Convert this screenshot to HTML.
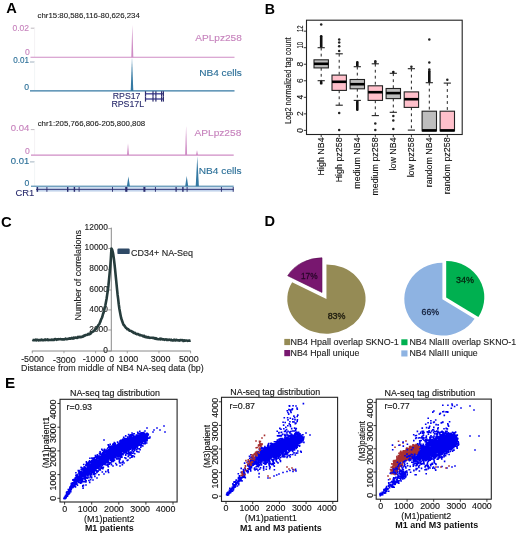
<!DOCTYPE html>
<html><head><meta charset="utf-8"><style>
html,body{margin:0;padding:0;background:#fff;overflow:hidden;}
svg{display:block;font-family:"Liberation Sans",sans-serif;filter:blur(0.35px);}
</style></head><body>
<svg width="520" height="535" viewBox="0 0 520 535">
<rect width="520" height="535" fill="#fff"/>
<text x="6.30" y="12.50" font-size="14.6" fill="#000" font-weight="bold">A</text>
<text x="37.60" y="18.30" font-size="7.9" fill="#222" stroke="#222" stroke-width="0.12" textLength="102.2" lengthAdjust="spacingAndGlyphs">chr15:80,586,116-80,626,234</text>
<text x="29.00" y="31.10" font-size="8.6" fill="#c783bd" stroke="#c783bd" stroke-width="0.12" text-anchor="end" textLength="16.6" lengthAdjust="spacingAndGlyphs">0.02</text>
<line x1="30.80" y1="28.20" x2="34.60" y2="28.20" stroke="#b0a8b0" stroke-width="0.8"/>
<line x1="34.60" y1="27.50" x2="34.60" y2="57.00" stroke="#f0eef0" stroke-width="0.8"/>
<text x="29.80" y="54.80" font-size="8.6" fill="#c783bd" stroke="#c783bd" stroke-width="0.12" text-anchor="end">0</text>
<line x1="30.50" y1="57.30" x2="234.50" y2="57.30" stroke="#cf8cc5" stroke-width="1.1"/>
<text x="29.00" y="63.10" font-size="8.6" fill="#2b6f98" stroke="#2b6f98" stroke-width="0.12" text-anchor="end" textLength="15.8" lengthAdjust="spacingAndGlyphs">0.01</text>
<line x1="30.00" y1="62.00" x2="34.60" y2="62.00" stroke="#8aa0b0" stroke-width="0.8"/>
<line x1="34.60" y1="62.00" x2="34.60" y2="90.00" stroke="#eef2f4" stroke-width="0.8"/>
<text x="29.00" y="89.80" font-size="8.6" fill="#2b6f98" stroke="#2b6f98" stroke-width="0.12" text-anchor="end">0</text>
<line x1="30.00" y1="90.90" x2="234.50" y2="90.90" stroke="#3479a3" stroke-width="1.2"/>
<path d="M131.30 57.30 L132.30 24.40 L133.30 57.30Z" fill="#cf8cc5"/>
<path d="M130.70 90.90 L132.00 57.60 L133.30 90.90Z" fill="#3479a3"/>
<text x="195.30" y="40.60" font-size="9.6" fill="#c783bd" stroke="#c783bd" stroke-width="0.12" textLength="46.5" lengthAdjust="spacingAndGlyphs">APLpz258</text>
<text x="199.20" y="76.20" font-size="9.6" fill="#2b6f98" stroke="#2b6f98" stroke-width="0.12" textLength="42.6" lengthAdjust="spacingAndGlyphs">NB4 cells</text>
<text x="112.80" y="99.10" font-size="8.7" fill="#2b2d6e" stroke="#2b2d6e" stroke-width="0.12" textLength="27.6" lengthAdjust="spacingAndGlyphs">RPS17</text>
<text x="111.40" y="106.60" font-size="8.7" fill="#2b2d6e" stroke="#2b2d6e" stroke-width="0.12" textLength="32.7" lengthAdjust="spacingAndGlyphs">RPS17L</text>
<line x1="145.20" y1="93.80" x2="163.70" y2="93.80" stroke="#4a4a9a" stroke-width="1.4"/>
<rect x="144.90" y="91.20" width="1.20" height="5.20" fill="#2e2e70"/>
<rect x="152.40" y="91.20" width="1.20" height="5.20" fill="#2e2e70"/>
<rect x="155.30" y="91.20" width="1.20" height="5.20" fill="#2e2e70"/>
<rect x="161.00" y="91.20" width="1.20" height="5.20" fill="#2e2e70"/>
<rect x="162.80" y="91.20" width="1.20" height="5.20" fill="#2e2e70"/>
<line x1="145.20" y1="99.00" x2="163.70" y2="99.00" stroke="#4a4a9a" stroke-width="1.4"/>
<rect x="144.90" y="96.40" width="1.20" height="5.20" fill="#2e2e70"/>
<rect x="152.40" y="96.40" width="1.20" height="5.20" fill="#2e2e70"/>
<rect x="155.30" y="96.40" width="1.20" height="5.20" fill="#2e2e70"/>
<rect x="161.00" y="96.40" width="1.20" height="5.20" fill="#2e2e70"/>
<rect x="162.80" y="96.40" width="1.20" height="5.20" fill="#2e2e70"/>
<text x="37.70" y="125.80" font-size="7.9" fill="#222" stroke="#222" stroke-width="0.12" textLength="107.5" lengthAdjust="spacingAndGlyphs">chr1:205,766,806-205,800,808</text>
<text x="29.30" y="130.60" font-size="8.6" fill="#c783bd" stroke="#c783bd" stroke-width="0.12" text-anchor="end" textLength="18.6" lengthAdjust="spacingAndGlyphs">0.04</text>
<line x1="30.80" y1="129.60" x2="34.60" y2="129.60" stroke="#b0a8b0" stroke-width="0.8"/>
<line x1="34.60" y1="129.60" x2="34.60" y2="155.00" stroke="#f0eef0" stroke-width="0.8"/>
<text x="29.90" y="154.20" font-size="8.6" fill="#c783bd" stroke="#c783bd" stroke-width="0.12" text-anchor="end">0</text>
<line x1="31.00" y1="155.10" x2="233.70" y2="155.10" stroke="#cf8cc5" stroke-width="1.1"/>
<text x="29.30" y="163.90" font-size="8.6" fill="#2b6f98" stroke="#2b6f98" stroke-width="0.12" text-anchor="end" textLength="18.5" lengthAdjust="spacingAndGlyphs">0.01</text>
<line x1="30.00" y1="161.90" x2="34.60" y2="161.90" stroke="#8aa0b0" stroke-width="0.8"/>
<line x1="34.60" y1="161.90" x2="34.60" y2="186.00" stroke="#eef2f4" stroke-width="0.8"/>
<text x="29.30" y="185.70" font-size="8.6" fill="#2b6f98" stroke="#2b6f98" stroke-width="0.12" text-anchor="end">0</text>
<line x1="31.00" y1="186.20" x2="233.70" y2="186.20" stroke="#3479a3" stroke-width="1.0"/>
<path d="M127.00 155.10 L128.00 143.20 L129.00 155.10Z" fill="#cf8cc5"/>
<path d="M185.10 155.10 L186.10 125.90 L187.10 155.10Z" fill="#cf8cc5"/>
<path d="M196.00 155.10 L197.00 150.20 L198.00 155.10Z" fill="#cf8cc5"/>
<path d="M126.90 186.20 L128.40 176.40 L129.90 186.20Z" fill="#3479a3"/>
<path d="M185.20 186.20 L186.70 176.00 L188.20 186.20Z" fill="#3479a3"/>
<path d="M195.70 186.20 L197.30 156.50 L198.90 186.20Z" fill="#3479a3"/>
<text x="194.50" y="135.50" font-size="9.6" fill="#c783bd" stroke="#c783bd" stroke-width="0.12" textLength="46.8" lengthAdjust="spacingAndGlyphs">APLpz258</text>
<text x="198.80" y="173.60" font-size="9.6" fill="#2b6f98" stroke="#2b6f98" stroke-width="0.12" textLength="42.8" lengthAdjust="spacingAndGlyphs">NB4 cells</text>
<rect x="36.00" y="187.20" width="197.70" height="4.40" fill="#c3d4ec"/>
<line x1="36.00" y1="189.40" x2="233.70" y2="189.40" stroke="#2b2d6e" stroke-width="0.9"/>
<rect x="36.70" y="187.00" width="1.40" height="4.80" fill="#2b2d6e"/>
<rect x="46.45" y="187.00" width="0.90" height="4.80" fill="#2b2d6e"/>
<rect x="67.00" y="187.00" width="1.40" height="4.80" fill="#2b2d6e"/>
<rect x="73.70" y="187.00" width="1.40" height="4.80" fill="#2b2d6e"/>
<rect x="78.65" y="187.00" width="0.90" height="4.80" fill="#2b2d6e"/>
<rect x="112.05" y="187.00" width="0.90" height="4.80" fill="#2b2d6e"/>
<rect x="125.20" y="187.00" width="2.20" height="4.80" fill="#2b2d6e"/>
<rect x="143.40" y="187.00" width="2.00" height="4.80" fill="#2b2d6e"/>
<rect x="154.95" y="187.00" width="0.90" height="4.80" fill="#2b2d6e"/>
<rect x="175.50" y="187.00" width="1.20" height="4.80" fill="#2b2d6e"/>
<rect x="182.20" y="187.00" width="1.40" height="4.80" fill="#2b2d6e"/>
<rect x="186.65" y="187.00" width="0.90" height="4.80" fill="#2b2d6e"/>
<rect x="220.95" y="187.00" width="0.90" height="4.80" fill="#2b2d6e"/>
<rect x="232.75" y="187.00" width="0.90" height="4.80" fill="#2b2d6e"/>
<text x="15.50" y="195.80" font-size="9.2" fill="#2b2d6e" stroke="#2b2d6e" stroke-width="0.12" textLength="18.8" lengthAdjust="spacingAndGlyphs">CR1</text>
<text x="264.70" y="13.90" font-size="14.2" fill="#000" font-weight="bold">B</text>
<rect x="306.5" y="20.2" width="155.7" height="114.3" fill="none" stroke="#222" stroke-width="1.1"/>
<line x1="321.20" y1="47.70" x2="321.20" y2="59.80" stroke="#222" stroke-width="1.0" stroke-dasharray="2.8,3.2"/>
<line x1="317.60" y1="47.70" x2="324.80" y2="47.70" stroke="#222" stroke-width="1.1"/>
<line x1="321.20" y1="67.90" x2="321.20" y2="80.70" stroke="#222" stroke-width="1.0" stroke-dasharray="2.8,3.2"/>
<line x1="317.60" y1="80.70" x2="324.80" y2="80.70" stroke="#222" stroke-width="1.1"/>
<rect x="314.00" y="59.80" width="14.40" height="8.10" fill="#bebebe" stroke="#222" stroke-width="1.1"/>
<line x1="314.00" y1="63.80" x2="328.40" y2="63.80" stroke="#000" stroke-width="2.6"/>
<rect x="319.90" y="35.00" width="2.6" height="12.50" rx="1.2" fill="#111"/>
<circle cx="321.20" cy="24.60" r="1.25" fill="#222"/>
<rect x="319.90" y="80.70" width="2.6" height="3.90" rx="1.2" fill="#111"/>
<line x1="339.20" y1="53.80" x2="339.20" y2="75.10" stroke="#222" stroke-width="1.0" stroke-dasharray="2.8,3.2"/>
<line x1="335.60" y1="53.80" x2="342.80" y2="53.80" stroke="#222" stroke-width="1.1"/>
<line x1="339.20" y1="90.40" x2="339.20" y2="105.20" stroke="#222" stroke-width="1.0" stroke-dasharray="2.8,3.2"/>
<line x1="335.60" y1="105.20" x2="342.80" y2="105.20" stroke="#222" stroke-width="1.1"/>
<rect x="332.00" y="75.10" width="14.40" height="15.30" fill="#ffc0cb" stroke="#222" stroke-width="1.1"/>
<line x1="332.00" y1="81.80" x2="346.40" y2="81.80" stroke="#000" stroke-width="2.6"/>
<circle cx="339.20" cy="50.90" r="1.25" fill="#222"/>
<circle cx="339.20" cy="46.30" r="1.25" fill="#222"/>
<circle cx="339.20" cy="42.50" r="1.25" fill="#222"/>
<circle cx="339.20" cy="39.40" r="1.25" fill="#222"/>
<circle cx="339.20" cy="113.10" r="1.25" fill="#222"/>
<circle cx="339.20" cy="130.10" r="1.25" fill="#222"/>
<line x1="357.30" y1="66.70" x2="357.30" y2="79.50" stroke="#222" stroke-width="1.0" stroke-dasharray="2.8,3.2"/>
<line x1="353.70" y1="66.70" x2="360.90" y2="66.70" stroke="#222" stroke-width="1.1"/>
<line x1="357.30" y1="88.80" x2="357.30" y2="100.40" stroke="#222" stroke-width="1.0" stroke-dasharray="2.8,3.2"/>
<line x1="353.70" y1="100.40" x2="360.90" y2="100.40" stroke="#222" stroke-width="1.1"/>
<rect x="350.10" y="79.50" width="14.40" height="9.30" fill="#bebebe" stroke="#222" stroke-width="1.1"/>
<line x1="350.10" y1="84.20" x2="364.50" y2="84.20" stroke="#000" stroke-width="2.6"/>
<rect x="356.00" y="61.00" width="2.6" height="5.50" rx="1.2" fill="#111"/>
<rect x="356.00" y="100.40" width="2.6" height="10.60" rx="1.2" fill="#111"/>
<line x1="375.30" y1="63.80" x2="375.30" y2="85.80" stroke="#222" stroke-width="1.0" stroke-dasharray="2.8,3.2"/>
<line x1="371.70" y1="63.80" x2="378.90" y2="63.80" stroke="#222" stroke-width="1.1"/>
<line x1="375.30" y1="100.40" x2="375.30" y2="115.60" stroke="#222" stroke-width="1.0" stroke-dasharray="2.8,3.2"/>
<line x1="371.70" y1="115.60" x2="378.90" y2="115.60" stroke="#222" stroke-width="1.1"/>
<rect x="368.10" y="85.80" width="14.40" height="14.60" fill="#ffc0cb" stroke="#222" stroke-width="1.1"/>
<line x1="368.10" y1="92.20" x2="382.50" y2="92.20" stroke="#000" stroke-width="2.6"/>
<circle cx="375.30" cy="61.30" r="1.25" fill="#222"/>
<circle cx="375.30" cy="62.80" r="1.25" fill="#222"/>
<circle cx="375.30" cy="123.50" r="1.25" fill="#222"/>
<circle cx="375.30" cy="130.10" r="1.25" fill="#222"/>
<line x1="393.30" y1="73.30" x2="393.30" y2="88.50" stroke="#222" stroke-width="1.0" stroke-dasharray="2.8,3.2"/>
<line x1="389.70" y1="73.30" x2="396.90" y2="73.30" stroke="#222" stroke-width="1.1"/>
<line x1="393.30" y1="98.60" x2="393.30" y2="112.30" stroke="#222" stroke-width="1.0" stroke-dasharray="2.8,3.2"/>
<line x1="389.70" y1="112.30" x2="396.90" y2="112.30" stroke="#222" stroke-width="1.1"/>
<rect x="386.10" y="88.50" width="14.40" height="10.10" fill="#bebebe" stroke="#222" stroke-width="1.1"/>
<line x1="386.10" y1="93.10" x2="400.50" y2="93.10" stroke="#000" stroke-width="2.6"/>
<rect x="392.00" y="70.80" width="2.6" height="2.40" rx="1.2" fill="#111"/>
<circle cx="393.30" cy="115.90" r="1.25" fill="#222"/>
<circle cx="393.30" cy="120.40" r="1.25" fill="#222"/>
<circle cx="393.30" cy="128.90" r="1.25" fill="#222"/>
<line x1="411.40" y1="68.70" x2="411.40" y2="91.90" stroke="#222" stroke-width="1.0" stroke-dasharray="2.8,3.2"/>
<line x1="407.80" y1="68.70" x2="415.00" y2="68.70" stroke="#222" stroke-width="1.1"/>
<line x1="411.40" y1="107.40" x2="411.40" y2="130.10" stroke="#222" stroke-width="1.0" stroke-dasharray="2.8,3.2"/>
<line x1="407.80" y1="130.10" x2="415.00" y2="130.10" stroke="#222" stroke-width="1.1"/>
<rect x="404.20" y="91.90" width="14.40" height="15.50" fill="#ffc0cb" stroke="#222" stroke-width="1.1"/>
<line x1="404.20" y1="99.20" x2="418.60" y2="99.20" stroke="#000" stroke-width="2.6"/>
<circle cx="411.40" cy="66.70" r="1.25" fill="#222"/>
<line x1="429.30" y1="82.70" x2="429.30" y2="111.20" stroke="#222" stroke-width="1.0" stroke-dasharray="2.8,3.2"/>
<line x1="425.70" y1="82.70" x2="432.90" y2="82.70" stroke="#222" stroke-width="1.1"/>
<rect x="422.10" y="111.20" width="14.40" height="19.70" fill="#bebebe" stroke="#222" stroke-width="1.1"/>
<line x1="422.10" y1="130.40" x2="436.50" y2="130.40" stroke="#000" stroke-width="2.6"/>
<rect x="428.00" y="70.00" width="2.6" height="12.60" rx="1.2" fill="#111"/>
<circle cx="429.30" cy="69.40" r="1.25" fill="#222"/>
<circle cx="429.30" cy="62.50" r="1.25" fill="#222"/>
<circle cx="429.30" cy="39.40" r="1.25" fill="#222"/>
<line x1="447.30" y1="83.10" x2="447.30" y2="111.20" stroke="#222" stroke-width="1.0" stroke-dasharray="2.8,3.2"/>
<line x1="443.70" y1="83.10" x2="450.90" y2="83.10" stroke="#222" stroke-width="1.1"/>
<rect x="440.10" y="111.20" width="14.40" height="19.70" fill="#ffc0cb" stroke="#222" stroke-width="1.1"/>
<line x1="440.10" y1="130.40" x2="454.50" y2="130.40" stroke="#000" stroke-width="2.6"/>
<circle cx="447.30" cy="79.80" r="1.25" fill="#222"/>
<line x1="303.80" y1="130.40" x2="306.50" y2="130.40" stroke="#222" stroke-width="0.9"/>
<text transform="translate(302.60,130.30) rotate(-90)" x="0" y="0" font-size="8.4" fill="#111" stroke="#111" stroke-width="0.12" text-anchor="middle">0</text>
<line x1="303.80" y1="113.86" x2="306.50" y2="113.86" stroke="#222" stroke-width="0.9"/>
<text transform="translate(302.60,113.76) rotate(-90)" x="0" y="0" font-size="8.4" fill="#111" stroke="#111" stroke-width="0.12" text-anchor="middle">2</text>
<line x1="303.80" y1="97.32" x2="306.50" y2="97.32" stroke="#222" stroke-width="0.9"/>
<text transform="translate(302.60,97.22) rotate(-90)" x="0" y="0" font-size="8.4" fill="#111" stroke="#111" stroke-width="0.12" text-anchor="middle">4</text>
<line x1="303.80" y1="80.78" x2="306.50" y2="80.78" stroke="#222" stroke-width="0.9"/>
<text transform="translate(302.60,80.68) rotate(-90)" x="0" y="0" font-size="8.4" fill="#111" stroke="#111" stroke-width="0.12" text-anchor="middle">6</text>
<line x1="303.80" y1="64.24" x2="306.50" y2="64.24" stroke="#222" stroke-width="0.9"/>
<text transform="translate(302.60,64.14) rotate(-90)" x="0" y="0" font-size="8.4" fill="#111" stroke="#111" stroke-width="0.12" text-anchor="middle">8</text>
<line x1="303.80" y1="47.70" x2="306.50" y2="47.70" stroke="#222" stroke-width="0.9"/>
<text transform="translate(302.60,45.30) rotate(-90)" x="0" y="0" font-size="8.4" fill="#111" stroke="#111" stroke-width="0.12" text-anchor="middle" textLength="6.5" lengthAdjust="spacingAndGlyphs">10</text>
<line x1="303.80" y1="31.16" x2="306.50" y2="31.16" stroke="#222" stroke-width="0.9"/>
<text transform="translate(302.60,28.76) rotate(-90)" x="0" y="0" font-size="8.4" fill="#111" stroke="#111" stroke-width="0.12" text-anchor="middle" textLength="6.5" lengthAdjust="spacingAndGlyphs">12</text>
<text transform="translate(291.00,80.60) rotate(-90)" x="0" y="0" font-size="8.6" fill="#111" stroke="#111" stroke-width="0.12" text-anchor="middle" textLength="86.4" lengthAdjust="spacingAndGlyphs">Log2 normalized tag count</text>
<line x1="321.20" y1="134.50" x2="321.20" y2="137.20" stroke="#222" stroke-width="0.9"/>
<text transform="translate(323.80,137.40) rotate(-90)" x="0" y="0" font-size="8.9" fill="#111" stroke="#111" stroke-width="0.12" text-anchor="end">High NB4</text>
<line x1="339.20" y1="134.50" x2="339.20" y2="137.20" stroke="#222" stroke-width="0.9"/>
<text transform="translate(341.80,137.40) rotate(-90)" x="0" y="0" font-size="8.9" fill="#111" stroke="#111" stroke-width="0.12" text-anchor="end">High pz258</text>
<line x1="357.30" y1="134.50" x2="357.30" y2="137.20" stroke="#222" stroke-width="0.9"/>
<text transform="translate(359.90,137.40) rotate(-90)" x="0" y="0" font-size="8.9" fill="#111" stroke="#111" stroke-width="0.12" text-anchor="end">medium NB4</text>
<line x1="375.30" y1="134.50" x2="375.30" y2="137.20" stroke="#222" stroke-width="0.9"/>
<text transform="translate(377.90,137.40) rotate(-90)" x="0" y="0" font-size="8.9" fill="#111" stroke="#111" stroke-width="0.12" text-anchor="end">medium pz258</text>
<line x1="393.30" y1="134.50" x2="393.30" y2="137.20" stroke="#222" stroke-width="0.9"/>
<text transform="translate(395.90,137.40) rotate(-90)" x="0" y="0" font-size="8.9" fill="#111" stroke="#111" stroke-width="0.12" text-anchor="end">low NB4</text>
<line x1="411.40" y1="134.50" x2="411.40" y2="137.20" stroke="#222" stroke-width="0.9"/>
<text transform="translate(414.00,137.40) rotate(-90)" x="0" y="0" font-size="8.9" fill="#111" stroke="#111" stroke-width="0.12" text-anchor="end">low pz258</text>
<line x1="429.30" y1="134.50" x2="429.30" y2="137.20" stroke="#222" stroke-width="0.9"/>
<text transform="translate(431.90,137.40) rotate(-90)" x="0" y="0" font-size="8.9" fill="#111" stroke="#111" stroke-width="0.12" text-anchor="end">random NB4</text>
<line x1="447.30" y1="134.50" x2="447.30" y2="137.20" stroke="#222" stroke-width="0.9"/>
<text transform="translate(449.90,137.40) rotate(-90)" x="0" y="0" font-size="8.9" fill="#111" stroke="#111" stroke-width="0.12" text-anchor="end">random pz258</text>
<text x="1.00" y="226.50" font-size="14.8" fill="#000" font-weight="bold">C</text>
<line x1="111.30" y1="227.60" x2="111.30" y2="351.20" stroke="#8a8a8a" stroke-width="1.0"/>
<line x1="31.80" y1="351.00" x2="190.80" y2="351.00" stroke="#8a8a8a" stroke-width="1.0"/>
<text x="107.90" y="230.30" font-size="8.4" fill="#222" stroke="#222" stroke-width="0.12" text-anchor="end">12000</text>
<line x1="108.30" y1="228.60" x2="111.30" y2="228.60" stroke="#8a8a8a" stroke-width="0.8"/>
<text x="107.90" y="250.20" font-size="8.4" fill="#222" stroke="#222" stroke-width="0.12" text-anchor="end">10000</text>
<line x1="108.30" y1="248.50" x2="111.30" y2="248.50" stroke="#8a8a8a" stroke-width="0.8"/>
<text x="107.90" y="271.20" font-size="8.4" fill="#222" stroke="#222" stroke-width="0.12" text-anchor="end">8000</text>
<line x1="108.30" y1="269.50" x2="111.30" y2="269.50" stroke="#8a8a8a" stroke-width="0.8"/>
<text x="107.90" y="291.70" font-size="8.4" fill="#222" stroke="#222" stroke-width="0.12" text-anchor="end">6000</text>
<line x1="108.30" y1="290.00" x2="111.30" y2="290.00" stroke="#8a8a8a" stroke-width="0.8"/>
<text x="107.90" y="311.60" font-size="8.4" fill="#222" stroke="#222" stroke-width="0.12" text-anchor="end">4000</text>
<line x1="108.30" y1="309.90" x2="111.30" y2="309.90" stroke="#8a8a8a" stroke-width="0.8"/>
<text x="107.90" y="331.70" font-size="8.4" fill="#222" stroke="#222" stroke-width="0.12" text-anchor="end">2000</text>
<line x1="108.30" y1="330.00" x2="111.30" y2="330.00" stroke="#8a8a8a" stroke-width="0.8"/>
<text x="107.90" y="352.80" font-size="8.4" fill="#222" stroke="#222" stroke-width="0.12" text-anchor="end">0</text>
<line x1="108.30" y1="351.10" x2="111.30" y2="351.10" stroke="#8a8a8a" stroke-width="0.8"/>
<line x1="32.30" y1="351.00" x2="32.30" y2="353.30" stroke="#8a8a8a" stroke-width="0.8"/>
<line x1="63.96" y1="351.00" x2="63.96" y2="353.30" stroke="#8a8a8a" stroke-width="0.8"/>
<line x1="95.62" y1="351.00" x2="95.62" y2="353.30" stroke="#8a8a8a" stroke-width="0.8"/>
<line x1="127.28" y1="351.00" x2="127.28" y2="353.30" stroke="#8a8a8a" stroke-width="0.8"/>
<line x1="158.94" y1="351.00" x2="158.94" y2="353.30" stroke="#8a8a8a" stroke-width="0.8"/>
<line x1="190.60" y1="351.00" x2="190.60" y2="353.30" stroke="#8a8a8a" stroke-width="0.8"/>
<text x="32.50" y="362.20" font-size="8.9" fill="#222" stroke="#222" stroke-width="0.12" text-anchor="middle">-5000</text>
<text x="64.30" y="363.30" font-size="8.9" fill="#222" stroke="#222" stroke-width="0.12" text-anchor="middle">-3000</text>
<text x="94.00" y="362.20" font-size="8.9" fill="#222" stroke="#222" stroke-width="0.12" text-anchor="middle">-1000</text>
<text x="111.80" y="362.20" font-size="8.9" fill="#222" stroke="#222" stroke-width="0.12" text-anchor="middle">0</text>
<text x="128.40" y="362.20" font-size="8.9" fill="#222" stroke="#222" stroke-width="0.12" text-anchor="middle">1000</text>
<text x="160.60" y="362.20" font-size="8.9" fill="#222" stroke="#222" stroke-width="0.12" text-anchor="middle">3000</text>
<text x="188.80" y="362.40" font-size="8.9" fill="#222" stroke="#222" stroke-width="0.12" text-anchor="middle">5000</text>
<text x="21.00" y="370.90" font-size="8.8" fill="#222" stroke="#222" stroke-width="0.12" textLength="182.7" lengthAdjust="spacingAndGlyphs">Distance from middle of NB4 NA-seq data (bp)</text>
<text transform="translate(80.60,275.30) rotate(-90)" x="0" y="0" font-size="9.0" fill="#222" stroke="#222" stroke-width="0.12" text-anchor="middle" textLength="90.4" lengthAdjust="spacingAndGlyphs">Number of correlations</text>
<polyline points="32.30,339.90 32.91,340.16 33.52,340.00 34.13,340.20 34.74,340.21 35.34,339.69 35.95,339.63 36.56,340.36 37.17,339.83 37.78,339.80 38.39,340.47 39.00,339.98 39.61,340.30 40.22,339.96 40.82,340.09 41.43,339.64 42.04,340.06 42.65,340.26 43.26,339.93 43.87,340.11 44.48,340.03 45.09,339.47 45.69,340.08 46.30,339.91 46.91,339.63 47.52,339.37 48.13,340.10 48.74,339.73 49.35,339.93 49.96,340.05 50.57,339.88 51.17,340.05 51.78,339.55 52.39,339.89 53.00,339.55 53.61,339.97 54.22,339.89 54.83,339.16 55.44,339.17 56.05,339.21 56.65,339.86 57.26,339.35 57.87,339.49 58.48,339.17 59.09,339.32 59.70,339.18 60.31,339.11 60.92,339.29 61.52,339.25 62.13,339.50 62.74,339.26 63.35,339.44 63.96,339.33 64.57,339.41 65.18,339.08 65.79,338.57 66.40,339.15 67.00,339.19 67.61,339.09 68.22,338.73 68.83,338.80 69.44,338.29 70.05,338.79 70.66,338.49 71.27,338.16 71.88,337.89 72.48,338.53 73.09,338.58 73.70,337.69 74.31,338.25 74.92,337.81 75.53,337.49 76.14,337.52 76.75,337.85 77.35,337.84 77.96,336.98 78.57,337.38 79.18,336.75 79.79,337.23 80.40,336.75 81.01,337.11 81.62,337.05 82.23,336.47 82.83,336.75 83.44,335.96 84.05,335.57 84.66,335.85 85.27,335.14 85.88,335.07 86.49,335.03 87.10,334.97 87.70,334.31 88.31,333.93 88.92,334.38 89.53,333.57 90.14,333.82 90.75,333.41 91.36,332.56 91.97,332.22 92.58,331.83 93.18,331.47 93.79,330.92 94.40,330.33 95.01,329.79 95.62,329.43 96.23,328.34 96.84,327.51 97.45,326.94 98.06,325.60 98.66,324.67 99.27,324.21 99.88,322.62 100.49,321.35 101.10,319.46 101.71,318.27 102.32,316.71 102.93,314.33 103.53,312.80 104.14,310.54 104.75,307.51 105.36,305.23 105.97,301.98 106.58,298.73 107.19,294.58 107.80,290.59 108.41,285.75 109.01,279.61 109.62,273.38 110.23,266.77 110.84,258.78 111.45,248.59 112.06,249.45 112.67,251.58 113.28,254.56 113.89,258.88 114.49,263.95 115.10,269.72 115.71,275.99 116.32,281.91 116.93,288.06 117.54,294.21 118.15,298.91 118.76,304.26 119.37,308.70 119.97,312.04 120.58,315.13 121.19,318.31 121.80,319.99 122.41,321.75 123.02,323.44 123.63,324.88 124.24,325.33 124.84,326.35 125.45,327.06 126.06,328.11 126.67,328.29 127.28,329.14 127.89,328.97 128.50,329.53 129.11,330.21 129.72,330.79 130.32,330.76 130.93,330.91 131.54,331.15 132.15,331.84 132.76,331.84 133.37,332.70 133.98,333.02 134.59,332.71 135.19,333.07 135.80,333.80 136.41,333.91 137.02,334.30 137.63,334.12 138.24,334.16 138.85,334.52 139.46,335.18 140.07,334.92 140.67,335.18 141.28,335.44 141.89,335.62 142.50,335.79 143.11,336.42 143.72,335.90 144.33,335.92 144.94,336.92 145.55,337.01 146.15,337.24 146.76,336.88 147.37,337.48 147.98,337.59 148.59,337.08 149.20,337.67 149.81,337.87 150.42,337.82 151.03,337.80 151.63,337.70 152.24,337.84 152.85,337.84 153.46,337.79 154.07,338.35 154.68,338.17 155.29,338.72 155.90,338.12 156.50,338.97 157.11,338.86 157.72,339.14 158.33,339.19 158.94,339.26 159.55,339.04 160.16,338.60 160.77,339.32 161.38,338.87 161.98,339.05 162.59,339.43 163.20,339.36 163.81,339.32 164.42,339.85 165.03,339.60 165.64,339.41 166.25,339.38 166.86,339.98 167.46,339.68 168.07,340.00 168.68,339.66 169.29,339.56 169.90,339.91 170.51,340.20 171.12,339.66 171.73,340.26 172.33,340.41 172.94,340.34 173.55,340.39 174.16,339.70 174.77,340.29 175.38,340.53 175.99,339.83 176.60,340.06 177.21,340.09 177.81,340.35 178.42,340.29 179.03,340.36 179.64,340.66 180.25,339.99 180.86,340.07 181.47,340.16 182.08,340.18 182.69,340.16 183.29,341.00 183.90,340.91 184.51,340.24 185.12,340.64 185.73,340.50 186.34,340.52 186.95,340.57 187.56,340.86 188.16,340.82 188.77,340.64 189.38,340.51 189.99,340.65 190.60,340.48" fill="none" stroke="#263c3c" stroke-width="2.6" stroke-linejoin="round"/>
<rect x="117.40" y="248.50" width="12.30" height="5.60" fill="#2f4a66" rx="1.2"/>
<text x="131.10" y="255.70" font-size="9.0" fill="#222" stroke="#222" stroke-width="0.12" textLength="61.9" lengthAdjust="spacingAndGlyphs">CD34+ NA-Seq</text>
<text x="264.50" y="226.20" font-size="14.6" fill="#000" font-weight="bold">D</text>
<path d="M326.45 299.05 L326.45 264.40 A39.15 34.65 0 1 1 292.14 282.36 Z" fill="#958b55"/>
<path d="M322.00 292.45 L287.69 275.76 A39.15 34.65 0 0 1 322.00 257.80 Z" fill="#78176f" stroke="#5a0f54" stroke-width="0.6"/>
<path d="M442.40 299.20 L474.57 318.70 A38.10 36.40 0 1 1 442.40 262.80 Z" fill="#8eb3e2"/>
<path d="M446.20 297.40 L446.20 261.00 A38.10 36.40 0 0 1 478.37 316.90 Z" fill="#00b050"/>
<text x="309.30" y="278.60" font-size="9.4" fill="#2a062a" stroke="#2a062a" stroke-width="0.3" text-anchor="middle" textLength="16.6" lengthAdjust="spacingAndGlyphs">17%</text>
<text x="336.60" y="318.70" font-size="9.4" fill="#1a180c" stroke="#1a180c" stroke-width="0.3" text-anchor="middle" textLength="17.9" lengthAdjust="spacingAndGlyphs">83%</text>
<text x="465.10" y="283.10" font-size="9.4" fill="#062610" stroke="#062610" stroke-width="0.3" text-anchor="middle" textLength="18.0" lengthAdjust="spacingAndGlyphs">34%</text>
<text x="430.30" y="314.80" font-size="9.4" fill="#14203c" stroke="#14203c" stroke-width="0.3" text-anchor="middle" textLength="17.5" lengthAdjust="spacingAndGlyphs">66%</text>
<rect x="284.30" y="338.90" width="5.90" height="6.20" fill="#958b55"/>
<rect x="284.30" y="350.00" width="5.90" height="6.20" fill="#78176f"/>
<rect x="401.30" y="339.30" width="6.20" height="5.90" fill="#00b050"/>
<rect x="401.30" y="350.40" width="6.20" height="6.10" fill="#8eb3e2"/>
<text x="290.60" y="345.30" font-size="9.0" fill="#222" stroke="#222" stroke-width="0.12" textLength="108.2" lengthAdjust="spacingAndGlyphs">NB4 Hpall overlap SKNO-1</text>
<text x="290.60" y="356.40" font-size="9.0" fill="#222" stroke="#222" stroke-width="0.12" textLength="68.7" lengthAdjust="spacingAndGlyphs">NB4 Hpall unique</text>
<text x="409.40" y="345.30" font-size="9.0" fill="#222" stroke="#222" stroke-width="0.12" textLength="106.8" lengthAdjust="spacingAndGlyphs">NB4 NlaIII overlap SKNO-1</text>
<text x="409.40" y="356.40" font-size="9.0" fill="#222" stroke="#222" stroke-width="0.12" textLength="68.3" lengthAdjust="spacingAndGlyphs">NB4 NlaIII unique</text>
<text x="5.00" y="387.90" font-size="15.2" fill="#000" font-weight="bold">E</text>
<rect x="60.00" y="399.30" width="117.10" height="102.70" fill="none" stroke="#222" stroke-width="1.1"/>
<line x1="64.60" y1="502.00" x2="64.60" y2="504.60" stroke="#222" stroke-width="0.9"/>
<text x="64.60" y="512.20" font-size="8.9" fill="#111" stroke="#111" stroke-width="0.12" text-anchor="middle">0</text>
<line x1="91.70" y1="502.00" x2="91.70" y2="504.60" stroke="#222" stroke-width="0.9"/>
<text x="87.70" y="512.20" font-size="8.9" fill="#111" stroke="#111" stroke-width="0.12" text-anchor="middle">1000</text>
<line x1="118.80" y1="502.00" x2="118.80" y2="504.60" stroke="#222" stroke-width="0.9"/>
<text x="113.90" y="512.20" font-size="8.9" fill="#111" stroke="#111" stroke-width="0.12" text-anchor="middle">2000</text>
<line x1="145.90" y1="502.00" x2="145.90" y2="504.60" stroke="#222" stroke-width="0.9"/>
<text x="140.20" y="512.20" font-size="8.9" fill="#111" stroke="#111" stroke-width="0.12" text-anchor="middle">3000</text>
<line x1="173.00" y1="502.00" x2="173.00" y2="504.60" stroke="#222" stroke-width="0.9"/>
<text x="165.60" y="512.20" font-size="8.9" fill="#111" stroke="#111" stroke-width="0.12" text-anchor="middle">4000</text>
<line x1="57.40" y1="498.30" x2="60.00" y2="498.30" stroke="#222" stroke-width="0.9"/>
<text transform="translate(56.40,495.90) rotate(-90)" x="0" y="0" font-size="8.9" fill="#111" stroke="#111" stroke-width="0.12" text-anchor="end">0</text>
<line x1="57.40" y1="474.60" x2="60.00" y2="474.60" stroke="#222" stroke-width="0.9"/>
<text transform="translate(56.40,470.70) rotate(-90)" x="0" y="0" font-size="8.9" fill="#111" stroke="#111" stroke-width="0.12" text-anchor="end">1000</text>
<line x1="57.40" y1="450.90" x2="60.00" y2="450.90" stroke="#222" stroke-width="0.9"/>
<text transform="translate(56.40,447.00) rotate(-90)" x="0" y="0" font-size="8.9" fill="#111" stroke="#111" stroke-width="0.12" text-anchor="end">2000</text>
<line x1="57.40" y1="427.20" x2="60.00" y2="427.20" stroke="#222" stroke-width="0.9"/>
<text transform="translate(56.40,423.30) rotate(-90)" x="0" y="0" font-size="8.9" fill="#111" stroke="#111" stroke-width="0.12" text-anchor="end">3000</text>
<line x1="57.40" y1="403.50" x2="60.00" y2="403.50" stroke="#222" stroke-width="0.9"/>
<text transform="translate(56.40,399.60) rotate(-90)" x="0" y="0" font-size="8.9" fill="#111" stroke="#111" stroke-width="0.12" text-anchor="end">4000</text>
<text x="70.00" y="396.40" font-size="8.9" fill="#111" stroke="#111" stroke-width="0.12" textLength="89.9" lengthAdjust="spacingAndGlyphs">NA-seq tag distribution</text>
<text x="66.60" y="409.70" font-size="8.9" fill="#111" stroke="#111" stroke-width="0.12">r=0.93</text>
<text x="84.00" y="522.00" font-size="9.0" fill="#111" stroke="#111" stroke-width="0.12" textLength="50.5" lengthAdjust="spacingAndGlyphs">(M1)patient2</text>
<text x="84.90" y="531.30" font-size="8.9" fill="#111" font-weight="bold" textLength="48.8" lengthAdjust="spacingAndGlyphs">M1 patients</text>
<text transform="translate(49.00,442.50) rotate(-90)" x="0" y="0" font-size="9.0" fill="#111" stroke="#111" stroke-width="0.12" text-anchor="middle" textLength="51.6" lengthAdjust="spacingAndGlyphs">(M1)patient1</text>
<path d="M110.6 456.9h1.6v1.6h-1.6zM111.3 454.3h1.6v1.6h-1.6zM121.3 449.8h1.6v1.6h-1.6zM85.1 470.7h1.6v1.6h-1.6zM144.2 433.5h1.6v1.6h-1.6zM77.7 476.5h1.6v1.6h-1.6zM92.0 470.2h1.6v1.6h-1.6zM109.0 447.4h1.6v1.6h-1.6zM108.9 450.2h1.6v1.6h-1.6zM146.0 436.3h1.6v1.6h-1.6zM98.2 460.0h1.6v1.6h-1.6zM125.1 447.2h1.6v1.6h-1.6zM142.4 439.0h1.6v1.6h-1.6zM140.9 441.0h1.6v1.6h-1.6zM76.1 480.2h1.6v1.6h-1.6zM84.0 478.2h1.6v1.6h-1.6zM81.1 475.7h1.6v1.6h-1.6zM129.5 438.2h1.6v1.6h-1.6zM96.8 465.7h1.6v1.6h-1.6zM82.9 473.7h1.6v1.6h-1.6zM146.3 432.4h1.6v1.6h-1.6zM91.8 469.3h1.6v1.6h-1.6zM88.1 469.2h1.6v1.6h-1.6zM124.3 444.7h1.6v1.6h-1.6zM84.6 471.8h1.6v1.6h-1.6zM101.9 462.7h1.6v1.6h-1.6zM121.0 447.8h1.6v1.6h-1.6zM141.9 436.9h1.6v1.6h-1.6zM133.1 444.2h1.6v1.6h-1.6zM134.0 438.9h1.6v1.6h-1.6zM74.0 482.3h1.6v1.6h-1.6zM92.7 461.5h1.6v1.6h-1.6zM95.4 465.4h1.6v1.6h-1.6zM118.4 445.6h1.6v1.6h-1.6zM139.5 441.1h1.6v1.6h-1.6zM106.3 456.9h1.6v1.6h-1.6zM113.1 445.3h1.6v1.6h-1.6zM143.2 434.8h1.6v1.6h-1.6zM82.4 480.9h1.6v1.6h-1.6zM132.5 447.2h1.6v1.6h-1.6zM110.9 445.6h1.6v1.6h-1.6zM74.3 481.3h1.6v1.6h-1.6zM126.7 446.6h1.6v1.6h-1.6zM104.1 463.6h1.6v1.6h-1.6zM112.0 455.5h1.6v1.6h-1.6zM113.4 445.8h1.6v1.6h-1.6zM88.1 476.9h1.6v1.6h-1.6zM123.3 445.1h1.6v1.6h-1.6zM115.1 456.4h1.6v1.6h-1.6zM70.6 485.7h1.6v1.6h-1.6zM121.4 439.2h1.6v1.6h-1.6zM87.4 467.0h1.6v1.6h-1.6zM90.8 471.7h1.6v1.6h-1.6zM112.1 448.8h1.6v1.6h-1.6zM91.2 469.3h1.6v1.6h-1.6zM131.4 438.6h1.6v1.6h-1.6zM83.4 476.6h1.6v1.6h-1.6zM130.1 441.8h1.6v1.6h-1.6zM108.0 455.1h1.6v1.6h-1.6zM117.2 445.6h1.6v1.6h-1.6zM144.4 436.0h1.6v1.6h-1.6zM128.8 441.4h1.6v1.6h-1.6zM103.7 458.9h1.6v1.6h-1.6zM104.5 457.5h1.6v1.6h-1.6zM76.8 475.9h1.6v1.6h-1.6zM118.1 452.4h1.6v1.6h-1.6zM122.0 443.6h1.6v1.6h-1.6zM65.4 494.9h1.6v1.6h-1.6zM88.6 466.3h1.6v1.6h-1.6zM117.6 442.6h1.6v1.6h-1.6zM139.4 443.9h1.6v1.6h-1.6zM78.1 471.2h1.6v1.6h-1.6zM102.4 463.2h1.6v1.6h-1.6zM138.4 437.1h1.6v1.6h-1.6zM125.7 440.1h1.6v1.6h-1.6zM93.2 462.6h1.6v1.6h-1.6zM103.1 455.1h1.6v1.6h-1.6zM79.6 473.2h1.6v1.6h-1.6zM103.6 454.3h1.6v1.6h-1.6zM130.1 440.8h1.6v1.6h-1.6zM81.0 480.1h1.6v1.6h-1.6zM135.8 439.1h1.6v1.6h-1.6zM137.2 437.7h1.6v1.6h-1.6zM103.9 461.8h1.6v1.6h-1.6zM132.4 437.5h1.6v1.6h-1.6zM138.3 442.3h1.6v1.6h-1.6zM146.3 439.7h1.6v1.6h-1.6zM116.5 448.0h1.6v1.6h-1.6zM142.8 435.9h1.6v1.6h-1.6zM119.0 452.6h1.6v1.6h-1.6zM117.8 447.1h1.6v1.6h-1.6zM90.7 463.5h1.6v1.6h-1.6zM136.8 442.4h1.6v1.6h-1.6zM93.4 464.6h1.6v1.6h-1.6zM121.2 445.7h1.6v1.6h-1.6zM124.5 448.0h1.6v1.6h-1.6zM87.7 473.4h1.6v1.6h-1.6zM90.0 470.6h1.6v1.6h-1.6zM98.6 459.1h1.6v1.6h-1.6zM92.0 464.7h1.6v1.6h-1.6zM133.5 437.0h1.6v1.6h-1.6zM128.1 440.7h1.6v1.6h-1.6zM103.1 454.7h1.6v1.6h-1.6zM132.8 441.5h1.6v1.6h-1.6zM88.5 470.4h1.6v1.6h-1.6zM130.0 437.1h1.6v1.6h-1.6zM63.1 497.7h1.6v1.6h-1.6zM140.0 432.3h1.6v1.6h-1.6zM110.9 453.1h1.6v1.6h-1.6zM76.3 475.0h1.6v1.6h-1.6zM115.4 451.1h1.6v1.6h-1.6zM137.5 440.6h1.6v1.6h-1.6zM75.1 474.6h1.6v1.6h-1.6zM97.7 456.0h1.6v1.6h-1.6zM110.6 450.1h1.6v1.6h-1.6zM90.4 466.3h1.6v1.6h-1.6zM88.3 467.5h1.6v1.6h-1.6zM133.3 438.7h1.6v1.6h-1.6zM114.0 446.5h1.6v1.6h-1.6zM147.2 433.3h1.6v1.6h-1.6zM128.1 445.0h1.6v1.6h-1.6zM139.4 436.1h1.6v1.6h-1.6zM124.4 444.8h1.6v1.6h-1.6zM101.9 461.9h1.6v1.6h-1.6zM129.4 443.8h1.6v1.6h-1.6zM122.0 443.2h1.6v1.6h-1.6zM119.0 454.2h1.6v1.6h-1.6zM128.4 444.0h1.6v1.6h-1.6zM119.9 447.2h1.6v1.6h-1.6zM74.0 481.5h1.6v1.6h-1.6zM92.5 459.5h1.6v1.6h-1.6zM146.3 438.2h1.6v1.6h-1.6zM127.7 437.4h1.6v1.6h-1.6zM79.6 477.8h1.6v1.6h-1.6zM90.9 464.9h1.6v1.6h-1.6zM137.1 434.3h1.6v1.6h-1.6zM96.1 458.6h1.6v1.6h-1.6zM102.0 457.5h1.6v1.6h-1.6zM90.7 470.4h1.6v1.6h-1.6zM112.0 451.9h1.6v1.6h-1.6zM148.9 437.2h1.6v1.6h-1.6zM109.7 456.3h1.6v1.6h-1.6zM119.4 446.9h1.6v1.6h-1.6zM144.8 434.1h1.6v1.6h-1.6zM117.3 449.3h1.6v1.6h-1.6zM112.1 445.8h1.6v1.6h-1.6zM104.5 452.2h1.6v1.6h-1.6zM125.8 444.2h1.6v1.6h-1.6zM84.8 468.0h1.6v1.6h-1.6zM95.1 456.4h1.6v1.6h-1.6zM116.0 444.4h1.6v1.6h-1.6zM95.9 458.9h1.6v1.6h-1.6zM67.8 489.9h1.6v1.6h-1.6zM115.6 454.4h1.6v1.6h-1.6zM83.1 472.4h1.6v1.6h-1.6zM99.3 457.6h1.6v1.6h-1.6zM130.7 445.8h1.6v1.6h-1.6zM135.0 441.1h1.6v1.6h-1.6zM105.6 452.5h1.6v1.6h-1.6zM128.0 439.4h1.6v1.6h-1.6zM130.7 446.9h1.6v1.6h-1.6zM87.3 471.0h1.6v1.6h-1.6zM117.2 449.8h1.6v1.6h-1.6zM120.8 443.5h1.6v1.6h-1.6zM83.4 477.9h1.6v1.6h-1.6zM93.4 457.0h1.6v1.6h-1.6zM99.4 465.0h1.6v1.6h-1.6zM141.0 433.0h1.6v1.6h-1.6zM131.1 439.5h1.6v1.6h-1.6zM142.9 439.5h1.6v1.6h-1.6zM100.4 463.0h1.6v1.6h-1.6zM93.9 466.4h1.6v1.6h-1.6zM133.1 436.1h1.6v1.6h-1.6zM135.5 446.2h1.6v1.6h-1.6zM119.3 448.5h1.6v1.6h-1.6zM128.6 441.6h1.6v1.6h-1.6zM77.9 475.7h1.6v1.6h-1.6zM80.3 466.5h1.6v1.6h-1.6zM126.0 450.0h1.6v1.6h-1.6zM121.9 453.8h1.6v1.6h-1.6zM144.5 436.8h1.6v1.6h-1.6zM128.5 443.3h1.6v1.6h-1.6zM135.1 438.0h1.6v1.6h-1.6zM135.6 434.2h1.6v1.6h-1.6zM118.5 446.6h1.6v1.6h-1.6zM103.6 452.3h1.6v1.6h-1.6zM99.0 461.1h1.6v1.6h-1.6zM105.9 458.6h1.6v1.6h-1.6zM83.8 472.7h1.6v1.6h-1.6zM72.1 479.1h1.6v1.6h-1.6zM69.3 489.5h1.6v1.6h-1.6zM92.0 462.5h1.6v1.6h-1.6zM92.6 468.2h1.6v1.6h-1.6zM100.7 460.7h1.6v1.6h-1.6zM96.6 465.0h1.6v1.6h-1.6zM119.6 444.5h1.6v1.6h-1.6zM77.9 478.7h1.6v1.6h-1.6zM119.1 445.8h1.6v1.6h-1.6zM125.4 449.5h1.6v1.6h-1.6zM100.8 457.1h1.6v1.6h-1.6zM79.5 474.8h1.6v1.6h-1.6zM128.6 434.5h1.6v1.6h-1.6zM95.3 467.0h1.6v1.6h-1.6zM67.2 493.6h1.6v1.6h-1.6zM80.1 475.1h1.6v1.6h-1.6zM110.4 458.2h1.6v1.6h-1.6zM131.8 442.6h1.6v1.6h-1.6zM137.6 440.2h1.6v1.6h-1.6zM120.7 451.5h1.6v1.6h-1.6zM100.6 462.0h1.6v1.6h-1.6zM109.9 448.9h1.6v1.6h-1.6zM83.4 474.9h1.6v1.6h-1.6zM64.7 494.8h1.6v1.6h-1.6zM118.2 445.2h1.6v1.6h-1.6zM131.4 442.5h1.6v1.6h-1.6zM99.2 457.2h1.6v1.6h-1.6zM111.8 455.7h1.6v1.6h-1.6zM126.4 447.0h1.6v1.6h-1.6zM123.6 443.6h1.6v1.6h-1.6zM77.9 476.1h1.6v1.6h-1.6zM88.2 462.0h1.6v1.6h-1.6zM78.4 472.9h1.6v1.6h-1.6zM106.4 456.8h1.6v1.6h-1.6zM109.3 451.2h1.6v1.6h-1.6zM103.7 448.6h1.6v1.6h-1.6zM112.2 452.2h1.6v1.6h-1.6zM127.1 442.9h1.6v1.6h-1.6zM102.3 458.0h1.6v1.6h-1.6zM113.0 453.9h1.6v1.6h-1.6zM83.3 467.5h1.6v1.6h-1.6zM99.5 456.2h1.6v1.6h-1.6zM145.5 438.2h1.6v1.6h-1.6zM91.1 457.3h1.6v1.6h-1.6zM78.5 475.2h1.6v1.6h-1.6zM101.5 454.8h1.6v1.6h-1.6zM89.9 470.6h1.6v1.6h-1.6zM120.1 454.5h1.6v1.6h-1.6zM142.3 435.7h1.6v1.6h-1.6zM82.6 467.9h1.6v1.6h-1.6zM97.3 470.3h1.6v1.6h-1.6zM113.3 448.7h1.6v1.6h-1.6zM145.7 434.8h1.6v1.6h-1.6zM125.7 441.3h1.6v1.6h-1.6zM132.0 445.3h1.6v1.6h-1.6zM83.3 476.8h1.6v1.6h-1.6zM114.1 449.5h1.6v1.6h-1.6zM120.7 445.3h1.6v1.6h-1.6zM138.6 436.7h1.6v1.6h-1.6zM119.2 448.7h1.6v1.6h-1.6zM111.0 445.2h1.6v1.6h-1.6zM103.3 449.5h1.6v1.6h-1.6zM114.0 446.9h1.6v1.6h-1.6zM98.2 464.2h1.6v1.6h-1.6zM122.9 436.6h1.6v1.6h-1.6zM112.8 447.7h1.6v1.6h-1.6zM110.4 456.0h1.6v1.6h-1.6zM115.7 451.9h1.6v1.6h-1.6zM91.6 469.7h1.6v1.6h-1.6zM125.2 438.7h1.6v1.6h-1.6zM94.4 467.2h1.6v1.6h-1.6zM84.1 468.2h1.6v1.6h-1.6zM138.6 442.0h1.6v1.6h-1.6zM99.6 463.0h1.6v1.6h-1.6zM105.1 450.9h1.6v1.6h-1.6zM72.3 484.2h1.6v1.6h-1.6zM143.0 440.0h1.6v1.6h-1.6zM104.3 456.7h1.6v1.6h-1.6zM131.5 440.0h1.6v1.6h-1.6zM137.7 439.4h1.6v1.6h-1.6zM98.6 466.0h1.6v1.6h-1.6zM125.7 445.1h1.6v1.6h-1.6zM119.6 442.3h1.6v1.6h-1.6zM101.0 448.5h1.6v1.6h-1.6zM124.7 448.6h1.6v1.6h-1.6zM128.6 445.9h1.6v1.6h-1.6zM136.0 444.0h1.6v1.6h-1.6zM141.5 440.0h1.6v1.6h-1.6zM89.4 473.7h1.6v1.6h-1.6zM113.8 452.8h1.6v1.6h-1.6zM93.9 461.4h1.6v1.6h-1.6zM124.0 447.2h1.6v1.6h-1.6zM98.3 465.7h1.6v1.6h-1.6zM109.4 453.2h1.6v1.6h-1.6zM107.4 460.9h1.6v1.6h-1.6zM100.6 456.4h1.6v1.6h-1.6zM109.2 448.3h1.6v1.6h-1.6zM136.4 435.2h1.6v1.6h-1.6zM112.6 449.0h1.6v1.6h-1.6zM136.7 441.9h1.6v1.6h-1.6zM94.8 468.1h1.6v1.6h-1.6zM117.3 448.9h1.6v1.6h-1.6zM87.5 465.0h1.6v1.6h-1.6zM108.3 454.5h1.6v1.6h-1.6zM80.3 481.4h1.6v1.6h-1.6zM131.6 439.4h1.6v1.6h-1.6zM69.8 489.4h1.6v1.6h-1.6zM91.8 461.5h1.6v1.6h-1.6zM92.3 469.4h1.6v1.6h-1.6zM138.4 443.8h1.6v1.6h-1.6zM99.0 461.5h1.6v1.6h-1.6zM111.4 451.9h1.6v1.6h-1.6zM111.4 452.0h1.6v1.6h-1.6zM130.9 442.7h1.6v1.6h-1.6zM108.7 455.9h1.6v1.6h-1.6zM129.1 445.8h1.6v1.6h-1.6zM114.6 453.7h1.6v1.6h-1.6zM101.2 460.7h1.6v1.6h-1.6zM70.0 487.8h1.6v1.6h-1.6zM101.9 456.5h1.6v1.6h-1.6zM130.6 437.9h1.6v1.6h-1.6zM105.1 460.9h1.6v1.6h-1.6zM94.4 467.3h1.6v1.6h-1.6zM92.4 467.5h1.6v1.6h-1.6zM146.5 436.8h1.6v1.6h-1.6zM95.5 460.0h1.6v1.6h-1.6zM94.8 458.8h1.6v1.6h-1.6zM113.7 454.0h1.6v1.6h-1.6zM96.6 458.1h1.6v1.6h-1.6zM127.2 442.1h1.6v1.6h-1.6zM100.5 458.2h1.6v1.6h-1.6zM104.2 460.8h1.6v1.6h-1.6zM106.8 454.6h1.6v1.6h-1.6zM113.4 451.7h1.6v1.6h-1.6zM115.9 453.9h1.6v1.6h-1.6zM126.3 440.9h1.6v1.6h-1.6zM102.4 459.9h1.6v1.6h-1.6zM132.4 443.6h1.6v1.6h-1.6zM90.6 470.3h1.6v1.6h-1.6zM120.8 447.9h1.6v1.6h-1.6zM129.5 442.0h1.6v1.6h-1.6zM132.8 447.4h1.6v1.6h-1.6zM112.1 449.4h1.6v1.6h-1.6zM75.4 481.8h1.6v1.6h-1.6zM98.8 464.4h1.6v1.6h-1.6zM94.7 466.0h1.6v1.6h-1.6zM101.1 460.3h1.6v1.6h-1.6zM128.0 448.0h1.6v1.6h-1.6zM107.9 453.3h1.6v1.6h-1.6zM75.6 481.4h1.6v1.6h-1.6zM97.8 458.1h1.6v1.6h-1.6zM134.3 441.0h1.6v1.6h-1.6zM93.3 470.8h1.6v1.6h-1.6zM98.7 452.7h1.6v1.6h-1.6zM116.2 446.8h1.6v1.6h-1.6zM104.6 458.4h1.6v1.6h-1.6zM137.0 436.6h1.6v1.6h-1.6zM101.4 462.1h1.6v1.6h-1.6zM88.8 467.5h1.6v1.6h-1.6zM65.5 494.2h1.6v1.6h-1.6zM109.7 455.1h1.6v1.6h-1.6zM119.8 445.6h1.6v1.6h-1.6zM102.4 456.6h1.6v1.6h-1.6zM131.6 447.9h1.6v1.6h-1.6zM82.0 472.1h1.6v1.6h-1.6zM98.6 460.4h1.6v1.6h-1.6zM86.5 464.2h1.6v1.6h-1.6zM106.6 457.2h1.6v1.6h-1.6zM85.5 471.4h1.6v1.6h-1.6zM127.7 446.6h1.6v1.6h-1.6zM133.2 448.2h1.6v1.6h-1.6zM134.6 445.2h1.6v1.6h-1.6zM122.1 443.0h1.6v1.6h-1.6zM137.2 445.0h1.6v1.6h-1.6zM126.8 442.0h1.6v1.6h-1.6zM78.4 471.1h1.6v1.6h-1.6zM84.4 468.7h1.6v1.6h-1.6zM140.5 433.6h1.6v1.6h-1.6zM116.9 444.8h1.6v1.6h-1.6zM74.9 477.1h1.6v1.6h-1.6zM102.9 458.0h1.6v1.6h-1.6zM95.5 462.1h1.6v1.6h-1.6zM98.5 458.8h1.6v1.6h-1.6zM94.6 454.8h1.6v1.6h-1.6zM141.8 433.4h1.6v1.6h-1.6zM129.6 437.5h1.6v1.6h-1.6zM138.7 440.1h1.6v1.6h-1.6zM96.0 462.0h1.6v1.6h-1.6zM115.1 449.1h1.6v1.6h-1.6zM100.9 463.5h1.6v1.6h-1.6zM133.1 441.5h1.6v1.6h-1.6zM114.2 451.9h1.6v1.6h-1.6zM111.7 460.2h1.6v1.6h-1.6zM74.0 479.3h1.6v1.6h-1.6zM103.0 451.8h1.6v1.6h-1.6zM111.0 452.0h1.6v1.6h-1.6zM69.4 489.3h1.6v1.6h-1.6zM102.2 455.6h1.6v1.6h-1.6zM64.7 496.3h1.6v1.6h-1.6zM119.1 449.8h1.6v1.6h-1.6zM111.6 455.6h1.6v1.6h-1.6zM143.8 439.0h1.6v1.6h-1.6zM123.7 446.3h1.6v1.6h-1.6zM114.2 447.4h1.6v1.6h-1.6zM127.8 439.3h1.6v1.6h-1.6zM99.5 462.6h1.6v1.6h-1.6zM80.6 474.9h1.6v1.6h-1.6zM125.1 443.6h1.6v1.6h-1.6zM79.0 474.3h1.6v1.6h-1.6zM65.9 493.5h1.6v1.6h-1.6zM123.6 447.9h1.6v1.6h-1.6zM108.6 463.5h1.6v1.6h-1.6zM114.1 451.5h1.6v1.6h-1.6zM123.7 444.5h1.6v1.6h-1.6zM140.2 439.2h1.6v1.6h-1.6zM141.2 435.2h1.6v1.6h-1.6zM119.1 440.9h1.6v1.6h-1.6zM132.7 435.9h1.6v1.6h-1.6zM84.1 470.2h1.6v1.6h-1.6zM124.5 442.7h1.6v1.6h-1.6zM117.3 447.8h1.6v1.6h-1.6zM114.0 445.8h1.6v1.6h-1.6zM138.9 440.8h1.6v1.6h-1.6zM127.1 440.0h1.6v1.6h-1.6zM89.2 472.7h1.6v1.6h-1.6zM136.4 439.7h1.6v1.6h-1.6zM133.1 438.1h1.6v1.6h-1.6zM135.2 440.0h1.6v1.6h-1.6zM112.7 459.3h1.6v1.6h-1.6zM101.3 456.0h1.6v1.6h-1.6zM134.6 442.6h1.6v1.6h-1.6zM136.3 446.7h1.6v1.6h-1.6zM130.0 439.5h1.6v1.6h-1.6zM70.9 487.2h1.6v1.6h-1.6zM76.2 473.9h1.6v1.6h-1.6zM125.1 450.1h1.6v1.6h-1.6zM96.7 467.3h1.6v1.6h-1.6zM90.5 461.2h1.6v1.6h-1.6zM98.4 460.5h1.6v1.6h-1.6zM117.8 446.0h1.6v1.6h-1.6zM126.5 446.1h1.6v1.6h-1.6zM140.4 438.9h1.6v1.6h-1.6zM145.5 436.0h1.6v1.6h-1.6zM98.2 456.1h1.6v1.6h-1.6zM112.8 456.3h1.6v1.6h-1.6zM113.0 453.9h1.6v1.6h-1.6zM95.0 468.6h1.6v1.6h-1.6zM106.8 463.3h1.6v1.6h-1.6zM137.6 435.3h1.6v1.6h-1.6zM101.7 451.8h1.6v1.6h-1.6zM113.2 452.9h1.6v1.6h-1.6zM125.6 451.0h1.6v1.6h-1.6zM138.2 439.8h1.6v1.6h-1.6zM135.8 441.5h1.6v1.6h-1.6zM85.4 467.8h1.6v1.6h-1.6zM102.7 459.5h1.6v1.6h-1.6zM142.1 434.0h1.6v1.6h-1.6zM107.1 455.5h1.6v1.6h-1.6zM129.4 443.4h1.6v1.6h-1.6zM143.7 434.2h1.6v1.6h-1.6zM128.9 437.3h1.6v1.6h-1.6zM111.5 454.1h1.6v1.6h-1.6zM92.5 467.6h1.6v1.6h-1.6zM124.3 448.3h1.6v1.6h-1.6zM120.7 446.8h1.6v1.6h-1.6zM130.3 445.7h1.6v1.6h-1.6zM68.3 493.0h1.6v1.6h-1.6zM68.9 487.7h1.6v1.6h-1.6zM85.3 469.2h1.6v1.6h-1.6zM84.1 473.1h1.6v1.6h-1.6zM106.4 455.5h1.6v1.6h-1.6zM106.0 456.1h1.6v1.6h-1.6zM117.1 450.2h1.6v1.6h-1.6zM132.9 446.1h1.6v1.6h-1.6zM111.1 459.6h1.6v1.6h-1.6zM107.5 458.8h1.6v1.6h-1.6zM129.7 445.4h1.6v1.6h-1.6zM69.6 487.5h1.6v1.6h-1.6zM130.8 446.2h1.6v1.6h-1.6zM84.7 477.6h1.6v1.6h-1.6zM96.2 456.4h1.6v1.6h-1.6zM136.9 431.5h1.6v1.6h-1.6zM106.1 454.9h1.6v1.6h-1.6zM97.8 456.5h1.6v1.6h-1.6zM112.1 459.6h1.6v1.6h-1.6zM74.2 479.1h1.6v1.6h-1.6zM87.3 466.5h1.6v1.6h-1.6zM105.3 455.6h1.6v1.6h-1.6zM65.6 494.9h1.6v1.6h-1.6zM120.1 443.3h1.6v1.6h-1.6zM95.8 457.4h1.6v1.6h-1.6zM96.6 454.1h1.6v1.6h-1.6zM74.2 482.0h1.6v1.6h-1.6zM133.4 443.5h1.6v1.6h-1.6zM105.1 462.2h1.6v1.6h-1.6zM101.4 454.6h1.6v1.6h-1.6zM75.5 475.6h1.6v1.6h-1.6zM121.3 448.5h1.6v1.6h-1.6zM140.7 436.9h1.6v1.6h-1.6zM123.8 445.2h1.6v1.6h-1.6zM137.0 440.2h1.6v1.6h-1.6zM123.1 441.3h1.6v1.6h-1.6zM80.7 474.8h1.6v1.6h-1.6zM83.5 469.7h1.6v1.6h-1.6zM79.4 472.9h1.6v1.6h-1.6zM121.9 447.4h1.6v1.6h-1.6zM123.9 451.6h1.6v1.6h-1.6zM103.2 453.0h1.6v1.6h-1.6zM126.9 437.2h1.6v1.6h-1.6zM114.5 456.1h1.6v1.6h-1.6zM93.8 465.0h1.6v1.6h-1.6zM87.6 464.3h1.6v1.6h-1.6zM109.6 455.4h1.6v1.6h-1.6zM118.6 452.1h1.6v1.6h-1.6zM124.5 444.5h1.6v1.6h-1.6zM119.1 455.4h1.6v1.6h-1.6zM99.8 453.6h1.6v1.6h-1.6zM122.3 450.3h1.6v1.6h-1.6zM105.9 455.3h1.6v1.6h-1.6zM106.4 461.4h1.6v1.6h-1.6zM117.5 447.5h1.6v1.6h-1.6zM140.9 437.9h1.6v1.6h-1.6zM133.4 442.4h1.6v1.6h-1.6zM113.3 451.7h1.6v1.6h-1.6zM140.5 436.3h1.6v1.6h-1.6zM141.8 435.1h1.6v1.6h-1.6zM123.8 445.4h1.6v1.6h-1.6zM115.5 449.0h1.6v1.6h-1.6zM82.9 472.5h1.6v1.6h-1.6zM100.8 460.4h1.6v1.6h-1.6zM134.1 436.7h1.6v1.6h-1.6zM122.2 440.9h1.6v1.6h-1.6zM128.1 452.9h1.6v1.6h-1.6zM103.6 457.1h1.6v1.6h-1.6zM104.0 461.3h1.6v1.6h-1.6zM118.6 449.4h1.6v1.6h-1.6zM86.0 469.4h1.6v1.6h-1.6zM136.8 437.6h1.6v1.6h-1.6zM143.6 436.6h1.6v1.6h-1.6zM124.3 450.7h1.6v1.6h-1.6zM145.1 437.8h1.6v1.6h-1.6zM112.5 448.8h1.6v1.6h-1.6zM114.8 447.4h1.6v1.6h-1.6zM124.3 443.4h1.6v1.6h-1.6zM111.3 457.7h1.6v1.6h-1.6zM80.4 472.3h1.6v1.6h-1.6zM144.4 442.9h1.6v1.6h-1.6zM138.5 443.2h1.6v1.6h-1.6zM115.9 445.0h1.6v1.6h-1.6zM137.6 437.8h1.6v1.6h-1.6zM137.3 439.6h1.6v1.6h-1.6zM133.9 440.8h1.6v1.6h-1.6zM128.5 442.3h1.6v1.6h-1.6zM137.5 439.1h1.6v1.6h-1.6zM98.6 456.2h1.6v1.6h-1.6zM92.1 465.8h1.6v1.6h-1.6zM125.2 444.0h1.6v1.6h-1.6zM93.0 473.5h1.6v1.6h-1.6zM134.3 445.1h1.6v1.6h-1.6zM95.1 469.2h1.6v1.6h-1.6zM93.6 473.1h1.6v1.6h-1.6zM129.0 446.5h1.6v1.6h-1.6zM82.5 468.2h1.6v1.6h-1.6zM113.8 453.9h1.6v1.6h-1.6zM142.7 438.7h1.6v1.6h-1.6zM135.3 441.4h1.6v1.6h-1.6zM100.5 465.4h1.6v1.6h-1.6zM110.9 448.5h1.6v1.6h-1.6zM97.3 461.4h1.6v1.6h-1.6zM96.2 460.4h1.6v1.6h-1.6zM103.3 454.3h1.6v1.6h-1.6zM141.0 442.1h1.6v1.6h-1.6zM137.9 443.4h1.6v1.6h-1.6zM96.2 460.2h1.6v1.6h-1.6zM76.7 484.5h1.6v1.6h-1.6zM98.9 461.0h1.6v1.6h-1.6zM119.4 451.5h1.6v1.6h-1.6zM135.7 435.1h1.6v1.6h-1.6zM104.0 458.1h1.6v1.6h-1.6zM88.4 465.8h1.6v1.6h-1.6zM135.3 438.6h1.6v1.6h-1.6zM134.8 441.6h1.6v1.6h-1.6zM145.9 442.2h1.6v1.6h-1.6zM73.3 480.7h1.6v1.6h-1.6zM90.8 472.6h1.6v1.6h-1.6zM112.8 459.0h1.6v1.6h-1.6zM65.5 495.0h1.6v1.6h-1.6zM115.3 450.9h1.6v1.6h-1.6zM100.4 459.9h1.6v1.6h-1.6zM106.7 451.0h1.6v1.6h-1.6zM140.3 438.5h1.6v1.6h-1.6zM127.5 440.1h1.6v1.6h-1.6zM97.1 460.4h1.6v1.6h-1.6zM113.8 447.7h1.6v1.6h-1.6zM83.3 471.6h1.6v1.6h-1.6zM113.6 455.5h1.6v1.6h-1.6zM65.8 494.3h1.6v1.6h-1.6zM120.2 453.0h1.6v1.6h-1.6zM111.8 454.7h1.6v1.6h-1.6zM104.9 455.2h1.6v1.6h-1.6zM134.7 437.5h1.6v1.6h-1.6zM110.0 462.2h1.6v1.6h-1.6zM106.6 451.3h1.6v1.6h-1.6zM110.8 460.4h1.6v1.6h-1.6zM138.8 441.1h1.6v1.6h-1.6zM127.5 442.3h1.6v1.6h-1.6zM129.1 435.3h1.6v1.6h-1.6zM94.6 459.4h1.6v1.6h-1.6zM101.5 458.8h1.6v1.6h-1.6zM139.6 432.9h1.6v1.6h-1.6zM88.8 470.4h1.6v1.6h-1.6zM92.1 462.2h1.6v1.6h-1.6zM113.8 450.6h1.6v1.6h-1.6zM134.4 442.2h1.6v1.6h-1.6zM118.5 444.9h1.6v1.6h-1.6zM100.3 461.5h1.6v1.6h-1.6zM129.0 438.6h1.6v1.6h-1.6zM125.9 442.9h1.6v1.6h-1.6zM89.2 463.2h1.6v1.6h-1.6zM104.7 459.0h1.6v1.6h-1.6zM142.4 442.7h1.6v1.6h-1.6zM95.9 456.8h1.6v1.6h-1.6zM71.3 483.7h1.6v1.6h-1.6zM125.3 446.5h1.6v1.6h-1.6zM90.9 467.4h1.6v1.6h-1.6zM102.8 463.1h1.6v1.6h-1.6zM109.0 454.0h1.6v1.6h-1.6zM136.2 434.2h1.6v1.6h-1.6zM122.0 439.8h1.6v1.6h-1.6zM136.5 436.1h1.6v1.6h-1.6zM122.2 445.7h1.6v1.6h-1.6zM95.9 466.7h1.6v1.6h-1.6zM125.2 440.9h1.6v1.6h-1.6zM101.1 453.4h1.6v1.6h-1.6zM131.8 443.1h1.6v1.6h-1.6zM126.4 445.6h1.6v1.6h-1.6zM119.6 451.0h1.6v1.6h-1.6zM129.5 446.1h1.6v1.6h-1.6zM79.3 477.7h1.6v1.6h-1.6zM74.9 481.2h1.6v1.6h-1.6zM140.4 437.9h1.6v1.6h-1.6zM104.8 456.3h1.6v1.6h-1.6zM95.5 465.0h1.6v1.6h-1.6zM112.0 451.6h1.6v1.6h-1.6zM127.7 451.2h1.6v1.6h-1.6zM107.8 457.6h1.6v1.6h-1.6zM100.0 455.9h1.6v1.6h-1.6zM132.5 442.5h1.6v1.6h-1.6zM146.1 438.2h1.6v1.6h-1.6zM125.0 448.6h1.6v1.6h-1.6zM125.4 438.8h1.6v1.6h-1.6zM91.9 462.1h1.6v1.6h-1.6zM66.3 495.1h1.6v1.6h-1.6zM111.3 448.9h1.6v1.6h-1.6zM100.7 466.8h1.6v1.6h-1.6zM135.8 441.7h1.6v1.6h-1.6zM129.5 446.2h1.6v1.6h-1.6zM89.7 461.1h1.6v1.6h-1.6zM142.2 435.1h1.6v1.6h-1.6zM128.1 439.5h1.6v1.6h-1.6zM120.2 452.9h1.6v1.6h-1.6zM136.2 444.5h1.6v1.6h-1.6zM107.9 461.6h1.6v1.6h-1.6zM117.9 445.5h1.6v1.6h-1.6zM100.7 453.9h1.6v1.6h-1.6zM128.5 444.7h1.6v1.6h-1.6zM88.3 464.4h1.6v1.6h-1.6zM101.8 457.6h1.6v1.6h-1.6zM137.7 441.7h1.6v1.6h-1.6zM80.4 477.4h1.6v1.6h-1.6zM88.0 461.3h1.6v1.6h-1.6zM136.2 438.7h1.6v1.6h-1.6zM127.3 450.2h1.6v1.6h-1.6zM104.6 453.9h1.6v1.6h-1.6zM119.9 450.3h1.6v1.6h-1.6zM93.8 463.4h1.6v1.6h-1.6zM102.6 466.5h1.6v1.6h-1.6zM142.1 439.6h1.6v1.6h-1.6zM125.9 447.9h1.6v1.6h-1.6zM87.6 462.7h1.6v1.6h-1.6zM80.4 479.8h1.6v1.6h-1.6zM119.5 450.9h1.6v1.6h-1.6zM103.1 457.7h1.6v1.6h-1.6zM73.4 480.3h1.6v1.6h-1.6zM89.5 468.2h1.6v1.6h-1.6zM96.9 455.3h1.6v1.6h-1.6zM101.7 463.4h1.6v1.6h-1.6zM88.8 471.6h1.6v1.6h-1.6zM91.4 471.2h1.6v1.6h-1.6zM106.4 451.0h1.6v1.6h-1.6zM116.0 444.8h1.6v1.6h-1.6zM104.7 451.2h1.6v1.6h-1.6zM117.9 448.5h1.6v1.6h-1.6zM82.9 463.7h1.6v1.6h-1.6zM134.8 441.2h1.6v1.6h-1.6zM136.4 442.1h1.6v1.6h-1.6zM121.9 440.2h1.6v1.6h-1.6zM139.7 441.1h1.6v1.6h-1.6zM74.1 479.8h1.6v1.6h-1.6zM115.9 448.7h1.6v1.6h-1.6zM141.2 434.1h1.6v1.6h-1.6zM81.5 474.3h1.6v1.6h-1.6zM118.6 446.5h1.6v1.6h-1.6zM119.6 450.6h1.6v1.6h-1.6zM142.2 440.2h1.6v1.6h-1.6zM116.8 453.9h1.6v1.6h-1.6zM64.2 496.3h1.6v1.6h-1.6zM75.2 478.8h1.6v1.6h-1.6zM117.6 458.2h1.6v1.6h-1.6zM134.4 438.0h1.6v1.6h-1.6zM72.1 484.1h1.6v1.6h-1.6zM68.0 491.8h1.6v1.6h-1.6zM99.4 461.3h1.6v1.6h-1.6zM117.3 446.4h1.6v1.6h-1.6zM116.3 448.9h1.6v1.6h-1.6zM119.3 444.7h1.6v1.6h-1.6zM90.9 466.5h1.6v1.6h-1.6zM73.3 481.3h1.6v1.6h-1.6zM137.7 442.3h1.6v1.6h-1.6zM115.7 449.0h1.6v1.6h-1.6zM73.4 479.6h1.6v1.6h-1.6zM74.8 483.0h1.6v1.6h-1.6zM95.6 461.6h1.6v1.6h-1.6zM87.7 463.3h1.6v1.6h-1.6zM115.6 449.8h1.6v1.6h-1.6zM89.7 473.5h1.6v1.6h-1.6zM111.0 453.0h1.6v1.6h-1.6zM127.3 438.7h1.6v1.6h-1.6zM80.9 476.9h1.6v1.6h-1.6zM133.2 441.1h1.6v1.6h-1.6zM134.9 440.8h1.6v1.6h-1.6zM80.7 474.5h1.6v1.6h-1.6zM94.2 465.4h1.6v1.6h-1.6zM117.9 450.9h1.6v1.6h-1.6zM109.3 457.8h1.6v1.6h-1.6zM114.8 450.5h1.6v1.6h-1.6zM133.6 441.2h1.6v1.6h-1.6zM138.0 441.9h1.6v1.6h-1.6zM104.2 460.8h1.6v1.6h-1.6zM98.2 459.6h1.6v1.6h-1.6zM126.8 436.3h1.6v1.6h-1.6zM138.8 442.2h1.6v1.6h-1.6zM131.4 449.5h1.6v1.6h-1.6zM141.4 440.6h1.6v1.6h-1.6zM143.2 433.6h1.6v1.6h-1.6zM77.5 469.8h1.6v1.6h-1.6zM120.9 445.9h1.6v1.6h-1.6zM100.2 456.4h1.6v1.6h-1.6zM138.5 442.6h1.6v1.6h-1.6zM124.9 449.0h1.6v1.6h-1.6zM114.9 447.8h1.6v1.6h-1.6zM64.9 495.8h1.6v1.6h-1.6zM120.9 446.2h1.6v1.6h-1.6zM111.8 458.3h1.6v1.6h-1.6zM106.3 452.1h1.6v1.6h-1.6zM124.5 444.1h1.6v1.6h-1.6zM138.8 440.1h1.6v1.6h-1.6zM86.6 467.3h1.6v1.6h-1.6zM122.2 441.0h1.6v1.6h-1.6zM75.0 483.4h1.6v1.6h-1.6zM131.7 434.0h1.6v1.6h-1.6zM96.7 460.8h1.6v1.6h-1.6zM88.1 469.3h1.6v1.6h-1.6zM110.5 446.2h1.6v1.6h-1.6zM94.4 459.6h1.6v1.6h-1.6zM130.6 435.0h1.6v1.6h-1.6zM130.8 440.2h1.6v1.6h-1.6zM119.2 452.9h1.6v1.6h-1.6zM89.9 461.5h1.6v1.6h-1.6zM71.9 482.0h1.6v1.6h-1.6zM146.0 433.6h1.6v1.6h-1.6zM109.4 445.6h1.6v1.6h-1.6zM106.2 451.1h1.6v1.6h-1.6zM142.1 435.6h1.6v1.6h-1.6zM124.4 447.8h1.6v1.6h-1.6zM118.1 445.0h1.6v1.6h-1.6zM103.5 456.8h1.6v1.6h-1.6zM134.5 441.9h1.6v1.6h-1.6zM138.0 444.4h1.6v1.6h-1.6zM90.5 465.3h1.6v1.6h-1.6zM141.7 441.0h1.6v1.6h-1.6zM76.8 476.3h1.6v1.6h-1.6zM141.5 437.3h1.6v1.6h-1.6zM117.5 445.7h1.6v1.6h-1.6zM98.4 469.2h1.6v1.6h-1.6zM140.6 435.0h1.6v1.6h-1.6zM143.0 440.3h1.6v1.6h-1.6zM86.4 477.5h1.6v1.6h-1.6zM92.0 464.0h1.6v1.6h-1.6zM127.9 441.0h1.6v1.6h-1.6zM127.0 441.7h1.6v1.6h-1.6zM79.9 477.6h1.6v1.6h-1.6zM124.2 443.4h1.6v1.6h-1.6zM146.9 436.8h1.6v1.6h-1.6zM117.2 449.7h1.6v1.6h-1.6zM136.0 435.0h1.6v1.6h-1.6zM98.4 455.9h1.6v1.6h-1.6zM99.9 463.7h1.6v1.6h-1.6zM127.7 438.7h1.6v1.6h-1.6zM94.1 470.0h1.6v1.6h-1.6zM138.5 437.2h1.6v1.6h-1.6zM84.4 473.0h1.6v1.6h-1.6zM96.3 463.1h1.6v1.6h-1.6zM101.2 459.4h1.6v1.6h-1.6zM106.4 454.8h1.6v1.6h-1.6zM128.4 441.8h1.6v1.6h-1.6zM78.5 478.1h1.6v1.6h-1.6zM65.1 494.7h1.6v1.6h-1.6zM70.2 484.9h1.6v1.6h-1.6zM104.6 459.9h1.6v1.6h-1.6zM88.3 472.9h1.6v1.6h-1.6zM78.4 475.3h1.6v1.6h-1.6zM145.8 440.2h1.6v1.6h-1.6zM124.3 437.7h1.6v1.6h-1.6zM120.7 442.5h1.6v1.6h-1.6zM116.9 446.9h1.6v1.6h-1.6zM136.9 441.2h1.6v1.6h-1.6zM74.8 483.2h1.6v1.6h-1.6zM106.8 451.6h1.6v1.6h-1.6zM124.6 449.4h1.6v1.6h-1.6zM67.7 493.5h1.6v1.6h-1.6zM73.9 482.8h1.6v1.6h-1.6zM123.7 442.5h1.6v1.6h-1.6zM105.8 454.4h1.6v1.6h-1.6zM77.5 473.2h1.6v1.6h-1.6zM68.0 491.7h1.6v1.6h-1.6zM86.9 472.2h1.6v1.6h-1.6zM129.4 445.3h1.6v1.6h-1.6zM81.7 475.0h1.6v1.6h-1.6zM141.1 439.6h1.6v1.6h-1.6zM91.0 464.5h1.6v1.6h-1.6zM106.8 450.7h1.6v1.6h-1.6zM109.2 452.5h1.6v1.6h-1.6zM116.4 453.6h1.6v1.6h-1.6zM98.8 464.0h1.6v1.6h-1.6zM142.7 439.4h1.6v1.6h-1.6zM101.3 462.0h1.6v1.6h-1.6zM133.6 441.6h1.6v1.6h-1.6zM68.1 491.1h1.6v1.6h-1.6zM132.0 442.8h1.6v1.6h-1.6zM128.1 441.7h1.6v1.6h-1.6zM99.8 460.2h1.6v1.6h-1.6zM132.4 433.2h1.6v1.6h-1.6zM139.1 440.9h1.6v1.6h-1.6zM131.5 440.2h1.6v1.6h-1.6zM137.7 441.4h1.6v1.6h-1.6zM135.2 443.3h1.6v1.6h-1.6zM101.8 463.4h1.6v1.6h-1.6zM132.3 441.5h1.6v1.6h-1.6zM98.7 461.3h1.6v1.6h-1.6zM107.9 449.7h1.6v1.6h-1.6zM94.8 460.8h1.6v1.6h-1.6zM107.8 454.0h1.6v1.6h-1.6zM99.1 460.5h1.6v1.6h-1.6zM105.0 458.6h1.6v1.6h-1.6zM109.8 455.0h1.6v1.6h-1.6zM132.8 437.4h1.6v1.6h-1.6zM125.0 447.0h1.6v1.6h-1.6zM139.2 436.4h1.6v1.6h-1.6zM114.1 442.6h1.6v1.6h-1.6zM129.3 442.7h1.6v1.6h-1.6zM122.8 450.6h1.6v1.6h-1.6zM106.1 457.9h1.6v1.6h-1.6zM81.6 467.2h1.6v1.6h-1.6zM104.8 459.0h1.6v1.6h-1.6zM128.6 443.6h1.6v1.6h-1.6zM84.2 471.7h1.6v1.6h-1.6zM141.7 441.1h1.6v1.6h-1.6zM99.4 467.2h1.6v1.6h-1.6zM82.9 472.2h1.6v1.6h-1.6zM79.9 472.1h1.6v1.6h-1.6zM112.8 460.7h1.6v1.6h-1.6zM142.1 437.1h1.6v1.6h-1.6zM108.2 450.9h1.6v1.6h-1.6zM144.1 436.9h1.6v1.6h-1.6zM93.9 464.3h1.6v1.6h-1.6zM88.9 470.0h1.6v1.6h-1.6zM86.7 467.1h1.6v1.6h-1.6zM125.5 439.7h1.6v1.6h-1.6zM117.8 448.4h1.6v1.6h-1.6zM89.9 472.5h1.6v1.6h-1.6zM144.4 437.9h1.6v1.6h-1.6zM134.4 437.0h1.6v1.6h-1.6zM128.6 442.3h1.6v1.6h-1.6zM75.1 480.1h1.6v1.6h-1.6zM143.6 436.3h1.6v1.6h-1.6zM122.0 440.5h1.6v1.6h-1.6zM140.7 436.4h1.6v1.6h-1.6zM88.5 463.3h1.6v1.6h-1.6zM75.9 475.4h1.6v1.6h-1.6zM89.2 469.6h1.6v1.6h-1.6zM143.5 438.8h1.6v1.6h-1.6zM118.9 449.1h1.6v1.6h-1.6zM95.4 459.6h1.6v1.6h-1.6zM128.3 441.9h1.6v1.6h-1.6zM136.3 434.9h1.6v1.6h-1.6zM101.6 453.1h1.6v1.6h-1.6zM134.5 440.1h1.6v1.6h-1.6zM136.4 444.9h1.6v1.6h-1.6zM137.2 443.7h1.6v1.6h-1.6zM140.6 440.8h1.6v1.6h-1.6zM103.2 454.0h1.6v1.6h-1.6zM122.3 444.6h1.6v1.6h-1.6zM81.0 468.2h1.6v1.6h-1.6zM105.8 456.9h1.6v1.6h-1.6zM87.4 466.0h1.6v1.6h-1.6zM98.4 456.7h1.6v1.6h-1.6zM113.4 449.0h1.6v1.6h-1.6zM133.8 439.0h1.6v1.6h-1.6zM136.3 441.6h1.6v1.6h-1.6zM131.7 449.0h1.6v1.6h-1.6zM80.7 471.1h1.6v1.6h-1.6zM85.1 467.5h1.6v1.6h-1.6zM146.1 438.4h1.6v1.6h-1.6zM89.2 465.6h1.6v1.6h-1.6zM99.4 451.9h1.6v1.6h-1.6zM92.2 458.3h1.6v1.6h-1.6zM74.8 482.9h1.6v1.6h-1.6zM127.2 443.0h1.6v1.6h-1.6zM78.0 477.5h1.6v1.6h-1.6zM102.5 452.7h1.6v1.6h-1.6zM119.9 446.2h1.6v1.6h-1.6zM126.0 442.3h1.6v1.6h-1.6zM118.7 454.8h1.6v1.6h-1.6zM102.2 457.0h1.6v1.6h-1.6zM102.7 463.3h1.6v1.6h-1.6zM129.8 442.5h1.6v1.6h-1.6zM86.4 469.0h1.6v1.6h-1.6zM137.4 435.7h1.6v1.6h-1.6zM78.9 479.0h1.6v1.6h-1.6zM103.3 457.0h1.6v1.6h-1.6zM118.4 455.8h1.6v1.6h-1.6zM130.7 443.0h1.6v1.6h-1.6zM127.4 440.6h1.6v1.6h-1.6zM86.7 466.3h1.6v1.6h-1.6zM110.2 447.9h1.6v1.6h-1.6zM78.0 481.6h1.6v1.6h-1.6zM97.6 463.1h1.6v1.6h-1.6zM110.5 455.0h1.6v1.6h-1.6zM111.5 450.5h1.6v1.6h-1.6zM96.1 464.8h1.6v1.6h-1.6zM130.7 446.2h1.6v1.6h-1.6zM128.8 441.1h1.6v1.6h-1.6zM89.8 464.0h1.6v1.6h-1.6zM86.8 474.7h1.6v1.6h-1.6zM87.9 469.3h1.6v1.6h-1.6zM110.6 445.3h1.6v1.6h-1.6zM140.9 442.8h1.6v1.6h-1.6zM84.8 471.4h1.6v1.6h-1.6zM82.8 470.2h1.6v1.6h-1.6zM119.6 449.4h1.6v1.6h-1.6zM78.2 470.6h1.6v1.6h-1.6zM73.0 485.4h1.6v1.6h-1.6zM110.2 445.7h1.6v1.6h-1.6zM129.1 435.9h1.6v1.6h-1.6zM126.7 445.2h1.6v1.6h-1.6zM113.3 450.8h1.6v1.6h-1.6zM136.0 438.4h1.6v1.6h-1.6zM79.5 480.1h1.6v1.6h-1.6zM83.4 471.2h1.6v1.6h-1.6zM83.3 474.4h1.6v1.6h-1.6zM130.9 435.8h1.6v1.6h-1.6zM133.9 441.1h1.6v1.6h-1.6zM105.6 456.7h1.6v1.6h-1.6zM106.5 456.1h1.6v1.6h-1.6zM132.7 436.2h1.6v1.6h-1.6zM134.5 443.1h1.6v1.6h-1.6zM71.7 482.2h1.6v1.6h-1.6zM141.3 440.1h1.6v1.6h-1.6zM117.6 450.1h1.6v1.6h-1.6zM88.1 467.2h1.6v1.6h-1.6zM133.0 442.4h1.6v1.6h-1.6zM94.1 464.0h1.6v1.6h-1.6zM98.9 456.0h1.6v1.6h-1.6zM98.1 467.8h1.6v1.6h-1.6zM99.3 451.0h1.6v1.6h-1.6zM123.5 443.9h1.6v1.6h-1.6zM116.7 450.0h1.6v1.6h-1.6zM87.0 473.7h1.6v1.6h-1.6zM143.9 439.1h1.6v1.6h-1.6zM118.1 444.2h1.6v1.6h-1.6zM97.6 457.8h1.6v1.6h-1.6zM128.1 442.7h1.6v1.6h-1.6zM69.1 486.4h1.6v1.6h-1.6zM114.8 445.9h1.6v1.6h-1.6zM124.8 441.9h1.6v1.6h-1.6zM84.5 478.7h1.6v1.6h-1.6zM98.4 455.3h1.6v1.6h-1.6zM96.0 464.7h1.6v1.6h-1.6zM98.4 460.8h1.6v1.6h-1.6zM112.1 448.1h1.6v1.6h-1.6zM115.4 447.2h1.6v1.6h-1.6zM112.4 453.1h1.6v1.6h-1.6zM118.5 444.0h1.6v1.6h-1.6zM123.2 442.5h1.6v1.6h-1.6zM131.4 445.9h1.6v1.6h-1.6zM146.0 438.4h1.6v1.6h-1.6zM99.7 465.1h1.6v1.6h-1.6zM126.2 445.2h1.6v1.6h-1.6zM124.3 441.5h1.6v1.6h-1.6zM129.2 448.2h1.6v1.6h-1.6zM126.8 448.8h1.6v1.6h-1.6zM91.3 464.0h1.6v1.6h-1.6zM130.7 441.4h1.6v1.6h-1.6zM125.3 451.9h1.6v1.6h-1.6zM68.3 491.7h1.6v1.6h-1.6zM126.9 446.0h1.6v1.6h-1.6zM114.5 454.6h1.6v1.6h-1.6zM108.7 455.2h1.6v1.6h-1.6zM102.1 454.7h1.6v1.6h-1.6zM123.1 451.8h1.6v1.6h-1.6zM108.0 455.7h1.6v1.6h-1.6zM106.4 452.2h1.6v1.6h-1.6zM116.4 451.6h1.6v1.6h-1.6zM93.8 459.7h1.6v1.6h-1.6zM90.9 459.7h1.6v1.6h-1.6zM96.1 461.0h1.6v1.6h-1.6zM105.4 451.0h1.6v1.6h-1.6zM120.2 454.2h1.6v1.6h-1.6zM87.9 470.1h1.6v1.6h-1.6zM133.2 443.5h1.6v1.6h-1.6zM113.0 453.9h1.6v1.6h-1.6zM64.3 496.3h1.6v1.6h-1.6zM144.9 437.3h1.6v1.6h-1.6zM141.5 437.3h1.6v1.6h-1.6zM106.6 459.2h1.6v1.6h-1.6zM91.7 466.7h1.6v1.6h-1.6zM114.6 450.6h1.6v1.6h-1.6zM112.1 452.7h1.6v1.6h-1.6zM120.9 450.9h1.6v1.6h-1.6zM143.1 434.2h1.6v1.6h-1.6zM84.6 472.4h1.6v1.6h-1.6zM84.2 473.0h1.6v1.6h-1.6zM127.9 447.3h1.6v1.6h-1.6zM143.6 432.6h1.6v1.6h-1.6zM128.4 443.8h1.6v1.6h-1.6zM124.3 448.7h1.6v1.6h-1.6zM92.9 462.1h1.6v1.6h-1.6zM113.1 455.7h1.6v1.6h-1.6zM125.2 442.9h1.6v1.6h-1.6zM128.2 441.8h1.6v1.6h-1.6zM114.5 444.6h1.6v1.6h-1.6zM65.6 494.2h1.6v1.6h-1.6zM122.8 443.2h1.6v1.6h-1.6zM115.0 448.3h1.6v1.6h-1.6zM136.1 443.4h1.6v1.6h-1.6zM92.0 470.1h1.6v1.6h-1.6zM121.7 445.0h1.6v1.6h-1.6zM93.3 473.7h1.6v1.6h-1.6zM146.0 439.3h1.6v1.6h-1.6zM121.3 446.8h1.6v1.6h-1.6zM93.8 464.0h1.6v1.6h-1.6zM109.0 449.3h1.6v1.6h-1.6zM89.7 469.2h1.6v1.6h-1.6zM114.4 446.8h1.6v1.6h-1.6zM125.2 447.7h1.6v1.6h-1.6zM136.9 442.5h1.6v1.6h-1.6zM126.6 444.0h1.6v1.6h-1.6zM121.0 442.6h1.6v1.6h-1.6zM117.5 449.0h1.6v1.6h-1.6zM129.2 441.1h1.6v1.6h-1.6zM104.9 451.0h1.6v1.6h-1.6zM125.4 442.8h1.6v1.6h-1.6zM106.7 452.7h1.6v1.6h-1.6zM131.0 437.2h1.6v1.6h-1.6zM96.8 460.4h1.6v1.6h-1.6zM140.0 446.5h1.6v1.6h-1.6zM135.5 448.4h1.6v1.6h-1.6zM76.1 483.3h1.6v1.6h-1.6zM137.8 441.0h1.6v1.6h-1.6zM78.2 470.2h1.6v1.6h-1.6zM103.0 459.2h1.6v1.6h-1.6zM73.5 478.6h1.6v1.6h-1.6zM111.1 451.4h1.6v1.6h-1.6zM132.1 440.0h1.6v1.6h-1.6zM120.3 446.6h1.6v1.6h-1.6zM141.7 438.7h1.6v1.6h-1.6zM118.4 445.0h1.6v1.6h-1.6zM107.9 450.8h1.6v1.6h-1.6zM80.9 475.4h1.6v1.6h-1.6zM116.8 441.3h1.6v1.6h-1.6zM119.4 445.6h1.6v1.6h-1.6zM105.2 455.9h1.6v1.6h-1.6zM122.2 445.9h1.6v1.6h-1.6zM98.9 457.7h1.6v1.6h-1.6zM94.9 469.5h1.6v1.6h-1.6zM105.3 460.7h1.6v1.6h-1.6zM135.9 435.5h1.6v1.6h-1.6zM112.4 449.7h1.6v1.6h-1.6zM114.5 453.4h1.6v1.6h-1.6zM108.5 452.1h1.6v1.6h-1.6zM81.9 469.0h1.6v1.6h-1.6zM114.7 456.4h1.6v1.6h-1.6zM104.0 457.4h1.6v1.6h-1.6zM120.0 450.0h1.6v1.6h-1.6zM100.4 458.1h1.6v1.6h-1.6zM122.6 446.2h1.6v1.6h-1.6zM98.0 461.3h1.6v1.6h-1.6zM71.2 487.0h1.6v1.6h-1.6zM83.9 469.7h1.6v1.6h-1.6zM107.6 455.4h1.6v1.6h-1.6zM115.6 444.7h1.6v1.6h-1.6zM113.0 452.7h1.6v1.6h-1.6zM117.5 451.7h1.6v1.6h-1.6zM142.2 440.2h1.6v1.6h-1.6zM116.8 447.2h1.6v1.6h-1.6zM113.3 456.6h1.6v1.6h-1.6zM84.9 472.2h1.6v1.6h-1.6zM133.8 441.1h1.6v1.6h-1.6zM65.7 495.5h1.6v1.6h-1.6zM135.9 442.1h1.6v1.6h-1.6zM120.2 445.2h1.6v1.6h-1.6zM110.3 455.1h1.6v1.6h-1.6zM93.5 469.5h1.6v1.6h-1.6zM75.0 482.4h1.6v1.6h-1.6zM111.0 449.9h1.6v1.6h-1.6zM127.4 439.1h1.6v1.6h-1.6zM121.9 449.2h1.6v1.6h-1.6zM120.0 448.1h1.6v1.6h-1.6zM119.2 443.7h1.6v1.6h-1.6zM112.6 443.0h1.6v1.6h-1.6zM89.1 467.3h1.6v1.6h-1.6zM70.6 484.8h1.6v1.6h-1.6zM93.2 458.2h1.6v1.6h-1.6zM107.6 458.9h1.6v1.6h-1.6zM88.3 471.1h1.6v1.6h-1.6zM92.3 459.5h1.6v1.6h-1.6zM139.7 439.8h1.6v1.6h-1.6zM125.9 445.9h1.6v1.6h-1.6zM128.9 445.9h1.6v1.6h-1.6zM96.1 466.9h1.6v1.6h-1.6zM73.7 480.0h1.6v1.6h-1.6zM70.4 486.6h1.6v1.6h-1.6zM86.2 465.0h1.6v1.6h-1.6zM120.2 440.0h1.6v1.6h-1.6zM90.0 466.3h1.6v1.6h-1.6zM93.7 463.5h1.6v1.6h-1.6zM77.4 475.3h1.6v1.6h-1.6zM113.0 449.5h1.6v1.6h-1.6zM130.9 436.1h1.6v1.6h-1.6zM107.1 454.4h1.6v1.6h-1.6zM117.9 442.6h1.6v1.6h-1.6zM137.0 448.0h1.6v1.6h-1.6zM120.0 448.4h1.6v1.6h-1.6zM121.2 444.2h1.6v1.6h-1.6zM86.8 465.3h1.6v1.6h-1.6zM119.5 453.1h1.6v1.6h-1.6zM129.8 445.0h1.6v1.6h-1.6zM98.7 458.4h1.6v1.6h-1.6zM91.0 473.9h1.6v1.6h-1.6zM70.8 487.0h1.6v1.6h-1.6zM74.3 479.5h1.6v1.6h-1.6zM87.6 468.3h1.6v1.6h-1.6zM118.6 448.6h1.6v1.6h-1.6zM97.3 467.0h1.6v1.6h-1.6zM128.7 448.6h1.6v1.6h-1.6zM144.5 434.2h1.6v1.6h-1.6zM115.5 452.6h1.6v1.6h-1.6zM126.8 445.6h1.6v1.6h-1.6zM114.2 446.9h1.6v1.6h-1.6zM86.7 471.0h1.6v1.6h-1.6zM144.0 435.9h1.6v1.6h-1.6zM139.6 434.6h1.6v1.6h-1.6zM72.6 484.6h1.6v1.6h-1.6zM82.2 478.0h1.6v1.6h-1.6zM142.6 439.6h1.6v1.6h-1.6zM125.9 444.0h1.6v1.6h-1.6zM112.2 445.7h1.6v1.6h-1.6zM107.7 455.7h1.6v1.6h-1.6zM123.7 445.0h1.6v1.6h-1.6zM95.0 469.0h1.6v1.6h-1.6zM96.0 459.6h1.6v1.6h-1.6zM118.8 444.0h1.6v1.6h-1.6zM104.3 458.3h1.6v1.6h-1.6zM103.2 454.8h1.6v1.6h-1.6zM82.2 473.5h1.6v1.6h-1.6zM115.3 449.3h1.6v1.6h-1.6zM133.2 439.6h1.6v1.6h-1.6zM115.9 452.9h1.6v1.6h-1.6zM102.0 455.8h1.6v1.6h-1.6zM89.3 470.6h1.6v1.6h-1.6zM79.0 475.0h1.6v1.6h-1.6zM71.9 484.2h1.6v1.6h-1.6zM129.2 437.1h1.6v1.6h-1.6zM120.0 453.0h1.6v1.6h-1.6zM88.4 467.1h1.6v1.6h-1.6zM87.5 471.0h1.6v1.6h-1.6zM145.3 434.3h1.6v1.6h-1.6zM99.3 459.7h1.6v1.6h-1.6zM65.5 495.3h1.6v1.6h-1.6zM140.1 438.0h1.6v1.6h-1.6zM102.4 457.5h1.6v1.6h-1.6zM123.2 441.7h1.6v1.6h-1.6zM86.6 473.6h1.6v1.6h-1.6zM137.4 443.9h1.6v1.6h-1.6zM125.6 440.7h1.6v1.6h-1.6zM113.5 441.8h1.6v1.6h-1.6zM138.5 437.1h1.6v1.6h-1.6zM104.2 461.1h1.6v1.6h-1.6zM91.7 465.2h1.6v1.6h-1.6zM106.0 459.1h1.6v1.6h-1.6zM81.0 470.5h1.6v1.6h-1.6zM112.3 460.4h1.6v1.6h-1.6zM108.5 449.9h1.6v1.6h-1.6zM143.4 436.6h1.6v1.6h-1.6zM138.0 439.5h1.6v1.6h-1.6zM131.6 434.3h1.6v1.6h-1.6zM138.8 441.6h1.6v1.6h-1.6zM119.5 446.6h1.6v1.6h-1.6zM141.7 438.5h1.6v1.6h-1.6zM121.7 453.3h1.6v1.6h-1.6zM98.3 461.8h1.6v1.6h-1.6zM116.6 450.4h1.6v1.6h-1.6zM130.8 445.6h1.6v1.6h-1.6zM140.8 432.0h1.6v1.6h-1.6zM71.9 485.7h1.6v1.6h-1.6zM100.7 460.1h1.6v1.6h-1.6zM84.9 473.4h1.6v1.6h-1.6zM91.1 467.4h1.6v1.6h-1.6zM123.5 447.4h1.6v1.6h-1.6zM123.7 448.6h1.6v1.6h-1.6zM107.8 455.0h1.6v1.6h-1.6zM125.7 437.9h1.6v1.6h-1.6zM82.2 468.4h1.6v1.6h-1.6zM121.1 456.3h1.6v1.6h-1.6zM84.7 475.6h1.6v1.6h-1.6zM93.4 463.7h1.6v1.6h-1.6zM132.0 440.8h1.6v1.6h-1.6zM76.6 478.8h1.6v1.6h-1.6zM113.3 449.2h1.6v1.6h-1.6zM96.6 455.2h1.6v1.6h-1.6zM138.8 436.9h1.6v1.6h-1.6zM125.3 445.3h1.6v1.6h-1.6zM109.2 446.1h1.6v1.6h-1.6zM110.3 452.7h1.6v1.6h-1.6zM120.9 443.7h1.6v1.6h-1.6zM100.8 460.4h1.6v1.6h-1.6zM69.7 488.4h1.6v1.6h-1.6zM135.3 441.7h1.6v1.6h-1.6zM85.7 461.9h1.6v1.6h-1.6zM136.6 440.4h1.6v1.6h-1.6zM101.6 462.1h1.6v1.6h-1.6zM87.2 470.2h1.6v1.6h-1.6zM97.2 464.6h1.6v1.6h-1.6zM92.9 471.6h1.6v1.6h-1.6zM123.3 444.0h1.6v1.6h-1.6zM73.8 480.8h1.6v1.6h-1.6zM145.8 434.9h1.6v1.6h-1.6zM116.9 452.0h1.6v1.6h-1.6zM135.0 439.7h1.6v1.6h-1.6zM137.8 439.5h1.6v1.6h-1.6zM111.1 459.5h1.6v1.6h-1.6zM113.4 452.9h1.6v1.6h-1.6zM96.5 461.3h1.6v1.6h-1.6zM145.1 434.0h1.6v1.6h-1.6zM94.2 462.8h1.6v1.6h-1.6zM111.3 455.2h1.6v1.6h-1.6zM122.3 453.6h1.6v1.6h-1.6zM89.7 474.4h1.6v1.6h-1.6zM137.4 438.4h1.6v1.6h-1.6zM141.6 442.7h1.6v1.6h-1.6zM112.8 444.6h1.6v1.6h-1.6zM140.3 444.5h1.6v1.6h-1.6zM126.0 446.7h1.6v1.6h-1.6zM127.6 444.7h1.6v1.6h-1.6zM132.0 445.3h1.6v1.6h-1.6zM108.7 447.0h1.6v1.6h-1.6zM87.2 462.3h1.6v1.6h-1.6zM133.6 445.5h1.6v1.6h-1.6zM143.8 432.9h1.6v1.6h-1.6zM109.3 451.5h1.6v1.6h-1.6zM101.8 463.7h1.6v1.6h-1.6zM104.5 458.7h1.6v1.6h-1.6zM76.9 475.6h1.6v1.6h-1.6zM104.8 450.4h1.6v1.6h-1.6zM75.9 482.8h1.6v1.6h-1.6zM97.5 457.1h1.6v1.6h-1.6zM86.3 476.5h1.6v1.6h-1.6zM122.5 442.1h1.6v1.6h-1.6zM99.3 458.1h1.6v1.6h-1.6zM70.6 485.8h1.6v1.6h-1.6zM91.5 462.9h1.6v1.6h-1.6zM77.9 479.1h1.6v1.6h-1.6zM118.4 443.1h1.6v1.6h-1.6zM103.7 453.6h1.6v1.6h-1.6zM115.6 447.6h1.6v1.6h-1.6zM93.4 466.3h1.6v1.6h-1.6zM135.4 435.4h1.6v1.6h-1.6zM103.0 459.0h1.6v1.6h-1.6zM91.4 467.3h1.6v1.6h-1.6zM125.1 441.3h1.6v1.6h-1.6zM103.2 456.0h1.6v1.6h-1.6zM145.0 436.6h1.6v1.6h-1.6zM114.2 445.9h1.6v1.6h-1.6zM95.6 465.9h1.6v1.6h-1.6zM113.8 452.0h1.6v1.6h-1.6zM120.3 440.8h1.6v1.6h-1.6zM113.8 450.8h1.6v1.6h-1.6zM100.8 460.1h1.6v1.6h-1.6zM89.3 469.1h1.6v1.6h-1.6zM79.7 475.1h1.6v1.6h-1.6zM85.5 470.3h1.6v1.6h-1.6zM131.4 439.6h1.6v1.6h-1.6zM139.0 430.4h1.6v1.6h-1.6zM120.1 439.6h1.6v1.6h-1.6zM109.8 448.6h1.6v1.6h-1.6zM128.1 446.1h1.6v1.6h-1.6zM92.0 462.1h1.6v1.6h-1.6zM139.3 437.8h1.6v1.6h-1.6zM98.6 459.5h1.6v1.6h-1.6zM137.2 445.0h1.6v1.6h-1.6zM99.2 458.5h1.6v1.6h-1.6zM142.5 432.5h1.6v1.6h-1.6zM132.6 439.9h1.6v1.6h-1.6zM130.0 434.9h1.6v1.6h-1.6zM132.9 442.3h1.6v1.6h-1.6zM85.0 465.0h1.6v1.6h-1.6zM84.1 466.8h1.6v1.6h-1.6zM140.4 444.9h1.6v1.6h-1.6zM137.1 434.8h1.6v1.6h-1.6zM133.2 442.5h1.6v1.6h-1.6zM129.7 441.8h1.6v1.6h-1.6zM100.4 457.4h1.6v1.6h-1.6zM133.5 441.1h1.6v1.6h-1.6zM89.3 467.8h1.6v1.6h-1.6zM69.7 486.1h1.6v1.6h-1.6zM130.9 441.7h1.6v1.6h-1.6zM129.3 447.1h1.6v1.6h-1.6zM105.3 449.4h1.6v1.6h-1.6zM109.0 456.6h1.6v1.6h-1.6zM89.6 465.7h1.6v1.6h-1.6zM114.6 457.0h1.6v1.6h-1.6zM100.9 458.3h1.6v1.6h-1.6zM127.4 443.6h1.6v1.6h-1.6zM112.5 456.6h1.6v1.6h-1.6zM97.8 457.6h1.6v1.6h-1.6zM112.7 450.3h1.6v1.6h-1.6zM101.6 449.4h1.6v1.6h-1.6zM106.4 456.3h1.6v1.6h-1.6zM115.8 451.3h1.6v1.6h-1.6zM118.1 454.4h1.6v1.6h-1.6zM127.6 443.7h1.6v1.6h-1.6zM92.0 466.8h1.6v1.6h-1.6zM144.9 436.1h1.6v1.6h-1.6zM83.3 469.3h1.6v1.6h-1.6zM117.8 452.7h1.6v1.6h-1.6zM140.1 434.7h1.6v1.6h-1.6zM117.0 449.9h1.6v1.6h-1.6zM105.2 450.2h1.6v1.6h-1.6zM92.6 458.8h1.6v1.6h-1.6zM122.2 447.9h1.6v1.6h-1.6zM114.4 444.1h1.6v1.6h-1.6zM110.4 455.2h1.6v1.6h-1.6zM131.8 437.7h1.6v1.6h-1.6zM141.4 435.1h1.6v1.6h-1.6zM127.8 451.9h1.6v1.6h-1.6zM122.5 441.5h1.6v1.6h-1.6zM130.0 435.5h1.6v1.6h-1.6zM123.1 450.2h1.6v1.6h-1.6zM122.4 445.9h1.6v1.6h-1.6zM103.0 460.3h1.6v1.6h-1.6zM125.4 439.9h1.6v1.6h-1.6zM124.3 448.1h1.6v1.6h-1.6zM127.8 433.7h1.6v1.6h-1.6zM82.8 471.7h1.6v1.6h-1.6zM117.5 451.1h1.6v1.6h-1.6zM118.7 446.9h1.6v1.6h-1.6zM130.9 435.6h1.6v1.6h-1.6zM81.3 473.0h1.6v1.6h-1.6zM136.6 436.9h1.6v1.6h-1.6zM142.9 436.5h1.6v1.6h-1.6zM103.1 463.2h1.6v1.6h-1.6zM112.5 458.7h1.6v1.6h-1.6zM90.2 476.3h1.6v1.6h-1.6zM103.4 459.0h1.6v1.6h-1.6zM70.4 488.5h1.6v1.6h-1.6zM69.0 489.4h1.6v1.6h-1.6zM99.6 463.4h1.6v1.6h-1.6zM91.4 466.5h1.6v1.6h-1.6zM124.7 442.3h1.6v1.6h-1.6zM84.6 480.2h1.6v1.6h-1.6zM95.8 464.4h1.6v1.6h-1.6zM116.0 454.8h1.6v1.6h-1.6zM120.7 448.0h1.6v1.6h-1.6zM78.3 469.8h1.6v1.6h-1.6zM138.7 435.4h1.6v1.6h-1.6zM110.5 451.5h1.6v1.6h-1.6zM132.8 437.1h1.6v1.6h-1.6zM117.0 452.6h1.6v1.6h-1.6zM130.2 437.5h1.6v1.6h-1.6zM105.6 454.3h1.6v1.6h-1.6zM116.7 449.1h1.6v1.6h-1.6zM94.8 456.2h1.6v1.6h-1.6zM110.6 456.5h1.6v1.6h-1.6zM89.6 466.7h1.6v1.6h-1.6zM110.8 447.7h1.6v1.6h-1.6zM104.1 455.9h1.6v1.6h-1.6zM78.9 476.1h1.6v1.6h-1.6zM104.6 457.6h1.6v1.6h-1.6zM117.1 449.9h1.6v1.6h-1.6zM138.6 436.8h1.6v1.6h-1.6zM92.6 465.5h1.6v1.6h-1.6zM100.0 458.9h1.6v1.6h-1.6zM119.6 445.0h1.6v1.6h-1.6zM70.8 482.6h1.6v1.6h-1.6zM115.8 445.0h1.6v1.6h-1.6zM139.1 438.1h1.6v1.6h-1.6zM134.3 437.1h1.6v1.6h-1.6zM103.3 455.7h1.6v1.6h-1.6zM115.0 447.3h1.6v1.6h-1.6zM139.5 439.4h1.6v1.6h-1.6zM132.2 437.2h1.6v1.6h-1.6zM138.5 435.2h1.6v1.6h-1.6zM105.5 452.3h1.6v1.6h-1.6zM84.4 477.2h1.6v1.6h-1.6zM86.2 468.7h1.6v1.6h-1.6zM114.5 449.8h1.6v1.6h-1.6zM141.2 445.0h1.6v1.6h-1.6zM121.9 443.8h1.6v1.6h-1.6zM103.8 450.4h1.6v1.6h-1.6zM129.7 437.5h1.6v1.6h-1.6zM134.2 446.6h1.6v1.6h-1.6zM110.0 458.5h1.6v1.6h-1.6zM117.0 444.8h1.6v1.6h-1.6zM123.5 445.1h1.6v1.6h-1.6zM125.8 443.4h1.6v1.6h-1.6zM122.3 441.9h1.6v1.6h-1.6zM86.1 470.9h1.6v1.6h-1.6zM93.3 463.5h1.6v1.6h-1.6zM115.3 453.4h1.6v1.6h-1.6zM66.6 495.5h1.6v1.6h-1.6zM138.7 448.0h1.6v1.6h-1.6zM92.3 465.4h1.6v1.6h-1.6zM79.9 475.4h1.6v1.6h-1.6zM102.9 454.9h1.6v1.6h-1.6zM123.9 446.4h1.6v1.6h-1.6zM137.8 441.1h1.6v1.6h-1.6zM106.3 458.4h1.6v1.6h-1.6zM111.9 448.2h1.6v1.6h-1.6zM124.0 443.2h1.6v1.6h-1.6zM85.1 471.6h1.6v1.6h-1.6zM122.3 441.7h1.6v1.6h-1.6zM124.8 443.8h1.6v1.6h-1.6zM95.8 458.5h1.6v1.6h-1.6zM64.9 496.0h1.6v1.6h-1.6zM75.5 483.0h1.6v1.6h-1.6zM99.7 463.9h1.6v1.6h-1.6zM63.7 497.2h1.6v1.6h-1.6zM141.2 432.7h1.6v1.6h-1.6zM112.1 447.8h1.6v1.6h-1.6zM94.3 468.6h1.6v1.6h-1.6zM132.2 438.9h1.6v1.6h-1.6zM127.3 449.3h1.6v1.6h-1.6zM135.0 440.1h1.6v1.6h-1.6zM118.8 443.1h1.6v1.6h-1.6zM107.3 446.9h1.6v1.6h-1.6zM124.4 440.2h1.6v1.6h-1.6zM122.5 449.7h1.6v1.6h-1.6zM67.5 492.3h1.6v1.6h-1.6zM127.6 446.8h1.6v1.6h-1.6zM114.6 452.9h1.6v1.6h-1.6zM127.7 443.2h1.6v1.6h-1.6zM86.0 468.9h1.6v1.6h-1.6zM112.3 452.4h1.6v1.6h-1.6zM74.2 480.6h1.6v1.6h-1.6zM112.0 450.3h1.6v1.6h-1.6zM101.5 464.4h1.6v1.6h-1.6zM135.8 448.6h1.6v1.6h-1.6zM139.5 441.5h1.6v1.6h-1.6zM121.7 443.9h1.6v1.6h-1.6zM125.3 443.7h1.6v1.6h-1.6zM96.4 463.1h1.6v1.6h-1.6zM106.9 460.4h1.6v1.6h-1.6zM130.1 445.9h1.6v1.6h-1.6zM89.8 466.0h1.6v1.6h-1.6zM121.9 449.1h1.6v1.6h-1.6zM96.4 461.0h1.6v1.6h-1.6zM126.7 446.4h1.6v1.6h-1.6zM93.0 464.2h1.6v1.6h-1.6zM106.7 447.9h1.6v1.6h-1.6zM130.2 451.4h1.6v1.6h-1.6zM109.7 450.7h1.6v1.6h-1.6zM101.1 462.1h1.6v1.6h-1.6zM136.1 437.8h1.6v1.6h-1.6zM120.5 453.3h1.6v1.6h-1.6zM146.5 437.9h1.6v1.6h-1.6zM99.1 458.9h1.6v1.6h-1.6zM100.9 460.7h1.6v1.6h-1.6zM140.4 438.4h1.6v1.6h-1.6zM102.9 461.9h1.6v1.6h-1.6zM144.1 441.1h1.6v1.6h-1.6zM116.2 447.5h1.6v1.6h-1.6zM74.6 479.0h1.6v1.6h-1.6zM71.6 482.6h1.6v1.6h-1.6zM90.8 467.8h1.6v1.6h-1.6zM131.2 447.7h1.6v1.6h-1.6zM68.9 489.7h1.6v1.6h-1.6zM98.8 461.9h1.6v1.6h-1.6zM110.3 449.5h1.6v1.6h-1.6zM72.2 486.7h1.6v1.6h-1.6zM99.1 457.2h1.6v1.6h-1.6zM120.7 446.9h1.6v1.6h-1.6zM142.8 431.8h1.6v1.6h-1.6zM85.8 463.0h1.6v1.6h-1.6zM71.4 484.1h1.6v1.6h-1.6zM139.4 440.4h1.6v1.6h-1.6zM130.5 439.2h1.6v1.6h-1.6zM121.8 443.9h1.6v1.6h-1.6zM93.5 461.5h1.6v1.6h-1.6zM85.5 474.2h1.6v1.6h-1.6zM144.9 437.6h1.6v1.6h-1.6zM87.8 468.7h1.6v1.6h-1.6zM87.6 467.1h1.6v1.6h-1.6zM95.6 455.7h1.6v1.6h-1.6zM117.3 454.3h1.6v1.6h-1.6zM104.1 461.4h1.6v1.6h-1.6zM78.1 478.8h1.6v1.6h-1.6zM101.5 457.9h1.6v1.6h-1.6zM66.7 495.1h1.6v1.6h-1.6zM145.0 434.1h1.6v1.6h-1.6zM73.1 485.7h1.6v1.6h-1.6zM68.3 488.9h1.6v1.6h-1.6zM91.8 457.4h1.6v1.6h-1.6zM129.3 440.7h1.6v1.6h-1.6zM95.0 465.5h1.6v1.6h-1.6zM94.0 466.9h1.6v1.6h-1.6zM120.6 454.9h1.6v1.6h-1.6zM103.8 451.0h1.6v1.6h-1.6zM109.2 447.6h1.6v1.6h-1.6zM90.8 467.8h1.6v1.6h-1.6zM144.7 433.8h1.6v1.6h-1.6zM91.8 459.5h1.6v1.6h-1.6zM116.8 445.4h1.6v1.6h-1.6zM91.6 466.9h1.6v1.6h-1.6zM85.0 464.3h1.6v1.6h-1.6zM92.1 466.4h1.6v1.6h-1.6zM90.0 464.9h1.6v1.6h-1.6zM128.3 442.8h1.6v1.6h-1.6zM112.2 449.3h1.6v1.6h-1.6zM96.1 461.3h1.6v1.6h-1.6zM96.3 455.6h1.6v1.6h-1.6zM124.6 444.7h1.6v1.6h-1.6zM104.0 453.9h1.6v1.6h-1.6zM94.8 463.2h1.6v1.6h-1.6zM105.3 457.4h1.6v1.6h-1.6zM114.9 454.1h1.6v1.6h-1.6zM99.4 458.9h1.6v1.6h-1.6zM98.6 459.9h1.6v1.6h-1.6zM102.6 459.9h1.6v1.6h-1.6zM72.6 485.4h1.6v1.6h-1.6zM137.7 441.9h1.6v1.6h-1.6zM136.1 439.2h1.6v1.6h-1.6zM134.8 440.6h1.6v1.6h-1.6zM84.5 467.0h1.6v1.6h-1.6zM122.7 449.0h1.6v1.6h-1.6zM132.7 445.8h1.6v1.6h-1.6zM122.3 449.3h1.6v1.6h-1.6zM99.4 453.5h1.6v1.6h-1.6zM79.0 479.8h1.6v1.6h-1.6zM122.2 438.9h1.6v1.6h-1.6zM135.2 439.7h1.6v1.6h-1.6zM144.8 439.6h1.6v1.6h-1.6zM144.2 435.6h1.6v1.6h-1.6zM89.9 464.8h1.6v1.6h-1.6zM138.0 441.4h1.6v1.6h-1.6zM120.9 441.8h1.6v1.6h-1.6zM104.6 457.4h1.6v1.6h-1.6zM127.9 445.3h1.6v1.6h-1.6zM138.4 439.1h1.6v1.6h-1.6zM130.3 444.1h1.6v1.6h-1.6zM75.8 476.8h1.6v1.6h-1.6zM93.4 463.3h1.6v1.6h-1.6zM123.4 448.3h1.6v1.6h-1.6zM73.7 482.3h1.6v1.6h-1.6zM138.3 439.9h1.6v1.6h-1.6zM128.4 438.9h1.6v1.6h-1.6zM132.8 444.4h1.6v1.6h-1.6zM111.2 452.4h1.6v1.6h-1.6zM129.0 438.3h1.6v1.6h-1.6zM126.9 440.5h1.6v1.6h-1.6zM92.1 461.2h1.6v1.6h-1.6zM74.0 484.3h1.6v1.6h-1.6zM133.9 442.9h1.6v1.6h-1.6zM96.0 462.2h1.6v1.6h-1.6zM65.8 493.1h1.6v1.6h-1.6zM140.4 444.8h1.6v1.6h-1.6zM109.7 455.0h1.6v1.6h-1.6zM87.9 465.3h1.6v1.6h-1.6zM93.3 473.0h1.6v1.6h-1.6zM113.7 459.3h1.6v1.6h-1.6zM67.8 492.3h1.6v1.6h-1.6zM106.5 453.3h1.6v1.6h-1.6zM122.1 445.3h1.6v1.6h-1.6zM109.0 455.3h1.6v1.6h-1.6zM70.5 483.1h1.6v1.6h-1.6zM112.4 447.7h1.6v1.6h-1.6zM103.2 456.6h1.6v1.6h-1.6zM75.3 483.2h1.6v1.6h-1.6zM126.3 443.8h1.6v1.6h-1.6zM106.6 453.9h1.6v1.6h-1.6zM103.2 451.6h1.6v1.6h-1.6zM142.1 439.7h1.6v1.6h-1.6zM105.0 458.8h1.6v1.6h-1.6zM75.7 480.0h1.6v1.6h-1.6zM92.9 462.6h1.6v1.6h-1.6zM107.4 444.1h1.6v1.6h-1.6zM137.3 435.3h1.6v1.6h-1.6zM140.9 434.7h1.6v1.6h-1.6zM99.1 456.6h1.6v1.6h-1.6zM120.8 452.0h1.6v1.6h-1.6zM127.7 444.7h1.6v1.6h-1.6zM139.1 433.7h1.6v1.6h-1.6zM90.4 467.7h1.6v1.6h-1.6zM134.5 447.5h1.6v1.6h-1.6zM74.5 484.0h1.6v1.6h-1.6zM129.0 442.5h1.6v1.6h-1.6zM135.8 435.1h1.6v1.6h-1.6zM65.7 491.8h1.6v1.6h-1.6zM126.3 446.4h1.6v1.6h-1.6zM132.8 438.3h1.6v1.6h-1.6zM80.5 473.8h1.6v1.6h-1.6zM140.4 438.5h1.6v1.6h-1.6zM138.8 437.2h1.6v1.6h-1.6zM72.7 482.2h1.6v1.6h-1.6zM91.6 459.6h1.6v1.6h-1.6zM130.8 452.1h1.6v1.6h-1.6zM86.0 472.4h1.6v1.6h-1.6zM89.7 469.0h1.6v1.6h-1.6zM133.9 435.6h1.6v1.6h-1.6zM128.7 447.2h1.6v1.6h-1.6zM92.8 467.5h1.6v1.6h-1.6zM99.3 457.5h1.6v1.6h-1.6zM109.1 454.7h1.6v1.6h-1.6zM134.9 443.7h1.6v1.6h-1.6zM123.1 446.8h1.6v1.6h-1.6zM102.9 462.8h1.6v1.6h-1.6zM128.8 442.7h1.6v1.6h-1.6zM94.9 458.6h1.6v1.6h-1.6zM96.6 471.0h1.6v1.6h-1.6zM112.7 445.8h1.6v1.6h-1.6zM108.0 444.7h1.6v1.6h-1.6zM130.0 445.8h1.6v1.6h-1.6zM146.6 436.0h1.6v1.6h-1.6zM66.8 494.3h1.6v1.6h-1.6zM124.7 444.3h1.6v1.6h-1.6zM129.4 436.7h1.6v1.6h-1.6zM76.4 480.5h1.6v1.6h-1.6zM129.7 451.2h1.6v1.6h-1.6zM124.9 440.2h1.6v1.6h-1.6zM115.6 451.5h1.6v1.6h-1.6zM106.3 452.9h1.6v1.6h-1.6zM135.2 440.1h1.6v1.6h-1.6zM78.3 475.8h1.6v1.6h-1.6zM108.2 445.8h1.6v1.6h-1.6zM100.4 458.6h1.6v1.6h-1.6zM115.7 452.0h1.6v1.6h-1.6zM130.9 442.5h1.6v1.6h-1.6zM142.9 439.4h1.6v1.6h-1.6zM126.9 453.0h1.6v1.6h-1.6zM67.5 491.3h1.6v1.6h-1.6zM106.3 455.7h1.6v1.6h-1.6zM85.9 469.0h1.6v1.6h-1.6zM120.3 443.4h1.6v1.6h-1.6zM86.3 469.5h1.6v1.6h-1.6zM140.1 440.5h1.6v1.6h-1.6zM93.2 468.1h1.6v1.6h-1.6zM135.9 434.8h1.6v1.6h-1.6zM118.2 445.9h1.6v1.6h-1.6zM80.0 476.1h1.6v1.6h-1.6zM92.9 464.8h1.6v1.6h-1.6zM72.4 485.8h1.6v1.6h-1.6zM85.9 471.4h1.6v1.6h-1.6zM71.0 484.2h1.6v1.6h-1.6zM90.2 467.8h1.6v1.6h-1.6zM108.8 453.0h1.6v1.6h-1.6zM106.0 458.7h1.6v1.6h-1.6zM96.9 460.1h1.6v1.6h-1.6zM114.9 447.7h1.6v1.6h-1.6zM117.9 446.9h1.6v1.6h-1.6zM136.6 445.9h1.6v1.6h-1.6zM111.4 447.9h1.6v1.6h-1.6zM141.1 437.7h1.6v1.6h-1.6zM111.9 455.8h1.6v1.6h-1.6zM124.9 442.0h1.6v1.6h-1.6zM98.7 461.0h1.6v1.6h-1.6zM89.3 470.1h1.6v1.6h-1.6zM94.3 459.7h1.6v1.6h-1.6zM127.2 442.8h1.6v1.6h-1.6zM137.8 440.9h1.6v1.6h-1.6zM145.5 436.5h1.6v1.6h-1.6zM86.3 471.3h1.6v1.6h-1.6zM142.9 442.8h1.6v1.6h-1.6zM79.7 476.6h1.6v1.6h-1.6zM102.8 459.3h1.6v1.6h-1.6zM113.0 457.4h1.6v1.6h-1.6zM100.3 461.2h1.6v1.6h-1.6zM121.9 446.1h1.6v1.6h-1.6zM117.2 448.3h1.6v1.6h-1.6zM120.8 456.0h1.6v1.6h-1.6zM123.1 448.6h1.6v1.6h-1.6zM146.4 434.7h1.6v1.6h-1.6zM74.4 477.2h1.6v1.6h-1.6zM102.4 459.9h1.6v1.6h-1.6zM126.0 449.1h1.6v1.6h-1.6zM146.3 437.0h1.6v1.6h-1.6zM63.6 496.8h1.6v1.6h-1.6zM129.7 441.2h1.6v1.6h-1.6zM119.1 440.3h1.6v1.6h-1.6zM144.9 435.5h1.6v1.6h-1.6zM123.8 439.6h1.6v1.6h-1.6zM106.6 455.4h1.6v1.6h-1.6zM145.7 434.9h1.6v1.6h-1.6zM107.8 456.5h1.6v1.6h-1.6zM89.8 475.3h1.6v1.6h-1.6zM100.0 455.8h1.6v1.6h-1.6zM119.7 451.0h1.6v1.6h-1.6zM110.3 457.9h1.6v1.6h-1.6zM144.6 441.2h1.6v1.6h-1.6zM81.9 472.8h1.6v1.6h-1.6zM118.3 445.2h1.6v1.6h-1.6zM107.5 454.0h1.6v1.6h-1.6zM117.2 451.8h1.6v1.6h-1.6zM123.1 442.0h1.6v1.6h-1.6zM79.7 478.6h1.6v1.6h-1.6zM132.5 441.9h1.6v1.6h-1.6zM79.0 472.0h1.6v1.6h-1.6zM145.5 439.3h1.6v1.6h-1.6zM75.5 480.1h1.6v1.6h-1.6zM98.1 464.4h1.6v1.6h-1.6zM147.0 437.3h1.6v1.6h-1.6zM88.9 467.2h1.6v1.6h-1.6zM96.1 460.1h1.6v1.6h-1.6zM78.7 475.6h1.6v1.6h-1.6zM138.4 437.7h1.6v1.6h-1.6zM133.2 444.5h1.6v1.6h-1.6zM140.3 433.3h1.6v1.6h-1.6zM77.3 478.4h1.6v1.6h-1.6zM130.2 438.8h1.6v1.6h-1.6zM113.6 447.7h1.6v1.6h-1.6zM63.8 497.9h1.6v1.6h-1.6zM110.7 452.5h1.6v1.6h-1.6zM109.8 452.6h1.6v1.6h-1.6zM117.4 454.8h1.6v1.6h-1.6zM130.0 436.6h1.6v1.6h-1.6zM120.3 446.1h1.6v1.6h-1.6zM102.3 460.3h1.6v1.6h-1.6zM132.2 443.3h1.6v1.6h-1.6zM125.0 442.1h1.6v1.6h-1.6zM112.8 448.0h1.6v1.6h-1.6zM66.4 494.7h1.6v1.6h-1.6zM129.2 448.0h1.6v1.6h-1.6zM145.8 432.7h1.6v1.6h-1.6zM130.0 445.7h1.6v1.6h-1.6zM109.0 450.0h1.6v1.6h-1.6zM86.5 467.2h1.6v1.6h-1.6zM115.0 449.0h1.6v1.6h-1.6zM131.7 447.4h1.6v1.6h-1.6zM137.3 441.2h1.6v1.6h-1.6zM76.8 479.5h1.6v1.6h-1.6zM102.5 453.9h1.6v1.6h-1.6zM76.7 480.4h1.6v1.6h-1.6zM139.2 439.8h1.6v1.6h-1.6zM123.4 448.6h1.6v1.6h-1.6zM85.4 469.8h1.6v1.6h-1.6zM64.7 495.0h1.6v1.6h-1.6zM117.8 457.7h1.6v1.6h-1.6zM111.9 456.5h1.6v1.6h-1.6zM124.7 446.2h1.6v1.6h-1.6zM147.5 433.8h1.6v1.6h-1.6zM100.4 456.0h1.6v1.6h-1.6zM104.2 463.6h1.6v1.6h-1.6zM86.3 470.2h1.6v1.6h-1.6zM70.5 488.7h1.6v1.6h-1.6zM104.0 457.3h1.6v1.6h-1.6zM147.9 437.4h1.6v1.6h-1.6zM134.9 438.5h1.6v1.6h-1.6zM123.6 438.1h1.6v1.6h-1.6zM86.2 463.5h1.6v1.6h-1.6zM146.5 433.8h1.6v1.6h-1.6zM118.9 451.7h1.6v1.6h-1.6zM140.1 443.5h1.6v1.6h-1.6zM120.8 447.5h1.6v1.6h-1.6zM120.9 445.3h1.6v1.6h-1.6zM83.0 467.5h1.6v1.6h-1.6zM117.9 443.0h1.6v1.6h-1.6zM109.5 459.3h1.6v1.6h-1.6zM104.5 455.2h1.6v1.6h-1.6zM105.5 453.1h1.6v1.6h-1.6zM92.8 467.1h1.6v1.6h-1.6zM122.4 448.7h1.6v1.6h-1.6zM93.1 461.1h1.6v1.6h-1.6zM64.7 497.1h1.6v1.6h-1.6zM110.7 454.7h1.6v1.6h-1.6zM135.1 436.7h1.6v1.6h-1.6zM99.1 461.6h1.6v1.6h-1.6zM105.1 456.5h1.6v1.6h-1.6zM115.4 445.2h1.6v1.6h-1.6zM121.6 440.5h1.6v1.6h-1.6zM131.8 438.7h1.6v1.6h-1.6zM93.1 467.4h1.6v1.6h-1.6zM135.2 436.4h1.6v1.6h-1.6zM83.6 474.6h1.6v1.6h-1.6zM97.1 464.2h1.6v1.6h-1.6zM126.3 442.6h1.6v1.6h-1.6zM101.2 460.5h1.6v1.6h-1.6zM123.3 444.8h1.6v1.6h-1.6zM119.8 446.0h1.6v1.6h-1.6zM72.4 482.3h1.6v1.6h-1.6zM73.8 484.2h1.6v1.6h-1.6zM130.5 444.2h1.6v1.6h-1.6zM109.9 447.5h1.6v1.6h-1.6zM135.1 435.4h1.6v1.6h-1.6zM145.0 434.8h1.6v1.6h-1.6zM113.5 444.5h1.6v1.6h-1.6zM87.0 466.8h1.6v1.6h-1.6zM138.0 439.0h1.6v1.6h-1.6zM147.0 434.5h1.6v1.6h-1.6zM105.4 450.0h1.6v1.6h-1.6zM84.3 473.7h1.6v1.6h-1.6zM88.4 466.5h1.6v1.6h-1.6zM87.4 466.3h1.6v1.6h-1.6zM114.2 449.7h1.6v1.6h-1.6zM144.0 436.7h1.6v1.6h-1.6zM95.8 456.9h1.6v1.6h-1.6zM117.3 451.3h1.6v1.6h-1.6zM126.0 452.6h1.6v1.6h-1.6zM87.3 469.7h1.6v1.6h-1.6zM124.4 440.2h1.6v1.6h-1.6zM67.0 492.7h1.6v1.6h-1.6zM103.7 457.3h1.6v1.6h-1.6zM138.0 441.4h1.6v1.6h-1.6zM79.8 477.9h1.6v1.6h-1.6zM142.4 438.1h1.6v1.6h-1.6zM115.8 452.4h1.6v1.6h-1.6zM94.8 460.8h1.6v1.6h-1.6zM118.6 449.0h1.6v1.6h-1.6zM138.5 443.2h1.6v1.6h-1.6zM100.4 453.5h1.6v1.6h-1.6zM81.5 474.3h1.6v1.6h-1.6zM141.7 435.3h1.6v1.6h-1.6zM100.2 455.8h1.6v1.6h-1.6zM94.6 455.2h1.6v1.6h-1.6zM108.3 451.6h1.6v1.6h-1.6zM86.6 467.2h1.6v1.6h-1.6zM136.7 439.2h1.6v1.6h-1.6zM98.1 462.8h1.6v1.6h-1.6zM107.4 461.0h1.6v1.6h-1.6zM108.4 456.9h1.6v1.6h-1.6zM110.0 454.9h1.6v1.6h-1.6zM119.6 456.9h1.6v1.6h-1.6zM82.3 475.9h1.6v1.6h-1.6zM78.4 475.7h1.6v1.6h-1.6zM128.1 441.0h1.6v1.6h-1.6zM125.0 447.5h1.6v1.6h-1.6zM116.9 449.1h1.6v1.6h-1.6zM142.3 438.8h1.6v1.6h-1.6zM99.1 463.3h1.6v1.6h-1.6zM65.4 496.8h1.6v1.6h-1.6zM100.7 456.8h1.6v1.6h-1.6zM138.0 439.7h1.6v1.6h-1.6zM89.1 457.4h1.6v1.6h-1.6zM134.0 437.2h1.6v1.6h-1.6zM118.6 446.7h1.6v1.6h-1.6zM112.0 455.5h1.6v1.6h-1.6zM119.4 440.7h1.6v1.6h-1.6zM120.1 440.9h1.6v1.6h-1.6zM144.8 435.0h1.6v1.6h-1.6zM103.8 462.5h1.6v1.6h-1.6zM141.5 431.9h1.6v1.6h-1.6zM79.6 475.0h1.6v1.6h-1.6zM128.5 435.7h1.6v1.6h-1.6zM101.7 455.8h1.6v1.6h-1.6zM127.3 443.4h1.6v1.6h-1.6zM101.2 455.9h1.6v1.6h-1.6zM106.7 457.3h1.6v1.6h-1.6zM88.8 470.5h1.6v1.6h-1.6zM80.4 476.9h1.6v1.6h-1.6zM97.0 462.1h1.6v1.6h-1.6zM103.5 454.4h1.6v1.6h-1.6zM122.8 446.8h1.6v1.6h-1.6zM129.4 443.1h1.6v1.6h-1.6zM132.4 437.9h1.6v1.6h-1.6zM124.1 444.0h1.6v1.6h-1.6zM135.2 439.5h1.6v1.6h-1.6zM97.9 464.8h1.6v1.6h-1.6zM112.6 456.6h1.6v1.6h-1.6zM80.7 474.4h1.6v1.6h-1.6zM143.6 440.1h1.6v1.6h-1.6zM138.4 434.9h1.6v1.6h-1.6zM118.0 451.1h1.6v1.6h-1.6zM138.0 443.3h1.6v1.6h-1.6zM95.9 466.7h1.6v1.6h-1.6zM124.6 440.9h1.6v1.6h-1.6zM103.2 454.6h1.6v1.6h-1.6zM86.7 470.3h1.6v1.6h-1.6zM115.0 447.8h1.6v1.6h-1.6zM138.4 432.4h1.6v1.6h-1.6zM144.5 441.7h1.6v1.6h-1.6zM125.9 443.4h1.6v1.6h-1.6zM95.5 463.2h1.6v1.6h-1.6zM116.2 450.1h1.6v1.6h-1.6zM75.9 475.8h1.6v1.6h-1.6zM137.5 438.3h1.6v1.6h-1.6zM143.0 438.6h1.6v1.6h-1.6zM124.7 439.5h1.6v1.6h-1.6zM89.9 469.8h1.6v1.6h-1.6zM86.2 469.9h1.6v1.6h-1.6zM126.1 444.1h1.6v1.6h-1.6zM142.3 442.5h1.6v1.6h-1.6zM101.6 459.7h1.6v1.6h-1.6zM108.0 452.3h1.6v1.6h-1.6zM118.8 446.7h1.6v1.6h-1.6zM114.3 442.6h1.6v1.6h-1.6zM137.1 432.5h1.6v1.6h-1.6zM118.5 449.3h1.6v1.6h-1.6zM98.7 459.6h1.6v1.6h-1.6zM80.4 468.6h1.6v1.6h-1.6zM130.0 444.1h1.6v1.6h-1.6zM130.6 444.1h1.6v1.6h-1.6zM70.0 490.8h1.6v1.6h-1.6zM81.8 479.3h1.6v1.6h-1.6zM100.0 456.1h1.6v1.6h-1.6zM122.9 450.0h1.6v1.6h-1.6zM126.8 441.4h1.6v1.6h-1.6zM67.5 488.7h1.6v1.6h-1.6zM116.6 443.8h1.6v1.6h-1.6zM142.3 434.4h1.6v1.6h-1.6zM97.9 464.7h1.6v1.6h-1.6zM139.7 436.0h1.6v1.6h-1.6zM99.9 456.5h1.6v1.6h-1.6zM139.8 436.8h1.6v1.6h-1.6zM141.1 441.4h1.6v1.6h-1.6zM72.3 484.7h1.6v1.6h-1.6zM137.2 440.6h1.6v1.6h-1.6zM84.0 470.5h1.6v1.6h-1.6zM118.1 445.8h1.6v1.6h-1.6zM139.3 433.6h1.6v1.6h-1.6zM92.8 470.8h1.6v1.6h-1.6zM133.5 442.3h1.6v1.6h-1.6zM102.9 457.1h1.6v1.6h-1.6zM111.3 451.8h1.6v1.6h-1.6zM76.5 476.3h1.6v1.6h-1.6zM90.0 467.7h1.6v1.6h-1.6zM127.1 441.6h1.6v1.6h-1.6zM126.8 438.2h1.6v1.6h-1.6zM123.2 452.1h1.6v1.6h-1.6zM103.5 452.1h1.6v1.6h-1.6zM126.2 444.3h1.6v1.6h-1.6zM125.9 444.7h1.6v1.6h-1.6zM106.7 456.6h1.6v1.6h-1.6zM106.4 458.9h1.6v1.6h-1.6zM90.5 473.2h1.6v1.6h-1.6zM102.1 462.7h1.6v1.6h-1.6zM75.2 478.3h1.6v1.6h-1.6zM131.9 450.2h1.6v1.6h-1.6zM136.6 442.7h1.6v1.6h-1.6zM84.0 477.1h1.6v1.6h-1.6zM85.0 472.8h1.6v1.6h-1.6zM127.0 437.0h1.6v1.6h-1.6zM119.7 449.0h1.6v1.6h-1.6zM91.9 463.1h1.6v1.6h-1.6zM66.2 494.9h1.6v1.6h-1.6zM90.0 466.0h1.6v1.6h-1.6zM90.5 461.8h1.6v1.6h-1.6zM80.5 480.0h1.6v1.6h-1.6zM127.5 444.5h1.6v1.6h-1.6zM108.5 448.9h1.6v1.6h-1.6zM87.6 469.1h1.6v1.6h-1.6zM136.5 436.6h1.6v1.6h-1.6zM134.8 442.3h1.6v1.6h-1.6zM100.9 467.0h1.6v1.6h-1.6zM136.4 438.3h1.6v1.6h-1.6zM136.4 436.1h1.6v1.6h-1.6zM125.6 444.1h1.6v1.6h-1.6zM111.6 446.0h1.6v1.6h-1.6zM142.2 436.6h1.6v1.6h-1.6zM130.4 445.9h1.6v1.6h-1.6zM83.6 476.5h1.6v1.6h-1.6zM111.0 455.5h1.6v1.6h-1.6zM78.7 479.2h1.6v1.6h-1.6zM68.2 491.0h1.6v1.6h-1.6zM107.3 452.0h1.6v1.6h-1.6zM99.6 457.6h1.6v1.6h-1.6zM98.6 464.4h1.6v1.6h-1.6zM82.0 471.5h1.6v1.6h-1.6zM104.6 461.7h1.6v1.6h-1.6zM101.4 457.9h1.6v1.6h-1.6zM138.8 444.3h1.6v1.6h-1.6zM102.9 452.5h1.6v1.6h-1.6zM135.7 442.8h1.6v1.6h-1.6zM107.6 449.0h1.6v1.6h-1.6zM118.6 448.8h1.6v1.6h-1.6zM107.0 454.8h1.6v1.6h-1.6zM98.1 464.3h1.6v1.6h-1.6zM129.1 452.7h1.6v1.6h-1.6zM103.4 462.0h1.6v1.6h-1.6zM126.3 450.1h1.6v1.6h-1.6zM123.1 451.3h1.6v1.6h-1.6zM109.0 449.1h1.6v1.6h-1.6zM96.0 460.9h1.6v1.6h-1.6zM110.7 446.0h1.6v1.6h-1.6zM128.6 443.5h1.6v1.6h-1.6zM76.0 483.3h1.6v1.6h-1.6zM129.2 441.4h1.6v1.6h-1.6zM106.7 450.1h1.6v1.6h-1.6zM121.4 453.0h1.6v1.6h-1.6zM88.3 468.7h1.6v1.6h-1.6zM101.1 453.2h1.6v1.6h-1.6zM91.3 469.0h1.6v1.6h-1.6zM111.0 457.5h1.6v1.6h-1.6zM116.9 445.6h1.6v1.6h-1.6zM138.6 436.9h1.6v1.6h-1.6zM131.5 444.3h1.6v1.6h-1.6zM79.5 482.0h1.6v1.6h-1.6zM142.2 438.2h1.6v1.6h-1.6zM115.5 452.2h1.6v1.6h-1.6zM95.0 461.2h1.6v1.6h-1.6zM83.3 473.0h1.6v1.6h-1.6zM140.6 437.0h1.6v1.6h-1.6zM124.8 446.4h1.6v1.6h-1.6zM78.4 477.8h1.6v1.6h-1.6zM141.0 432.2h1.6v1.6h-1.6zM86.1 472.0h1.6v1.6h-1.6zM96.0 465.5h1.6v1.6h-1.6zM74.7 486.1h1.6v1.6h-1.6zM108.3 456.4h1.6v1.6h-1.6zM118.1 445.7h1.6v1.6h-1.6zM78.1 471.3h1.6v1.6h-1.6zM98.1 465.5h1.6v1.6h-1.6zM108.5 457.9h1.6v1.6h-1.6zM131.9 436.8h1.6v1.6h-1.6zM110.2 445.8h1.6v1.6h-1.6zM119.8 446.1h1.6v1.6h-1.6zM105.5 464.2h1.6v1.6h-1.6zM136.6 446.3h1.6v1.6h-1.6zM116.6 449.8h1.6v1.6h-1.6zM113.9 448.5h1.6v1.6h-1.6zM83.9 466.7h1.6v1.6h-1.6zM126.2 446.5h1.6v1.6h-1.6zM117.4 444.4h1.6v1.6h-1.6zM82.5 471.8h1.6v1.6h-1.6zM102.6 463.7h1.6v1.6h-1.6zM99.3 461.4h1.6v1.6h-1.6zM122.4 449.5h1.6v1.6h-1.6zM72.3 484.5h1.6v1.6h-1.6zM72.9 481.9h1.6v1.6h-1.6zM117.0 448.2h1.6v1.6h-1.6zM106.7 450.9h1.6v1.6h-1.6zM89.7 465.0h1.6v1.6h-1.6zM114.6 453.4h1.6v1.6h-1.6zM68.9 492.2h1.6v1.6h-1.6zM114.0 452.9h1.6v1.6h-1.6zM134.3 444.0h1.6v1.6h-1.6zM132.1 439.0h1.6v1.6h-1.6zM130.5 446.4h1.6v1.6h-1.6zM120.1 452.8h1.6v1.6h-1.6zM85.6 460.9h1.6v1.6h-1.6zM103.0 455.1h1.6v1.6h-1.6zM134.9 435.4h1.6v1.6h-1.6zM95.5 462.8h1.6v1.6h-1.6zM133.1 438.4h1.6v1.6h-1.6zM140.9 439.7h1.6v1.6h-1.6zM109.2 454.1h1.6v1.6h-1.6zM116.6 453.4h1.6v1.6h-1.6zM127.7 443.8h1.6v1.6h-1.6zM122.9 444.2h1.6v1.6h-1.6zM127.0 445.2h1.6v1.6h-1.6zM133.8 446.2h1.6v1.6h-1.6zM137.2 441.0h1.6v1.6h-1.6zM121.1 445.7h1.6v1.6h-1.6zM140.5 436.5h1.6v1.6h-1.6zM124.0 449.6h1.6v1.6h-1.6zM108.9 462.1h1.6v1.6h-1.6zM89.9 465.8h1.6v1.6h-1.6zM110.5 454.1h1.6v1.6h-1.6zM98.9 457.8h1.6v1.6h-1.6zM69.4 487.0h1.6v1.6h-1.6zM113.6 447.6h1.6v1.6h-1.6zM145.3 436.7h1.6v1.6h-1.6zM88.4 471.7h1.6v1.6h-1.6zM126.2 438.6h1.6v1.6h-1.6zM69.9 488.5h1.6v1.6h-1.6zM112.6 449.0h1.6v1.6h-1.6zM97.5 467.1h1.6v1.6h-1.6zM112.0 443.7h1.6v1.6h-1.6zM75.6 480.4h1.6v1.6h-1.6zM83.4 466.1h1.6v1.6h-1.6zM100.6 453.7h1.6v1.6h-1.6zM79.2 476.1h1.6v1.6h-1.6zM95.2 460.2h1.6v1.6h-1.6zM133.8 445.6h1.6v1.6h-1.6zM117.9 448.2h1.6v1.6h-1.6zM141.1 437.2h1.6v1.6h-1.6zM98.6 462.6h1.6v1.6h-1.6zM105.5 455.2h1.6v1.6h-1.6zM110.6 450.6h1.6v1.6h-1.6zM103.9 455.3h1.6v1.6h-1.6zM87.5 468.5h1.6v1.6h-1.6zM134.8 436.2h1.6v1.6h-1.6zM113.3 445.3h1.6v1.6h-1.6zM134.0 443.3h1.6v1.6h-1.6zM72.2 479.3h1.6v1.6h-1.6zM119.8 450.3h1.6v1.6h-1.6zM134.8 443.0h1.6v1.6h-1.6zM124.8 447.6h1.6v1.6h-1.6zM130.3 446.8h1.6v1.6h-1.6zM95.9 461.2h1.6v1.6h-1.6zM137.1 441.4h1.6v1.6h-1.6zM113.2 443.1h1.6v1.6h-1.6zM140.7 440.8h1.6v1.6h-1.6zM114.3 453.3h1.6v1.6h-1.6zM86.3 470.9h1.6v1.6h-1.6zM124.9 454.4h1.6v1.6h-1.6zM135.8 434.8h1.6v1.6h-1.6zM132.7 434.9h1.6v1.6h-1.6zM131.4 449.0h1.6v1.6h-1.6zM90.1 466.4h1.6v1.6h-1.6zM105.4 460.5h1.6v1.6h-1.6zM109.4 443.5h1.6v1.6h-1.6zM101.6 460.0h1.6v1.6h-1.6zM112.1 453.6h1.6v1.6h-1.6zM89.4 467.7h1.6v1.6h-1.6zM127.1 447.7h1.6v1.6h-1.6zM101.8 460.4h1.6v1.6h-1.6zM103.8 460.7h1.6v1.6h-1.6zM106.0 460.2h1.6v1.6h-1.6zM93.9 462.0h1.6v1.6h-1.6zM118.7 447.3h1.6v1.6h-1.6zM130.1 433.9h1.6v1.6h-1.6zM98.3 465.0h1.6v1.6h-1.6zM122.2 445.0h1.6v1.6h-1.6zM114.1 450.5h1.6v1.6h-1.6zM144.5 435.6h1.6v1.6h-1.6zM134.3 442.9h1.6v1.6h-1.6zM100.0 458.6h1.6v1.6h-1.6zM75.1 479.2h1.6v1.6h-1.6zM82.5 474.4h1.6v1.6h-1.6zM122.0 447.8h1.6v1.6h-1.6zM98.0 465.4h1.6v1.6h-1.6zM141.3 440.6h1.6v1.6h-1.6zM146.7 436.8h1.6v1.6h-1.6zM140.1 439.2h1.6v1.6h-1.6zM126.1 446.5h1.6v1.6h-1.6zM124.9 435.1h1.6v1.6h-1.6zM123.8 444.4h1.6v1.6h-1.6zM108.0 445.5h1.6v1.6h-1.6zM130.7 443.7h1.6v1.6h-1.6zM124.9 446.1h1.6v1.6h-1.6zM79.4 478.8h1.6v1.6h-1.6zM122.6 448.1h1.6v1.6h-1.6zM133.1 437.5h1.6v1.6h-1.6zM144.4 441.8h1.6v1.6h-1.6zM76.1 481.4h1.6v1.6h-1.6zM137.2 444.0h1.6v1.6h-1.6zM107.1 453.2h1.6v1.6h-1.6zM66.3 491.0h1.6v1.6h-1.6zM119.4 448.7h1.6v1.6h-1.6zM111.2 450.4h1.6v1.6h-1.6zM100.6 455.3h1.6v1.6h-1.6zM112.0 446.3h1.6v1.6h-1.6zM123.7 439.6h1.6v1.6h-1.6zM114.4 451.3h1.6v1.6h-1.6zM80.8 478.2h1.6v1.6h-1.6zM122.1 449.3h1.6v1.6h-1.6zM67.4 493.3h1.6v1.6h-1.6zM64.4 495.9h1.6v1.6h-1.6zM75.5 483.5h1.6v1.6h-1.6zM115.2 448.8h1.6v1.6h-1.6zM105.3 459.4h1.6v1.6h-1.6zM128.4 440.2h1.6v1.6h-1.6zM72.9 485.1h1.6v1.6h-1.6zM108.9 452.2h1.6v1.6h-1.6zM105.6 455.1h1.6v1.6h-1.6zM79.8 470.7h1.6v1.6h-1.6zM92.6 465.7h1.6v1.6h-1.6zM105.3 460.0h1.6v1.6h-1.6zM96.1 464.9h1.6v1.6h-1.6zM114.4 443.0h1.6v1.6h-1.6zM87.4 473.3h1.6v1.6h-1.6zM84.6 473.6h1.6v1.6h-1.6zM76.0 481.5h1.6v1.6h-1.6zM102.3 453.4h1.6v1.6h-1.6zM122.6 443.4h1.6v1.6h-1.6zM132.5 443.9h1.6v1.6h-1.6zM134.0 445.3h1.6v1.6h-1.6zM109.0 453.8h1.6v1.6h-1.6zM135.9 439.9h1.6v1.6h-1.6zM112.8 455.2h1.6v1.6h-1.6zM117.0 449.1h1.6v1.6h-1.6zM122.0 438.4h1.6v1.6h-1.6zM84.0 474.8h1.6v1.6h-1.6zM114.5 451.2h1.6v1.6h-1.6zM79.0 474.3h1.6v1.6h-1.6zM136.1 438.1h1.6v1.6h-1.6zM114.9 454.4h1.6v1.6h-1.6zM93.4 464.4h1.6v1.6h-1.6zM88.8 460.1h1.6v1.6h-1.6zM93.4 464.9h1.6v1.6h-1.6zM105.5 453.0h1.6v1.6h-1.6zM124.6 447.9h1.6v1.6h-1.6zM102.6 459.3h1.6v1.6h-1.6zM101.7 460.5h1.6v1.6h-1.6zM102.6 461.5h1.6v1.6h-1.6zM75.1 472.0h1.6v1.6h-1.6zM141.7 437.3h1.6v1.6h-1.6zM91.0 466.2h1.6v1.6h-1.6zM111.4 446.5h1.6v1.6h-1.6zM124.5 445.7h1.6v1.6h-1.6zM95.6 460.1h1.6v1.6h-1.6zM117.0 454.8h1.6v1.6h-1.6zM127.8 438.0h1.6v1.6h-1.6zM112.5 450.2h1.6v1.6h-1.6zM132.4 439.6h1.6v1.6h-1.6zM143.5 434.1h1.6v1.6h-1.6zM108.8 455.2h1.6v1.6h-1.6zM104.3 462.4h1.6v1.6h-1.6zM112.4 451.1h1.6v1.6h-1.6zM142.3 438.5h1.6v1.6h-1.6zM107.0 464.8h1.6v1.6h-1.6zM107.2 454.2h1.6v1.6h-1.6zM120.0 445.7h1.6v1.6h-1.6zM141.8 434.5h1.6v1.6h-1.6zM96.8 455.1h1.6v1.6h-1.6zM146.4 436.1h1.6v1.6h-1.6zM121.9 450.8h1.6v1.6h-1.6zM127.0 447.7h1.6v1.6h-1.6zM87.3 469.4h1.6v1.6h-1.6zM124.5 447.2h1.6v1.6h-1.6zM142.1 445.2h1.6v1.6h-1.6zM74.5 479.1h1.6v1.6h-1.6zM102.8 455.3h1.6v1.6h-1.6zM95.5 466.8h1.6v1.6h-1.6zM67.8 493.0h1.6v1.6h-1.6zM146.1 437.5h1.6v1.6h-1.6zM134.9 445.1h1.6v1.6h-1.6zM128.8 442.1h1.6v1.6h-1.6zM107.9 457.2h1.6v1.6h-1.6zM146.2 436.5h1.6v1.6h-1.6zM146.2 436.4h1.6v1.6h-1.6zM83.7 471.3h1.6v1.6h-1.6zM95.5 467.3h1.6v1.6h-1.6zM79.6 475.8h1.6v1.6h-1.6zM139.7 440.9h1.6v1.6h-1.6zM89.0 472.8h1.6v1.6h-1.6zM126.6 443.8h1.6v1.6h-1.6zM80.7 476.6h1.6v1.6h-1.6zM137.7 433.0h1.6v1.6h-1.6zM115.0 446.8h1.6v1.6h-1.6zM137.8 435.9h1.6v1.6h-1.6zM128.1 449.5h1.6v1.6h-1.6zM115.6 451.7h1.6v1.6h-1.6zM122.6 442.0h1.6v1.6h-1.6zM141.8 435.6h1.6v1.6h-1.6zM138.9 435.3h1.6v1.6h-1.6zM120.6 441.5h1.6v1.6h-1.6zM76.1 482.4h1.6v1.6h-1.6zM88.0 471.2h1.6v1.6h-1.6zM128.1 441.6h1.6v1.6h-1.6zM139.2 435.4h1.6v1.6h-1.6zM109.6 456.2h1.6v1.6h-1.6zM93.6 471.3h1.6v1.6h-1.6zM131.6 441.9h1.6v1.6h-1.6zM124.3 452.1h1.6v1.6h-1.6zM64.4 497.7h1.6v1.6h-1.6zM80.7 481.9h1.6v1.6h-1.6zM68.0 492.6h1.6v1.6h-1.6zM145.1 434.5h1.6v1.6h-1.6zM65.5 496.0h1.6v1.6h-1.6zM89.0 469.1h1.6v1.6h-1.6zM74.5 482.2h1.6v1.6h-1.6zM84.3 467.8h1.6v1.6h-1.6zM72.3 485.9h1.6v1.6h-1.6zM113.9 452.6h1.6v1.6h-1.6zM117.2 444.4h1.6v1.6h-1.6zM116.0 458.1h1.6v1.6h-1.6zM102.4 466.8h1.6v1.6h-1.6zM115.9 449.3h1.6v1.6h-1.6zM140.7 440.7h1.6v1.6h-1.6zM92.6 458.4h1.6v1.6h-1.6zM77.1 477.6h1.6v1.6h-1.6zM111.6 459.1h1.6v1.6h-1.6zM97.3 466.5h1.6v1.6h-1.6zM124.8 443.0h1.6v1.6h-1.6zM90.3 465.5h1.6v1.6h-1.6zM133.3 441.1h1.6v1.6h-1.6zM140.8 435.6h1.6v1.6h-1.6zM98.7 462.5h1.6v1.6h-1.6zM129.8 446.8h1.6v1.6h-1.6zM120.1 441.9h1.6v1.6h-1.6zM81.1 477.0h1.6v1.6h-1.6zM105.6 449.2h1.6v1.6h-1.6zM104.2 451.2h1.6v1.6h-1.6zM80.7 474.3h1.6v1.6h-1.6zM103.6 456.5h1.6v1.6h-1.6zM102.9 451.1h1.6v1.6h-1.6zM109.1 456.5h1.6v1.6h-1.6zM64.0 497.8h1.6v1.6h-1.6zM100.8 466.0h1.6v1.6h-1.6zM137.0 439.8h1.6v1.6h-1.6zM140.1 441.7h1.6v1.6h-1.6zM133.4 432.9h1.6v1.6h-1.6zM129.5 448.3h1.6v1.6h-1.6zM123.3 440.2h1.6v1.6h-1.6zM84.7 469.9h1.6v1.6h-1.6zM137.2 444.3h1.6v1.6h-1.6zM106.5 451.4h1.6v1.6h-1.6zM110.9 449.0h1.6v1.6h-1.6zM120.5 452.2h1.6v1.6h-1.6zM133.3 438.1h1.6v1.6h-1.6zM88.2 470.0h1.6v1.6h-1.6zM69.1 490.1h1.6v1.6h-1.6zM84.9 481.1h1.6v1.6h-1.6zM115.0 462.7h1.6v1.6h-1.6zM112.0 460.7h1.6v1.6h-1.6zM94.8 473.0h1.6v1.6h-1.6zM110.7 463.8h1.6v1.6h-1.6zM85.2 480.9h1.6v1.6h-1.6zM132.1 454.9h1.6v1.6h-1.6zM128.8 451.5h1.6v1.6h-1.6zM126.4 459.7h1.6v1.6h-1.6zM109.7 458.3h1.6v1.6h-1.6zM132.1 452.4h1.6v1.6h-1.6zM101.5 471.2h1.6v1.6h-1.6zM116.8 456.1h1.6v1.6h-1.6zM133.5 448.6h1.6v1.6h-1.6zM124.1 456.9h1.6v1.6h-1.6zM96.1 471.6h1.6v1.6h-1.6zM120.8 456.1h1.6v1.6h-1.6zM76.5 479.8h1.6v1.6h-1.6zM130.2 454.3h1.6v1.6h-1.6zM90.9 477.0h1.6v1.6h-1.6zM129.7 453.2h1.6v1.6h-1.6zM136.6 450.9h1.6v1.6h-1.6zM121.2 450.4h1.6v1.6h-1.6zM115.8 464.1h1.6v1.6h-1.6zM131.4 455.3h1.6v1.6h-1.6zM122.3 460.6h1.6v1.6h-1.6zM85.2 476.4h1.6v1.6h-1.6zM124.9 454.1h1.6v1.6h-1.6zM82.7 484.6h1.6v1.6h-1.6zM118.5 460.3h1.6v1.6h-1.6zM105.0 470.8h1.6v1.6h-1.6zM83.8 477.8h1.6v1.6h-1.6zM82.3 487.3h1.6v1.6h-1.6zM125.1 457.6h1.6v1.6h-1.6zM89.8 478.8h1.6v1.6h-1.6zM107.3 460.5h1.6v1.6h-1.6zM119.1 458.2h1.6v1.6h-1.6zM79.8 482.3h1.6v1.6h-1.6zM100.4 465.7h1.6v1.6h-1.6zM88.7 472.1h1.6v1.6h-1.6zM116.8 455.0h1.6v1.6h-1.6zM130.8 456.3h1.6v1.6h-1.6zM107.4 463.8h1.6v1.6h-1.6zM84.2 476.9h1.6v1.6h-1.6zM131.3 456.1h1.6v1.6h-1.6zM90.6 471.4h1.6v1.6h-1.6zM87.8 475.2h1.6v1.6h-1.6zM133.9 449.5h1.6v1.6h-1.6zM98.1 473.9h1.6v1.6h-1.6zM127.4 455.6h1.6v1.6h-1.6zM133.0 451.0h1.6v1.6h-1.6zM102.0 468.0h1.6v1.6h-1.6zM133.5 455.8h1.6v1.6h-1.6zM139.3 449.0h1.6v1.6h-1.6zM135.9 450.5h1.6v1.6h-1.6zM107.6 466.0h1.6v1.6h-1.6zM97.6 467.0h1.6v1.6h-1.6zM99.6 469.1h1.6v1.6h-1.6zM121.6 464.0h1.6v1.6h-1.6zM95.8 469.8h1.6v1.6h-1.6zM91.9 471.8h1.6v1.6h-1.6zM107.8 471.7h1.6v1.6h-1.6zM128.2 454.6h1.6v1.6h-1.6zM119.2 458.7h1.6v1.6h-1.6zM120.1 455.9h1.6v1.6h-1.6zM96.3 470.8h1.6v1.6h-1.6zM107.3 463.6h1.6v1.6h-1.6zM119.6 462.2h1.6v1.6h-1.6zM81.6 480.8h1.6v1.6h-1.6zM138.2 451.2h1.6v1.6h-1.6zM88.9 481.6h1.6v1.6h-1.6zM133.9 453.0h1.6v1.6h-1.6zM83.6 481.0h1.6v1.6h-1.6zM100.3 467.4h1.6v1.6h-1.6zM88.1 479.7h1.6v1.6h-1.6zM107.4 468.9h1.6v1.6h-1.6zM131.4 449.8h1.6v1.6h-1.6zM82.0 485.4h1.6v1.6h-1.6zM100.9 467.1h1.6v1.6h-1.6zM90.8 476.2h1.6v1.6h-1.6zM112.0 460.0h1.6v1.6h-1.6zM87.2 472.3h1.6v1.6h-1.6zM85.3 480.0h1.6v1.6h-1.6zM82.0 485.1h1.6v1.6h-1.6zM130.0 452.7h1.6v1.6h-1.6zM94.1 475.6h1.6v1.6h-1.6zM129.9 452.1h1.6v1.6h-1.6zM110.7 460.9h1.6v1.6h-1.6zM121.4 461.8h1.6v1.6h-1.6zM118.7 462.0h1.6v1.6h-1.6zM92.2 479.2h1.6v1.6h-1.6zM96.2 477.2h1.6v1.6h-1.6zM103.2 473.2h1.6v1.6h-1.6zM107.2 470.2h1.6v1.6h-1.6zM112.2 465.2h1.6v1.6h-1.6zM85.2 484.2h1.6v1.6h-1.6zM119.2 465.2h1.6v1.6h-1.6zM123.2 462.2h1.6v1.6h-1.6zM129.2 457.2h1.6v1.6h-1.6zM127.2 459.2h1.6v1.6h-1.6zM149.2 436.2h1.6v1.6h-1.6zM152.2 431.2h1.6v1.6h-1.6zM146.2 427.2h1.6v1.6h-1.6zM156.2 427.2h1.6v1.6h-1.6zM164.2 431.2h1.6v1.6h-1.6zM159.2 429.2h1.6v1.6h-1.6zM103.2 439.2h1.6v1.6h-1.6zM144.2 430.2h1.6v1.6h-1.6zM131.2 432.2h1.6v1.6h-1.6zM90.2 465.2h1.6v1.6h-1.6zM84.2 469.2h1.6v1.6h-1.6zM78.2 480.2h1.6v1.6h-1.6zM153.2 429.2h1.6v1.6h-1.6zM163.2 425.2h1.6v1.6h-1.6z" fill="#0000f0"/>
<rect x="221.50" y="397.30" width="116.10" height="104.10" fill="none" stroke="#222" stroke-width="1.1"/>
<line x1="226.00" y1="501.40" x2="226.00" y2="504.00" stroke="#222" stroke-width="0.9"/>
<text x="226.00" y="511.30" font-size="8.9" fill="#111" stroke="#111" stroke-width="0.12" text-anchor="middle">0</text>
<line x1="252.70" y1="501.40" x2="252.70" y2="504.00" stroke="#222" stroke-width="0.9"/>
<text x="249.30" y="511.30" font-size="8.9" fill="#111" stroke="#111" stroke-width="0.12" text-anchor="middle">1000</text>
<line x1="279.40" y1="501.40" x2="279.40" y2="504.00" stroke="#222" stroke-width="0.9"/>
<text x="275.60" y="511.30" font-size="8.9" fill="#111" stroke="#111" stroke-width="0.12" text-anchor="middle">2000</text>
<line x1="306.10" y1="501.40" x2="306.10" y2="504.00" stroke="#222" stroke-width="0.9"/>
<text x="301.80" y="511.30" font-size="8.9" fill="#111" stroke="#111" stroke-width="0.12" text-anchor="middle">3000</text>
<line x1="332.80" y1="501.40" x2="332.80" y2="504.00" stroke="#222" stroke-width="0.9"/>
<text x="326.90" y="511.30" font-size="8.9" fill="#111" stroke="#111" stroke-width="0.12" text-anchor="middle">4000</text>
<line x1="218.90" y1="496.20" x2="221.50" y2="496.20" stroke="#222" stroke-width="0.9"/>
<text transform="translate(217.90,493.80) rotate(-90)" x="0" y="0" font-size="8.9" fill="#111" stroke="#111" stroke-width="0.12" text-anchor="end">0</text>
<line x1="218.90" y1="472.60" x2="221.50" y2="472.60" stroke="#222" stroke-width="0.9"/>
<text transform="translate(217.90,468.70) rotate(-90)" x="0" y="0" font-size="8.9" fill="#111" stroke="#111" stroke-width="0.12" text-anchor="end">1000</text>
<line x1="218.90" y1="449.00" x2="221.50" y2="449.00" stroke="#222" stroke-width="0.9"/>
<text transform="translate(217.90,445.10) rotate(-90)" x="0" y="0" font-size="8.9" fill="#111" stroke="#111" stroke-width="0.12" text-anchor="end">2000</text>
<line x1="218.90" y1="425.40" x2="221.50" y2="425.40" stroke="#222" stroke-width="0.9"/>
<text transform="translate(217.90,421.50) rotate(-90)" x="0" y="0" font-size="8.9" fill="#111" stroke="#111" stroke-width="0.12" text-anchor="end">3000</text>
<line x1="218.90" y1="401.80" x2="221.50" y2="401.80" stroke="#222" stroke-width="0.9"/>
<text transform="translate(217.90,397.90) rotate(-90)" x="0" y="0" font-size="8.9" fill="#111" stroke="#111" stroke-width="0.12" text-anchor="end">4000</text>
<text x="230.30" y="395.40" font-size="8.9" fill="#111" stroke="#111" stroke-width="0.12" textLength="89.8" lengthAdjust="spacingAndGlyphs">NA-seq tag distribution</text>
<text x="229.60" y="408.70" font-size="8.9" fill="#111" stroke="#111" stroke-width="0.12">r=0.87</text>
<text x="244.80" y="521.40" font-size="9.0" fill="#111" stroke="#111" stroke-width="0.12" textLength="52.1" lengthAdjust="spacingAndGlyphs">(M1)patient1</text>
<text x="239.90" y="530.70" font-size="8.9" fill="#111" font-weight="bold" textLength="81.9" lengthAdjust="spacingAndGlyphs">M1 and M3 patients</text>
<text transform="translate(210.00,446.40) rotate(-90)" x="0" y="0" font-size="9.0" fill="#111" stroke="#111" stroke-width="0.12" text-anchor="middle" textLength="43.2" lengthAdjust="spacingAndGlyphs">(M3)patient</text>
<path d="M276.6 447.2h1.6v1.6h-1.6zM255.2 457.8h1.6v1.6h-1.6zM284.5 438.9h1.6v1.6h-1.6zM268.1 456.8h1.6v1.6h-1.6zM261.0 460.8h1.6v1.6h-1.6zM274.7 449.6h1.6v1.6h-1.6zM258.7 455.3h1.6v1.6h-1.6zM302.3 437.5h1.6v1.6h-1.6zM262.3 453.5h1.6v1.6h-1.6zM284.6 448.2h1.6v1.6h-1.6zM272.8 446.2h1.6v1.6h-1.6zM267.6 450.8h1.6v1.6h-1.6zM299.9 435.3h1.6v1.6h-1.6zM289.3 444.4h1.6v1.6h-1.6zM275.5 450.6h1.6v1.6h-1.6zM257.3 453.6h1.6v1.6h-1.6zM263.4 449.4h1.6v1.6h-1.6zM268.0 455.0h1.6v1.6h-1.6zM253.0 457.2h1.6v1.6h-1.6zM255.8 459.1h1.6v1.6h-1.6zM282.2 447.0h1.6v1.6h-1.6zM275.3 456.9h1.6v1.6h-1.6zM250.1 454.0h1.6v1.6h-1.6zM260.1 452.8h1.6v1.6h-1.6zM301.3 436.9h1.6v1.6h-1.6zM279.5 447.0h1.6v1.6h-1.6zM262.3 450.2h1.6v1.6h-1.6zM270.4 451.9h1.6v1.6h-1.6zM278.8 445.7h1.6v1.6h-1.6zM281.4 455.9h1.6v1.6h-1.6zM271.4 447.9h1.6v1.6h-1.6zM266.2 447.4h1.6v1.6h-1.6zM280.3 448.1h1.6v1.6h-1.6zM296.3 436.9h1.6v1.6h-1.6zM288.8 438.2h1.6v1.6h-1.6zM272.2 445.1h1.6v1.6h-1.6zM256.8 453.3h1.6v1.6h-1.6zM293.7 436.5h1.6v1.6h-1.6zM270.2 449.6h1.6v1.6h-1.6zM295.1 441.7h1.6v1.6h-1.6zM264.7 452.5h1.6v1.6h-1.6zM262.2 451.5h1.6v1.6h-1.6zM262.7 460.2h1.6v1.6h-1.6zM290.9 447.2h1.6v1.6h-1.6zM254.0 458.0h1.6v1.6h-1.6zM285.0 445.2h1.6v1.6h-1.6zM298.0 440.8h1.6v1.6h-1.6zM265.9 455.8h1.6v1.6h-1.6zM281.8 455.0h1.6v1.6h-1.6zM291.2 445.1h1.6v1.6h-1.6zM297.9 441.7h1.6v1.6h-1.6zM286.6 448.6h1.6v1.6h-1.6zM297.6 434.4h1.6v1.6h-1.6zM282.2 442.2h1.6v1.6h-1.6zM271.9 450.4h1.6v1.6h-1.6zM262.8 459.6h1.6v1.6h-1.6zM292.3 437.9h1.6v1.6h-1.6zM296.0 443.8h1.6v1.6h-1.6zM296.5 442.2h1.6v1.6h-1.6zM281.4 441.9h1.6v1.6h-1.6zM275.6 451.0h1.6v1.6h-1.6zM262.9 452.6h1.6v1.6h-1.6zM259.4 455.8h1.6v1.6h-1.6zM276.0 443.1h1.6v1.6h-1.6zM297.4 439.9h1.6v1.6h-1.6zM256.5 464.7h1.6v1.6h-1.6zM267.3 452.9h1.6v1.6h-1.6zM265.1 456.2h1.6v1.6h-1.6zM264.4 449.9h1.6v1.6h-1.6zM277.3 446.9h1.6v1.6h-1.6zM283.4 440.4h1.6v1.6h-1.6zM274.6 446.2h1.6v1.6h-1.6zM293.8 437.0h1.6v1.6h-1.6zM297.9 434.7h1.6v1.6h-1.6zM289.7 443.8h1.6v1.6h-1.6zM251.0 459.4h1.6v1.6h-1.6zM254.0 459.9h1.6v1.6h-1.6zM293.9 443.9h1.6v1.6h-1.6zM297.1 436.9h1.6v1.6h-1.6zM276.0 457.8h1.6v1.6h-1.6zM272.1 446.0h1.6v1.6h-1.6zM292.9 442.1h1.6v1.6h-1.6zM292.6 440.0h1.6v1.6h-1.6zM292.1 449.6h1.6v1.6h-1.6zM279.0 447.4h1.6v1.6h-1.6zM273.9 443.4h1.6v1.6h-1.6zM268.0 442.8h1.6v1.6h-1.6zM270.4 447.5h1.6v1.6h-1.6zM268.5 455.7h1.6v1.6h-1.6zM264.8 452.0h1.6v1.6h-1.6zM283.4 449.2h1.6v1.6h-1.6zM284.0 443.1h1.6v1.6h-1.6zM298.6 440.1h1.6v1.6h-1.6zM264.4 454.0h1.6v1.6h-1.6zM276.1 452.0h1.6v1.6h-1.6zM276.1 447.2h1.6v1.6h-1.6zM283.0 448.4h1.6v1.6h-1.6zM269.0 450.2h1.6v1.6h-1.6zM264.1 453.9h1.6v1.6h-1.6zM264.2 461.4h1.6v1.6h-1.6zM285.1 439.7h1.6v1.6h-1.6zM292.3 439.6h1.6v1.6h-1.6zM289.1 443.1h1.6v1.6h-1.6zM287.6 448.1h1.6v1.6h-1.6zM282.7 440.5h1.6v1.6h-1.6zM294.4 440.3h1.6v1.6h-1.6zM295.2 445.7h1.6v1.6h-1.6zM271.4 447.0h1.6v1.6h-1.6zM251.4 461.1h1.6v1.6h-1.6zM268.7 454.2h1.6v1.6h-1.6zM292.2 443.9h1.6v1.6h-1.6zM298.4 439.5h1.6v1.6h-1.6zM272.8 447.9h1.6v1.6h-1.6zM287.6 439.3h1.6v1.6h-1.6zM293.4 445.0h1.6v1.6h-1.6zM295.0 437.8h1.6v1.6h-1.6zM253.4 456.7h1.6v1.6h-1.6zM259.4 459.5h1.6v1.6h-1.6zM295.3 438.6h1.6v1.6h-1.6zM293.0 438.8h1.6v1.6h-1.6zM284.3 444.1h1.6v1.6h-1.6zM261.4 447.3h1.6v1.6h-1.6zM275.5 442.3h1.6v1.6h-1.6zM281.7 438.4h1.6v1.6h-1.6zM261.7 457.0h1.6v1.6h-1.6zM283.5 444.7h1.6v1.6h-1.6zM269.6 450.4h1.6v1.6h-1.6zM260.5 447.7h1.6v1.6h-1.6zM287.1 440.4h1.6v1.6h-1.6zM281.0 438.5h1.6v1.6h-1.6zM258.2 453.2h1.6v1.6h-1.6zM263.4 452.0h1.6v1.6h-1.6zM284.7 446.3h1.6v1.6h-1.6zM292.7 438.4h1.6v1.6h-1.6zM289.7 439.5h1.6v1.6h-1.6zM291.8 449.5h1.6v1.6h-1.6zM298.5 439.1h1.6v1.6h-1.6zM298.2 441.1h1.6v1.6h-1.6zM280.1 446.6h1.6v1.6h-1.6zM300.5 437.3h1.6v1.6h-1.6zM261.3 451.9h1.6v1.6h-1.6zM281.3 446.9h1.6v1.6h-1.6zM285.3 442.1h1.6v1.6h-1.6zM298.6 433.8h1.6v1.6h-1.6zM262.5 450.3h1.6v1.6h-1.6zM265.2 454.5h1.6v1.6h-1.6zM282.6 450.8h1.6v1.6h-1.6zM273.5 445.2h1.6v1.6h-1.6zM294.2 438.5h1.6v1.6h-1.6zM272.2 447.8h1.6v1.6h-1.6zM261.3 455.1h1.6v1.6h-1.6zM296.4 446.4h1.6v1.6h-1.6zM287.1 441.1h1.6v1.6h-1.6zM299.4 438.4h1.6v1.6h-1.6zM267.5 452.7h1.6v1.6h-1.6zM262.2 456.8h1.6v1.6h-1.6zM299.4 435.9h1.6v1.6h-1.6zM259.6 458.2h1.6v1.6h-1.6zM280.2 447.3h1.6v1.6h-1.6zM290.7 441.2h1.6v1.6h-1.6zM270.0 442.7h1.6v1.6h-1.6zM295.5 441.0h1.6v1.6h-1.6zM279.1 448.0h1.6v1.6h-1.6zM281.4 447.1h1.6v1.6h-1.6zM270.3 450.6h1.6v1.6h-1.6zM268.9 454.5h1.6v1.6h-1.6zM290.0 446.4h1.6v1.6h-1.6zM299.6 441.6h1.6v1.6h-1.6zM290.8 443.4h1.6v1.6h-1.6zM273.0 456.9h1.6v1.6h-1.6zM268.9 452.1h1.6v1.6h-1.6zM290.4 434.8h1.6v1.6h-1.6zM280.2 440.9h1.6v1.6h-1.6zM277.1 446.5h1.6v1.6h-1.6zM270.6 443.4h1.6v1.6h-1.6zM292.0 439.6h1.6v1.6h-1.6zM284.1 447.0h1.6v1.6h-1.6zM267.0 453.9h1.6v1.6h-1.6zM273.8 449.5h1.6v1.6h-1.6zM265.8 456.8h1.6v1.6h-1.6zM269.5 453.0h1.6v1.6h-1.6zM296.2 439.0h1.6v1.6h-1.6zM299.3 436.9h1.6v1.6h-1.6zM287.8 445.3h1.6v1.6h-1.6zM300.3 437.6h1.6v1.6h-1.6zM283.9 442.6h1.6v1.6h-1.6zM264.5 451.8h1.6v1.6h-1.6zM265.3 454.7h1.6v1.6h-1.6zM269.0 451.1h1.6v1.6h-1.6zM292.4 442.7h1.6v1.6h-1.6zM271.1 451.5h1.6v1.6h-1.6zM300.2 437.6h1.6v1.6h-1.6zM296.1 439.5h1.6v1.6h-1.6zM286.4 446.9h1.6v1.6h-1.6zM282.9 441.5h1.6v1.6h-1.6zM300.8 434.5h1.6v1.6h-1.6zM262.3 448.9h1.6v1.6h-1.6zM253.5 461.4h1.6v1.6h-1.6zM266.4 456.2h1.6v1.6h-1.6zM265.2 450.0h1.6v1.6h-1.6zM266.5 446.5h1.6v1.6h-1.6zM277.7 442.3h1.6v1.6h-1.6zM270.4 452.4h1.6v1.6h-1.6zM284.4 441.5h1.6v1.6h-1.6zM278.0 449.3h1.6v1.6h-1.6zM288.8 442.0h1.6v1.6h-1.6zM271.0 447.1h1.6v1.6h-1.6zM262.8 462.4h1.6v1.6h-1.6zM281.2 449.1h1.6v1.6h-1.6zM275.1 451.4h1.6v1.6h-1.6zM267.9 456.0h1.6v1.6h-1.6zM287.2 440.7h1.6v1.6h-1.6zM292.6 443.3h1.6v1.6h-1.6zM290.0 442.1h1.6v1.6h-1.6zM268.2 446.4h1.6v1.6h-1.6zM284.8 442.4h1.6v1.6h-1.6zM295.0 441.8h1.6v1.6h-1.6zM261.9 454.2h1.6v1.6h-1.6zM299.2 437.3h1.6v1.6h-1.6zM277.1 448.1h1.6v1.6h-1.6zM299.0 436.4h1.6v1.6h-1.6zM274.0 449.0h1.6v1.6h-1.6zM293.3 440.8h1.6v1.6h-1.6zM281.1 443.4h1.6v1.6h-1.6zM287.1 440.7h1.6v1.6h-1.6zM265.7 448.9h1.6v1.6h-1.6zM293.2 443.9h1.6v1.6h-1.6zM279.0 450.0h1.6v1.6h-1.6zM287.7 448.4h1.6v1.6h-1.6zM261.9 449.5h1.6v1.6h-1.6zM275.2 454.8h1.6v1.6h-1.6zM269.1 452.7h1.6v1.6h-1.6zM287.9 441.0h1.6v1.6h-1.6zM287.3 434.4h1.6v1.6h-1.6zM262.8 452.3h1.6v1.6h-1.6zM275.9 453.8h1.6v1.6h-1.6zM267.3 455.9h1.6v1.6h-1.6zM293.8 438.0h1.6v1.6h-1.6zM264.8 458.6h1.6v1.6h-1.6zM291.7 440.8h1.6v1.6h-1.6zM278.1 441.5h1.6v1.6h-1.6zM279.1 450.6h1.6v1.6h-1.6zM283.6 444.8h1.6v1.6h-1.6zM296.3 436.4h1.6v1.6h-1.6zM292.6 439.8h1.6v1.6h-1.6zM283.2 441.7h1.6v1.6h-1.6zM292.8 437.1h1.6v1.6h-1.6zM270.3 448.5h1.6v1.6h-1.6zM278.3 451.6h1.6v1.6h-1.6zM289.2 448.0h1.6v1.6h-1.6zM286.9 448.0h1.6v1.6h-1.6zM268.2 451.5h1.6v1.6h-1.6zM272.6 450.9h1.6v1.6h-1.6zM294.7 442.2h1.6v1.6h-1.6zM268.1 449.8h1.6v1.6h-1.6zM277.5 448.3h1.6v1.6h-1.6zM286.7 441.2h1.6v1.6h-1.6zM290.3 434.1h1.6v1.6h-1.6zM263.7 449.4h1.6v1.6h-1.6zM264.0 455.0h1.6v1.6h-1.6zM281.1 450.9h1.6v1.6h-1.6zM276.1 442.0h1.6v1.6h-1.6zM296.0 439.3h1.6v1.6h-1.6zM277.6 456.4h1.6v1.6h-1.6zM262.4 459.0h1.6v1.6h-1.6zM289.5 441.1h1.6v1.6h-1.6zM295.7 441.6h1.6v1.6h-1.6zM295.1 439.3h1.6v1.6h-1.6zM296.2 434.8h1.6v1.6h-1.6zM272.5 446.6h1.6v1.6h-1.6zM281.2 442.8h1.6v1.6h-1.6zM267.5 443.4h1.6v1.6h-1.6zM276.7 439.6h1.6v1.6h-1.6zM275.9 443.3h1.6v1.6h-1.6zM283.6 454.0h1.6v1.6h-1.6zM293.3 435.9h1.6v1.6h-1.6zM294.5 439.0h1.6v1.6h-1.6zM280.5 443.6h1.6v1.6h-1.6zM282.8 442.0h1.6v1.6h-1.6zM282.9 446.2h1.6v1.6h-1.6zM275.4 443.6h1.6v1.6h-1.6zM290.5 438.5h1.6v1.6h-1.6zM282.6 440.4h1.6v1.6h-1.6zM273.8 447.2h1.6v1.6h-1.6zM290.7 434.3h1.6v1.6h-1.6zM295.7 437.9h1.6v1.6h-1.6zM278.5 447.0h1.6v1.6h-1.6zM287.2 438.3h1.6v1.6h-1.6zM290.7 439.9h1.6v1.6h-1.6zM284.8 443.9h1.6v1.6h-1.6zM292.7 438.7h1.6v1.6h-1.6zM286.3 444.8h1.6v1.6h-1.6zM279.2 447.5h1.6v1.6h-1.6zM282.4 449.3h1.6v1.6h-1.6zM288.5 450.7h1.6v1.6h-1.6zM267.6 444.8h1.6v1.6h-1.6zM279.5 446.9h1.6v1.6h-1.6zM251.1 459.5h1.6v1.6h-1.6zM255.4 461.4h1.6v1.6h-1.6zM283.1 446.1h1.6v1.6h-1.6zM274.7 449.9h1.6v1.6h-1.6zM293.5 445.0h1.6v1.6h-1.6zM283.9 441.8h1.6v1.6h-1.6zM262.7 457.2h1.6v1.6h-1.6zM258.6 455.5h1.6v1.6h-1.6zM260.8 459.2h1.6v1.6h-1.6zM273.1 447.7h1.6v1.6h-1.6zM286.7 444.7h1.6v1.6h-1.6zM263.6 462.5h1.6v1.6h-1.6zM265.9 455.8h1.6v1.6h-1.6zM272.6 453.9h1.6v1.6h-1.6zM278.8 444.2h1.6v1.6h-1.6zM269.6 445.3h1.6v1.6h-1.6zM268.5 458.2h1.6v1.6h-1.6zM278.2 449.1h1.6v1.6h-1.6zM293.3 436.9h1.6v1.6h-1.6zM276.3 440.7h1.6v1.6h-1.6zM284.4 446.1h1.6v1.6h-1.6zM291.4 446.5h1.6v1.6h-1.6zM261.8 457.0h1.6v1.6h-1.6zM264.4 448.4h1.6v1.6h-1.6zM266.1 455.6h1.6v1.6h-1.6zM275.5 450.4h1.6v1.6h-1.6zM278.7 451.2h1.6v1.6h-1.6zM273.8 453.6h1.6v1.6h-1.6zM270.8 445.0h1.6v1.6h-1.6zM288.8 444.8h1.6v1.6h-1.6zM298.8 436.0h1.6v1.6h-1.6zM289.6 440.8h1.6v1.6h-1.6zM251.7 456.8h1.6v1.6h-1.6zM253.1 460.3h1.6v1.6h-1.6zM299.8 434.6h1.6v1.6h-1.6zM293.3 436.8h1.6v1.6h-1.6zM295.7 438.7h1.6v1.6h-1.6zM291.6 436.1h1.6v1.6h-1.6zM281.5 447.1h1.6v1.6h-1.6zM259.3 452.6h1.6v1.6h-1.6zM270.7 454.6h1.6v1.6h-1.6zM299.0 438.4h1.6v1.6h-1.6zM273.5 450.5h1.6v1.6h-1.6zM264.4 460.7h1.6v1.6h-1.6zM281.3 439.5h1.6v1.6h-1.6zM283.5 440.5h1.6v1.6h-1.6zM255.2 457.5h1.6v1.6h-1.6zM290.6 438.5h1.6v1.6h-1.6zM291.4 446.8h1.6v1.6h-1.6zM272.2 453.0h1.6v1.6h-1.6zM275.0 451.6h1.6v1.6h-1.6zM287.1 443.2h1.6v1.6h-1.6zM265.6 446.9h1.6v1.6h-1.6zM278.1 455.3h1.6v1.6h-1.6zM297.1 439.3h1.6v1.6h-1.6zM282.8 439.1h1.6v1.6h-1.6zM266.7 453.8h1.6v1.6h-1.6zM254.3 463.1h1.6v1.6h-1.6zM270.9 448.9h1.6v1.6h-1.6zM255.0 458.5h1.6v1.6h-1.6zM288.2 442.0h1.6v1.6h-1.6zM265.3 459.4h1.6v1.6h-1.6zM278.6 453.8h1.6v1.6h-1.6zM272.6 451.6h1.6v1.6h-1.6zM293.8 438.2h1.6v1.6h-1.6zM266.4 454.1h1.6v1.6h-1.6zM280.4 443.2h1.6v1.6h-1.6zM295.2 440.8h1.6v1.6h-1.6zM267.2 446.7h1.6v1.6h-1.6zM265.4 451.9h1.6v1.6h-1.6zM267.3 455.0h1.6v1.6h-1.6zM290.9 438.8h1.6v1.6h-1.6zM260.9 454.9h1.6v1.6h-1.6zM298.3 441.7h1.6v1.6h-1.6zM292.5 439.1h1.6v1.6h-1.6zM260.1 450.9h1.6v1.6h-1.6zM290.3 443.1h1.6v1.6h-1.6zM289.0 441.2h1.6v1.6h-1.6zM292.9 440.1h1.6v1.6h-1.6zM263.4 453.7h1.6v1.6h-1.6zM285.2 443.0h1.6v1.6h-1.6zM272.8 455.8h1.6v1.6h-1.6zM283.9 449.3h1.6v1.6h-1.6zM296.7 437.6h1.6v1.6h-1.6zM284.0 448.4h1.6v1.6h-1.6zM295.1 446.4h1.6v1.6h-1.6zM279.7 449.1h1.6v1.6h-1.6zM272.2 448.2h1.6v1.6h-1.6zM296.2 439.2h1.6v1.6h-1.6zM291.8 442.9h1.6v1.6h-1.6zM255.6 462.4h1.6v1.6h-1.6zM298.4 441.1h1.6v1.6h-1.6zM275.1 441.0h1.6v1.6h-1.6zM276.6 439.3h1.6v1.6h-1.6zM301.4 439.2h1.6v1.6h-1.6zM275.6 446.1h1.6v1.6h-1.6zM277.1 445.2h1.6v1.6h-1.6zM263.1 452.0h1.6v1.6h-1.6zM274.4 454.2h1.6v1.6h-1.6zM261.8 452.0h1.6v1.6h-1.6zM263.9 454.1h1.6v1.6h-1.6zM277.4 446.7h1.6v1.6h-1.6zM286.3 440.5h1.6v1.6h-1.6zM290.4 441.9h1.6v1.6h-1.6zM273.1 453.2h1.6v1.6h-1.6zM293.4 441.3h1.6v1.6h-1.6zM295.9 441.8h1.6v1.6h-1.6zM268.0 453.4h1.6v1.6h-1.6zM294.1 443.8h1.6v1.6h-1.6zM265.2 452.1h1.6v1.6h-1.6zM280.4 450.7h1.6v1.6h-1.6zM260.1 448.3h1.6v1.6h-1.6zM263.9 450.8h1.6v1.6h-1.6zM274.2 455.2h1.6v1.6h-1.6zM258.5 448.9h1.6v1.6h-1.6zM299.5 437.1h1.6v1.6h-1.6zM261.7 456.6h1.6v1.6h-1.6zM275.3 443.6h1.6v1.6h-1.6zM278.9 446.0h1.6v1.6h-1.6zM291.8 437.3h1.6v1.6h-1.6zM280.3 448.4h1.6v1.6h-1.6zM266.6 454.6h1.6v1.6h-1.6zM272.4 450.1h1.6v1.6h-1.6zM282.9 451.8h1.6v1.6h-1.6zM259.0 455.4h1.6v1.6h-1.6zM277.3 444.3h1.6v1.6h-1.6zM298.3 438.1h1.6v1.6h-1.6zM296.3 445.2h1.6v1.6h-1.6zM276.4 450.4h1.6v1.6h-1.6zM283.3 441.8h1.6v1.6h-1.6zM256.7 456.3h1.6v1.6h-1.6zM294.5 438.2h1.6v1.6h-1.6zM296.1 437.5h1.6v1.6h-1.6zM299.5 438.1h1.6v1.6h-1.6zM290.4 440.9h1.6v1.6h-1.6zM290.7 445.2h1.6v1.6h-1.6zM257.4 450.9h1.6v1.6h-1.6zM290.2 445.4h1.6v1.6h-1.6zM297.0 439.3h1.6v1.6h-1.6zM273.2 445.4h1.6v1.6h-1.6zM293.7 434.9h1.6v1.6h-1.6zM297.5 438.8h1.6v1.6h-1.6zM288.0 444.5h1.6v1.6h-1.6zM288.3 435.3h1.6v1.6h-1.6zM276.9 453.5h1.6v1.6h-1.6zM256.2 458.8h1.6v1.6h-1.6zM294.2 433.0h1.6v1.6h-1.6zM262.7 459.1h1.6v1.6h-1.6zM268.4 456.6h1.6v1.6h-1.6zM291.1 440.8h1.6v1.6h-1.6zM294.2 437.4h1.6v1.6h-1.6zM266.6 450.8h1.6v1.6h-1.6zM264.3 453.7h1.6v1.6h-1.6zM290.9 447.6h1.6v1.6h-1.6zM265.0 455.0h1.6v1.6h-1.6zM291.8 440.8h1.6v1.6h-1.6zM268.9 458.0h1.6v1.6h-1.6zM264.9 451.7h1.6v1.6h-1.6zM259.7 459.5h1.6v1.6h-1.6zM268.6 452.5h1.6v1.6h-1.6zM299.4 437.4h1.6v1.6h-1.6zM291.1 445.7h1.6v1.6h-1.6zM272.1 451.1h1.6v1.6h-1.6zM270.8 444.1h1.6v1.6h-1.6zM266.9 444.8h1.6v1.6h-1.6zM273.6 448.2h1.6v1.6h-1.6zM262.6 456.4h1.6v1.6h-1.6zM270.8 453.9h1.6v1.6h-1.6zM256.7 461.3h1.6v1.6h-1.6zM275.9 443.2h1.6v1.6h-1.6zM285.4 447.3h1.6v1.6h-1.6zM267.7 453.3h1.6v1.6h-1.6zM285.7 441.1h1.6v1.6h-1.6zM299.0 437.9h1.6v1.6h-1.6zM295.6 440.0h1.6v1.6h-1.6zM253.6 456.6h1.6v1.6h-1.6zM257.1 456.3h1.6v1.6h-1.6zM272.0 448.9h1.6v1.6h-1.6zM267.0 447.2h1.6v1.6h-1.6zM265.1 455.1h1.6v1.6h-1.6zM276.5 439.9h1.6v1.6h-1.6zM270.9 452.6h1.6v1.6h-1.6zM279.6 452.0h1.6v1.6h-1.6zM274.4 452.8h1.6v1.6h-1.6zM267.0 454.9h1.6v1.6h-1.6zM260.1 457.3h1.6v1.6h-1.6zM287.1 442.3h1.6v1.6h-1.6zM266.2 451.5h1.6v1.6h-1.6zM296.7 442.9h1.6v1.6h-1.6zM285.8 437.9h1.6v1.6h-1.6zM263.8 457.6h1.6v1.6h-1.6zM300.4 435.8h1.6v1.6h-1.6zM275.1 448.1h1.6v1.6h-1.6zM286.0 444.6h1.6v1.6h-1.6zM264.1 458.7h1.6v1.6h-1.6zM267.1 450.1h1.6v1.6h-1.6zM291.0 433.7h1.6v1.6h-1.6zM274.9 451.6h1.6v1.6h-1.6zM280.8 443.9h1.6v1.6h-1.6zM268.9 449.2h1.6v1.6h-1.6zM294.8 442.5h1.6v1.6h-1.6zM277.3 443.0h1.6v1.6h-1.6zM289.2 442.2h1.6v1.6h-1.6zM264.1 445.7h1.6v1.6h-1.6zM293.8 449.2h1.6v1.6h-1.6zM281.4 443.5h1.6v1.6h-1.6zM274.3 451.2h1.6v1.6h-1.6zM275.9 451.1h1.6v1.6h-1.6zM265.9 456.5h1.6v1.6h-1.6zM252.3 462.9h1.6v1.6h-1.6zM285.4 442.1h1.6v1.6h-1.6zM256.0 458.4h1.6v1.6h-1.6zM294.2 439.8h1.6v1.6h-1.6zM269.1 453.1h1.6v1.6h-1.6zM298.7 438.5h1.6v1.6h-1.6zM263.2 454.5h1.6v1.6h-1.6zM291.3 439.9h1.6v1.6h-1.6zM278.3 444.5h1.6v1.6h-1.6zM267.6 451.5h1.6v1.6h-1.6zM260.4 454.0h1.6v1.6h-1.6zM274.3 456.0h1.6v1.6h-1.6zM260.3 461.1h1.6v1.6h-1.6zM286.7 437.1h1.6v1.6h-1.6zM277.9 447.4h1.6v1.6h-1.6zM289.3 440.0h1.6v1.6h-1.6zM261.2 452.1h1.6v1.6h-1.6zM276.0 445.9h1.6v1.6h-1.6zM258.7 459.9h1.6v1.6h-1.6zM264.4 450.9h1.6v1.6h-1.6zM269.1 450.5h1.6v1.6h-1.6zM278.8 444.9h1.6v1.6h-1.6zM291.9 443.0h1.6v1.6h-1.6zM299.1 435.1h1.6v1.6h-1.6zM296.9 435.6h1.6v1.6h-1.6zM286.7 439.6h1.6v1.6h-1.6zM271.5 448.3h1.6v1.6h-1.6zM279.0 446.7h1.6v1.6h-1.6zM297.8 438.0h1.6v1.6h-1.6zM294.6 442.6h1.6v1.6h-1.6zM286.1 447.7h1.6v1.6h-1.6zM291.4 449.6h1.6v1.6h-1.6zM272.9 445.6h1.6v1.6h-1.6zM286.4 444.6h1.6v1.6h-1.6zM279.4 451.1h1.6v1.6h-1.6zM282.6 443.6h1.6v1.6h-1.6zM260.6 454.5h1.6v1.6h-1.6zM296.2 444.1h1.6v1.6h-1.6zM275.3 451.0h1.6v1.6h-1.6zM258.5 453.6h1.6v1.6h-1.6zM298.1 436.8h1.6v1.6h-1.6zM274.1 445.2h1.6v1.6h-1.6zM280.6 446.7h1.6v1.6h-1.6zM291.4 438.4h1.6v1.6h-1.6zM266.7 452.5h1.6v1.6h-1.6zM257.4 460.4h1.6v1.6h-1.6zM284.5 444.8h1.6v1.6h-1.6zM289.6 443.2h1.6v1.6h-1.6zM259.9 459.0h1.6v1.6h-1.6zM255.6 455.5h1.6v1.6h-1.6zM291.1 438.7h1.6v1.6h-1.6zM298.6 445.3h1.6v1.6h-1.6zM272.6 451.8h1.6v1.6h-1.6zM285.5 441.6h1.6v1.6h-1.6zM275.2 453.3h1.6v1.6h-1.6zM262.4 451.4h1.6v1.6h-1.6zM269.5 456.9h1.6v1.6h-1.6zM298.9 442.7h1.6v1.6h-1.6zM296.9 437.8h1.6v1.6h-1.6zM299.4 439.3h1.6v1.6h-1.6zM255.2 457.7h1.6v1.6h-1.6zM273.8 456.6h1.6v1.6h-1.6zM279.1 442.2h1.6v1.6h-1.6zM289.8 440.9h1.6v1.6h-1.6zM278.6 448.1h1.6v1.6h-1.6zM298.4 440.3h1.6v1.6h-1.6zM291.6 439.2h1.6v1.6h-1.6zM261.7 455.5h1.6v1.6h-1.6zM288.5 441.1h1.6v1.6h-1.6zM285.8 442.9h1.6v1.6h-1.6zM283.1 447.8h1.6v1.6h-1.6zM275.8 444.4h1.6v1.6h-1.6zM302.3 437.6h1.6v1.6h-1.6zM286.4 447.6h1.6v1.6h-1.6zM274.3 448.4h1.6v1.6h-1.6zM289.1 444.2h1.6v1.6h-1.6zM263.5 449.2h1.6v1.6h-1.6zM296.2 439.4h1.6v1.6h-1.6zM297.5 440.2h1.6v1.6h-1.6zM299.7 437.4h1.6v1.6h-1.6zM294.5 437.3h1.6v1.6h-1.6zM284.3 447.2h1.6v1.6h-1.6zM286.9 445.1h1.6v1.6h-1.6zM289.3 445.8h1.6v1.6h-1.6zM296.5 434.9h1.6v1.6h-1.6zM300.1 436.1h1.6v1.6h-1.6zM274.4 447.3h1.6v1.6h-1.6zM288.9 443.9h1.6v1.6h-1.6zM285.7 445.0h1.6v1.6h-1.6zM291.8 435.1h1.6v1.6h-1.6zM266.9 455.1h1.6v1.6h-1.6zM269.0 451.6h1.6v1.6h-1.6zM250.0 459.3h1.6v1.6h-1.6zM287.3 442.0h1.6v1.6h-1.6zM270.5 447.9h1.6v1.6h-1.6zM263.9 457.2h1.6v1.6h-1.6zM290.1 439.2h1.6v1.6h-1.6zM270.9 449.6h1.6v1.6h-1.6zM272.7 447.2h1.6v1.6h-1.6zM265.2 448.8h1.6v1.6h-1.6zM285.8 449.0h1.6v1.6h-1.6zM256.1 458.3h1.6v1.6h-1.6zM286.7 445.4h1.6v1.6h-1.6zM290.6 445.6h1.6v1.6h-1.6zM266.2 448.6h1.6v1.6h-1.6zM283.2 440.8h1.6v1.6h-1.6zM299.3 434.6h1.6v1.6h-1.6zM299.0 438.4h1.6v1.6h-1.6zM296.4 436.8h1.6v1.6h-1.6zM263.9 454.5h1.6v1.6h-1.6zM297.3 436.8h1.6v1.6h-1.6zM260.9 459.2h1.6v1.6h-1.6zM299.1 437.7h1.6v1.6h-1.6zM287.6 442.9h1.6v1.6h-1.6zM278.9 447.3h1.6v1.6h-1.6zM271.7 452.8h1.6v1.6h-1.6zM251.3 458.5h1.6v1.6h-1.6zM290.4 446.9h1.6v1.6h-1.6zM267.8 453.1h1.6v1.6h-1.6zM299.1 438.8h1.6v1.6h-1.6zM294.3 442.9h1.6v1.6h-1.6zM278.1 450.0h1.6v1.6h-1.6zM276.9 448.4h1.6v1.6h-1.6zM300.8 440.6h1.6v1.6h-1.6zM261.2 455.6h1.6v1.6h-1.6zM271.2 447.1h1.6v1.6h-1.6zM282.9 444.8h1.6v1.6h-1.6zM270.7 448.6h1.6v1.6h-1.6zM287.4 443.4h1.6v1.6h-1.6zM287.5 442.1h1.6v1.6h-1.6zM288.7 434.8h1.6v1.6h-1.6zM282.9 438.5h1.6v1.6h-1.6zM289.6 441.6h1.6v1.6h-1.6zM293.4 437.5h1.6v1.6h-1.6zM273.1 443.1h1.6v1.6h-1.6zM252.4 457.7h1.6v1.6h-1.6zM301.3 436.1h1.6v1.6h-1.6zM269.2 451.5h1.6v1.6h-1.6zM288.7 438.1h1.6v1.6h-1.6zM270.1 450.4h1.6v1.6h-1.6zM255.3 458.2h1.6v1.6h-1.6zM292.4 444.5h1.6v1.6h-1.6zM258.1 456.2h1.6v1.6h-1.6zM280.0 448.7h1.6v1.6h-1.6zM294.1 439.1h1.6v1.6h-1.6zM269.4 451.4h1.6v1.6h-1.6zM282.1 441.4h1.6v1.6h-1.6zM292.5 434.5h1.6v1.6h-1.6zM297.0 443.0h1.6v1.6h-1.6zM280.4 439.3h1.6v1.6h-1.6zM292.3 440.9h1.6v1.6h-1.6zM284.0 443.7h1.6v1.6h-1.6zM272.3 454.9h1.6v1.6h-1.6zM265.8 452.0h1.6v1.6h-1.6zM258.0 460.5h1.6v1.6h-1.6zM250.3 456.6h1.6v1.6h-1.6zM264.5 448.3h1.6v1.6h-1.6zM282.3 441.6h1.6v1.6h-1.6zM284.8 451.6h1.6v1.6h-1.6zM282.1 447.4h1.6v1.6h-1.6zM299.2 439.3h1.6v1.6h-1.6zM292.6 445.2h1.6v1.6h-1.6zM290.7 440.8h1.6v1.6h-1.6zM294.1 441.1h1.6v1.6h-1.6zM270.5 451.2h1.6v1.6h-1.6zM287.1 443.6h1.6v1.6h-1.6zM283.8 447.2h1.6v1.6h-1.6zM297.4 440.1h1.6v1.6h-1.6zM275.1 445.4h1.6v1.6h-1.6zM272.0 460.1h1.6v1.6h-1.6zM294.6 437.7h1.6v1.6h-1.6zM280.2 449.8h1.6v1.6h-1.6zM270.6 442.6h1.6v1.6h-1.6zM279.4 443.1h1.6v1.6h-1.6zM270.0 450.0h1.6v1.6h-1.6zM294.6 440.6h1.6v1.6h-1.6zM285.7 447.3h1.6v1.6h-1.6zM272.8 450.9h1.6v1.6h-1.6zM294.1 442.9h1.6v1.6h-1.6zM289.6 446.5h1.6v1.6h-1.6zM259.8 463.0h1.6v1.6h-1.6zM269.1 454.4h1.6v1.6h-1.6zM295.6 444.5h1.6v1.6h-1.6zM279.4 444.5h1.6v1.6h-1.6zM278.9 440.4h1.6v1.6h-1.6zM276.7 446.6h1.6v1.6h-1.6zM298.3 433.6h1.6v1.6h-1.6zM281.2 448.6h1.6v1.6h-1.6zM284.7 443.6h1.6v1.6h-1.6zM283.0 443.4h1.6v1.6h-1.6zM261.6 453.1h1.6v1.6h-1.6zM270.6 448.3h1.6v1.6h-1.6zM254.6 463.0h1.6v1.6h-1.6zM264.6 455.5h1.6v1.6h-1.6zM267.1 449.8h1.6v1.6h-1.6zM295.7 434.0h1.6v1.6h-1.6zM292.9 437.8h1.6v1.6h-1.6zM263.5 452.8h1.6v1.6h-1.6zM272.0 448.6h1.6v1.6h-1.6zM295.1 437.0h1.6v1.6h-1.6zM264.3 456.9h1.6v1.6h-1.6zM266.5 458.2h1.6v1.6h-1.6zM276.8 440.9h1.6v1.6h-1.6zM291.1 447.0h1.6v1.6h-1.6zM283.2 443.4h1.6v1.6h-1.6zM271.2 443.8h1.6v1.6h-1.6zM291.4 442.1h1.6v1.6h-1.6zM288.0 435.6h1.6v1.6h-1.6zM298.1 440.0h1.6v1.6h-1.6zM286.4 445.6h1.6v1.6h-1.6zM298.3 440.0h1.6v1.6h-1.6zM269.5 450.8h1.6v1.6h-1.6zM276.6 442.3h1.6v1.6h-1.6zM265.0 454.8h1.6v1.6h-1.6zM295.6 441.7h1.6v1.6h-1.6zM267.9 455.1h1.6v1.6h-1.6zM287.3 437.0h1.6v1.6h-1.6zM270.3 451.0h1.6v1.6h-1.6zM271.4 442.9h1.6v1.6h-1.6zM286.0 443.4h1.6v1.6h-1.6zM288.1 444.3h1.6v1.6h-1.6zM270.8 449.7h1.6v1.6h-1.6zM285.1 450.3h1.6v1.6h-1.6zM287.8 442.3h1.6v1.6h-1.6zM279.6 454.2h1.6v1.6h-1.6zM285.5 449.8h1.6v1.6h-1.6zM280.0 444.0h1.6v1.6h-1.6zM297.1 436.9h1.6v1.6h-1.6zM267.8 454.0h1.6v1.6h-1.6zM293.8 436.6h1.6v1.6h-1.6zM292.0 441.7h1.6v1.6h-1.6zM284.8 442.1h1.6v1.6h-1.6zM275.9 453.7h1.6v1.6h-1.6zM259.8 454.7h1.6v1.6h-1.6zM291.0 440.1h1.6v1.6h-1.6zM298.3 434.9h1.6v1.6h-1.6zM269.6 451.1h1.6v1.6h-1.6zM282.5 447.3h1.6v1.6h-1.6zM257.6 460.0h1.6v1.6h-1.6zM282.3 440.0h1.6v1.6h-1.6zM283.2 445.7h1.6v1.6h-1.6zM287.1 438.4h1.6v1.6h-1.6zM291.9 442.9h1.6v1.6h-1.6zM277.6 451.8h1.6v1.6h-1.6zM268.6 452.6h1.6v1.6h-1.6zM285.1 444.5h1.6v1.6h-1.6zM290.6 442.2h1.6v1.6h-1.6zM271.0 444.0h1.6v1.6h-1.6zM277.5 442.9h1.6v1.6h-1.6zM251.4 456.8h1.6v1.6h-1.6zM263.4 456.1h1.6v1.6h-1.6zM270.8 442.9h1.6v1.6h-1.6zM289.4 437.7h1.6v1.6h-1.6zM273.2 456.5h1.6v1.6h-1.6zM294.8 443.8h1.6v1.6h-1.6zM284.9 452.4h1.6v1.6h-1.6zM295.2 443.8h1.6v1.6h-1.6zM290.1 442.2h1.6v1.6h-1.6zM275.5 458.3h1.6v1.6h-1.6zM288.8 441.6h1.6v1.6h-1.6zM271.4 451.0h1.6v1.6h-1.6zM273.6 441.0h1.6v1.6h-1.6zM280.2 447.9h1.6v1.6h-1.6zM273.0 451.4h1.6v1.6h-1.6zM267.2 450.1h1.6v1.6h-1.6zM298.1 439.1h1.6v1.6h-1.6zM266.4 449.2h1.6v1.6h-1.6zM264.5 459.9h1.6v1.6h-1.6zM288.9 442.5h1.6v1.6h-1.6zM260.7 453.8h1.6v1.6h-1.6zM257.8 459.6h1.6v1.6h-1.6zM262.9 455.0h1.6v1.6h-1.6zM275.6 446.9h1.6v1.6h-1.6zM285.6 441.8h1.6v1.6h-1.6zM291.9 441.5h1.6v1.6h-1.6zM286.1 439.1h1.6v1.6h-1.6zM277.5 445.2h1.6v1.6h-1.6zM288.3 448.4h1.6v1.6h-1.6zM269.2 446.6h1.6v1.6h-1.6zM257.3 459.4h1.6v1.6h-1.6zM288.9 446.4h1.6v1.6h-1.6zM283.9 441.3h1.6v1.6h-1.6zM273.3 444.4h1.6v1.6h-1.6zM298.5 436.8h1.6v1.6h-1.6zM267.2 453.2h1.6v1.6h-1.6zM268.9 448.2h1.6v1.6h-1.6zM281.1 444.3h1.6v1.6h-1.6zM296.4 439.0h1.6v1.6h-1.6zM274.0 448.7h1.6v1.6h-1.6zM292.5 441.3h1.6v1.6h-1.6zM288.1 439.8h1.6v1.6h-1.6zM280.5 445.5h1.6v1.6h-1.6zM290.2 445.0h1.6v1.6h-1.6zM291.9 437.2h1.6v1.6h-1.6zM280.4 449.8h1.6v1.6h-1.6zM290.5 444.5h1.6v1.6h-1.6zM264.2 451.9h1.6v1.6h-1.6zM285.2 448.2h1.6v1.6h-1.6zM266.8 456.8h1.6v1.6h-1.6zM283.1 443.3h1.6v1.6h-1.6zM285.2 439.5h1.6v1.6h-1.6zM266.0 448.2h1.6v1.6h-1.6zM282.5 440.3h1.6v1.6h-1.6zM279.5 447.2h1.6v1.6h-1.6zM256.0 451.4h1.6v1.6h-1.6zM271.3 450.4h1.6v1.6h-1.6zM252.2 454.7h1.6v1.6h-1.6zM280.5 445.6h1.6v1.6h-1.6zM284.2 442.7h1.6v1.6h-1.6zM276.9 455.4h1.6v1.6h-1.6zM266.6 455.9h1.6v1.6h-1.6zM254.0 458.0h1.6v1.6h-1.6zM281.3 444.4h1.6v1.6h-1.6zM294.2 438.5h1.6v1.6h-1.6zM302.1 434.0h1.6v1.6h-1.6zM287.5 435.7h1.6v1.6h-1.6zM268.3 447.9h1.6v1.6h-1.6zM289.5 441.1h1.6v1.6h-1.6zM281.1 450.6h1.6v1.6h-1.6zM289.4 439.3h1.6v1.6h-1.6zM275.5 445.2h1.6v1.6h-1.6zM266.3 453.9h1.6v1.6h-1.6zM301.6 436.4h1.6v1.6h-1.6zM257.4 464.9h1.6v1.6h-1.6zM294.4 437.6h1.6v1.6h-1.6zM259.0 459.0h1.6v1.6h-1.6zM261.5 457.8h1.6v1.6h-1.6zM273.3 446.8h1.6v1.6h-1.6zM273.1 450.8h1.6v1.6h-1.6zM253.1 460.5h1.6v1.6h-1.6zM297.8 435.6h1.6v1.6h-1.6zM298.4 441.6h1.6v1.6h-1.6zM300.5 437.5h1.6v1.6h-1.6zM280.0 451.2h1.6v1.6h-1.6zM299.1 434.0h1.6v1.6h-1.6zM271.1 450.6h1.6v1.6h-1.6zM253.7 457.4h1.6v1.6h-1.6zM270.1 454.4h1.6v1.6h-1.6zM262.3 455.1h1.6v1.6h-1.6zM274.0 443.3h1.6v1.6h-1.6zM290.4 438.8h1.6v1.6h-1.6zM257.5 458.4h1.6v1.6h-1.6zM265.5 450.2h1.6v1.6h-1.6zM271.0 452.6h1.6v1.6h-1.6zM291.2 437.5h1.6v1.6h-1.6zM295.3 443.4h1.6v1.6h-1.6zM258.3 458.4h1.6v1.6h-1.6zM288.0 440.7h1.6v1.6h-1.6zM261.5 457.7h1.6v1.6h-1.6zM299.2 439.0h1.6v1.6h-1.6zM295.4 437.8h1.6v1.6h-1.6zM278.7 439.9h1.6v1.6h-1.6zM273.2 448.5h1.6v1.6h-1.6zM248.9 457.6h1.6v1.6h-1.6zM275.2 453.4h1.6v1.6h-1.6zM281.1 447.3h1.6v1.6h-1.6zM290.8 440.4h1.6v1.6h-1.6zM290.4 444.4h1.6v1.6h-1.6zM293.6 440.8h1.6v1.6h-1.6zM254.2 458.1h1.6v1.6h-1.6zM289.5 442.7h1.6v1.6h-1.6zM268.9 449.0h1.6v1.6h-1.6zM286.8 437.6h1.6v1.6h-1.6zM269.6 446.1h1.6v1.6h-1.6zM294.8 441.3h1.6v1.6h-1.6zM261.7 452.9h1.6v1.6h-1.6zM278.7 448.0h1.6v1.6h-1.6zM285.7 440.5h1.6v1.6h-1.6zM273.7 451.1h1.6v1.6h-1.6zM258.3 458.3h1.6v1.6h-1.6zM298.9 440.0h1.6v1.6h-1.6zM271.3 449.4h1.6v1.6h-1.6zM268.9 456.8h1.6v1.6h-1.6zM261.0 446.7h1.6v1.6h-1.6zM288.6 449.8h1.6v1.6h-1.6zM279.2 443.5h1.6v1.6h-1.6zM266.7 459.8h1.6v1.6h-1.6zM289.3 441.6h1.6v1.6h-1.6zM267.8 445.7h1.6v1.6h-1.6zM273.0 449.7h1.6v1.6h-1.6zM252.9 460.1h1.6v1.6h-1.6zM276.7 451.4h1.6v1.6h-1.6zM295.3 437.8h1.6v1.6h-1.6zM275.3 448.9h1.6v1.6h-1.6zM289.5 443.7h1.6v1.6h-1.6zM282.9 442.5h1.6v1.6h-1.6zM292.1 435.6h1.6v1.6h-1.6zM282.8 448.0h1.6v1.6h-1.6zM290.0 435.3h1.6v1.6h-1.6zM260.4 457.8h1.6v1.6h-1.6zM263.3 447.0h1.6v1.6h-1.6zM275.2 451.9h1.6v1.6h-1.6zM256.5 458.4h1.6v1.6h-1.6zM269.7 449.2h1.6v1.6h-1.6zM278.0 452.5h1.6v1.6h-1.6zM267.8 445.0h1.6v1.6h-1.6zM280.9 442.9h1.6v1.6h-1.6zM272.5 448.8h1.6v1.6h-1.6zM269.3 447.6h1.6v1.6h-1.6zM262.3 454.8h1.6v1.6h-1.6zM267.4 448.7h1.6v1.6h-1.6zM291.0 444.1h1.6v1.6h-1.6zM290.3 442.8h1.6v1.6h-1.6zM263.9 453.9h1.6v1.6h-1.6zM298.2 435.1h1.6v1.6h-1.6zM292.6 435.3h1.6v1.6h-1.6zM289.0 442.4h1.6v1.6h-1.6zM271.6 452.7h1.6v1.6h-1.6zM287.6 442.9h1.6v1.6h-1.6zM287.0 447.9h1.6v1.6h-1.6zM281.4 448.0h1.6v1.6h-1.6zM288.2 443.4h1.6v1.6h-1.6zM290.7 443.6h1.6v1.6h-1.6zM254.0 456.4h1.6v1.6h-1.6zM280.9 441.8h1.6v1.6h-1.6zM271.9 450.3h1.6v1.6h-1.6zM273.9 449.9h1.6v1.6h-1.6zM269.0 460.8h1.6v1.6h-1.6zM273.4 447.2h1.6v1.6h-1.6zM278.8 447.8h1.6v1.6h-1.6zM287.9 447.4h1.6v1.6h-1.6zM272.6 452.7h1.6v1.6h-1.6zM289.5 444.5h1.6v1.6h-1.6zM290.5 449.0h1.6v1.6h-1.6zM273.2 449.0h1.6v1.6h-1.6zM288.2 443.3h1.6v1.6h-1.6zM281.0 444.4h1.6v1.6h-1.6zM302.3 439.7h1.6v1.6h-1.6zM274.8 443.1h1.6v1.6h-1.6zM299.3 437.4h1.6v1.6h-1.6zM258.3 459.7h1.6v1.6h-1.6zM296.8 440.7h1.6v1.6h-1.6zM252.8 458.6h1.6v1.6h-1.6zM267.2 452.2h1.6v1.6h-1.6zM253.0 457.2h1.6v1.6h-1.6zM279.7 448.5h1.6v1.6h-1.6zM294.3 434.9h1.6v1.6h-1.6zM263.4 451.7h1.6v1.6h-1.6zM287.5 448.2h1.6v1.6h-1.6zM271.5 445.9h1.6v1.6h-1.6zM297.8 444.4h1.6v1.6h-1.6zM297.9 437.9h1.6v1.6h-1.6zM290.9 442.4h1.6v1.6h-1.6zM280.0 447.5h1.6v1.6h-1.6zM292.4 441.4h1.6v1.6h-1.6zM277.9 440.7h1.6v1.6h-1.6zM258.1 453.4h1.6v1.6h-1.6zM285.6 447.4h1.6v1.6h-1.6zM291.5 436.5h1.6v1.6h-1.6zM289.4 447.4h1.6v1.6h-1.6zM294.4 442.0h1.6v1.6h-1.6zM295.1 439.4h1.6v1.6h-1.6zM290.3 433.3h1.6v1.6h-1.6zM289.1 442.8h1.6v1.6h-1.6zM251.4 462.5h1.6v1.6h-1.6zM253.9 458.5h1.6v1.6h-1.6zM276.4 450.3h1.6v1.6h-1.6zM264.0 459.0h1.6v1.6h-1.6zM284.3 441.5h1.6v1.6h-1.6zM295.7 440.4h1.6v1.6h-1.6zM279.8 451.1h1.6v1.6h-1.6zM263.9 457.5h1.6v1.6h-1.6zM290.4 442.7h1.6v1.6h-1.6zM295.1 438.9h1.6v1.6h-1.6zM270.3 450.1h1.6v1.6h-1.6zM250.6 459.4h1.6v1.6h-1.6zM281.0 447.3h1.6v1.6h-1.6zM273.2 449.5h1.6v1.6h-1.6zM274.3 447.2h1.6v1.6h-1.6zM283.5 449.0h1.6v1.6h-1.6zM266.7 450.1h1.6v1.6h-1.6zM297.4 438.7h1.6v1.6h-1.6zM269.5 454.9h1.6v1.6h-1.6zM259.9 453.9h1.6v1.6h-1.6zM285.9 445.7h1.6v1.6h-1.6zM288.3 435.8h1.6v1.6h-1.6zM282.7 451.7h1.6v1.6h-1.6zM295.5 441.7h1.6v1.6h-1.6zM260.3 453.0h1.6v1.6h-1.6zM287.0 443.1h1.6v1.6h-1.6zM285.9 444.3h1.6v1.6h-1.6zM264.1 456.0h1.6v1.6h-1.6zM258.1 457.0h1.6v1.6h-1.6zM267.6 457.2h1.6v1.6h-1.6zM295.0 440.1h1.6v1.6h-1.6zM271.2 454.9h1.6v1.6h-1.6zM272.7 446.5h1.6v1.6h-1.6zM261.5 453.7h1.6v1.6h-1.6zM272.8 444.3h1.6v1.6h-1.6zM286.0 443.7h1.6v1.6h-1.6zM275.2 457.5h1.6v1.6h-1.6zM266.1 449.5h1.6v1.6h-1.6zM281.2 445.7h1.6v1.6h-1.6zM260.9 454.1h1.6v1.6h-1.6zM277.5 442.5h1.6v1.6h-1.6zM301.1 436.6h1.6v1.6h-1.6zM297.8 438.1h1.6v1.6h-1.6zM283.7 443.9h1.6v1.6h-1.6zM270.2 454.5h1.6v1.6h-1.6zM281.5 448.7h1.6v1.6h-1.6zM253.3 461.3h1.6v1.6h-1.6zM296.3 434.3h1.6v1.6h-1.6zM281.5 444.5h1.6v1.6h-1.6zM276.1 454.5h1.6v1.6h-1.6zM270.5 448.0h1.6v1.6h-1.6zM294.7 440.2h1.6v1.6h-1.6zM277.2 446.1h1.6v1.6h-1.6zM299.5 440.1h1.6v1.6h-1.6zM298.2 437.9h1.6v1.6h-1.6zM280.7 446.0h1.6v1.6h-1.6zM260.9 450.1h1.6v1.6h-1.6zM278.5 438.2h1.6v1.6h-1.6zM278.2 451.6h1.6v1.6h-1.6zM270.1 457.6h1.6v1.6h-1.6zM280.6 446.4h1.6v1.6h-1.6zM296.3 441.2h1.6v1.6h-1.6zM286.4 446.0h1.6v1.6h-1.6zM287.2 447.5h1.6v1.6h-1.6zM273.4 451.2h1.6v1.6h-1.6zM257.7 453.5h1.6v1.6h-1.6zM285.2 445.2h1.6v1.6h-1.6zM278.6 444.0h1.6v1.6h-1.6zM270.8 452.7h1.6v1.6h-1.6zM291.9 450.6h1.6v1.6h-1.6zM297.7 441.8h1.6v1.6h-1.6zM259.8 449.4h1.6v1.6h-1.6zM290.8 440.5h1.6v1.6h-1.6zM277.2 448.9h1.6v1.6h-1.6zM280.2 445.4h1.6v1.6h-1.6zM295.3 437.3h1.6v1.6h-1.6zM256.4 462.2h1.6v1.6h-1.6zM281.6 448.9h1.6v1.6h-1.6zM267.1 448.9h1.6v1.6h-1.6zM282.5 445.9h1.6v1.6h-1.6zM269.1 455.9h1.6v1.6h-1.6zM267.1 450.7h1.6v1.6h-1.6zM285.8 437.4h1.6v1.6h-1.6zM282.7 447.0h1.6v1.6h-1.6zM299.4 440.5h1.6v1.6h-1.6zM281.9 441.2h1.6v1.6h-1.6zM286.7 443.4h1.6v1.6h-1.6zM297.0 440.3h1.6v1.6h-1.6zM283.6 446.4h1.6v1.6h-1.6zM284.4 449.7h1.6v1.6h-1.6zM262.4 448.2h1.6v1.6h-1.6zM299.6 437.6h1.6v1.6h-1.6zM289.8 443.3h1.6v1.6h-1.6zM251.0 459.9h1.6v1.6h-1.6zM271.9 448.7h1.6v1.6h-1.6zM288.2 443.7h1.6v1.6h-1.6zM272.7 452.1h1.6v1.6h-1.6zM267.7 450.2h1.6v1.6h-1.6zM272.2 450.2h1.6v1.6h-1.6zM253.1 461.0h1.6v1.6h-1.6zM278.3 444.0h1.6v1.6h-1.6zM301.9 439.6h1.6v1.6h-1.6zM280.6 440.9h1.6v1.6h-1.6zM275.6 449.0h1.6v1.6h-1.6zM269.0 449.7h1.6v1.6h-1.6zM280.3 439.6h1.6v1.6h-1.6zM278.2 444.1h1.6v1.6h-1.6zM288.8 445.0h1.6v1.6h-1.6zM287.6 444.2h1.6v1.6h-1.6zM284.9 437.2h1.6v1.6h-1.6zM275.5 453.7h1.6v1.6h-1.6zM296.4 436.8h1.6v1.6h-1.6zM300.4 440.7h1.6v1.6h-1.6zM294.3 443.2h1.6v1.6h-1.6zM279.8 449.4h1.6v1.6h-1.6zM268.1 454.6h1.6v1.6h-1.6zM294.5 443.2h1.6v1.6h-1.6zM272.3 446.9h1.6v1.6h-1.6zM266.2 458.3h1.6v1.6h-1.6zM264.6 453.1h1.6v1.6h-1.6zM302.5 438.1h1.6v1.6h-1.6zM289.2 443.8h1.6v1.6h-1.6zM278.9 454.0h1.6v1.6h-1.6zM264.5 448.7h1.6v1.6h-1.6zM288.6 440.5h1.6v1.6h-1.6zM280.3 446.0h1.6v1.6h-1.6zM276.3 446.2h1.6v1.6h-1.6zM294.9 437.1h1.6v1.6h-1.6zM291.7 437.5h1.6v1.6h-1.6zM263.0 448.0h1.6v1.6h-1.6zM299.5 438.6h1.6v1.6h-1.6zM283.9 444.7h1.6v1.6h-1.6zM274.8 455.1h1.6v1.6h-1.6zM297.9 439.5h1.6v1.6h-1.6zM292.6 439.6h1.6v1.6h-1.6zM288.9 447.0h1.6v1.6h-1.6zM269.9 451.2h1.6v1.6h-1.6zM283.1 445.8h1.6v1.6h-1.6zM263.4 453.7h1.6v1.6h-1.6zM266.4 452.6h1.6v1.6h-1.6zM296.9 438.2h1.6v1.6h-1.6zM277.8 444.2h1.6v1.6h-1.6zM284.8 442.8h1.6v1.6h-1.6zM250.3 459.5h1.6v1.6h-1.6zM273.4 451.2h1.6v1.6h-1.6zM270.5 451.6h1.6v1.6h-1.6zM278.9 450.5h1.6v1.6h-1.6zM297.2 437.9h1.6v1.6h-1.6zM283.4 441.6h1.6v1.6h-1.6zM264.1 455.0h1.6v1.6h-1.6zM296.0 431.6h1.6v1.6h-1.6zM277.1 451.8h1.6v1.6h-1.6zM294.4 439.4h1.6v1.6h-1.6zM270.7 451.9h1.6v1.6h-1.6zM258.5 455.2h1.6v1.6h-1.6zM292.5 439.7h1.6v1.6h-1.6zM268.7 451.7h1.6v1.6h-1.6zM282.6 438.9h1.6v1.6h-1.6zM284.4 445.9h1.6v1.6h-1.6zM266.9 452.6h1.6v1.6h-1.6zM262.6 455.9h1.6v1.6h-1.6zM282.7 442.8h1.6v1.6h-1.6zM267.6 449.7h1.6v1.6h-1.6zM290.2 444.0h1.6v1.6h-1.6zM292.7 437.8h1.6v1.6h-1.6zM260.7 454.0h1.6v1.6h-1.6zM282.4 443.9h1.6v1.6h-1.6zM283.1 443.0h1.6v1.6h-1.6zM294.3 433.8h1.6v1.6h-1.6zM284.6 453.0h1.6v1.6h-1.6zM257.4 459.9h1.6v1.6h-1.6zM275.0 448.7h1.6v1.6h-1.6zM291.8 444.9h1.6v1.6h-1.6zM262.8 451.7h1.6v1.6h-1.6zM259.7 455.7h1.6v1.6h-1.6zM277.4 450.2h1.6v1.6h-1.6zM279.6 452.0h1.6v1.6h-1.6zM286.4 447.9h1.6v1.6h-1.6zM264.4 447.5h1.6v1.6h-1.6zM269.2 447.3h1.6v1.6h-1.6zM258.8 459.1h1.6v1.6h-1.6zM278.5 444.2h1.6v1.6h-1.6zM280.7 444.6h1.6v1.6h-1.6zM265.1 460.1h1.6v1.6h-1.6zM281.7 452.4h1.6v1.6h-1.6zM282.7 445.0h1.6v1.6h-1.6zM275.0 448.7h1.6v1.6h-1.6zM294.4 435.4h1.6v1.6h-1.6zM270.7 445.2h1.6v1.6h-1.6zM286.0 437.0h1.6v1.6h-1.6zM254.8 462.3h1.6v1.6h-1.6zM296.3 434.5h1.6v1.6h-1.6zM282.5 445.5h1.6v1.6h-1.6zM293.0 441.1h1.6v1.6h-1.6zM253.2 459.1h1.6v1.6h-1.6zM289.1 445.2h1.6v1.6h-1.6zM265.0 449.1h1.6v1.6h-1.6zM279.9 444.4h1.6v1.6h-1.6zM274.2 449.3h1.6v1.6h-1.6zM296.2 440.3h1.6v1.6h-1.6zM281.9 452.4h1.6v1.6h-1.6zM283.6 444.1h1.6v1.6h-1.6zM271.4 449.3h1.6v1.6h-1.6zM295.3 439.8h1.6v1.6h-1.6zM272.4 445.8h1.6v1.6h-1.6zM268.2 448.3h1.6v1.6h-1.6zM260.0 455.0h1.6v1.6h-1.6zM280.0 443.6h1.6v1.6h-1.6zM277.4 454.0h1.6v1.6h-1.6zM274.6 444.3h1.6v1.6h-1.6zM277.4 449.3h1.6v1.6h-1.6zM265.3 452.1h1.6v1.6h-1.6zM285.6 445.1h1.6v1.6h-1.6zM281.2 452.4h1.6v1.6h-1.6zM289.0 444.5h1.6v1.6h-1.6zM263.2 455.7h1.6v1.6h-1.6zM263.6 454.8h1.6v1.6h-1.6zM295.4 436.6h1.6v1.6h-1.6zM267.8 447.1h1.6v1.6h-1.6zM275.5 441.9h1.6v1.6h-1.6zM289.2 438.4h1.6v1.6h-1.6zM300.0 441.6h1.6v1.6h-1.6zM272.3 447.6h1.6v1.6h-1.6zM273.9 445.9h1.6v1.6h-1.6zM272.9 450.7h1.6v1.6h-1.6zM280.2 442.0h1.6v1.6h-1.6zM278.3 438.9h1.6v1.6h-1.6zM292.1 439.6h1.6v1.6h-1.6zM273.6 448.3h1.6v1.6h-1.6zM270.8 455.7h1.6v1.6h-1.6zM277.9 450.7h1.6v1.6h-1.6zM286.0 448.5h1.6v1.6h-1.6zM272.9 452.4h1.6v1.6h-1.6zM276.0 444.9h1.6v1.6h-1.6zM266.3 447.7h1.6v1.6h-1.6zM279.5 450.5h1.6v1.6h-1.6zM295.9 444.6h1.6v1.6h-1.6zM275.8 450.3h1.6v1.6h-1.6zM260.0 448.0h1.6v1.6h-1.6zM279.5 441.0h1.6v1.6h-1.6zM283.4 445.4h1.6v1.6h-1.6zM282.3 444.0h1.6v1.6h-1.6zM285.6 439.6h1.6v1.6h-1.6zM275.8 442.0h1.6v1.6h-1.6zM286.6 441.0h1.6v1.6h-1.6zM257.3 452.6h1.6v1.6h-1.6zM287.6 445.8h1.6v1.6h-1.6zM279.2 446.9h1.6v1.6h-1.6zM272.0 450.7h1.6v1.6h-1.6zM263.1 459.2h1.6v1.6h-1.6zM274.2 446.6h1.6v1.6h-1.6zM269.9 449.9h1.6v1.6h-1.6zM261.4 455.7h1.6v1.6h-1.6zM255.4 458.9h1.6v1.6h-1.6zM301.3 439.0h1.6v1.6h-1.6zM259.3 451.1h1.6v1.6h-1.6zM255.4 452.7h1.6v1.6h-1.6zM279.1 443.8h1.6v1.6h-1.6zM259.4 457.5h1.6v1.6h-1.6zM297.5 436.1h1.6v1.6h-1.6zM288.7 450.4h1.6v1.6h-1.6zM279.5 441.5h1.6v1.6h-1.6zM295.9 439.5h1.6v1.6h-1.6zM296.5 433.8h1.6v1.6h-1.6zM285.3 445.8h1.6v1.6h-1.6zM301.3 438.3h1.6v1.6h-1.6zM285.0 443.5h1.6v1.6h-1.6zM290.4 444.6h1.6v1.6h-1.6zM266.4 450.0h1.6v1.6h-1.6zM274.2 448.6h1.6v1.6h-1.6zM278.6 449.3h1.6v1.6h-1.6zM288.6 444.9h1.6v1.6h-1.6zM287.9 447.0h1.6v1.6h-1.6zM269.9 457.2h1.6v1.6h-1.6zM296.3 431.7h1.6v1.6h-1.6zM268.3 451.2h1.6v1.6h-1.6zM283.0 444.5h1.6v1.6h-1.6zM283.1 441.3h1.6v1.6h-1.6zM286.2 441.4h1.6v1.6h-1.6zM265.1 450.1h1.6v1.6h-1.6zM280.0 440.4h1.6v1.6h-1.6zM268.6 454.3h1.6v1.6h-1.6zM296.4 434.2h1.6v1.6h-1.6zM261.2 457.1h1.6v1.6h-1.6zM288.6 443.3h1.6v1.6h-1.6zM252.5 458.1h1.6v1.6h-1.6zM293.9 446.8h1.6v1.6h-1.6zM274.1 447.7h1.6v1.6h-1.6zM261.2 455.6h1.6v1.6h-1.6zM287.8 448.7h1.6v1.6h-1.6zM279.9 446.4h1.6v1.6h-1.6zM277.7 444.0h1.6v1.6h-1.6zM273.4 448.1h1.6v1.6h-1.6zM286.1 438.0h1.6v1.6h-1.6zM287.9 446.6h1.6v1.6h-1.6zM294.0 440.0h1.6v1.6h-1.6zM258.0 456.2h1.6v1.6h-1.6zM249.5 461.2h1.6v1.6h-1.6zM287.4 446.8h1.6v1.6h-1.6zM256.9 456.7h1.6v1.6h-1.6zM286.3 453.8h1.6v1.6h-1.6zM273.9 456.4h1.6v1.6h-1.6zM278.3 453.4h1.6v1.6h-1.6zM279.3 446.0h1.6v1.6h-1.6zM298.3 440.8h1.6v1.6h-1.6zM271.1 452.0h1.6v1.6h-1.6zM284.0 446.0h1.6v1.6h-1.6zM289.9 445.0h1.6v1.6h-1.6zM276.3 450.6h1.6v1.6h-1.6zM276.3 451.7h1.6v1.6h-1.6zM287.8 443.1h1.6v1.6h-1.6zM277.6 443.0h1.6v1.6h-1.6zM289.4 443.8h1.6v1.6h-1.6zM269.7 453.2h1.6v1.6h-1.6zM263.3 452.9h1.6v1.6h-1.6zM296.0 439.7h1.6v1.6h-1.6zM267.1 457.5h1.6v1.6h-1.6zM291.4 444.4h1.6v1.6h-1.6zM281.1 443.4h1.6v1.6h-1.6zM289.1 442.5h1.6v1.6h-1.6zM284.9 440.3h1.6v1.6h-1.6zM291.1 443.5h1.6v1.6h-1.6zM270.6 454.5h1.6v1.6h-1.6zM288.0 448.8h1.6v1.6h-1.6zM287.2 442.9h1.6v1.6h-1.6zM275.0 445.4h1.6v1.6h-1.6zM284.1 436.6h1.6v1.6h-1.6zM255.1 455.4h1.6v1.6h-1.6zM262.7 454.9h1.6v1.6h-1.6zM298.0 442.4h1.6v1.6h-1.6zM272.8 449.7h1.6v1.6h-1.6zM272.8 448.3h1.6v1.6h-1.6zM293.2 438.4h1.6v1.6h-1.6zM276.3 452.7h1.6v1.6h-1.6zM294.5 434.6h1.6v1.6h-1.6zM264.9 450.1h1.6v1.6h-1.6zM295.0 442.1h1.6v1.6h-1.6zM272.4 456.8h1.6v1.6h-1.6zM262.6 462.2h1.6v1.6h-1.6zM267.1 455.1h1.6v1.6h-1.6zM294.0 444.0h1.6v1.6h-1.6zM257.5 462.9h1.6v1.6h-1.6zM302.1 437.9h1.6v1.6h-1.6zM293.6 445.4h1.6v1.6h-1.6zM298.6 437.0h1.6v1.6h-1.6zM268.1 457.9h1.6v1.6h-1.6zM267.9 459.0h1.6v1.6h-1.6zM290.1 436.6h1.6v1.6h-1.6zM259.8 461.7h1.6v1.6h-1.6zM255.2 460.4h1.6v1.6h-1.6zM283.9 448.0h1.6v1.6h-1.6zM294.6 439.0h1.6v1.6h-1.6zM291.8 438.1h1.6v1.6h-1.6zM253.8 458.0h1.6v1.6h-1.6zM266.6 449.8h1.6v1.6h-1.6zM261.5 454.2h1.6v1.6h-1.6zM277.8 447.1h1.6v1.6h-1.6zM267.4 455.2h1.6v1.6h-1.6zM263.4 455.6h1.6v1.6h-1.6zM290.7 437.6h1.6v1.6h-1.6zM286.3 441.7h1.6v1.6h-1.6zM298.1 435.5h1.6v1.6h-1.6zM282.6 442.3h1.6v1.6h-1.6zM301.1 438.2h1.6v1.6h-1.6zM291.2 443.4h1.6v1.6h-1.6zM263.2 454.8h1.6v1.6h-1.6zM253.5 456.7h1.6v1.6h-1.6zM287.2 439.7h1.6v1.6h-1.6zM297.1 442.3h1.6v1.6h-1.6zM267.8 451.3h1.6v1.6h-1.6zM289.3 447.2h1.6v1.6h-1.6zM260.5 455.3h1.6v1.6h-1.6zM292.3 440.9h1.6v1.6h-1.6zM280.2 437.8h1.6v1.6h-1.6zM262.9 449.2h1.6v1.6h-1.6zM264.5 451.3h1.6v1.6h-1.6zM283.3 448.1h1.6v1.6h-1.6zM287.2 445.3h1.6v1.6h-1.6zM293.9 440.8h1.6v1.6h-1.6zM297.1 439.9h1.6v1.6h-1.6zM289.3 444.1h1.6v1.6h-1.6zM278.8 440.5h1.6v1.6h-1.6zM281.7 449.1h1.6v1.6h-1.6zM262.3 449.7h1.6v1.6h-1.6zM257.6 458.0h1.6v1.6h-1.6zM275.2 446.2h1.6v1.6h-1.6zM282.0 448.2h1.6v1.6h-1.6zM272.8 451.7h1.6v1.6h-1.6zM277.3 447.8h1.6v1.6h-1.6zM289.0 442.0h1.6v1.6h-1.6zM272.8 445.8h1.6v1.6h-1.6zM290.8 438.9h1.6v1.6h-1.6zM291.2 446.9h1.6v1.6h-1.6zM268.0 453.3h1.6v1.6h-1.6zM282.0 440.8h1.6v1.6h-1.6zM275.7 447.9h1.6v1.6h-1.6zM264.4 454.2h1.6v1.6h-1.6zM290.3 441.3h1.6v1.6h-1.6zM281.1 450.2h1.6v1.6h-1.6zM275.7 457.7h1.6v1.6h-1.6zM290.9 443.1h1.6v1.6h-1.6zM289.8 445.9h1.6v1.6h-1.6zM273.2 450.2h1.6v1.6h-1.6zM286.7 439.7h1.6v1.6h-1.6zM282.4 450.8h1.6v1.6h-1.6zM286.8 452.5h1.6v1.6h-1.6zM292.1 435.4h1.6v1.6h-1.6zM267.5 451.9h1.6v1.6h-1.6zM259.3 454.2h1.6v1.6h-1.6zM292.9 442.9h1.6v1.6h-1.6zM288.4 449.6h1.6v1.6h-1.6zM294.7 442.7h1.6v1.6h-1.6zM265.2 456.1h1.6v1.6h-1.6zM290.2 442.2h1.6v1.6h-1.6zM277.6 448.2h1.6v1.6h-1.6zM278.8 447.1h1.6v1.6h-1.6zM273.6 452.0h1.6v1.6h-1.6zM290.7 444.7h1.6v1.6h-1.6zM301.1 437.7h1.6v1.6h-1.6zM291.9 442.8h1.6v1.6h-1.6zM282.0 443.4h1.6v1.6h-1.6zM279.1 441.8h1.6v1.6h-1.6zM289.2 436.2h1.6v1.6h-1.6zM260.6 458.3h1.6v1.6h-1.6zM291.6 448.7h1.6v1.6h-1.6zM278.7 450.4h1.6v1.6h-1.6zM257.7 461.4h1.6v1.6h-1.6zM251.4 457.9h1.6v1.6h-1.6zM294.7 439.1h1.6v1.6h-1.6zM282.0 446.0h1.6v1.6h-1.6zM279.2 445.6h1.6v1.6h-1.6zM285.9 451.3h1.6v1.6h-1.6zM284.5 447.2h1.6v1.6h-1.6zM295.1 441.1h1.6v1.6h-1.6zM259.9 456.3h1.6v1.6h-1.6zM272.7 452.5h1.6v1.6h-1.6zM287.9 441.8h1.6v1.6h-1.6zM262.4 453.8h1.6v1.6h-1.6zM280.3 444.6h1.6v1.6h-1.6zM268.7 446.9h1.6v1.6h-1.6zM297.8 437.8h1.6v1.6h-1.6zM288.7 441.0h1.6v1.6h-1.6zM259.8 447.6h1.6v1.6h-1.6zM277.2 449.8h1.6v1.6h-1.6zM288.6 439.3h1.6v1.6h-1.6zM277.4 449.3h1.6v1.6h-1.6zM292.0 443.9h1.6v1.6h-1.6zM298.9 444.9h1.6v1.6h-1.6zM271.6 445.3h1.6v1.6h-1.6zM292.8 446.5h1.6v1.6h-1.6zM263.5 453.9h1.6v1.6h-1.6zM274.1 451.0h1.6v1.6h-1.6zM257.1 457.3h1.6v1.6h-1.6zM287.3 443.1h1.6v1.6h-1.6zM265.9 456.9h1.6v1.6h-1.6zM254.8 461.2h1.6v1.6h-1.6zM295.8 439.9h1.6v1.6h-1.6zM270.5 448.0h1.6v1.6h-1.6zM269.7 450.3h1.6v1.6h-1.6zM294.0 437.4h1.6v1.6h-1.6zM272.6 451.2h1.6v1.6h-1.6zM279.1 445.8h1.6v1.6h-1.6zM280.3 441.3h1.6v1.6h-1.6zM268.6 454.5h1.6v1.6h-1.6zM300.6 439.3h1.6v1.6h-1.6zM268.2 448.1h1.6v1.6h-1.6zM283.0 450.5h1.6v1.6h-1.6zM275.7 450.6h1.6v1.6h-1.6zM296.0 445.7h1.6v1.6h-1.6zM284.2 445.9h1.6v1.6h-1.6zM295.0 439.1h1.6v1.6h-1.6zM278.5 442.4h1.6v1.6h-1.6zM276.2 450.0h1.6v1.6h-1.6zM270.5 452.4h1.6v1.6h-1.6zM278.4 450.3h1.6v1.6h-1.6zM257.7 459.1h1.6v1.6h-1.6zM264.2 458.0h1.6v1.6h-1.6zM293.2 440.2h1.6v1.6h-1.6zM285.5 439.8h1.6v1.6h-1.6zM282.6 447.2h1.6v1.6h-1.6zM296.4 441.7h1.6v1.6h-1.6zM276.1 450.7h1.6v1.6h-1.6zM268.5 450.8h1.6v1.6h-1.6zM284.0 448.4h1.6v1.6h-1.6zM291.1 445.4h1.6v1.6h-1.6zM295.8 437.2h1.6v1.6h-1.6zM293.8 436.4h1.6v1.6h-1.6zM296.8 440.0h1.6v1.6h-1.6zM275.1 450.9h1.6v1.6h-1.6zM269.3 456.3h1.6v1.6h-1.6zM278.7 447.7h1.6v1.6h-1.6zM273.8 450.5h1.6v1.6h-1.6zM283.0 446.8h1.6v1.6h-1.6zM267.6 447.8h1.6v1.6h-1.6zM258.2 456.4h1.6v1.6h-1.6zM265.2 454.4h1.6v1.6h-1.6zM282.5 440.0h1.6v1.6h-1.6zM270.4 448.6h1.6v1.6h-1.6zM281.9 446.1h1.6v1.6h-1.6zM261.8 451.7h1.6v1.6h-1.6zM284.4 450.5h1.6v1.6h-1.6zM285.4 443.5h1.6v1.6h-1.6zM293.7 440.9h1.6v1.6h-1.6zM299.9 438.0h1.6v1.6h-1.6zM289.1 442.5h1.6v1.6h-1.6zM256.6 457.0h1.6v1.6h-1.6zM270.6 453.8h1.6v1.6h-1.6zM270.4 454.3h1.6v1.6h-1.6zM270.1 449.7h1.6v1.6h-1.6zM279.0 447.9h1.6v1.6h-1.6zM291.4 444.6h1.6v1.6h-1.6zM294.2 439.1h1.6v1.6h-1.6zM284.3 447.8h1.6v1.6h-1.6zM262.3 450.5h1.6v1.6h-1.6zM284.2 449.0h1.6v1.6h-1.6zM276.3 452.2h1.6v1.6h-1.6zM291.6 442.1h1.6v1.6h-1.6zM290.1 441.3h1.6v1.6h-1.6zM286.4 446.1h1.6v1.6h-1.6zM290.5 443.9h1.6v1.6h-1.6zM285.0 442.3h1.6v1.6h-1.6zM283.1 441.8h1.6v1.6h-1.6zM258.4 454.7h1.6v1.6h-1.6zM290.7 442.0h1.6v1.6h-1.6zM261.5 454.3h1.6v1.6h-1.6zM266.8 451.3h1.6v1.6h-1.6zM289.4 440.9h1.6v1.6h-1.6zM257.5 453.8h1.6v1.6h-1.6zM292.3 440.4h1.6v1.6h-1.6zM276.9 448.9h1.6v1.6h-1.6zM270.0 444.8h1.6v1.6h-1.6zM286.5 440.9h1.6v1.6h-1.6zM296.5 442.2h1.6v1.6h-1.6zM278.5 447.8h1.6v1.6h-1.6zM261.6 455.2h1.6v1.6h-1.6zM278.0 446.9h1.6v1.6h-1.6zM277.2 444.0h1.6v1.6h-1.6zM288.7 446.1h1.6v1.6h-1.6zM265.5 450.7h1.6v1.6h-1.6zM255.8 458.7h1.6v1.6h-1.6zM255.8 456.4h1.6v1.6h-1.6zM278.7 447.9h1.6v1.6h-1.6zM274.6 453.5h1.6v1.6h-1.6zM298.7 437.7h1.6v1.6h-1.6zM282.7 451.3h1.6v1.6h-1.6zM282.2 444.9h1.6v1.6h-1.6zM272.9 459.1h1.6v1.6h-1.6zM278.9 449.6h1.6v1.6h-1.6zM264.2 455.8h1.6v1.6h-1.6zM266.4 451.1h1.6v1.6h-1.6zM282.3 452.8h1.6v1.6h-1.6zM279.3 454.3h1.6v1.6h-1.6zM274.3 448.8h1.6v1.6h-1.6zM295.1 443.0h1.6v1.6h-1.6zM264.1 448.9h1.6v1.6h-1.6zM283.3 445.4h1.6v1.6h-1.6zM262.1 449.5h1.6v1.6h-1.6zM293.7 445.2h1.6v1.6h-1.6zM260.4 452.5h1.6v1.6h-1.6zM292.9 448.3h1.6v1.6h-1.6zM271.1 450.8h1.6v1.6h-1.6zM295.8 440.5h1.6v1.6h-1.6zM278.8 440.3h1.6v1.6h-1.6zM276.3 447.1h1.6v1.6h-1.6zM284.0 446.5h1.6v1.6h-1.6zM274.2 454.2h1.6v1.6h-1.6zM282.4 442.9h1.6v1.6h-1.6zM276.1 448.2h1.6v1.6h-1.6zM283.7 443.6h1.6v1.6h-1.6zM269.8 454.7h1.6v1.6h-1.6zM281.8 449.5h1.6v1.6h-1.6zM265.6 454.7h1.6v1.6h-1.6zM280.1 446.9h1.6v1.6h-1.6zM294.1 441.4h1.6v1.6h-1.6zM270.6 453.2h1.6v1.6h-1.6zM295.0 440.3h1.6v1.6h-1.6zM276.3 442.2h1.6v1.6h-1.6zM278.1 452.4h1.6v1.6h-1.6zM277.6 449.4h1.6v1.6h-1.6zM276.7 444.9h1.6v1.6h-1.6zM255.1 456.1h1.6v1.6h-1.6zM302.8 437.9h1.6v1.6h-1.6zM278.5 444.9h1.6v1.6h-1.6zM263.2 454.0h1.6v1.6h-1.6zM294.3 443.8h1.6v1.6h-1.6zM254.6 460.3h1.6v1.6h-1.6zM301.4 438.9h1.6v1.6h-1.6zM280.4 452.9h1.6v1.6h-1.6zM294.8 438.1h1.6v1.6h-1.6zM261.8 452.3h1.6v1.6h-1.6zM274.4 447.9h1.6v1.6h-1.6zM257.5 458.0h1.6v1.6h-1.6zM262.6 455.0h1.6v1.6h-1.6zM293.1 442.1h1.6v1.6h-1.6zM286.2 443.5h1.6v1.6h-1.6zM280.4 449.8h1.6v1.6h-1.6zM269.0 446.7h1.6v1.6h-1.6zM271.9 443.9h1.6v1.6h-1.6zM258.5 455.2h1.6v1.6h-1.6zM284.3 439.6h1.6v1.6h-1.6zM281.1 445.1h1.6v1.6h-1.6zM298.2 432.4h1.6v1.6h-1.6zM280.1 445.7h1.6v1.6h-1.6zM271.2 454.1h1.6v1.6h-1.6zM280.5 441.4h1.6v1.6h-1.6zM295.6 440.5h1.6v1.6h-1.6zM261.7 451.0h1.6v1.6h-1.6zM273.6 453.4h1.6v1.6h-1.6zM281.2 446.2h1.6v1.6h-1.6zM299.3 438.4h1.6v1.6h-1.6zM268.3 449.1h1.6v1.6h-1.6zM296.3 440.4h1.6v1.6h-1.6zM287.9 445.7h1.6v1.6h-1.6zM293.8 443.9h1.6v1.6h-1.6zM296.5 438.9h1.6v1.6h-1.6zM280.1 444.2h1.6v1.6h-1.6zM269.8 445.6h1.6v1.6h-1.6zM284.2 445.0h1.6v1.6h-1.6zM260.3 450.0h1.6v1.6h-1.6zM287.9 440.2h1.6v1.6h-1.6zM277.9 447.3h1.6v1.6h-1.6zM257.6 458.3h1.6v1.6h-1.6zM270.6 456.4h1.6v1.6h-1.6zM290.4 435.9h1.6v1.6h-1.6zM294.2 437.9h1.6v1.6h-1.6zM264.7 455.8h1.6v1.6h-1.6zM272.1 451.4h1.6v1.6h-1.6zM297.8 431.4h1.6v1.6h-1.6zM262.9 457.7h1.6v1.6h-1.6zM258.8 456.7h1.6v1.6h-1.6zM255.3 461.1h1.6v1.6h-1.6zM282.5 445.6h1.6v1.6h-1.6zM266.8 451.6h1.6v1.6h-1.6zM269.1 453.0h1.6v1.6h-1.6zM265.1 455.3h1.6v1.6h-1.6zM293.1 439.2h1.6v1.6h-1.6zM295.8 437.4h1.6v1.6h-1.6zM287.9 442.7h1.6v1.6h-1.6zM274.6 455.6h1.6v1.6h-1.6zM269.9 446.0h1.6v1.6h-1.6zM278.9 450.0h1.6v1.6h-1.6zM290.3 436.6h1.6v1.6h-1.6zM270.3 443.0h1.6v1.6h-1.6zM291.2 440.6h1.6v1.6h-1.6zM261.7 454.1h1.6v1.6h-1.6zM277.1 453.3h1.6v1.6h-1.6zM272.6 449.0h1.6v1.6h-1.6zM294.0 437.1h1.6v1.6h-1.6zM294.7 440.8h1.6v1.6h-1.6zM285.1 447.5h1.6v1.6h-1.6zM267.8 446.0h1.6v1.6h-1.6zM290.2 445.8h1.6v1.6h-1.6zM278.2 447.0h1.6v1.6h-1.6zM276.6 452.9h1.6v1.6h-1.6zM268.1 456.0h1.6v1.6h-1.6zM278.7 449.6h1.6v1.6h-1.6zM300.5 436.3h1.6v1.6h-1.6zM289.7 448.5h1.6v1.6h-1.6zM263.5 451.6h1.6v1.6h-1.6zM262.5 457.3h1.6v1.6h-1.6zM278.5 443.6h1.6v1.6h-1.6zM254.2 453.6h1.6v1.6h-1.6zM281.6 439.6h1.6v1.6h-1.6zM264.0 451.1h1.6v1.6h-1.6zM261.5 458.1h1.6v1.6h-1.6zM267.5 448.5h1.6v1.6h-1.6zM289.4 443.3h1.6v1.6h-1.6zM288.1 443.4h1.6v1.6h-1.6zM300.6 437.3h1.6v1.6h-1.6zM279.8 441.3h1.6v1.6h-1.6zM294.3 444.2h1.6v1.6h-1.6zM285.4 441.9h1.6v1.6h-1.6zM283.7 443.4h1.6v1.6h-1.6zM287.9 443.3h1.6v1.6h-1.6zM293.3 440.3h1.6v1.6h-1.6zM280.7 450.6h1.6v1.6h-1.6zM283.4 444.3h1.6v1.6h-1.6zM269.6 455.8h1.6v1.6h-1.6zM272.2 450.8h1.6v1.6h-1.6zM287.5 438.8h1.6v1.6h-1.6zM284.3 445.1h1.6v1.6h-1.6zM288.0 440.2h1.6v1.6h-1.6zM285.8 437.3h1.6v1.6h-1.6zM251.4 460.0h1.6v1.6h-1.6zM288.3 448.0h1.6v1.6h-1.6zM266.0 459.3h1.6v1.6h-1.6zM277.4 447.3h1.6v1.6h-1.6zM280.0 453.9h1.6v1.6h-1.6zM263.7 453.7h1.6v1.6h-1.6zM275.8 450.7h1.6v1.6h-1.6zM266.1 453.6h1.6v1.6h-1.6zM256.1 457.0h1.6v1.6h-1.6zM293.5 438.6h1.6v1.6h-1.6zM260.5 450.7h1.6v1.6h-1.6zM282.0 443.7h1.6v1.6h-1.6zM265.8 454.1h1.6v1.6h-1.6zM260.8 457.9h1.6v1.6h-1.6zM272.8 448.5h1.6v1.6h-1.6zM285.6 446.6h1.6v1.6h-1.6zM279.4 447.7h1.6v1.6h-1.6zM279.8 444.3h1.6v1.6h-1.6zM256.7 453.5h1.6v1.6h-1.6zM272.7 446.7h1.6v1.6h-1.6zM288.5 442.1h1.6v1.6h-1.6zM276.1 446.4h1.6v1.6h-1.6zM290.1 439.5h1.6v1.6h-1.6zM281.9 444.8h1.6v1.6h-1.6zM273.0 447.3h1.6v1.6h-1.6zM263.6 457.5h1.6v1.6h-1.6zM262.7 456.7h1.6v1.6h-1.6zM297.8 435.9h1.6v1.6h-1.6zM253.9 460.5h1.6v1.6h-1.6zM301.2 441.2h1.6v1.6h-1.6zM294.5 441.3h1.6v1.6h-1.6zM279.1 444.8h1.6v1.6h-1.6zM282.2 444.1h1.6v1.6h-1.6zM284.8 439.7h1.6v1.6h-1.6zM271.4 446.1h1.6v1.6h-1.6zM279.9 444.6h1.6v1.6h-1.6zM287.0 444.1h1.6v1.6h-1.6zM298.4 434.9h1.6v1.6h-1.6zM273.4 446.2h1.6v1.6h-1.6zM288.4 443.4h1.6v1.6h-1.6zM272.0 448.4h1.6v1.6h-1.6zM287.8 439.8h1.6v1.6h-1.6zM287.0 440.7h1.6v1.6h-1.6zM284.2 441.8h1.6v1.6h-1.6zM295.9 443.3h1.6v1.6h-1.6zM277.3 445.0h1.6v1.6h-1.6zM274.2 449.1h1.6v1.6h-1.6zM288.8 441.6h1.6v1.6h-1.6zM268.4 447.5h1.6v1.6h-1.6zM252.8 459.3h1.6v1.6h-1.6zM277.5 448.0h1.6v1.6h-1.6zM295.6 440.9h1.6v1.6h-1.6zM254.3 458.8h1.6v1.6h-1.6zM258.7 458.1h1.6v1.6h-1.6zM296.7 433.3h1.6v1.6h-1.6zM254.7 461.2h1.6v1.6h-1.6zM264.1 457.5h1.6v1.6h-1.6zM296.8 436.7h1.6v1.6h-1.6zM287.7 442.5h1.6v1.6h-1.6zM258.6 463.7h1.6v1.6h-1.6zM285.8 444.8h1.6v1.6h-1.6zM296.3 439.5h1.6v1.6h-1.6zM295.9 442.8h1.6v1.6h-1.6zM288.6 445.7h1.6v1.6h-1.6zM285.7 445.4h1.6v1.6h-1.6zM287.5 442.3h1.6v1.6h-1.6zM295.8 437.4h1.6v1.6h-1.6zM285.0 444.5h1.6v1.6h-1.6zM274.6 444.6h1.6v1.6h-1.6zM271.2 455.2h1.6v1.6h-1.6zM283.2 445.4h1.6v1.6h-1.6zM285.5 439.9h1.6v1.6h-1.6zM281.5 448.3h1.6v1.6h-1.6zM268.7 454.2h1.6v1.6h-1.6zM298.8 437.3h1.6v1.6h-1.6zM257.3 460.2h1.6v1.6h-1.6zM276.3 454.4h1.6v1.6h-1.6zM256.3 457.2h1.6v1.6h-1.6zM297.2 438.1h1.6v1.6h-1.6zM262.4 458.8h1.6v1.6h-1.6zM293.1 441.7h1.6v1.6h-1.6zM279.0 444.9h1.6v1.6h-1.6zM286.2 444.8h1.6v1.6h-1.6zM271.2 451.1h1.6v1.6h-1.6zM276.7 449.9h1.6v1.6h-1.6zM297.3 441.8h1.6v1.6h-1.6zM283.2 440.4h1.6v1.6h-1.6zM261.5 455.5h1.6v1.6h-1.6zM265.8 451.1h1.6v1.6h-1.6zM301.1 438.7h1.6v1.6h-1.6zM291.3 436.2h1.6v1.6h-1.6zM295.6 447.3h1.6v1.6h-1.6zM293.3 441.0h1.6v1.6h-1.6zM253.4 463.4h1.6v1.6h-1.6zM285.5 444.9h1.6v1.6h-1.6zM294.4 437.5h1.6v1.6h-1.6zM298.5 440.8h1.6v1.6h-1.6zM300.7 438.9h1.6v1.6h-1.6zM276.4 446.9h1.6v1.6h-1.6zM280.2 445.7h1.6v1.6h-1.6zM293.4 441.1h1.6v1.6h-1.6zM295.5 437.7h1.6v1.6h-1.6zM263.8 458.8h1.6v1.6h-1.6zM293.3 442.2h1.6v1.6h-1.6zM292.6 436.8h1.6v1.6h-1.6zM264.7 452.2h1.6v1.6h-1.6zM294.7 437.6h1.6v1.6h-1.6zM296.4 440.8h1.6v1.6h-1.6zM287.0 447.5h1.6v1.6h-1.6zM268.2 451.5h1.6v1.6h-1.6zM280.9 451.2h1.6v1.6h-1.6zM295.4 438.0h1.6v1.6h-1.6zM285.8 452.8h1.6v1.6h-1.6zM272.7 446.0h1.6v1.6h-1.6zM269.1 449.3h1.6v1.6h-1.6zM293.4 437.2h1.6v1.6h-1.6zM291.1 439.2h1.6v1.6h-1.6zM273.8 447.8h1.6v1.6h-1.6zM281.5 448.2h1.6v1.6h-1.6zM297.6 437.4h1.6v1.6h-1.6zM297.0 441.6h1.6v1.6h-1.6zM293.5 443.8h1.6v1.6h-1.6zM277.0 444.0h1.6v1.6h-1.6zM263.2 451.0h1.6v1.6h-1.6zM251.9 458.9h1.6v1.6h-1.6zM288.2 445.6h1.6v1.6h-1.6zM280.0 444.6h1.6v1.6h-1.6zM274.7 449.7h1.6v1.6h-1.6zM260.7 454.6h1.6v1.6h-1.6zM285.3 447.8h1.6v1.6h-1.6zM284.9 443.5h1.6v1.6h-1.6zM251.7 461.3h1.6v1.6h-1.6zM268.3 451.2h1.6v1.6h-1.6zM261.4 459.3h1.6v1.6h-1.6zM302.0 436.4h1.6v1.6h-1.6zM263.4 450.1h1.6v1.6h-1.6zM259.6 453.2h1.6v1.6h-1.6zM274.5 450.8h1.6v1.6h-1.6zM299.0 436.4h1.6v1.6h-1.6zM283.4 447.3h1.6v1.6h-1.6zM283.9 446.4h1.6v1.6h-1.6zM287.6 447.4h1.6v1.6h-1.6zM266.9 450.2h1.6v1.6h-1.6zM262.5 451.8h1.6v1.6h-1.6zM292.5 443.5h1.6v1.6h-1.6zM289.7 439.7h1.6v1.6h-1.6zM296.0 441.8h1.6v1.6h-1.6zM293.1 439.5h1.6v1.6h-1.6zM258.5 455.7h1.6v1.6h-1.6zM262.8 447.9h1.6v1.6h-1.6zM274.7 450.6h1.6v1.6h-1.6zM289.6 440.7h1.6v1.6h-1.6zM262.3 456.7h1.6v1.6h-1.6zM288.5 444.4h1.6v1.6h-1.6zM268.5 453.7h1.6v1.6h-1.6zM292.0 447.5h1.6v1.6h-1.6zM267.1 454.3h1.6v1.6h-1.6zM295.3 441.5h1.6v1.6h-1.6zM264.3 460.4h1.6v1.6h-1.6zM291.0 438.5h1.6v1.6h-1.6zM280.3 446.4h1.6v1.6h-1.6zM281.1 445.0h1.6v1.6h-1.6zM283.6 444.9h1.6v1.6h-1.6zM286.0 445.2h1.6v1.6h-1.6zM284.2 437.6h1.6v1.6h-1.6zM288.4 438.4h1.6v1.6h-1.6zM285.7 439.0h1.6v1.6h-1.6zM263.3 454.2h1.6v1.6h-1.6zM291.4 436.0h1.6v1.6h-1.6zM285.9 444.9h1.6v1.6h-1.6zM271.4 451.5h1.6v1.6h-1.6zM282.0 442.8h1.6v1.6h-1.6zM294.3 438.3h1.6v1.6h-1.6zM296.0 436.3h1.6v1.6h-1.6zM252.1 456.1h1.6v1.6h-1.6zM274.2 449.9h1.6v1.6h-1.6zM293.0 445.0h1.6v1.6h-1.6zM295.0 437.2h1.6v1.6h-1.6zM296.9 438.5h1.6v1.6h-1.6zM254.4 462.9h1.6v1.6h-1.6zM287.2 441.7h1.6v1.6h-1.6zM258.7 459.4h1.6v1.6h-1.6zM290.0 444.8h1.6v1.6h-1.6zM279.8 447.2h1.6v1.6h-1.6zM291.1 441.6h1.6v1.6h-1.6zM282.2 444.4h1.6v1.6h-1.6zM280.3 453.0h1.6v1.6h-1.6zM268.0 452.4h1.6v1.6h-1.6zM269.5 449.1h1.6v1.6h-1.6zM260.1 455.0h1.6v1.6h-1.6zM300.3 435.2h1.6v1.6h-1.6zM300.0 436.7h1.6v1.6h-1.6zM279.8 438.1h1.6v1.6h-1.6zM280.8 442.7h1.6v1.6h-1.6zM250.6 461.5h1.6v1.6h-1.6zM287.7 442.7h1.6v1.6h-1.6zM273.9 455.5h1.6v1.6h-1.6zM277.2 441.1h1.6v1.6h-1.6zM298.6 439.9h1.6v1.6h-1.6zM264.1 452.5h1.6v1.6h-1.6zM286.7 441.3h1.6v1.6h-1.6zM277.8 455.9h1.6v1.6h-1.6zM290.3 440.9h1.6v1.6h-1.6zM281.0 448.0h1.6v1.6h-1.6zM293.8 438.7h1.6v1.6h-1.6zM293.2 446.8h1.6v1.6h-1.6zM298.1 436.4h1.6v1.6h-1.6zM297.7 434.7h1.6v1.6h-1.6zM289.4 443.6h1.6v1.6h-1.6zM278.0 449.1h1.6v1.6h-1.6zM262.4 453.4h1.6v1.6h-1.6zM287.7 445.4h1.6v1.6h-1.6zM279.4 449.9h1.6v1.6h-1.6zM268.6 451.2h1.6v1.6h-1.6zM285.4 440.6h1.6v1.6h-1.6zM270.3 447.6h1.6v1.6h-1.6zM258.8 458.7h1.6v1.6h-1.6zM261.5 457.8h1.6v1.6h-1.6zM292.2 442.1h1.6v1.6h-1.6zM284.3 441.0h1.6v1.6h-1.6zM281.8 446.0h1.6v1.6h-1.6zM259.5 457.3h1.6v1.6h-1.6zM293.7 438.9h1.6v1.6h-1.6zM275.5 442.0h1.6v1.6h-1.6zM286.3 443.4h1.6v1.6h-1.6zM260.1 462.3h1.6v1.6h-1.6zM278.8 456.0h1.6v1.6h-1.6zM298.8 436.5h1.6v1.6h-1.6zM281.1 449.3h1.6v1.6h-1.6zM267.0 454.4h1.6v1.6h-1.6zM299.0 438.0h1.6v1.6h-1.6zM284.4 439.3h1.6v1.6h-1.6zM280.6 443.7h1.6v1.6h-1.6zM269.9 448.2h1.6v1.6h-1.6zM276.7 444.0h1.6v1.6h-1.6zM252.4 462.4h1.6v1.6h-1.6zM284.4 445.7h1.6v1.6h-1.6zM275.5 449.9h1.6v1.6h-1.6zM252.7 463.9h1.6v1.6h-1.6zM291.4 444.2h1.6v1.6h-1.6zM290.6 438.5h1.6v1.6h-1.6zM281.7 437.8h1.6v1.6h-1.6zM250.7 459.6h1.6v1.6h-1.6zM297.3 434.4h1.6v1.6h-1.6zM265.7 449.8h1.6v1.6h-1.6zM299.3 435.6h1.6v1.6h-1.6zM275.1 442.7h1.6v1.6h-1.6zM254.7 462.6h1.6v1.6h-1.6zM254.2 453.8h1.6v1.6h-1.6zM259.8 454.6h1.6v1.6h-1.6zM289.3 435.7h1.6v1.6h-1.6zM273.1 457.1h1.6v1.6h-1.6zM263.7 455.4h1.6v1.6h-1.6zM272.1 445.9h1.6v1.6h-1.6zM299.9 439.9h1.6v1.6h-1.6zM281.9 449.2h1.6v1.6h-1.6zM286.8 445.3h1.6v1.6h-1.6zM256.7 458.1h1.6v1.6h-1.6zM280.9 450.1h1.6v1.6h-1.6zM253.8 460.8h1.6v1.6h-1.6zM281.3 440.3h1.6v1.6h-1.6zM277.7 457.4h1.6v1.6h-1.6zM272.7 448.2h1.6v1.6h-1.6zM287.5 448.4h1.6v1.6h-1.6zM257.9 455.0h1.6v1.6h-1.6zM288.5 440.0h1.6v1.6h-1.6zM297.8 437.1h1.6v1.6h-1.6zM265.7 455.9h1.6v1.6h-1.6zM292.3 439.1h1.6v1.6h-1.6zM261.4 456.6h1.6v1.6h-1.6zM250.0 462.5h1.6v1.6h-1.6zM284.3 445.5h1.6v1.6h-1.6zM272.6 448.0h1.6v1.6h-1.6zM289.5 438.1h1.6v1.6h-1.6zM287.2 448.2h1.6v1.6h-1.6zM280.9 446.9h1.6v1.6h-1.6zM264.9 447.1h1.6v1.6h-1.6zM293.5 436.4h1.6v1.6h-1.6zM288.1 442.0h1.6v1.6h-1.6zM297.9 440.7h1.6v1.6h-1.6zM280.1 445.6h1.6v1.6h-1.6zM273.5 445.7h1.6v1.6h-1.6zM284.2 452.9h1.6v1.6h-1.6zM256.1 452.9h1.6v1.6h-1.6zM271.6 454.7h1.6v1.6h-1.6zM276.5 442.0h1.6v1.6h-1.6zM281.2 440.2h1.6v1.6h-1.6zM284.4 446.6h1.6v1.6h-1.6zM275.1 454.6h1.6v1.6h-1.6zM267.4 455.1h1.6v1.6h-1.6zM291.9 437.9h1.6v1.6h-1.6zM290.8 440.0h1.6v1.6h-1.6zM281.2 446.4h1.6v1.6h-1.6zM290.1 446.9h1.6v1.6h-1.6zM263.9 458.2h1.6v1.6h-1.6zM284.5 443.8h1.6v1.6h-1.6zM260.5 453.4h1.6v1.6h-1.6zM297.4 437.8h1.6v1.6h-1.6zM294.0 433.3h1.6v1.6h-1.6zM299.2 433.1h1.6v1.6h-1.6zM303.1 441.6h1.6v1.6h-1.6zM257.3 460.6h1.6v1.6h-1.6zM264.0 449.3h1.6v1.6h-1.6zM295.4 432.8h1.6v1.6h-1.6zM282.6 446.3h1.6v1.6h-1.6zM277.3 448.8h1.6v1.6h-1.6zM275.0 450.6h1.6v1.6h-1.6zM280.6 448.6h1.6v1.6h-1.6zM284.0 444.7h1.6v1.6h-1.6zM274.3 446.4h1.6v1.6h-1.6zM285.9 436.4h1.6v1.6h-1.6zM257.2 456.7h1.6v1.6h-1.6zM282.9 444.5h1.6v1.6h-1.6zM272.2 452.8h1.6v1.6h-1.6zM268.3 455.7h1.6v1.6h-1.6zM259.7 461.2h1.6v1.6h-1.6zM298.8 437.0h1.6v1.6h-1.6zM270.0 448.3h1.6v1.6h-1.6zM265.6 457.2h1.6v1.6h-1.6zM290.5 446.3h1.6v1.6h-1.6zM295.9 436.8h1.6v1.6h-1.6zM274.7 446.3h1.6v1.6h-1.6zM274.9 447.1h1.6v1.6h-1.6zM267.3 459.4h1.6v1.6h-1.6zM296.7 442.7h1.6v1.6h-1.6zM295.5 441.2h1.6v1.6h-1.6zM248.7 455.4h1.6v1.6h-1.6zM275.9 442.7h1.6v1.6h-1.6zM283.1 446.6h1.6v1.6h-1.6zM281.9 445.7h1.6v1.6h-1.6zM282.2 446.6h1.6v1.6h-1.6zM287.3 446.0h1.6v1.6h-1.6zM262.4 450.2h1.6v1.6h-1.6zM273.0 444.3h1.6v1.6h-1.6zM277.8 453.9h1.6v1.6h-1.6zM283.5 445.5h1.6v1.6h-1.6zM278.6 448.3h1.6v1.6h-1.6zM284.1 446.4h1.6v1.6h-1.6zM273.2 446.2h1.6v1.6h-1.6zM276.3 446.9h1.6v1.6h-1.6zM290.0 437.3h1.6v1.6h-1.6zM272.4 451.9h1.6v1.6h-1.6zM285.2 446.5h1.6v1.6h-1.6zM264.9 450.0h1.6v1.6h-1.6zM287.6 444.2h1.6v1.6h-1.6zM274.9 456.4h1.6v1.6h-1.6zM284.4 444.9h1.6v1.6h-1.6zM278.1 451.2h1.6v1.6h-1.6zM277.4 448.5h1.6v1.6h-1.6zM290.5 441.3h1.6v1.6h-1.6zM282.8 443.3h1.6v1.6h-1.6zM281.4 442.5h1.6v1.6h-1.6zM275.9 455.8h1.6v1.6h-1.6zM270.9 447.1h1.6v1.6h-1.6zM293.2 439.3h1.6v1.6h-1.6zM292.2 442.0h1.6v1.6h-1.6zM292.2 442.3h1.6v1.6h-1.6zM269.1 462.5h1.6v1.6h-1.6zM265.7 466.0h1.6v1.6h-1.6zM291.9 453.7h1.6v1.6h-1.6zM258.2 459.9h1.6v1.6h-1.6zM277.0 455.8h1.6v1.6h-1.6zM284.1 455.8h1.6v1.6h-1.6zM276.0 460.9h1.6v1.6h-1.6zM262.9 465.7h1.6v1.6h-1.6zM255.8 463.6h1.6v1.6h-1.6zM293.9 446.9h1.6v1.6h-1.6zM293.2 452.1h1.6v1.6h-1.6zM283.2 450.4h1.6v1.6h-1.6zM283.1 456.1h1.6v1.6h-1.6zM267.3 460.8h1.6v1.6h-1.6zM284.6 453.7h1.6v1.6h-1.6zM281.9 449.1h1.6v1.6h-1.6zM275.3 460.0h1.6v1.6h-1.6zM271.2 458.9h1.6v1.6h-1.6zM271.5 462.7h1.6v1.6h-1.6zM269.2 462.8h1.6v1.6h-1.6zM272.5 461.1h1.6v1.6h-1.6zM297.0 450.2h1.6v1.6h-1.6zM280.6 452.7h1.6v1.6h-1.6zM279.7 456.7h1.6v1.6h-1.6zM260.7 464.1h1.6v1.6h-1.6zM291.5 447.7h1.6v1.6h-1.6zM289.6 449.7h1.6v1.6h-1.6zM274.7 457.6h1.6v1.6h-1.6zM273.5 462.3h1.6v1.6h-1.6zM278.9 458.6h1.6v1.6h-1.6zM265.3 460.9h1.6v1.6h-1.6zM295.4 452.3h1.6v1.6h-1.6zM299.9 450.5h1.6v1.6h-1.6zM286.6 455.7h1.6v1.6h-1.6zM272.4 460.3h1.6v1.6h-1.6zM279.7 460.7h1.6v1.6h-1.6zM289.9 454.0h1.6v1.6h-1.6zM268.5 459.6h1.6v1.6h-1.6zM258.3 472.8h1.6v1.6h-1.6zM271.6 459.3h1.6v1.6h-1.6zM273.6 469.0h1.6v1.6h-1.6zM258.0 464.0h1.6v1.6h-1.6zM294.5 454.2h1.6v1.6h-1.6zM293.9 448.0h1.6v1.6h-1.6zM289.3 456.1h1.6v1.6h-1.6zM286.7 451.9h1.6v1.6h-1.6zM265.1 462.2h1.6v1.6h-1.6zM264.6 463.4h1.6v1.6h-1.6zM286.2 456.6h1.6v1.6h-1.6zM268.5 455.8h1.6v1.6h-1.6zM273.7 454.9h1.6v1.6h-1.6zM283.0 454.9h1.6v1.6h-1.6zM274.3 458.1h1.6v1.6h-1.6zM288.0 449.4h1.6v1.6h-1.6zM263.1 459.6h1.6v1.6h-1.6zM289.0 445.5h1.6v1.6h-1.6zM300.4 451.3h1.6v1.6h-1.6zM268.8 465.9h1.6v1.6h-1.6zM279.1 453.7h1.6v1.6h-1.6zM288.1 454.6h1.6v1.6h-1.6zM253.8 462.8h1.6v1.6h-1.6zM256.0 468.3h1.6v1.6h-1.6zM263.7 459.2h1.6v1.6h-1.6zM268.1 462.9h1.6v1.6h-1.6zM270.3 458.2h1.6v1.6h-1.6zM257.4 464.4h1.6v1.6h-1.6zM263.8 458.6h1.6v1.6h-1.6zM295.6 447.6h1.6v1.6h-1.6zM290.7 447.9h1.6v1.6h-1.6zM277.2 462.1h1.6v1.6h-1.6zM258.7 464.0h1.6v1.6h-1.6zM281.9 453.7h1.6v1.6h-1.6zM292.1 446.7h1.6v1.6h-1.6zM257.5 465.8h1.6v1.6h-1.6zM279.7 460.0h1.6v1.6h-1.6zM282.6 455.4h1.6v1.6h-1.6zM287.6 451.5h1.6v1.6h-1.6zM288.5 454.7h1.6v1.6h-1.6zM264.1 463.1h1.6v1.6h-1.6zM296.8 452.2h1.6v1.6h-1.6zM243.0 473.3h1.6v1.6h-1.6zM236.8 480.9h1.6v1.6h-1.6zM248.6 466.4h1.6v1.6h-1.6zM248.3 464.5h1.6v1.6h-1.6zM234.8 484.8h1.6v1.6h-1.6zM234.5 486.2h1.6v1.6h-1.6zM227.8 493.6h1.6v1.6h-1.6zM233.6 481.0h1.6v1.6h-1.6zM232.6 489.1h1.6v1.6h-1.6zM236.6 485.2h1.6v1.6h-1.6zM239.1 478.1h1.6v1.6h-1.6zM229.5 488.6h1.6v1.6h-1.6zM240.1 479.7h1.6v1.6h-1.6zM227.1 491.5h1.6v1.6h-1.6zM239.8 478.0h1.6v1.6h-1.6zM233.1 486.2h1.6v1.6h-1.6zM232.8 488.1h1.6v1.6h-1.6zM249.6 463.9h1.6v1.6h-1.6zM248.6 462.3h1.6v1.6h-1.6zM226.2 493.7h1.6v1.6h-1.6zM247.7 464.3h1.6v1.6h-1.6zM238.0 480.7h1.6v1.6h-1.6zM227.9 493.1h1.6v1.6h-1.6zM243.9 472.6h1.6v1.6h-1.6zM233.7 483.9h1.6v1.6h-1.6zM241.2 480.1h1.6v1.6h-1.6zM233.5 485.4h1.6v1.6h-1.6zM226.7 494.5h1.6v1.6h-1.6zM226.9 492.2h1.6v1.6h-1.6zM243.2 473.4h1.6v1.6h-1.6zM233.4 486.6h1.6v1.6h-1.6zM230.3 490.4h1.6v1.6h-1.6zM250.9 461.9h1.6v1.6h-1.6zM252.0 463.0h1.6v1.6h-1.6zM229.2 491.1h1.6v1.6h-1.6zM233.1 485.7h1.6v1.6h-1.6zM243.6 473.8h1.6v1.6h-1.6zM249.7 467.1h1.6v1.6h-1.6zM239.8 478.8h1.6v1.6h-1.6zM227.5 493.1h1.6v1.6h-1.6zM239.3 477.1h1.6v1.6h-1.6zM242.8 470.3h1.6v1.6h-1.6zM243.1 476.5h1.6v1.6h-1.6zM234.1 484.1h1.6v1.6h-1.6zM248.0 468.0h1.6v1.6h-1.6zM235.7 483.2h1.6v1.6h-1.6zM250.4 464.4h1.6v1.6h-1.6zM249.6 465.3h1.6v1.6h-1.6zM249.7 460.9h1.6v1.6h-1.6zM235.6 481.9h1.6v1.6h-1.6zM243.3 471.3h1.6v1.6h-1.6zM233.1 484.8h1.6v1.6h-1.6zM231.5 486.6h1.6v1.6h-1.6zM240.3 476.7h1.6v1.6h-1.6zM247.3 470.8h1.6v1.6h-1.6zM243.0 473.5h1.6v1.6h-1.6zM241.4 476.4h1.6v1.6h-1.6zM248.2 468.5h1.6v1.6h-1.6zM245.9 469.7h1.6v1.6h-1.6zM253.0 463.4h1.6v1.6h-1.6zM237.7 480.4h1.6v1.6h-1.6zM242.7 471.9h1.6v1.6h-1.6zM249.3 465.0h1.6v1.6h-1.6zM230.3 489.9h1.6v1.6h-1.6zM241.7 475.2h1.6v1.6h-1.6zM229.0 487.4h1.6v1.6h-1.6zM227.1 494.2h1.6v1.6h-1.6zM247.0 470.7h1.6v1.6h-1.6zM230.6 488.4h1.6v1.6h-1.6zM238.7 479.7h1.6v1.6h-1.6zM244.6 469.3h1.6v1.6h-1.6zM242.6 468.8h1.6v1.6h-1.6zM236.1 481.9h1.6v1.6h-1.6zM243.8 462.3h1.6v1.6h-1.6zM233.9 485.1h1.6v1.6h-1.6zM247.9 468.4h1.6v1.6h-1.6zM250.6 466.1h1.6v1.6h-1.6zM239.0 476.3h1.6v1.6h-1.6zM231.7 490.5h1.6v1.6h-1.6zM232.6 484.0h1.6v1.6h-1.6zM251.0 465.2h1.6v1.6h-1.6zM237.7 482.7h1.6v1.6h-1.6zM234.4 481.3h1.6v1.6h-1.6zM229.8 491.0h1.6v1.6h-1.6zM248.3 463.9h1.6v1.6h-1.6zM229.1 491.9h1.6v1.6h-1.6zM252.5 462.8h1.6v1.6h-1.6zM240.3 478.2h1.6v1.6h-1.6zM246.4 470.1h1.6v1.6h-1.6zM227.1 493.5h1.6v1.6h-1.6zM230.9 489.5h1.6v1.6h-1.6zM239.9 476.8h1.6v1.6h-1.6zM237.8 476.7h1.6v1.6h-1.6zM229.9 489.5h1.6v1.6h-1.6zM234.6 485.6h1.6v1.6h-1.6zM247.0 464.8h1.6v1.6h-1.6zM232.5 487.9h1.6v1.6h-1.6zM243.9 475.8h1.6v1.6h-1.6zM237.0 482.2h1.6v1.6h-1.6zM248.1 465.7h1.6v1.6h-1.6zM226.2 492.6h1.6v1.6h-1.6zM247.9 461.0h1.6v1.6h-1.6zM247.4 470.3h1.6v1.6h-1.6zM249.6 468.0h1.6v1.6h-1.6zM227.9 492.3h1.6v1.6h-1.6zM242.5 473.5h1.6v1.6h-1.6zM239.6 479.4h1.6v1.6h-1.6zM239.6 477.4h1.6v1.6h-1.6zM233.8 486.3h1.6v1.6h-1.6zM234.9 480.7h1.6v1.6h-1.6zM238.3 478.9h1.6v1.6h-1.6zM242.6 473.7h1.6v1.6h-1.6zM249.1 466.0h1.6v1.6h-1.6zM232.1 483.1h1.6v1.6h-1.6zM227.7 493.8h1.6v1.6h-1.6zM238.0 483.0h1.6v1.6h-1.6zM240.4 471.6h1.6v1.6h-1.6zM233.9 484.6h1.6v1.6h-1.6zM235.4 479.3h1.6v1.6h-1.6zM232.3 483.8h1.6v1.6h-1.6zM243.1 473.4h1.6v1.6h-1.6zM239.0 480.2h1.6v1.6h-1.6zM237.6 477.4h1.6v1.6h-1.6zM230.8 487.8h1.6v1.6h-1.6zM237.3 479.4h1.6v1.6h-1.6zM237.5 472.9h1.6v1.6h-1.6zM244.5 476.9h1.6v1.6h-1.6zM226.8 494.1h1.6v1.6h-1.6zM238.7 477.3h1.6v1.6h-1.6zM227.0 493.4h1.6v1.6h-1.6zM238.6 475.0h1.6v1.6h-1.6zM230.2 489.4h1.6v1.6h-1.6zM230.5 489.2h1.6v1.6h-1.6zM227.2 492.3h1.6v1.6h-1.6zM243.8 475.3h1.6v1.6h-1.6zM226.7 493.0h1.6v1.6h-1.6zM237.3 480.0h1.6v1.6h-1.6zM226.8 492.0h1.6v1.6h-1.6zM239.3 480.0h1.6v1.6h-1.6zM237.9 483.8h1.6v1.6h-1.6zM228.0 491.6h1.6v1.6h-1.6zM228.9 489.8h1.6v1.6h-1.6zM246.0 470.6h1.6v1.6h-1.6zM242.4 472.6h1.6v1.6h-1.6zM231.8 487.6h1.6v1.6h-1.6zM228.6 489.6h1.6v1.6h-1.6zM238.1 480.9h1.6v1.6h-1.6zM226.7 492.0h1.6v1.6h-1.6zM228.2 491.3h1.6v1.6h-1.6zM247.1 471.8h1.6v1.6h-1.6zM234.9 483.0h1.6v1.6h-1.6zM250.7 467.0h1.6v1.6h-1.6zM241.6 477.0h1.6v1.6h-1.6zM238.6 478.4h1.6v1.6h-1.6zM237.4 480.2h1.6v1.6h-1.6zM230.0 491.7h1.6v1.6h-1.6zM246.9 463.7h1.6v1.6h-1.6zM244.4 468.0h1.6v1.6h-1.6zM232.5 485.5h1.6v1.6h-1.6zM233.2 485.1h1.6v1.6h-1.6zM240.4 467.6h1.6v1.6h-1.6zM242.2 475.4h1.6v1.6h-1.6zM233.2 481.3h1.6v1.6h-1.6zM235.5 483.3h1.6v1.6h-1.6zM234.9 481.3h1.6v1.6h-1.6zM228.8 492.3h1.6v1.6h-1.6zM229.6 490.9h1.6v1.6h-1.6zM247.3 460.6h1.6v1.6h-1.6zM252.3 464.5h1.6v1.6h-1.6zM225.8 493.8h1.6v1.6h-1.6zM288.5 405.0h1.6v1.6h-1.6zM293.9 430.2h1.6v1.6h-1.6zM278.0 432.2h1.6v1.6h-1.6zM292.3 404.9h1.6v1.6h-1.6zM284.1 434.4h1.6v1.6h-1.6zM291.9 418.3h1.6v1.6h-1.6zM293.8 427.3h1.6v1.6h-1.6zM280.3 435.1h1.6v1.6h-1.6zM289.1 431.9h1.6v1.6h-1.6zM294.5 422.8h1.6v1.6h-1.6zM295.1 422.3h1.6v1.6h-1.6zM289.7 425.6h1.6v1.6h-1.6zM278.7 435.1h1.6v1.6h-1.6zM287.2 419.1h1.6v1.6h-1.6zM296.6 419.0h1.6v1.6h-1.6zM276.7 434.9h1.6v1.6h-1.6zM291.5 408.5h1.6v1.6h-1.6zM282.0 433.6h1.6v1.6h-1.6zM285.0 430.7h1.6v1.6h-1.6zM288.9 431.2h1.6v1.6h-1.6zM294.8 429.8h1.6v1.6h-1.6zM291.7 430.2h1.6v1.6h-1.6zM294.9 428.7h1.6v1.6h-1.6zM295.5 427.7h1.6v1.6h-1.6zM287.0 425.0h1.6v1.6h-1.6zM292.1 421.1h1.6v1.6h-1.6zM278.2 431.8h1.6v1.6h-1.6zM294.8 431.9h1.6v1.6h-1.6zM287.2 430.6h1.6v1.6h-1.6zM285.8 428.7h1.6v1.6h-1.6zM291.7 408.0h1.6v1.6h-1.6zM283.0 427.9h1.6v1.6h-1.6zM289.7 409.5h1.6v1.6h-1.6zM296.4 420.6h1.6v1.6h-1.6zM284.2 433.7h1.6v1.6h-1.6zM280.8 431.6h1.6v1.6h-1.6zM290.3 411.7h1.6v1.6h-1.6zM291.3 409.0h1.6v1.6h-1.6zM280.4 431.7h1.6v1.6h-1.6zM280.2 428.4h1.6v1.6h-1.6zM282.8 424.3h1.6v1.6h-1.6zM294.7 422.7h1.6v1.6h-1.6zM284.4 421.7h1.6v1.6h-1.6zM293.2 434.4h1.6v1.6h-1.6zM288.8 405.4h1.6v1.6h-1.6zM292.1 434.9h1.6v1.6h-1.6zM282.3 421.5h1.6v1.6h-1.6zM289.9 410.7h1.6v1.6h-1.6zM277.3 435.2h1.6v1.6h-1.6zM292.7 430.2h1.6v1.6h-1.6zM290.0 430.7h1.6v1.6h-1.6zM276.4 430.4h1.6v1.6h-1.6zM283.5 417.0h1.6v1.6h-1.6zM296.4 415.7h1.6v1.6h-1.6zM288.5 423.1h1.6v1.6h-1.6zM289.2 432.1h1.6v1.6h-1.6zM286.8 417.0h1.6v1.6h-1.6zM289.5 417.4h1.6v1.6h-1.6zM284.6 435.1h1.6v1.6h-1.6zM293.1 415.3h1.6v1.6h-1.6zM289.1 421.0h1.6v1.6h-1.6zM287.1 411.7h1.6v1.6h-1.6zM284.0 434.4h1.6v1.6h-1.6zM284.7 429.7h1.6v1.6h-1.6zM288.1 408.8h1.6v1.6h-1.6zM293.9 416.7h1.6v1.6h-1.6zM286.2 434.1h1.6v1.6h-1.6zM288.8 404.9h1.6v1.6h-1.6zM286.1 432.2h1.6v1.6h-1.6zM280.6 434.6h1.6v1.6h-1.6zM289.1 431.6h1.6v1.6h-1.6zM296.5 408.4h1.6v1.6h-1.6zM283.7 430.7h1.6v1.6h-1.6zM294.2 418.8h1.6v1.6h-1.6zM285.0 426.4h1.6v1.6h-1.6zM297.0 414.3h1.6v1.6h-1.6zM278.3 434.7h1.6v1.6h-1.6zM287.9 413.3h1.6v1.6h-1.6zM279.0 427.6h1.6v1.6h-1.6zM289.4 423.9h1.6v1.6h-1.6zM286.4 409.9h1.6v1.6h-1.6zM289.7 409.3h1.6v1.6h-1.6zM290.9 427.8h1.6v1.6h-1.6zM291.0 433.9h1.6v1.6h-1.6zM293.3 421.2h1.6v1.6h-1.6zM265.3 462.8h1.6v1.6h-1.6zM255.4 465.9h1.6v1.6h-1.6zM268.9 467.9h1.6v1.6h-1.6zM270.8 463.6h1.6v1.6h-1.6zM266.0 462.0h1.6v1.6h-1.6zM262.8 467.3h1.6v1.6h-1.6zM272.5 463.8h1.6v1.6h-1.6zM273.5 465.3h1.6v1.6h-1.6zM265.5 468.4h1.6v1.6h-1.6zM257.2 469.6h1.6v1.6h-1.6zM253.8 467.2h1.6v1.6h-1.6zM252.9 461.4h1.6v1.6h-1.6zM272.1 462.8h1.6v1.6h-1.6zM268.5 464.4h1.6v1.6h-1.6zM258.7 462.0h1.6v1.6h-1.6zM267.1 461.5h1.6v1.6h-1.6zM259.8 466.9h1.6v1.6h-1.6zM258.8 464.6h1.6v1.6h-1.6zM255.2 468.4h1.6v1.6h-1.6zM249.8 468.9h1.6v1.6h-1.6zM269.3 466.3h1.6v1.6h-1.6zM258.9 468.5h1.6v1.6h-1.6zM260.2 463.0h1.6v1.6h-1.6zM268.4 463.8h1.6v1.6h-1.6zM257.6 465.7h1.6v1.6h-1.6zM253.6 468.1h1.6v1.6h-1.6zM252.1 463.9h1.6v1.6h-1.6zM263.8 462.2h1.6v1.6h-1.6zM262.9 469.2h1.6v1.6h-1.6zM250.2 464.1h1.6v1.6h-1.6zM269.3 462.7h1.6v1.6h-1.6zM265.2 461.3h1.6v1.6h-1.6zM249.9 470.2h1.6v1.6h-1.6zM269.4 462.9h1.6v1.6h-1.6zM256.4 465.4h1.6v1.6h-1.6zM275.9 474.2h1.6v1.6h-1.6zM278.2 473.2h1.6v1.6h-1.6zM282.2 471.7h1.6v1.6h-1.6zM286.2 470.7h1.6v1.6h-1.6zM289.2 469.7h1.6v1.6h-1.6zM292.2 468.7h1.6v1.6h-1.6zM294.8 468.6h1.6v1.6h-1.6zM295.2 470.2h1.6v1.6h-1.6zM292.2 470.7h1.6v1.6h-1.6zM273.2 475.2h1.6v1.6h-1.6zM302.6 402.8h1.6v1.6h-1.6zM295.2 405.2h1.6v1.6h-1.6zM296.2 407.2h1.6v1.6h-1.6zM309.2 434.2h1.6v1.6h-1.6zM267.2 477.2h1.6v1.6h-1.6zM258.2 476.2h1.6v1.6h-1.6zM254.2 469.2h1.6v1.6h-1.6zM303.2 436.2h1.6v1.6h-1.6zM305.2 432.2h1.6v1.6h-1.6z" fill="#0000f0"/>
<path d="M259.0 447.3h1.6v1.6h-1.6zM259.9 445.2h1.6v1.6h-1.6zM251.1 460.7h1.6v1.6h-1.6zM255.8 452.9h1.6v1.6h-1.6zM259.9 442.9h1.6v1.6h-1.6zM257.9 445.1h1.6v1.6h-1.6zM247.5 458.9h1.6v1.6h-1.6zM241.3 471.1h1.6v1.6h-1.6zM259.2 443.0h1.6v1.6h-1.6zM259.6 440.7h1.6v1.6h-1.6zM247.5 464.0h1.6v1.6h-1.6zM241.4 474.4h1.6v1.6h-1.6zM241.8 474.6h1.6v1.6h-1.6zM256.6 446.7h1.6v1.6h-1.6zM244.6 464.9h1.6v1.6h-1.6zM258.2 445.0h1.6v1.6h-1.6zM246.2 461.7h1.6v1.6h-1.6zM250.9 455.9h1.6v1.6h-1.6zM261.4 443.2h1.6v1.6h-1.6zM255.7 455.1h1.6v1.6h-1.6zM250.4 464.2h1.6v1.6h-1.6zM259.6 444.3h1.6v1.6h-1.6zM254.5 454.4h1.6v1.6h-1.6zM254.1 453.0h1.6v1.6h-1.6zM244.2 467.1h1.6v1.6h-1.6zM254.9 451.5h1.6v1.6h-1.6zM258.3 444.0h1.6v1.6h-1.6zM247.4 463.1h1.6v1.6h-1.6zM249.6 462.4h1.6v1.6h-1.6zM258.9 441.7h1.6v1.6h-1.6zM255.1 453.1h1.6v1.6h-1.6zM250.1 458.3h1.6v1.6h-1.6zM253.2 453.4h1.6v1.6h-1.6zM258.7 440.6h1.6v1.6h-1.6zM257.7 451.4h1.6v1.6h-1.6zM250.8 454.0h1.6v1.6h-1.6zM244.3 473.7h1.6v1.6h-1.6zM244.7 465.3h1.6v1.6h-1.6zM240.2 474.7h1.6v1.6h-1.6zM245.1 459.8h1.6v1.6h-1.6zM259.1 448.4h1.6v1.6h-1.6zM241.2 472.7h1.6v1.6h-1.6zM249.0 462.0h1.6v1.6h-1.6zM251.0 461.6h1.6v1.6h-1.6zM252.4 456.1h1.6v1.6h-1.6zM253.7 459.2h1.6v1.6h-1.6zM241.9 473.0h1.6v1.6h-1.6zM256.0 453.9h1.6v1.6h-1.6zM248.2 460.0h1.6v1.6h-1.6zM252.1 458.3h1.6v1.6h-1.6zM258.4 452.1h1.6v1.6h-1.6zM252.3 454.6h1.6v1.6h-1.6zM244.6 469.8h1.6v1.6h-1.6zM253.0 456.6h1.6v1.6h-1.6zM258.5 447.5h1.6v1.6h-1.6zM260.2 445.5h1.6v1.6h-1.6zM249.5 462.6h1.6v1.6h-1.6zM255.4 446.9h1.6v1.6h-1.6zM253.9 457.3h1.6v1.6h-1.6zM254.8 451.9h1.6v1.6h-1.6zM261.0 443.8h1.6v1.6h-1.6zM256.3 450.7h1.6v1.6h-1.6zM249.8 462.4h1.6v1.6h-1.6zM246.9 468.0h1.6v1.6h-1.6zM260.0 444.7h1.6v1.6h-1.6zM254.6 452.5h1.6v1.6h-1.6zM259.3 449.5h1.6v1.6h-1.6zM259.0 448.8h1.6v1.6h-1.6zM255.2 452.4h1.6v1.6h-1.6zM250.1 462.6h1.6v1.6h-1.6zM249.8 464.5h1.6v1.6h-1.6zM248.7 460.9h1.6v1.6h-1.6zM257.7 444.5h1.6v1.6h-1.6zM251.9 461.2h1.6v1.6h-1.6zM256.3 454.5h1.6v1.6h-1.6zM288.2 468.2h1.6v1.6h-1.6zM291.2 467.2h1.6v1.6h-1.6zM293.2 469.2h1.6v1.6h-1.6zM286.2 466.2h1.6v1.6h-1.6zM269.2 477.2h1.6v1.6h-1.6zM267.2 475.2h1.6v1.6h-1.6zM255.2 440.2h1.6v1.6h-1.6zM263.7 434.6h1.6v1.6h-1.6zM261.2 437.2h1.6v1.6h-1.6z" fill="#a83030"/>
<rect x="376.20" y="399.10" width="115.10" height="100.10" fill="none" stroke="#222" stroke-width="1.1"/>
<line x1="380.50" y1="499.20" x2="380.50" y2="501.80" stroke="#222" stroke-width="0.9"/>
<text x="380.80" y="509.30" font-size="8.9" fill="#111" stroke="#111" stroke-width="0.12" text-anchor="middle">0</text>
<line x1="407.10" y1="499.20" x2="407.10" y2="501.80" stroke="#222" stroke-width="0.9"/>
<text x="403.80" y="509.30" font-size="8.9" fill="#111" stroke="#111" stroke-width="0.12" text-anchor="middle">1000</text>
<line x1="433.70" y1="499.20" x2="433.70" y2="501.80" stroke="#222" stroke-width="0.9"/>
<text x="430.00" y="509.30" font-size="8.9" fill="#111" stroke="#111" stroke-width="0.12" text-anchor="middle">2000</text>
<line x1="460.30" y1="499.20" x2="460.30" y2="501.80" stroke="#222" stroke-width="0.9"/>
<text x="456.30" y="509.30" font-size="8.9" fill="#111" stroke="#111" stroke-width="0.12" text-anchor="middle">3000</text>
<line x1="486.90" y1="499.20" x2="486.90" y2="501.80" stroke="#222" stroke-width="0.9"/>
<text x="481.90" y="509.30" font-size="8.9" fill="#111" stroke="#111" stroke-width="0.12" text-anchor="middle">4000</text>
<line x1="373.60" y1="495.20" x2="376.20" y2="495.20" stroke="#222" stroke-width="0.9"/>
<text transform="translate(373.40,492.80) rotate(-90)" x="0" y="0" font-size="8.9" fill="#111" stroke="#111" stroke-width="0.12" text-anchor="end">0</text>
<line x1="373.60" y1="472.00" x2="376.20" y2="472.00" stroke="#222" stroke-width="0.9"/>
<text transform="translate(373.40,468.10) rotate(-90)" x="0" y="0" font-size="8.9" fill="#111" stroke="#111" stroke-width="0.12" text-anchor="end">1000</text>
<line x1="373.60" y1="448.80" x2="376.20" y2="448.80" stroke="#222" stroke-width="0.9"/>
<text transform="translate(373.40,444.90) rotate(-90)" x="0" y="0" font-size="8.9" fill="#111" stroke="#111" stroke-width="0.12" text-anchor="end">2000</text>
<line x1="373.60" y1="425.60" x2="376.20" y2="425.60" stroke="#222" stroke-width="0.9"/>
<text transform="translate(373.40,421.70) rotate(-90)" x="0" y="0" font-size="8.9" fill="#111" stroke="#111" stroke-width="0.12" text-anchor="end">3000</text>
<line x1="373.60" y1="402.40" x2="376.20" y2="402.40" stroke="#222" stroke-width="0.9"/>
<text transform="translate(373.40,398.50) rotate(-90)" x="0" y="0" font-size="8.9" fill="#111" stroke="#111" stroke-width="0.12" text-anchor="end">4000</text>
<text x="384.60" y="395.80" font-size="8.9" fill="#111" stroke="#111" stroke-width="0.12" textLength="90.7" lengthAdjust="spacingAndGlyphs">NA-seq tag distribution</text>
<text x="384.40" y="409.40" font-size="8.9" fill="#111" stroke="#111" stroke-width="0.12">r=0.77</text>
<text x="401.20" y="518.70" font-size="9.0" fill="#111" stroke="#111" stroke-width="0.12" textLength="50.1" lengthAdjust="spacingAndGlyphs">(M1)patient2</text>
<text x="395.30" y="528.00" font-size="8.9" fill="#111" font-weight="bold" textLength="82.9" lengthAdjust="spacingAndGlyphs">M1 and M3 patients</text>
<text transform="translate(365.00,441.00) rotate(-90)" x="0" y="0" font-size="9.0" fill="#111" stroke="#111" stroke-width="0.12" text-anchor="middle" textLength="39.8" lengthAdjust="spacingAndGlyphs">(M3)patient</text>
<path d="M424.1 447.4h1.6v1.6h-1.6zM423.4 454.4h1.6v1.6h-1.6zM442.9 438.6h1.6v1.6h-1.6zM424.9 455.2h1.6v1.6h-1.6zM416.3 461.0h1.6v1.6h-1.6zM449.5 443.4h1.6v1.6h-1.6zM457.0 437.8h1.6v1.6h-1.6zM437.6 439.3h1.6v1.6h-1.6zM436.3 444.5h1.6v1.6h-1.6zM451.8 446.1h1.6v1.6h-1.6zM443.5 447.8h1.6v1.6h-1.6zM435.2 448.3h1.6v1.6h-1.6zM422.5 448.3h1.6v1.6h-1.6zM425.9 451.2h1.6v1.6h-1.6zM426.9 457.2h1.6v1.6h-1.6zM450.6 437.6h1.6v1.6h-1.6zM411.0 461.4h1.6v1.6h-1.6zM430.0 438.8h1.6v1.6h-1.6zM452.3 441.5h1.6v1.6h-1.6zM445.6 451.1h1.6v1.6h-1.6zM441.8 444.8h1.6v1.6h-1.6zM437.0 439.3h1.6v1.6h-1.6zM425.5 455.1h1.6v1.6h-1.6zM425.2 458.0h1.6v1.6h-1.6zM440.4 449.7h1.6v1.6h-1.6zM427.5 468.0h1.6v1.6h-1.6zM423.7 451.1h1.6v1.6h-1.6zM413.2 451.8h1.6v1.6h-1.6zM408.4 448.8h1.6v1.6h-1.6zM435.3 443.8h1.6v1.6h-1.6zM416.6 461.9h1.6v1.6h-1.6zM427.9 452.4h1.6v1.6h-1.6zM436.3 445.8h1.6v1.6h-1.6zM425.7 456.1h1.6v1.6h-1.6zM416.8 455.2h1.6v1.6h-1.6zM442.6 435.7h1.6v1.6h-1.6zM421.8 450.3h1.6v1.6h-1.6zM444.1 443.6h1.6v1.6h-1.6zM425.1 454.0h1.6v1.6h-1.6zM439.6 456.6h1.6v1.6h-1.6zM418.6 460.2h1.6v1.6h-1.6zM428.6 446.6h1.6v1.6h-1.6zM412.8 459.4h1.6v1.6h-1.6zM434.6 440.6h1.6v1.6h-1.6zM423.4 445.6h1.6v1.6h-1.6zM439.8 436.8h1.6v1.6h-1.6zM441.9 445.1h1.6v1.6h-1.6zM425.6 453.6h1.6v1.6h-1.6zM430.8 447.7h1.6v1.6h-1.6zM409.9 459.1h1.6v1.6h-1.6zM452.9 447.0h1.6v1.6h-1.6zM439.3 448.8h1.6v1.6h-1.6zM430.3 452.4h1.6v1.6h-1.6zM455.1 437.7h1.6v1.6h-1.6zM433.1 451.7h1.6v1.6h-1.6zM432.3 447.9h1.6v1.6h-1.6zM449.3 448.6h1.6v1.6h-1.6zM429.9 436.7h1.6v1.6h-1.6zM432.4 442.9h1.6v1.6h-1.6zM430.4 458.5h1.6v1.6h-1.6zM418.5 450.8h1.6v1.6h-1.6zM443.8 432.5h1.6v1.6h-1.6zM426.0 447.3h1.6v1.6h-1.6zM451.2 440.7h1.6v1.6h-1.6zM446.8 446.9h1.6v1.6h-1.6zM451.6 433.7h1.6v1.6h-1.6zM428.0 455.7h1.6v1.6h-1.6zM446.3 441.3h1.6v1.6h-1.6zM448.2 447.5h1.6v1.6h-1.6zM433.3 456.8h1.6v1.6h-1.6zM446.9 439.5h1.6v1.6h-1.6zM437.9 451.1h1.6v1.6h-1.6zM428.9 444.3h1.6v1.6h-1.6zM441.5 447.1h1.6v1.6h-1.6zM445.2 436.8h1.6v1.6h-1.6zM453.8 441.9h1.6v1.6h-1.6zM440.4 441.3h1.6v1.6h-1.6zM412.3 450.9h1.6v1.6h-1.6zM450.0 435.3h1.6v1.6h-1.6zM441.9 446.4h1.6v1.6h-1.6zM423.6 447.7h1.6v1.6h-1.6zM430.6 447.4h1.6v1.6h-1.6zM452.3 440.6h1.6v1.6h-1.6zM414.4 457.4h1.6v1.6h-1.6zM418.1 458.1h1.6v1.6h-1.6zM438.7 439.6h1.6v1.6h-1.6zM449.7 441.4h1.6v1.6h-1.6zM413.3 451.9h1.6v1.6h-1.6zM443.1 440.7h1.6v1.6h-1.6zM434.7 444.9h1.6v1.6h-1.6zM442.8 440.7h1.6v1.6h-1.6zM419.6 458.9h1.6v1.6h-1.6zM452.0 440.0h1.6v1.6h-1.6zM419.7 451.7h1.6v1.6h-1.6zM446.3 434.2h1.6v1.6h-1.6zM423.1 452.0h1.6v1.6h-1.6zM447.5 448.5h1.6v1.6h-1.6zM446.2 438.6h1.6v1.6h-1.6zM415.4 456.4h1.6v1.6h-1.6zM442.6 436.4h1.6v1.6h-1.6zM442.7 442.0h1.6v1.6h-1.6zM442.3 445.0h1.6v1.6h-1.6zM443.7 433.2h1.6v1.6h-1.6zM440.0 454.0h1.6v1.6h-1.6zM424.8 449.8h1.6v1.6h-1.6zM438.1 438.6h1.6v1.6h-1.6zM443.7 433.8h1.6v1.6h-1.6zM449.9 444.4h1.6v1.6h-1.6zM434.6 446.9h1.6v1.6h-1.6zM444.3 446.9h1.6v1.6h-1.6zM447.0 442.5h1.6v1.6h-1.6zM446.0 439.6h1.6v1.6h-1.6zM439.4 443.4h1.6v1.6h-1.6zM430.0 446.8h1.6v1.6h-1.6zM446.5 432.8h1.6v1.6h-1.6zM437.2 458.3h1.6v1.6h-1.6zM438.7 450.9h1.6v1.6h-1.6zM431.7 450.4h1.6v1.6h-1.6zM417.4 444.6h1.6v1.6h-1.6zM450.4 448.8h1.6v1.6h-1.6zM422.2 438.3h1.6v1.6h-1.6zM428.5 449.4h1.6v1.6h-1.6zM430.6 443.5h1.6v1.6h-1.6zM435.3 442.6h1.6v1.6h-1.6zM432.1 447.3h1.6v1.6h-1.6zM432.5 445.7h1.6v1.6h-1.6zM413.2 455.6h1.6v1.6h-1.6zM446.2 445.8h1.6v1.6h-1.6zM434.9 449.1h1.6v1.6h-1.6zM438.8 442.6h1.6v1.6h-1.6zM415.4 453.4h1.6v1.6h-1.6zM434.1 444.4h1.6v1.6h-1.6zM443.1 438.5h1.6v1.6h-1.6zM442.1 441.9h1.6v1.6h-1.6zM434.4 445.4h1.6v1.6h-1.6zM450.8 447.9h1.6v1.6h-1.6zM437.4 445.5h1.6v1.6h-1.6zM449.1 447.0h1.6v1.6h-1.6zM432.6 449.6h1.6v1.6h-1.6zM434.4 440.2h1.6v1.6h-1.6zM427.1 454.7h1.6v1.6h-1.6zM443.8 439.3h1.6v1.6h-1.6zM427.0 443.7h1.6v1.6h-1.6zM450.6 443.8h1.6v1.6h-1.6zM451.5 437.7h1.6v1.6h-1.6zM440.1 441.4h1.6v1.6h-1.6zM435.7 448.6h1.6v1.6h-1.6zM431.9 442.5h1.6v1.6h-1.6zM438.8 442.4h1.6v1.6h-1.6zM436.9 451.1h1.6v1.6h-1.6zM431.7 449.1h1.6v1.6h-1.6zM422.8 455.0h1.6v1.6h-1.6zM447.1 443.0h1.6v1.6h-1.6zM453.6 442.7h1.6v1.6h-1.6zM450.5 439.6h1.6v1.6h-1.6zM440.9 457.7h1.6v1.6h-1.6zM411.3 453.1h1.6v1.6h-1.6zM449.7 439.3h1.6v1.6h-1.6zM448.3 453.7h1.6v1.6h-1.6zM417.2 455.4h1.6v1.6h-1.6zM447.3 438.9h1.6v1.6h-1.6zM410.4 453.9h1.6v1.6h-1.6zM431.5 451.1h1.6v1.6h-1.6zM424.5 457.9h1.6v1.6h-1.6zM432.2 444.7h1.6v1.6h-1.6zM440.6 437.6h1.6v1.6h-1.6zM434.6 443.4h1.6v1.6h-1.6zM426.7 448.4h1.6v1.6h-1.6zM428.0 443.3h1.6v1.6h-1.6zM437.7 440.2h1.6v1.6h-1.6zM438.3 447.3h1.6v1.6h-1.6zM433.1 456.7h1.6v1.6h-1.6zM443.4 441.6h1.6v1.6h-1.6zM444.4 435.5h1.6v1.6h-1.6zM426.8 454.3h1.6v1.6h-1.6zM437.0 447.0h1.6v1.6h-1.6zM450.6 436.8h1.6v1.6h-1.6zM430.0 448.5h1.6v1.6h-1.6zM421.7 455.2h1.6v1.6h-1.6zM443.0 442.0h1.6v1.6h-1.6zM434.8 452.9h1.6v1.6h-1.6zM435.1 445.2h1.6v1.6h-1.6zM421.7 453.1h1.6v1.6h-1.6zM442.7 439.5h1.6v1.6h-1.6zM433.4 461.3h1.6v1.6h-1.6zM425.0 449.3h1.6v1.6h-1.6zM436.2 437.5h1.6v1.6h-1.6zM436.4 451.6h1.6v1.6h-1.6zM427.1 442.5h1.6v1.6h-1.6zM440.3 442.9h1.6v1.6h-1.6zM441.1 447.4h1.6v1.6h-1.6zM446.6 437.2h1.6v1.6h-1.6zM422.8 458.2h1.6v1.6h-1.6zM410.0 452.6h1.6v1.6h-1.6zM449.8 438.4h1.6v1.6h-1.6zM452.7 438.2h1.6v1.6h-1.6zM441.0 455.7h1.6v1.6h-1.6zM447.0 448.8h1.6v1.6h-1.6zM412.3 454.5h1.6v1.6h-1.6zM430.4 450.4h1.6v1.6h-1.6zM414.5 457.2h1.6v1.6h-1.6zM431.8 453.7h1.6v1.6h-1.6zM421.3 452.4h1.6v1.6h-1.6zM441.9 447.5h1.6v1.6h-1.6zM448.0 432.4h1.6v1.6h-1.6zM448.2 441.8h1.6v1.6h-1.6zM434.6 444.8h1.6v1.6h-1.6zM450.9 435.6h1.6v1.6h-1.6zM431.5 443.3h1.6v1.6h-1.6zM415.9 464.6h1.6v1.6h-1.6zM424.5 441.0h1.6v1.6h-1.6zM437.7 451.9h1.6v1.6h-1.6zM449.0 441.9h1.6v1.6h-1.6zM441.0 447.4h1.6v1.6h-1.6zM450.2 436.2h1.6v1.6h-1.6zM432.2 443.7h1.6v1.6h-1.6zM436.9 446.1h1.6v1.6h-1.6zM443.4 444.0h1.6v1.6h-1.6zM432.1 439.0h1.6v1.6h-1.6zM417.5 448.8h1.6v1.6h-1.6zM440.3 438.1h1.6v1.6h-1.6zM425.0 451.0h1.6v1.6h-1.6zM436.0 455.9h1.6v1.6h-1.6zM439.6 442.5h1.6v1.6h-1.6zM417.7 461.2h1.6v1.6h-1.6zM439.9 438.6h1.6v1.6h-1.6zM427.1 447.7h1.6v1.6h-1.6zM451.7 442.1h1.6v1.6h-1.6zM440.9 443.7h1.6v1.6h-1.6zM434.1 445.8h1.6v1.6h-1.6zM439.9 448.4h1.6v1.6h-1.6zM436.9 441.6h1.6v1.6h-1.6zM422.4 459.3h1.6v1.6h-1.6zM440.2 442.3h1.6v1.6h-1.6zM432.5 440.5h1.6v1.6h-1.6zM432.6 444.1h1.6v1.6h-1.6zM441.1 453.4h1.6v1.6h-1.6zM421.9 458.1h1.6v1.6h-1.6zM443.3 442.3h1.6v1.6h-1.6zM453.0 435.0h1.6v1.6h-1.6zM418.0 451.5h1.6v1.6h-1.6zM445.1 446.2h1.6v1.6h-1.6zM419.3 451.6h1.6v1.6h-1.6zM425.0 440.0h1.6v1.6h-1.6zM417.9 447.9h1.6v1.6h-1.6zM422.5 446.7h1.6v1.6h-1.6zM425.6 452.9h1.6v1.6h-1.6zM419.0 454.3h1.6v1.6h-1.6zM434.2 456.9h1.6v1.6h-1.6zM442.3 443.4h1.6v1.6h-1.6zM416.4 463.9h1.6v1.6h-1.6zM430.1 456.9h1.6v1.6h-1.6zM454.8 431.3h1.6v1.6h-1.6zM424.1 445.9h1.6v1.6h-1.6zM434.2 455.6h1.6v1.6h-1.6zM443.2 443.9h1.6v1.6h-1.6zM445.6 444.8h1.6v1.6h-1.6zM438.1 447.9h1.6v1.6h-1.6zM444.8 455.0h1.6v1.6h-1.6zM452.7 441.8h1.6v1.6h-1.6zM440.3 440.1h1.6v1.6h-1.6zM412.7 454.6h1.6v1.6h-1.6zM432.4 447.5h1.6v1.6h-1.6zM440.6 444.0h1.6v1.6h-1.6zM447.9 444.7h1.6v1.6h-1.6zM431.5 462.4h1.6v1.6h-1.6zM450.5 440.6h1.6v1.6h-1.6zM453.2 440.0h1.6v1.6h-1.6zM424.8 447.8h1.6v1.6h-1.6zM442.5 438.1h1.6v1.6h-1.6zM452.1 434.3h1.6v1.6h-1.6zM430.0 450.5h1.6v1.6h-1.6zM413.0 452.0h1.6v1.6h-1.6zM442.5 443.2h1.6v1.6h-1.6zM429.2 450.2h1.6v1.6h-1.6zM420.7 457.4h1.6v1.6h-1.6zM430.3 445.1h1.6v1.6h-1.6zM430.8 443.6h1.6v1.6h-1.6zM436.0 430.2h1.6v1.6h-1.6zM446.7 440.7h1.6v1.6h-1.6zM444.2 443.5h1.6v1.6h-1.6zM442.9 445.5h1.6v1.6h-1.6zM416.7 444.8h1.6v1.6h-1.6zM440.6 446.4h1.6v1.6h-1.6zM436.0 437.0h1.6v1.6h-1.6zM453.7 437.6h1.6v1.6h-1.6zM434.9 443.6h1.6v1.6h-1.6zM446.8 434.1h1.6v1.6h-1.6zM438.7 439.8h1.6v1.6h-1.6zM433.7 457.4h1.6v1.6h-1.6zM416.0 455.5h1.6v1.6h-1.6zM443.6 441.1h1.6v1.6h-1.6zM420.6 446.4h1.6v1.6h-1.6zM443.2 445.9h1.6v1.6h-1.6zM434.3 439.8h1.6v1.6h-1.6zM425.9 449.6h1.6v1.6h-1.6zM433.6 441.2h1.6v1.6h-1.6zM421.6 452.0h1.6v1.6h-1.6zM449.6 439.5h1.6v1.6h-1.6zM432.7 448.5h1.6v1.6h-1.6zM436.7 442.1h1.6v1.6h-1.6zM441.1 447.1h1.6v1.6h-1.6zM445.0 448.9h1.6v1.6h-1.6zM428.2 448.7h1.6v1.6h-1.6zM418.8 452.1h1.6v1.6h-1.6zM439.7 451.5h1.6v1.6h-1.6zM423.9 455.8h1.6v1.6h-1.6zM422.6 453.4h1.6v1.6h-1.6zM447.7 444.5h1.6v1.6h-1.6zM450.5 448.5h1.6v1.6h-1.6zM433.0 446.3h1.6v1.6h-1.6zM422.7 455.2h1.6v1.6h-1.6zM422.4 457.0h1.6v1.6h-1.6zM437.6 448.9h1.6v1.6h-1.6zM425.9 447.9h1.6v1.6h-1.6zM441.3 441.5h1.6v1.6h-1.6zM449.8 438.9h1.6v1.6h-1.6zM453.9 432.4h1.6v1.6h-1.6zM409.6 455.6h1.6v1.6h-1.6zM436.8 439.8h1.6v1.6h-1.6zM449.4 441.6h1.6v1.6h-1.6zM436.3 440.7h1.6v1.6h-1.6zM446.0 439.2h1.6v1.6h-1.6zM445.5 445.5h1.6v1.6h-1.6zM442.3 445.9h1.6v1.6h-1.6zM434.3 453.9h1.6v1.6h-1.6zM448.3 439.7h1.6v1.6h-1.6zM442.1 430.9h1.6v1.6h-1.6zM436.4 436.7h1.6v1.6h-1.6zM433.8 447.6h1.6v1.6h-1.6zM424.9 446.8h1.6v1.6h-1.6zM417.7 451.6h1.6v1.6h-1.6zM437.4 453.6h1.6v1.6h-1.6zM439.1 450.5h1.6v1.6h-1.6zM423.8 450.5h1.6v1.6h-1.6zM420.4 457.2h1.6v1.6h-1.6zM421.5 458.2h1.6v1.6h-1.6zM443.2 444.9h1.6v1.6h-1.6zM430.5 454.0h1.6v1.6h-1.6zM445.9 440.4h1.6v1.6h-1.6zM433.8 444.2h1.6v1.6h-1.6zM445.2 450.9h1.6v1.6h-1.6zM450.7 438.6h1.6v1.6h-1.6zM445.9 434.8h1.6v1.6h-1.6zM432.9 447.7h1.6v1.6h-1.6zM419.2 457.7h1.6v1.6h-1.6zM411.6 453.7h1.6v1.6h-1.6zM451.4 442.4h1.6v1.6h-1.6zM417.7 462.3h1.6v1.6h-1.6zM437.8 448.9h1.6v1.6h-1.6zM443.8 450.9h1.6v1.6h-1.6zM427.2 450.3h1.6v1.6h-1.6zM439.2 450.3h1.6v1.6h-1.6zM449.5 434.5h1.6v1.6h-1.6zM435.4 438.6h1.6v1.6h-1.6zM449.6 434.5h1.6v1.6h-1.6zM423.3 447.1h1.6v1.6h-1.6zM455.1 439.6h1.6v1.6h-1.6zM439.8 437.9h1.6v1.6h-1.6zM427.8 444.2h1.6v1.6h-1.6zM443.4 436.8h1.6v1.6h-1.6zM449.5 448.6h1.6v1.6h-1.6zM425.0 448.1h1.6v1.6h-1.6zM451.3 444.5h1.6v1.6h-1.6zM427.4 452.4h1.6v1.6h-1.6zM445.2 430.6h1.6v1.6h-1.6zM449.7 441.1h1.6v1.6h-1.6zM432.2 455.5h1.6v1.6h-1.6zM441.5 431.4h1.6v1.6h-1.6zM438.4 454.5h1.6v1.6h-1.6zM423.7 448.7h1.6v1.6h-1.6zM447.3 444.8h1.6v1.6h-1.6zM434.6 447.2h1.6v1.6h-1.6zM428.4 449.5h1.6v1.6h-1.6zM433.1 454.0h1.6v1.6h-1.6zM419.9 454.1h1.6v1.6h-1.6zM430.8 446.3h1.6v1.6h-1.6zM439.6 437.9h1.6v1.6h-1.6zM450.4 444.5h1.6v1.6h-1.6zM427.8 439.3h1.6v1.6h-1.6zM437.0 448.7h1.6v1.6h-1.6zM419.2 441.0h1.6v1.6h-1.6zM443.3 438.5h1.6v1.6h-1.6zM442.8 440.8h1.6v1.6h-1.6zM439.3 449.6h1.6v1.6h-1.6zM445.7 438.8h1.6v1.6h-1.6zM429.0 458.0h1.6v1.6h-1.6zM434.7 446.2h1.6v1.6h-1.6zM436.0 447.2h1.6v1.6h-1.6zM420.4 452.8h1.6v1.6h-1.6zM418.2 450.3h1.6v1.6h-1.6zM446.2 443.2h1.6v1.6h-1.6zM442.2 449.9h1.6v1.6h-1.6zM433.2 435.3h1.6v1.6h-1.6zM422.1 450.1h1.6v1.6h-1.6zM445.8 445.2h1.6v1.6h-1.6zM426.6 446.4h1.6v1.6h-1.6zM436.5 433.4h1.6v1.6h-1.6zM445.2 443.8h1.6v1.6h-1.6zM433.8 442.5h1.6v1.6h-1.6zM426.5 445.1h1.6v1.6h-1.6zM419.5 452.1h1.6v1.6h-1.6zM444.0 445.6h1.6v1.6h-1.6zM448.5 441.1h1.6v1.6h-1.6zM444.7 450.4h1.6v1.6h-1.6zM450.1 434.9h1.6v1.6h-1.6zM426.5 447.9h1.6v1.6h-1.6zM448.9 444.5h1.6v1.6h-1.6zM434.4 448.2h1.6v1.6h-1.6zM443.1 454.5h1.6v1.6h-1.6zM437.2 453.7h1.6v1.6h-1.6zM436.0 444.3h1.6v1.6h-1.6zM434.8 453.8h1.6v1.6h-1.6zM437.8 438.7h1.6v1.6h-1.6zM435.2 445.7h1.6v1.6h-1.6zM453.9 433.8h1.6v1.6h-1.6zM429.0 439.1h1.6v1.6h-1.6zM438.7 433.1h1.6v1.6h-1.6zM457.3 444.3h1.6v1.6h-1.6zM436.9 448.5h1.6v1.6h-1.6zM451.4 444.4h1.6v1.6h-1.6zM425.8 451.2h1.6v1.6h-1.6zM440.6 452.1h1.6v1.6h-1.6zM440.3 446.7h1.6v1.6h-1.6zM447.5 437.1h1.6v1.6h-1.6zM449.0 441.9h1.6v1.6h-1.6zM440.4 442.8h1.6v1.6h-1.6zM417.0 448.1h1.6v1.6h-1.6zM442.2 439.8h1.6v1.6h-1.6zM453.4 445.3h1.6v1.6h-1.6zM417.8 451.4h1.6v1.6h-1.6zM421.0 453.8h1.6v1.6h-1.6zM434.6 452.8h1.6v1.6h-1.6zM434.1 444.3h1.6v1.6h-1.6zM449.6 439.4h1.6v1.6h-1.6zM421.4 454.0h1.6v1.6h-1.6zM451.4 442.0h1.6v1.6h-1.6zM442.1 434.4h1.6v1.6h-1.6zM431.6 443.6h1.6v1.6h-1.6zM453.1 446.0h1.6v1.6h-1.6zM426.6 463.0h1.6v1.6h-1.6zM440.0 440.1h1.6v1.6h-1.6zM441.2 447.2h1.6v1.6h-1.6zM449.4 442.2h1.6v1.6h-1.6zM451.7 444.1h1.6v1.6h-1.6zM421.9 450.8h1.6v1.6h-1.6zM426.7 439.4h1.6v1.6h-1.6zM443.1 442.0h1.6v1.6h-1.6zM412.3 453.8h1.6v1.6h-1.6zM440.3 456.4h1.6v1.6h-1.6zM444.3 442.8h1.6v1.6h-1.6zM413.4 451.2h1.6v1.6h-1.6zM425.7 447.2h1.6v1.6h-1.6zM443.8 453.7h1.6v1.6h-1.6zM445.9 440.0h1.6v1.6h-1.6zM441.0 442.4h1.6v1.6h-1.6zM410.1 459.0h1.6v1.6h-1.6zM445.1 436.6h1.6v1.6h-1.6zM446.9 437.4h1.6v1.6h-1.6zM423.8 445.8h1.6v1.6h-1.6zM453.3 440.4h1.6v1.6h-1.6zM443.3 442.5h1.6v1.6h-1.6zM448.4 445.0h1.6v1.6h-1.6zM447.9 441.8h1.6v1.6h-1.6zM437.6 452.9h1.6v1.6h-1.6zM444.1 443.2h1.6v1.6h-1.6zM419.3 449.9h1.6v1.6h-1.6zM430.0 439.6h1.6v1.6h-1.6zM431.4 445.7h1.6v1.6h-1.6zM451.0 435.7h1.6v1.6h-1.6zM434.1 440.8h1.6v1.6h-1.6zM436.0 447.7h1.6v1.6h-1.6zM450.6 438.1h1.6v1.6h-1.6zM444.3 445.4h1.6v1.6h-1.6zM434.2 454.4h1.6v1.6h-1.6zM429.4 449.8h1.6v1.6h-1.6zM433.4 439.6h1.6v1.6h-1.6zM448.7 443.1h1.6v1.6h-1.6zM448.4 437.0h1.6v1.6h-1.6zM442.1 447.4h1.6v1.6h-1.6zM443.2 445.5h1.6v1.6h-1.6zM432.5 449.2h1.6v1.6h-1.6zM453.0 438.7h1.6v1.6h-1.6zM422.0 446.6h1.6v1.6h-1.6zM437.4 444.2h1.6v1.6h-1.6zM446.1 448.5h1.6v1.6h-1.6zM415.8 451.7h1.6v1.6h-1.6zM447.9 440.8h1.6v1.6h-1.6zM437.3 446.3h1.6v1.6h-1.6zM438.6 451.3h1.6v1.6h-1.6zM435.2 451.7h1.6v1.6h-1.6zM429.6 449.6h1.6v1.6h-1.6zM412.5 463.4h1.6v1.6h-1.6zM441.4 450.0h1.6v1.6h-1.6zM413.3 457.6h1.6v1.6h-1.6zM430.9 457.2h1.6v1.6h-1.6zM421.1 453.3h1.6v1.6h-1.6zM426.4 450.8h1.6v1.6h-1.6zM426.9 447.5h1.6v1.6h-1.6zM422.0 452.1h1.6v1.6h-1.6zM442.5 441.4h1.6v1.6h-1.6zM450.0 443.8h1.6v1.6h-1.6zM429.1 452.6h1.6v1.6h-1.6zM448.5 445.2h1.6v1.6h-1.6zM445.7 433.0h1.6v1.6h-1.6zM421.0 451.8h1.6v1.6h-1.6zM437.8 449.2h1.6v1.6h-1.6zM419.3 452.0h1.6v1.6h-1.6zM426.5 447.4h1.6v1.6h-1.6zM454.8 439.3h1.6v1.6h-1.6zM451.8 446.6h1.6v1.6h-1.6zM421.6 451.5h1.6v1.6h-1.6zM450.9 439.2h1.6v1.6h-1.6zM421.7 455.9h1.6v1.6h-1.6zM437.9 447.1h1.6v1.6h-1.6zM436.1 446.9h1.6v1.6h-1.6zM425.4 459.6h1.6v1.6h-1.6zM443.8 434.2h1.6v1.6h-1.6zM453.1 433.0h1.6v1.6h-1.6zM438.3 451.7h1.6v1.6h-1.6zM450.2 445.2h1.6v1.6h-1.6zM443.5 434.5h1.6v1.6h-1.6zM427.9 459.9h1.6v1.6h-1.6zM440.3 437.1h1.6v1.6h-1.6zM448.8 435.3h1.6v1.6h-1.6zM415.9 455.9h1.6v1.6h-1.6zM433.7 442.5h1.6v1.6h-1.6zM417.8 450.6h1.6v1.6h-1.6zM438.5 447.8h1.6v1.6h-1.6zM454.8 436.5h1.6v1.6h-1.6zM425.9 438.3h1.6v1.6h-1.6zM430.5 443.1h1.6v1.6h-1.6zM431.0 443.7h1.6v1.6h-1.6zM428.8 447.0h1.6v1.6h-1.6zM421.6 454.6h1.6v1.6h-1.6zM428.8 439.9h1.6v1.6h-1.6zM433.8 433.1h1.6v1.6h-1.6zM434.9 442.7h1.6v1.6h-1.6zM446.8 437.3h1.6v1.6h-1.6zM430.9 453.2h1.6v1.6h-1.6zM457.7 442.3h1.6v1.6h-1.6zM450.0 438.6h1.6v1.6h-1.6zM427.4 451.2h1.6v1.6h-1.6zM451.9 437.5h1.6v1.6h-1.6zM430.1 449.2h1.6v1.6h-1.6zM436.3 454.2h1.6v1.6h-1.6zM439.6 453.2h1.6v1.6h-1.6zM457.6 442.7h1.6v1.6h-1.6zM422.0 454.1h1.6v1.6h-1.6zM424.5 447.1h1.6v1.6h-1.6zM455.3 439.3h1.6v1.6h-1.6zM431.0 439.8h1.6v1.6h-1.6zM442.0 451.6h1.6v1.6h-1.6zM442.3 449.4h1.6v1.6h-1.6zM450.5 446.4h1.6v1.6h-1.6zM430.9 452.9h1.6v1.6h-1.6zM449.6 441.7h1.6v1.6h-1.6zM427.6 458.0h1.6v1.6h-1.6zM412.9 450.8h1.6v1.6h-1.6zM447.9 436.3h1.6v1.6h-1.6zM410.1 453.0h1.6v1.6h-1.6zM424.3 440.0h1.6v1.6h-1.6zM436.0 450.7h1.6v1.6h-1.6zM438.7 446.9h1.6v1.6h-1.6zM417.3 453.9h1.6v1.6h-1.6zM455.0 435.8h1.6v1.6h-1.6zM449.8 443.3h1.6v1.6h-1.6zM449.5 438.5h1.6v1.6h-1.6zM416.8 443.1h1.6v1.6h-1.6zM427.1 453.5h1.6v1.6h-1.6zM440.3 443.2h1.6v1.6h-1.6zM421.4 458.0h1.6v1.6h-1.6zM443.7 436.8h1.6v1.6h-1.6zM424.0 450.9h1.6v1.6h-1.6zM430.1 446.6h1.6v1.6h-1.6zM443.0 432.1h1.6v1.6h-1.6zM419.6 449.9h1.6v1.6h-1.6zM438.4 452.3h1.6v1.6h-1.6zM448.6 436.3h1.6v1.6h-1.6zM435.3 446.6h1.6v1.6h-1.6zM434.1 448.0h1.6v1.6h-1.6zM443.0 438.4h1.6v1.6h-1.6zM410.4 456.2h1.6v1.6h-1.6zM422.1 453.5h1.6v1.6h-1.6zM414.1 448.3h1.6v1.6h-1.6zM454.5 445.3h1.6v1.6h-1.6zM436.7 445.7h1.6v1.6h-1.6zM433.0 457.1h1.6v1.6h-1.6zM433.4 451.6h1.6v1.6h-1.6zM441.9 442.8h1.6v1.6h-1.6zM435.7 440.9h1.6v1.6h-1.6zM449.2 443.0h1.6v1.6h-1.6zM433.7 447.4h1.6v1.6h-1.6zM435.0 449.1h1.6v1.6h-1.6zM424.0 456.1h1.6v1.6h-1.6zM414.9 445.4h1.6v1.6h-1.6zM439.5 442.5h1.6v1.6h-1.6zM444.5 434.8h1.6v1.6h-1.6zM442.9 444.3h1.6v1.6h-1.6zM423.2 462.3h1.6v1.6h-1.6zM443.6 448.5h1.6v1.6h-1.6zM451.8 437.2h1.6v1.6h-1.6zM431.2 449.5h1.6v1.6h-1.6zM451.5 435.5h1.6v1.6h-1.6zM426.9 465.9h1.6v1.6h-1.6zM434.8 451.1h1.6v1.6h-1.6zM437.2 446.3h1.6v1.6h-1.6zM416.2 460.3h1.6v1.6h-1.6zM429.1 449.1h1.6v1.6h-1.6zM450.0 438.0h1.6v1.6h-1.6zM442.3 441.2h1.6v1.6h-1.6zM428.1 442.9h1.6v1.6h-1.6zM435.7 441.5h1.6v1.6h-1.6zM413.0 453.0h1.6v1.6h-1.6zM445.6 445.4h1.6v1.6h-1.6zM455.4 442.1h1.6v1.6h-1.6zM454.0 438.0h1.6v1.6h-1.6zM443.6 439.5h1.6v1.6h-1.6zM447.4 450.6h1.6v1.6h-1.6zM446.4 440.4h1.6v1.6h-1.6zM435.6 448.5h1.6v1.6h-1.6zM443.0 441.6h1.6v1.6h-1.6zM437.6 443.5h1.6v1.6h-1.6zM444.4 445.5h1.6v1.6h-1.6zM447.6 444.4h1.6v1.6h-1.6zM446.5 438.6h1.6v1.6h-1.6zM437.7 441.9h1.6v1.6h-1.6zM421.6 455.4h1.6v1.6h-1.6zM422.6 456.6h1.6v1.6h-1.6zM424.3 455.7h1.6v1.6h-1.6zM411.7 455.1h1.6v1.6h-1.6zM425.0 449.2h1.6v1.6h-1.6zM424.7 456.4h1.6v1.6h-1.6zM431.7 458.2h1.6v1.6h-1.6zM424.2 451.9h1.6v1.6h-1.6zM452.2 433.3h1.6v1.6h-1.6zM429.4 453.7h1.6v1.6h-1.6zM422.2 450.4h1.6v1.6h-1.6zM444.9 439.6h1.6v1.6h-1.6zM434.9 446.6h1.6v1.6h-1.6zM442.1 437.3h1.6v1.6h-1.6zM439.8 441.6h1.6v1.6h-1.6zM435.0 449.7h1.6v1.6h-1.6zM421.3 454.9h1.6v1.6h-1.6zM417.8 457.6h1.6v1.6h-1.6zM430.0 438.8h1.6v1.6h-1.6zM453.6 442.5h1.6v1.6h-1.6zM450.1 437.1h1.6v1.6h-1.6zM420.8 452.7h1.6v1.6h-1.6zM445.9 437.9h1.6v1.6h-1.6zM432.8 453.7h1.6v1.6h-1.6zM420.8 445.4h1.6v1.6h-1.6zM449.8 438.9h1.6v1.6h-1.6zM445.2 447.7h1.6v1.6h-1.6zM430.2 434.9h1.6v1.6h-1.6zM450.4 443.7h1.6v1.6h-1.6zM453.4 442.6h1.6v1.6h-1.6zM453.6 442.9h1.6v1.6h-1.6zM433.0 437.0h1.6v1.6h-1.6zM441.7 443.5h1.6v1.6h-1.6zM445.3 444.0h1.6v1.6h-1.6zM444.5 440.6h1.6v1.6h-1.6zM454.4 440.6h1.6v1.6h-1.6zM424.9 455.4h1.6v1.6h-1.6zM409.8 457.7h1.6v1.6h-1.6zM445.5 432.6h1.6v1.6h-1.6zM431.1 442.9h1.6v1.6h-1.6zM451.4 440.5h1.6v1.6h-1.6zM416.9 447.5h1.6v1.6h-1.6zM444.5 446.2h1.6v1.6h-1.6zM445.7 439.8h1.6v1.6h-1.6zM434.1 452.1h1.6v1.6h-1.6zM446.6 445.2h1.6v1.6h-1.6zM430.0 447.9h1.6v1.6h-1.6zM444.5 444.6h1.6v1.6h-1.6zM437.0 439.8h1.6v1.6h-1.6zM451.1 446.0h1.6v1.6h-1.6zM414.1 451.6h1.6v1.6h-1.6zM439.4 446.4h1.6v1.6h-1.6zM415.6 449.7h1.6v1.6h-1.6zM441.7 435.9h1.6v1.6h-1.6zM432.7 446.0h1.6v1.6h-1.6zM441.3 446.6h1.6v1.6h-1.6zM450.0 443.4h1.6v1.6h-1.6zM428.5 441.9h1.6v1.6h-1.6zM425.5 447.7h1.6v1.6h-1.6zM455.9 434.8h1.6v1.6h-1.6zM434.1 449.4h1.6v1.6h-1.6zM455.8 437.3h1.6v1.6h-1.6zM425.3 445.1h1.6v1.6h-1.6zM432.5 443.6h1.6v1.6h-1.6zM446.5 436.4h1.6v1.6h-1.6zM423.6 451.6h1.6v1.6h-1.6zM429.9 447.1h1.6v1.6h-1.6zM420.4 451.8h1.6v1.6h-1.6zM414.2 451.3h1.6v1.6h-1.6zM423.3 453.2h1.6v1.6h-1.6zM434.1 438.6h1.6v1.6h-1.6zM420.1 455.9h1.6v1.6h-1.6zM420.8 454.1h1.6v1.6h-1.6zM425.6 455.3h1.6v1.6h-1.6zM412.4 454.4h1.6v1.6h-1.6zM446.2 436.7h1.6v1.6h-1.6zM441.1 438.0h1.6v1.6h-1.6zM413.5 460.4h1.6v1.6h-1.6zM433.7 450.7h1.6v1.6h-1.6zM419.3 457.8h1.6v1.6h-1.6zM453.2 449.3h1.6v1.6h-1.6zM413.6 457.6h1.6v1.6h-1.6zM454.9 438.7h1.6v1.6h-1.6zM428.4 450.0h1.6v1.6h-1.6zM425.7 453.9h1.6v1.6h-1.6zM439.7 448.1h1.6v1.6h-1.6zM422.9 449.9h1.6v1.6h-1.6zM435.0 444.5h1.6v1.6h-1.6zM441.3 451.7h1.6v1.6h-1.6zM453.4 438.7h1.6v1.6h-1.6zM454.2 435.4h1.6v1.6h-1.6zM441.6 449.6h1.6v1.6h-1.6zM441.7 439.9h1.6v1.6h-1.6zM437.0 444.5h1.6v1.6h-1.6zM418.3 446.8h1.6v1.6h-1.6zM428.9 440.6h1.6v1.6h-1.6zM440.6 451.3h1.6v1.6h-1.6zM412.2 461.4h1.6v1.6h-1.6zM440.8 448.7h1.6v1.6h-1.6zM440.5 438.5h1.6v1.6h-1.6zM421.0 449.4h1.6v1.6h-1.6zM429.2 454.2h1.6v1.6h-1.6zM421.8 452.9h1.6v1.6h-1.6zM443.0 445.9h1.6v1.6h-1.6zM456.4 447.3h1.6v1.6h-1.6zM440.7 446.8h1.6v1.6h-1.6zM423.1 452.5h1.6v1.6h-1.6zM437.5 437.3h1.6v1.6h-1.6zM432.3 452.5h1.6v1.6h-1.6zM425.4 445.4h1.6v1.6h-1.6zM444.1 444.9h1.6v1.6h-1.6zM451.0 439.7h1.6v1.6h-1.6zM438.1 456.9h1.6v1.6h-1.6zM451.3 444.1h1.6v1.6h-1.6zM427.6 444.5h1.6v1.6h-1.6zM433.5 441.4h1.6v1.6h-1.6zM445.1 436.2h1.6v1.6h-1.6zM437.4 447.0h1.6v1.6h-1.6zM430.3 450.0h1.6v1.6h-1.6zM424.3 466.1h1.6v1.6h-1.6zM439.4 439.5h1.6v1.6h-1.6zM454.5 438.3h1.6v1.6h-1.6zM422.3 455.6h1.6v1.6h-1.6zM434.3 444.0h1.6v1.6h-1.6zM432.1 451.6h1.6v1.6h-1.6zM442.1 445.5h1.6v1.6h-1.6zM447.7 445.0h1.6v1.6h-1.6zM428.4 448.5h1.6v1.6h-1.6zM426.7 455.4h1.6v1.6h-1.6zM417.2 462.1h1.6v1.6h-1.6zM426.9 450.4h1.6v1.6h-1.6zM446.0 436.4h1.6v1.6h-1.6zM418.9 439.9h1.6v1.6h-1.6zM456.0 439.1h1.6v1.6h-1.6zM443.6 446.0h1.6v1.6h-1.6zM445.5 444.3h1.6v1.6h-1.6zM449.4 436.6h1.6v1.6h-1.6zM455.2 441.4h1.6v1.6h-1.6zM434.8 439.0h1.6v1.6h-1.6zM437.7 437.0h1.6v1.6h-1.6zM451.5 439.9h1.6v1.6h-1.6zM443.3 455.8h1.6v1.6h-1.6zM413.9 455.0h1.6v1.6h-1.6zM450.0 438.0h1.6v1.6h-1.6zM445.8 442.3h1.6v1.6h-1.6zM444.7 441.6h1.6v1.6h-1.6zM435.2 446.9h1.6v1.6h-1.6zM412.1 457.0h1.6v1.6h-1.6zM423.7 452.1h1.6v1.6h-1.6zM446.6 446.3h1.6v1.6h-1.6zM410.5 451.9h1.6v1.6h-1.6zM447.2 442.8h1.6v1.6h-1.6zM445.9 433.5h1.6v1.6h-1.6zM435.4 453.4h1.6v1.6h-1.6zM417.7 455.9h1.6v1.6h-1.6zM413.0 463.9h1.6v1.6h-1.6zM436.5 446.0h1.6v1.6h-1.6zM414.1 451.2h1.6v1.6h-1.6zM452.7 445.6h1.6v1.6h-1.6zM438.5 443.5h1.6v1.6h-1.6zM433.5 445.8h1.6v1.6h-1.6zM423.5 458.7h1.6v1.6h-1.6zM444.6 436.5h1.6v1.6h-1.6zM433.4 450.3h1.6v1.6h-1.6zM453.1 439.2h1.6v1.6h-1.6zM426.0 444.2h1.6v1.6h-1.6zM444.4 452.7h1.6v1.6h-1.6zM424.3 459.9h1.6v1.6h-1.6zM415.2 452.4h1.6v1.6h-1.6zM451.8 441.0h1.6v1.6h-1.6zM442.4 450.1h1.6v1.6h-1.6zM440.9 439.1h1.6v1.6h-1.6zM431.8 450.4h1.6v1.6h-1.6zM416.6 463.2h1.6v1.6h-1.6zM441.5 440.1h1.6v1.6h-1.6zM454.0 440.1h1.6v1.6h-1.6zM448.5 438.0h1.6v1.6h-1.6zM435.3 451.0h1.6v1.6h-1.6zM454.7 434.8h1.6v1.6h-1.6zM440.4 443.9h1.6v1.6h-1.6zM435.3 435.8h1.6v1.6h-1.6zM442.7 445.3h1.6v1.6h-1.6zM453.0 442.1h1.6v1.6h-1.6zM440.0 445.5h1.6v1.6h-1.6zM456.5 439.5h1.6v1.6h-1.6zM454.4 439.6h1.6v1.6h-1.6zM431.0 452.2h1.6v1.6h-1.6zM443.6 446.0h1.6v1.6h-1.6zM446.0 443.9h1.6v1.6h-1.6zM443.9 435.7h1.6v1.6h-1.6zM439.7 451.8h1.6v1.6h-1.6zM455.3 439.5h1.6v1.6h-1.6zM445.3 447.4h1.6v1.6h-1.6zM437.6 445.9h1.6v1.6h-1.6zM410.4 456.4h1.6v1.6h-1.6zM444.7 439.3h1.6v1.6h-1.6zM447.2 447.1h1.6v1.6h-1.6zM427.8 446.5h1.6v1.6h-1.6zM437.7 453.7h1.6v1.6h-1.6zM436.4 445.1h1.6v1.6h-1.6zM422.5 453.1h1.6v1.6h-1.6zM424.6 447.6h1.6v1.6h-1.6zM421.1 457.5h1.6v1.6h-1.6zM441.4 434.9h1.6v1.6h-1.6zM442.6 446.1h1.6v1.6h-1.6zM439.6 448.0h1.6v1.6h-1.6zM431.2 445.8h1.6v1.6h-1.6zM423.6 454.6h1.6v1.6h-1.6zM443.4 433.9h1.6v1.6h-1.6zM454.1 444.8h1.6v1.6h-1.6zM436.4 446.7h1.6v1.6h-1.6zM426.1 444.7h1.6v1.6h-1.6zM443.7 449.1h1.6v1.6h-1.6zM443.4 446.4h1.6v1.6h-1.6zM422.6 443.5h1.6v1.6h-1.6zM425.1 453.6h1.6v1.6h-1.6zM434.8 450.7h1.6v1.6h-1.6zM430.8 451.5h1.6v1.6h-1.6zM437.5 442.5h1.6v1.6h-1.6zM438.9 442.7h1.6v1.6h-1.6zM435.9 441.0h1.6v1.6h-1.6zM440.6 445.9h1.6v1.6h-1.6zM431.1 442.4h1.6v1.6h-1.6zM438.7 452.0h1.6v1.6h-1.6zM432.8 437.6h1.6v1.6h-1.6zM431.3 446.0h1.6v1.6h-1.6zM444.4 445.1h1.6v1.6h-1.6zM436.0 443.8h1.6v1.6h-1.6zM446.2 447.0h1.6v1.6h-1.6zM441.4 444.0h1.6v1.6h-1.6zM420.0 446.9h1.6v1.6h-1.6zM439.0 452.1h1.6v1.6h-1.6zM443.3 440.3h1.6v1.6h-1.6zM445.2 442.3h1.6v1.6h-1.6zM412.5 459.3h1.6v1.6h-1.6zM418.1 466.6h1.6v1.6h-1.6zM426.7 449.4h1.6v1.6h-1.6zM434.8 445.9h1.6v1.6h-1.6zM444.2 434.9h1.6v1.6h-1.6zM425.0 465.1h1.6v1.6h-1.6zM431.1 438.7h1.6v1.6h-1.6zM436.5 443.2h1.6v1.6h-1.6zM417.6 451.4h1.6v1.6h-1.6zM411.3 448.0h1.6v1.6h-1.6zM455.5 440.6h1.6v1.6h-1.6zM409.8 455.3h1.6v1.6h-1.6zM441.3 447.5h1.6v1.6h-1.6zM446.1 445.8h1.6v1.6h-1.6zM451.5 447.9h1.6v1.6h-1.6zM453.1 441.1h1.6v1.6h-1.6zM442.6 441.7h1.6v1.6h-1.6zM452.5 435.0h1.6v1.6h-1.6zM429.4 448.5h1.6v1.6h-1.6zM414.6 456.2h1.6v1.6h-1.6zM425.3 451.6h1.6v1.6h-1.6zM423.3 448.1h1.6v1.6h-1.6zM426.2 441.7h1.6v1.6h-1.6zM440.3 443.6h1.6v1.6h-1.6zM428.6 455.9h1.6v1.6h-1.6zM416.9 461.7h1.6v1.6h-1.6zM423.4 451.6h1.6v1.6h-1.6zM427.0 445.2h1.6v1.6h-1.6zM432.1 448.0h1.6v1.6h-1.6zM438.1 455.7h1.6v1.6h-1.6zM435.7 448.8h1.6v1.6h-1.6zM448.9 441.7h1.6v1.6h-1.6zM433.7 447.6h1.6v1.6h-1.6zM438.4 440.1h1.6v1.6h-1.6zM434.7 450.5h1.6v1.6h-1.6zM451.3 440.9h1.6v1.6h-1.6zM454.8 438.3h1.6v1.6h-1.6zM426.5 446.2h1.6v1.6h-1.6zM416.3 451.5h1.6v1.6h-1.6zM439.2 453.8h1.6v1.6h-1.6zM420.3 454.7h1.6v1.6h-1.6zM455.4 438.3h1.6v1.6h-1.6zM453.8 441.3h1.6v1.6h-1.6zM456.2 441.2h1.6v1.6h-1.6zM436.3 443.0h1.6v1.6h-1.6zM453.7 439.3h1.6v1.6h-1.6zM431.8 452.8h1.6v1.6h-1.6zM419.1 455.7h1.6v1.6h-1.6zM453.3 434.5h1.6v1.6h-1.6zM433.2 441.0h1.6v1.6h-1.6zM433.6 447.4h1.6v1.6h-1.6zM419.6 456.4h1.6v1.6h-1.6zM422.8 445.2h1.6v1.6h-1.6zM423.5 451.6h1.6v1.6h-1.6zM416.1 444.1h1.6v1.6h-1.6zM453.6 436.2h1.6v1.6h-1.6zM442.7 435.6h1.6v1.6h-1.6zM433.8 455.6h1.6v1.6h-1.6zM442.5 451.2h1.6v1.6h-1.6zM446.9 445.1h1.6v1.6h-1.6zM440.8 447.7h1.6v1.6h-1.6zM452.4 434.9h1.6v1.6h-1.6zM437.2 441.1h1.6v1.6h-1.6zM423.1 450.5h1.6v1.6h-1.6zM445.5 445.9h1.6v1.6h-1.6zM449.5 450.7h1.6v1.6h-1.6zM432.9 445.6h1.6v1.6h-1.6zM430.7 443.9h1.6v1.6h-1.6zM442.7 442.4h1.6v1.6h-1.6zM452.7 438.9h1.6v1.6h-1.6zM451.7 434.3h1.6v1.6h-1.6zM419.8 445.0h1.6v1.6h-1.6zM447.8 451.4h1.6v1.6h-1.6zM428.0 439.3h1.6v1.6h-1.6zM416.6 450.5h1.6v1.6h-1.6zM431.7 440.5h1.6v1.6h-1.6zM445.1 445.0h1.6v1.6h-1.6zM427.3 451.6h1.6v1.6h-1.6zM441.9 433.7h1.6v1.6h-1.6zM437.0 444.6h1.6v1.6h-1.6zM432.4 448.9h1.6v1.6h-1.6zM423.0 452.0h1.6v1.6h-1.6zM430.3 446.7h1.6v1.6h-1.6zM432.1 444.7h1.6v1.6h-1.6zM424.3 450.3h1.6v1.6h-1.6zM412.7 454.1h1.6v1.6h-1.6zM429.8 463.7h1.6v1.6h-1.6zM443.1 433.7h1.6v1.6h-1.6zM424.7 448.0h1.6v1.6h-1.6zM448.8 444.1h1.6v1.6h-1.6zM426.8 452.7h1.6v1.6h-1.6zM444.6 438.1h1.6v1.6h-1.6zM444.1 438.0h1.6v1.6h-1.6zM445.0 449.9h1.6v1.6h-1.6zM412.0 455.7h1.6v1.6h-1.6zM455.2 436.7h1.6v1.6h-1.6zM441.0 437.4h1.6v1.6h-1.6zM420.3 453.0h1.6v1.6h-1.6zM449.9 441.2h1.6v1.6h-1.6zM435.0 451.5h1.6v1.6h-1.6zM452.1 442.5h1.6v1.6h-1.6zM436.5 450.7h1.6v1.6h-1.6zM431.0 451.8h1.6v1.6h-1.6zM436.9 448.1h1.6v1.6h-1.6zM451.3 433.4h1.6v1.6h-1.6zM410.3 457.6h1.6v1.6h-1.6zM452.0 436.2h1.6v1.6h-1.6zM420.8 446.9h1.6v1.6h-1.6zM425.1 443.7h1.6v1.6h-1.6zM439.9 442.6h1.6v1.6h-1.6zM421.4 448.1h1.6v1.6h-1.6zM422.7 447.3h1.6v1.6h-1.6zM434.7 438.0h1.6v1.6h-1.6zM421.2 452.3h1.6v1.6h-1.6zM429.1 438.7h1.6v1.6h-1.6zM428.8 442.7h1.6v1.6h-1.6zM451.2 438.0h1.6v1.6h-1.6zM454.1 437.9h1.6v1.6h-1.6zM441.6 446.2h1.6v1.6h-1.6zM416.3 449.2h1.6v1.6h-1.6zM439.1 444.9h1.6v1.6h-1.6zM450.3 439.9h1.6v1.6h-1.6zM451.0 437.8h1.6v1.6h-1.6zM457.4 440.9h1.6v1.6h-1.6zM416.8 445.5h1.6v1.6h-1.6zM455.9 446.0h1.6v1.6h-1.6zM428.7 450.0h1.6v1.6h-1.6zM420.2 447.9h1.6v1.6h-1.6zM429.5 448.0h1.6v1.6h-1.6zM435.9 447.5h1.6v1.6h-1.6zM422.6 458.4h1.6v1.6h-1.6zM425.9 446.3h1.6v1.6h-1.6zM445.8 438.8h1.6v1.6h-1.6zM427.0 455.4h1.6v1.6h-1.6zM430.5 457.4h1.6v1.6h-1.6zM423.8 453.3h1.6v1.6h-1.6zM430.3 441.3h1.6v1.6h-1.6zM435.8 446.8h1.6v1.6h-1.6zM406.6 451.0h1.6v1.6h-1.6zM453.5 441.9h1.6v1.6h-1.6zM450.9 439.3h1.6v1.6h-1.6zM419.7 452.8h1.6v1.6h-1.6zM420.2 449.9h1.6v1.6h-1.6zM443.7 448.9h1.6v1.6h-1.6zM444.9 441.7h1.6v1.6h-1.6zM436.9 431.8h1.6v1.6h-1.6zM428.4 443.0h1.6v1.6h-1.6zM445.7 448.5h1.6v1.6h-1.6zM423.6 449.0h1.6v1.6h-1.6zM445.4 438.6h1.6v1.6h-1.6zM420.7 450.2h1.6v1.6h-1.6zM447.9 437.5h1.6v1.6h-1.6zM447.4 450.1h1.6v1.6h-1.6zM421.9 451.7h1.6v1.6h-1.6zM449.6 435.5h1.6v1.6h-1.6zM440.4 442.0h1.6v1.6h-1.6zM433.7 451.7h1.6v1.6h-1.6zM424.7 446.1h1.6v1.6h-1.6zM430.7 456.6h1.6v1.6h-1.6zM425.9 442.9h1.6v1.6h-1.6zM408.7 455.7h1.6v1.6h-1.6zM446.4 438.0h1.6v1.6h-1.6zM455.2 441.3h1.6v1.6h-1.6zM440.6 447.1h1.6v1.6h-1.6zM423.0 454.2h1.6v1.6h-1.6zM426.3 447.9h1.6v1.6h-1.6zM412.3 455.7h1.6v1.6h-1.6zM421.2 463.1h1.6v1.6h-1.6zM445.8 444.7h1.6v1.6h-1.6zM430.1 454.4h1.6v1.6h-1.6zM433.8 449.1h1.6v1.6h-1.6zM432.8 454.0h1.6v1.6h-1.6zM436.2 434.6h1.6v1.6h-1.6zM454.5 442.1h1.6v1.6h-1.6zM431.0 440.3h1.6v1.6h-1.6zM452.6 440.4h1.6v1.6h-1.6zM425.9 450.2h1.6v1.6h-1.6zM418.1 448.0h1.6v1.6h-1.6zM445.3 450.4h1.6v1.6h-1.6zM443.3 438.3h1.6v1.6h-1.6zM439.4 445.7h1.6v1.6h-1.6zM432.9 455.8h1.6v1.6h-1.6zM452.5 444.4h1.6v1.6h-1.6zM442.1 436.4h1.6v1.6h-1.6zM437.3 448.1h1.6v1.6h-1.6zM454.5 437.6h1.6v1.6h-1.6zM446.9 445.4h1.6v1.6h-1.6zM445.8 443.8h1.6v1.6h-1.6zM444.9 442.4h1.6v1.6h-1.6zM429.2 451.9h1.6v1.6h-1.6zM436.9 450.6h1.6v1.6h-1.6zM444.5 438.6h1.6v1.6h-1.6zM450.1 444.5h1.6v1.6h-1.6zM437.4 457.5h1.6v1.6h-1.6zM454.7 435.1h1.6v1.6h-1.6zM438.2 442.5h1.6v1.6h-1.6zM439.8 446.0h1.6v1.6h-1.6zM442.2 432.0h1.6v1.6h-1.6zM447.6 440.6h1.6v1.6h-1.6zM448.5 436.9h1.6v1.6h-1.6zM423.6 449.7h1.6v1.6h-1.6zM453.6 444.3h1.6v1.6h-1.6zM415.9 457.4h1.6v1.6h-1.6zM427.6 446.5h1.6v1.6h-1.6zM422.8 446.8h1.6v1.6h-1.6zM432.5 445.4h1.6v1.6h-1.6zM440.8 442.8h1.6v1.6h-1.6zM445.1 431.9h1.6v1.6h-1.6zM455.7 438.9h1.6v1.6h-1.6zM433.6 451.0h1.6v1.6h-1.6zM449.6 437.4h1.6v1.6h-1.6zM425.1 452.7h1.6v1.6h-1.6zM432.2 453.0h1.6v1.6h-1.6zM455.3 441.3h1.6v1.6h-1.6zM448.7 441.3h1.6v1.6h-1.6zM448.2 434.4h1.6v1.6h-1.6zM440.8 444.7h1.6v1.6h-1.6zM430.1 449.5h1.6v1.6h-1.6zM446.2 441.5h1.6v1.6h-1.6zM445.8 435.9h1.6v1.6h-1.6zM418.2 452.7h1.6v1.6h-1.6zM444.1 440.0h1.6v1.6h-1.6zM451.8 450.3h1.6v1.6h-1.6zM422.8 453.0h1.6v1.6h-1.6zM432.9 456.3h1.6v1.6h-1.6zM445.7 449.7h1.6v1.6h-1.6zM438.6 443.9h1.6v1.6h-1.6zM421.6 453.1h1.6v1.6h-1.6zM433.1 441.3h1.6v1.6h-1.6zM450.2 444.6h1.6v1.6h-1.6zM417.0 450.2h1.6v1.6h-1.6zM436.4 450.5h1.6v1.6h-1.6zM431.8 446.3h1.6v1.6h-1.6zM411.4 457.6h1.6v1.6h-1.6zM435.1 439.4h1.6v1.6h-1.6zM427.3 451.4h1.6v1.6h-1.6zM418.9 448.0h1.6v1.6h-1.6zM426.5 442.6h1.6v1.6h-1.6zM451.8 431.4h1.6v1.6h-1.6zM446.8 439.5h1.6v1.6h-1.6zM450.2 441.9h1.6v1.6h-1.6zM426.1 445.1h1.6v1.6h-1.6zM439.1 436.6h1.6v1.6h-1.6zM440.4 447.4h1.6v1.6h-1.6zM436.4 458.4h1.6v1.6h-1.6zM440.0 445.6h1.6v1.6h-1.6zM426.1 458.6h1.6v1.6h-1.6zM440.8 450.8h1.6v1.6h-1.6zM414.4 457.4h1.6v1.6h-1.6zM437.0 446.9h1.6v1.6h-1.6zM433.4 455.0h1.6v1.6h-1.6zM445.1 434.7h1.6v1.6h-1.6zM428.0 439.6h1.6v1.6h-1.6zM448.6 438.8h1.6v1.6h-1.6zM445.7 452.3h1.6v1.6h-1.6zM443.6 437.6h1.6v1.6h-1.6zM422.7 453.1h1.6v1.6h-1.6zM446.5 438.5h1.6v1.6h-1.6zM447.6 442.0h1.6v1.6h-1.6zM437.5 444.3h1.6v1.6h-1.6zM441.0 458.1h1.6v1.6h-1.6zM443.3 450.4h1.6v1.6h-1.6zM425.3 449.6h1.6v1.6h-1.6zM418.0 450.8h1.6v1.6h-1.6zM423.0 439.2h1.6v1.6h-1.6zM446.3 435.5h1.6v1.6h-1.6zM443.6 443.6h1.6v1.6h-1.6zM417.1 454.2h1.6v1.6h-1.6zM416.6 448.9h1.6v1.6h-1.6zM451.7 442.5h1.6v1.6h-1.6zM447.7 436.0h1.6v1.6h-1.6zM428.8 452.7h1.6v1.6h-1.6zM447.2 439.4h1.6v1.6h-1.6zM430.2 455.1h1.6v1.6h-1.6zM422.9 456.0h1.6v1.6h-1.6zM435.8 449.9h1.6v1.6h-1.6zM432.9 452.1h1.6v1.6h-1.6zM451.9 441.0h1.6v1.6h-1.6zM438.4 445.6h1.6v1.6h-1.6zM446.9 442.9h1.6v1.6h-1.6zM444.5 447.7h1.6v1.6h-1.6zM442.6 448.6h1.6v1.6h-1.6zM448.6 442.7h1.6v1.6h-1.6zM439.8 450.0h1.6v1.6h-1.6zM423.4 453.1h1.6v1.6h-1.6zM424.9 439.1h1.6v1.6h-1.6zM433.1 447.1h1.6v1.6h-1.6zM451.8 437.8h1.6v1.6h-1.6zM446.1 437.4h1.6v1.6h-1.6zM433.5 442.3h1.6v1.6h-1.6zM417.4 456.4h1.6v1.6h-1.6zM434.8 446.4h1.6v1.6h-1.6zM441.7 443.1h1.6v1.6h-1.6zM440.5 449.1h1.6v1.6h-1.6zM433.4 446.0h1.6v1.6h-1.6zM424.4 450.3h1.6v1.6h-1.6zM450.4 440.9h1.6v1.6h-1.6zM428.5 441.3h1.6v1.6h-1.6zM418.3 455.9h1.6v1.6h-1.6zM437.8 440.7h1.6v1.6h-1.6zM443.9 443.0h1.6v1.6h-1.6zM412.8 458.0h1.6v1.6h-1.6zM431.9 445.2h1.6v1.6h-1.6zM432.0 451.1h1.6v1.6h-1.6zM438.1 437.9h1.6v1.6h-1.6zM420.6 452.7h1.6v1.6h-1.6zM446.1 453.0h1.6v1.6h-1.6zM449.8 440.9h1.6v1.6h-1.6zM436.4 451.1h1.6v1.6h-1.6zM451.6 443.4h1.6v1.6h-1.6zM433.1 459.0h1.6v1.6h-1.6zM420.7 445.0h1.6v1.6h-1.6zM443.2 427.9h1.6v1.6h-1.6zM416.0 455.8h1.6v1.6h-1.6zM439.5 435.3h1.6v1.6h-1.6zM443.2 435.2h1.6v1.6h-1.6zM420.4 439.7h1.6v1.6h-1.6zM412.9 464.3h1.6v1.6h-1.6zM407.4 451.8h1.6v1.6h-1.6zM444.9 444.7h1.6v1.6h-1.6zM436.3 454.8h1.6v1.6h-1.6zM417.6 448.3h1.6v1.6h-1.6zM443.5 444.3h1.6v1.6h-1.6zM436.4 448.7h1.6v1.6h-1.6zM431.3 449.4h1.6v1.6h-1.6zM417.3 446.8h1.6v1.6h-1.6zM413.9 460.2h1.6v1.6h-1.6zM429.4 441.9h1.6v1.6h-1.6zM430.4 448.4h1.6v1.6h-1.6zM439.2 455.3h1.6v1.6h-1.6zM427.2 453.1h1.6v1.6h-1.6zM422.7 447.8h1.6v1.6h-1.6zM432.9 452.7h1.6v1.6h-1.6zM435.1 441.5h1.6v1.6h-1.6zM422.8 448.4h1.6v1.6h-1.6zM442.3 446.3h1.6v1.6h-1.6zM434.8 449.8h1.6v1.6h-1.6zM410.9 455.3h1.6v1.6h-1.6zM418.4 451.6h1.6v1.6h-1.6zM413.3 459.7h1.6v1.6h-1.6zM452.0 434.1h1.6v1.6h-1.6zM418.8 447.2h1.6v1.6h-1.6zM455.4 442.9h1.6v1.6h-1.6zM446.4 441.2h1.6v1.6h-1.6zM440.1 442.8h1.6v1.6h-1.6zM426.6 446.9h1.6v1.6h-1.6zM413.1 455.9h1.6v1.6h-1.6zM427.5 457.5h1.6v1.6h-1.6zM443.8 436.1h1.6v1.6h-1.6zM439.1 448.0h1.6v1.6h-1.6zM441.4 443.0h1.6v1.6h-1.6zM443.9 441.0h1.6v1.6h-1.6zM438.6 452.8h1.6v1.6h-1.6zM448.5 439.8h1.6v1.6h-1.6zM443.5 439.9h1.6v1.6h-1.6zM425.5 450.1h1.6v1.6h-1.6zM410.1 457.3h1.6v1.6h-1.6zM439.0 454.5h1.6v1.6h-1.6zM427.5 441.5h1.6v1.6h-1.6zM442.6 436.3h1.6v1.6h-1.6zM443.8 446.8h1.6v1.6h-1.6zM450.7 438.7h1.6v1.6h-1.6zM434.0 455.1h1.6v1.6h-1.6zM428.1 448.9h1.6v1.6h-1.6zM446.1 451.3h1.6v1.6h-1.6zM436.9 442.0h1.6v1.6h-1.6zM431.6 455.6h1.6v1.6h-1.6zM434.3 439.8h1.6v1.6h-1.6zM421.2 452.3h1.6v1.6h-1.6zM454.3 440.0h1.6v1.6h-1.6zM431.2 448.4h1.6v1.6h-1.6zM443.6 443.7h1.6v1.6h-1.6zM442.3 436.5h1.6v1.6h-1.6zM450.4 432.6h1.6v1.6h-1.6zM443.0 452.2h1.6v1.6h-1.6zM424.5 456.5h1.6v1.6h-1.6zM438.1 453.3h1.6v1.6h-1.6zM440.1 445.6h1.6v1.6h-1.6zM438.4 442.1h1.6v1.6h-1.6zM447.6 437.5h1.6v1.6h-1.6zM436.4 436.4h1.6v1.6h-1.6zM435.5 444.9h1.6v1.6h-1.6zM419.9 443.9h1.6v1.6h-1.6zM422.7 450.1h1.6v1.6h-1.6zM419.8 461.9h1.6v1.6h-1.6zM440.5 442.8h1.6v1.6h-1.6zM438.4 448.1h1.6v1.6h-1.6zM450.7 443.3h1.6v1.6h-1.6zM432.0 454.1h1.6v1.6h-1.6zM439.1 435.6h1.6v1.6h-1.6zM418.4 453.2h1.6v1.6h-1.6zM418.4 452.0h1.6v1.6h-1.6zM416.4 447.6h1.6v1.6h-1.6zM417.9 454.5h1.6v1.6h-1.6zM421.6 450.9h1.6v1.6h-1.6zM442.2 439.3h1.6v1.6h-1.6zM451.1 442.5h1.6v1.6h-1.6zM443.2 445.8h1.6v1.6h-1.6zM417.8 453.8h1.6v1.6h-1.6zM446.6 435.8h1.6v1.6h-1.6zM437.7 438.4h1.6v1.6h-1.6zM423.8 446.7h1.6v1.6h-1.6zM433.0 450.1h1.6v1.6h-1.6zM439.5 434.2h1.6v1.6h-1.6zM456.5 440.9h1.6v1.6h-1.6zM453.2 435.8h1.6v1.6h-1.6zM446.7 441.4h1.6v1.6h-1.6zM422.0 449.5h1.6v1.6h-1.6zM447.6 436.1h1.6v1.6h-1.6zM426.6 447.5h1.6v1.6h-1.6zM423.2 463.1h1.6v1.6h-1.6zM420.2 449.7h1.6v1.6h-1.6zM429.8 450.1h1.6v1.6h-1.6zM433.8 450.7h1.6v1.6h-1.6zM452.3 441.3h1.6v1.6h-1.6zM440.4 447.5h1.6v1.6h-1.6zM444.8 441.0h1.6v1.6h-1.6zM431.7 447.9h1.6v1.6h-1.6zM449.4 435.6h1.6v1.6h-1.6zM447.5 441.6h1.6v1.6h-1.6zM426.5 446.3h1.6v1.6h-1.6zM444.1 435.9h1.6v1.6h-1.6zM432.7 445.6h1.6v1.6h-1.6zM431.1 449.5h1.6v1.6h-1.6zM440.3 444.2h1.6v1.6h-1.6zM429.5 459.3h1.6v1.6h-1.6zM411.8 448.6h1.6v1.6h-1.6zM425.6 440.3h1.6v1.6h-1.6zM439.0 442.7h1.6v1.6h-1.6zM435.9 451.6h1.6v1.6h-1.6zM445.6 437.2h1.6v1.6h-1.6zM445.2 435.6h1.6v1.6h-1.6zM453.4 444.1h1.6v1.6h-1.6zM448.0 448.8h1.6v1.6h-1.6zM435.1 453.2h1.6v1.6h-1.6zM412.3 455.7h1.6v1.6h-1.6zM440.6 441.6h1.6v1.6h-1.6zM447.2 438.8h1.6v1.6h-1.6zM418.3 450.0h1.6v1.6h-1.6zM442.6 436.6h1.6v1.6h-1.6zM421.8 449.4h1.6v1.6h-1.6zM439.2 443.6h1.6v1.6h-1.6zM434.3 442.9h1.6v1.6h-1.6zM408.7 459.8h1.6v1.6h-1.6zM430.4 442.1h1.6v1.6h-1.6zM438.6 449.4h1.6v1.6h-1.6zM409.4 456.8h1.6v1.6h-1.6zM448.4 443.3h1.6v1.6h-1.6zM415.7 457.3h1.6v1.6h-1.6zM435.1 452.3h1.6v1.6h-1.6zM439.7 441.5h1.6v1.6h-1.6zM443.8 460.6h1.6v1.6h-1.6zM435.6 455.4h1.6v1.6h-1.6zM427.5 442.6h1.6v1.6h-1.6zM426.9 453.4h1.6v1.6h-1.6zM447.9 439.4h1.6v1.6h-1.6zM439.1 446.8h1.6v1.6h-1.6zM438.2 449.9h1.6v1.6h-1.6zM456.0 436.9h1.6v1.6h-1.6zM447.9 435.6h1.6v1.6h-1.6zM448.5 441.4h1.6v1.6h-1.6zM446.6 441.7h1.6v1.6h-1.6zM437.9 435.7h1.6v1.6h-1.6zM428.5 454.0h1.6v1.6h-1.6zM433.5 452.5h1.6v1.6h-1.6zM443.2 443.4h1.6v1.6h-1.6zM448.1 442.5h1.6v1.6h-1.6zM443.3 450.9h1.6v1.6h-1.6zM439.2 449.3h1.6v1.6h-1.6zM444.1 446.1h1.6v1.6h-1.6zM446.9 445.5h1.6v1.6h-1.6zM436.5 450.3h1.6v1.6h-1.6zM427.3 451.5h1.6v1.6h-1.6zM420.3 460.7h1.6v1.6h-1.6zM413.4 462.6h1.6v1.6h-1.6zM430.1 450.8h1.6v1.6h-1.6zM451.5 441.9h1.6v1.6h-1.6zM415.7 455.3h1.6v1.6h-1.6zM437.4 444.1h1.6v1.6h-1.6zM433.3 446.4h1.6v1.6h-1.6zM449.2 444.6h1.6v1.6h-1.6zM434.1 451.0h1.6v1.6h-1.6zM448.7 439.8h1.6v1.6h-1.6zM418.1 456.1h1.6v1.6h-1.6zM409.5 453.0h1.6v1.6h-1.6zM438.5 444.9h1.6v1.6h-1.6zM424.2 449.8h1.6v1.6h-1.6zM445.0 452.8h1.6v1.6h-1.6zM432.3 444.2h1.6v1.6h-1.6zM448.9 441.2h1.6v1.6h-1.6zM444.8 435.3h1.6v1.6h-1.6zM441.9 440.4h1.6v1.6h-1.6zM436.6 443.5h1.6v1.6h-1.6zM450.3 436.7h1.6v1.6h-1.6zM447.5 445.3h1.6v1.6h-1.6zM445.2 438.1h1.6v1.6h-1.6zM441.5 447.1h1.6v1.6h-1.6zM451.9 447.0h1.6v1.6h-1.6zM453.7 439.0h1.6v1.6h-1.6zM428.7 453.2h1.6v1.6h-1.6zM438.8 448.6h1.6v1.6h-1.6zM422.5 459.7h1.6v1.6h-1.6zM456.1 440.4h1.6v1.6h-1.6zM416.5 456.7h1.6v1.6h-1.6zM439.3 446.3h1.6v1.6h-1.6zM455.5 437.8h1.6v1.6h-1.6zM430.4 441.4h1.6v1.6h-1.6zM425.4 451.0h1.6v1.6h-1.6zM447.2 444.0h1.6v1.6h-1.6zM432.6 440.0h1.6v1.6h-1.6zM455.7 441.2h1.6v1.6h-1.6zM437.6 445.6h1.6v1.6h-1.6zM444.6 437.5h1.6v1.6h-1.6zM422.1 448.1h1.6v1.6h-1.6zM415.4 467.8h1.6v1.6h-1.6zM454.4 437.8h1.6v1.6h-1.6zM432.7 448.6h1.6v1.6h-1.6zM426.0 449.9h1.6v1.6h-1.6zM414.0 460.1h1.6v1.6h-1.6zM451.7 434.5h1.6v1.6h-1.6zM452.4 439.5h1.6v1.6h-1.6zM412.2 456.3h1.6v1.6h-1.6zM427.1 458.6h1.6v1.6h-1.6zM413.5 456.9h1.6v1.6h-1.6zM437.9 457.5h1.6v1.6h-1.6zM445.5 440.7h1.6v1.6h-1.6zM423.2 448.0h1.6v1.6h-1.6zM443.3 437.3h1.6v1.6h-1.6zM425.5 442.5h1.6v1.6h-1.6zM417.4 450.7h1.6v1.6h-1.6zM424.4 449.9h1.6v1.6h-1.6zM440.2 435.0h1.6v1.6h-1.6zM435.3 440.7h1.6v1.6h-1.6zM429.4 437.7h1.6v1.6h-1.6zM447.7 437.0h1.6v1.6h-1.6zM449.2 439.0h1.6v1.6h-1.6zM426.2 451.4h1.6v1.6h-1.6zM436.8 445.2h1.6v1.6h-1.6zM421.0 447.3h1.6v1.6h-1.6zM442.9 446.9h1.6v1.6h-1.6zM416.0 463.0h1.6v1.6h-1.6zM437.0 443.5h1.6v1.6h-1.6zM426.1 444.9h1.6v1.6h-1.6zM432.4 454.8h1.6v1.6h-1.6zM440.4 431.3h1.6v1.6h-1.6zM429.4 448.5h1.6v1.6h-1.6zM448.1 445.6h1.6v1.6h-1.6zM438.4 448.0h1.6v1.6h-1.6zM420.2 451.5h1.6v1.6h-1.6zM441.3 450.4h1.6v1.6h-1.6zM429.4 450.1h1.6v1.6h-1.6zM446.5 439.6h1.6v1.6h-1.6zM414.7 460.8h1.6v1.6h-1.6zM425.6 451.5h1.6v1.6h-1.6zM440.2 440.6h1.6v1.6h-1.6zM422.9 446.2h1.6v1.6h-1.6zM441.6 440.8h1.6v1.6h-1.6zM448.2 443.2h1.6v1.6h-1.6zM453.4 439.6h1.6v1.6h-1.6zM428.7 458.4h1.6v1.6h-1.6zM447.8 433.0h1.6v1.6h-1.6zM451.0 441.0h1.6v1.6h-1.6zM440.1 449.1h1.6v1.6h-1.6zM444.2 439.7h1.6v1.6h-1.6zM436.1 449.2h1.6v1.6h-1.6zM420.1 443.6h1.6v1.6h-1.6zM440.1 452.1h1.6v1.6h-1.6zM428.4 448.6h1.6v1.6h-1.6zM451.8 440.2h1.6v1.6h-1.6zM430.1 444.0h1.6v1.6h-1.6zM410.9 454.1h1.6v1.6h-1.6zM445.2 438.1h1.6v1.6h-1.6zM411.5 457.1h1.6v1.6h-1.6zM410.0 455.7h1.6v1.6h-1.6zM418.1 448.2h1.6v1.6h-1.6zM422.5 450.3h1.6v1.6h-1.6zM427.0 453.2h1.6v1.6h-1.6zM455.4 436.5h1.6v1.6h-1.6zM414.1 451.5h1.6v1.6h-1.6zM427.0 447.5h1.6v1.6h-1.6zM434.8 448.2h1.6v1.6h-1.6zM428.9 441.5h1.6v1.6h-1.6zM426.4 442.7h1.6v1.6h-1.6zM427.3 447.8h1.6v1.6h-1.6zM411.7 455.2h1.6v1.6h-1.6zM434.1 446.3h1.6v1.6h-1.6zM424.4 457.3h1.6v1.6h-1.6zM422.8 444.9h1.6v1.6h-1.6zM424.2 449.1h1.6v1.6h-1.6zM414.8 462.7h1.6v1.6h-1.6zM419.0 450.8h1.6v1.6h-1.6zM440.8 450.0h1.6v1.6h-1.6zM423.1 454.7h1.6v1.6h-1.6zM420.2 451.6h1.6v1.6h-1.6zM442.0 441.0h1.6v1.6h-1.6zM444.8 440.4h1.6v1.6h-1.6zM452.3 437.5h1.6v1.6h-1.6zM426.1 452.2h1.6v1.6h-1.6zM446.6 442.5h1.6v1.6h-1.6zM432.2 449.4h1.6v1.6h-1.6zM426.0 442.3h1.6v1.6h-1.6zM435.6 450.1h1.6v1.6h-1.6zM435.6 439.2h1.6v1.6h-1.6zM430.8 442.3h1.6v1.6h-1.6zM443.2 445.9h1.6v1.6h-1.6zM428.0 448.2h1.6v1.6h-1.6zM450.9 434.3h1.6v1.6h-1.6zM428.5 444.5h1.6v1.6h-1.6zM428.6 453.5h1.6v1.6h-1.6zM417.5 457.1h1.6v1.6h-1.6zM448.5 439.6h1.6v1.6h-1.6zM435.0 448.7h1.6v1.6h-1.6zM423.4 450.8h1.6v1.6h-1.6zM436.8 449.2h1.6v1.6h-1.6zM452.0 443.4h1.6v1.6h-1.6zM429.6 451.4h1.6v1.6h-1.6zM420.9 450.6h1.6v1.6h-1.6zM452.8 449.4h1.6v1.6h-1.6zM426.6 450.6h1.6v1.6h-1.6zM450.3 433.3h1.6v1.6h-1.6zM446.1 441.6h1.6v1.6h-1.6zM422.7 450.1h1.6v1.6h-1.6zM456.5 434.3h1.6v1.6h-1.6zM450.2 440.0h1.6v1.6h-1.6zM449.2 449.0h1.6v1.6h-1.6zM431.3 452.3h1.6v1.6h-1.6zM432.2 448.3h1.6v1.6h-1.6zM434.1 441.0h1.6v1.6h-1.6zM427.4 460.3h1.6v1.6h-1.6zM449.2 432.8h1.6v1.6h-1.6zM441.0 442.7h1.6v1.6h-1.6zM425.8 458.2h1.6v1.6h-1.6zM435.6 440.6h1.6v1.6h-1.6zM414.1 454.1h1.6v1.6h-1.6zM427.9 453.4h1.6v1.6h-1.6zM440.5 446.7h1.6v1.6h-1.6zM427.7 453.0h1.6v1.6h-1.6zM427.5 458.0h1.6v1.6h-1.6zM432.2 449.6h1.6v1.6h-1.6zM423.5 455.8h1.6v1.6h-1.6zM440.4 439.0h1.6v1.6h-1.6zM453.3 442.4h1.6v1.6h-1.6zM425.8 441.5h1.6v1.6h-1.6zM439.0 444.7h1.6v1.6h-1.6zM448.8 433.5h1.6v1.6h-1.6zM436.3 441.1h1.6v1.6h-1.6zM435.0 449.0h1.6v1.6h-1.6zM441.1 441.3h1.6v1.6h-1.6zM436.1 446.9h1.6v1.6h-1.6zM442.4 442.4h1.6v1.6h-1.6zM435.0 449.6h1.6v1.6h-1.6zM443.2 448.9h1.6v1.6h-1.6zM451.8 443.1h1.6v1.6h-1.6zM425.0 452.3h1.6v1.6h-1.6zM413.0 458.6h1.6v1.6h-1.6zM423.5 453.9h1.6v1.6h-1.6zM422.3 455.8h1.6v1.6h-1.6zM424.4 454.9h1.6v1.6h-1.6zM427.4 456.0h1.6v1.6h-1.6zM418.0 453.8h1.6v1.6h-1.6zM426.9 448.5h1.6v1.6h-1.6zM421.5 450.1h1.6v1.6h-1.6zM445.8 434.3h1.6v1.6h-1.6zM448.8 445.9h1.6v1.6h-1.6zM450.8 435.4h1.6v1.6h-1.6zM436.8 445.7h1.6v1.6h-1.6zM421.0 446.6h1.6v1.6h-1.6zM428.8 449.4h1.6v1.6h-1.6zM440.0 438.0h1.6v1.6h-1.6zM449.8 436.5h1.6v1.6h-1.6zM449.5 447.8h1.6v1.6h-1.6zM427.7 444.1h1.6v1.6h-1.6zM437.0 441.4h1.6v1.6h-1.6zM441.7 439.3h1.6v1.6h-1.6zM440.4 435.2h1.6v1.6h-1.6zM455.7 434.4h1.6v1.6h-1.6zM443.4 448.4h1.6v1.6h-1.6zM414.9 458.2h1.6v1.6h-1.6zM456.4 445.2h1.6v1.6h-1.6zM420.0 456.2h1.6v1.6h-1.6zM427.9 444.8h1.6v1.6h-1.6zM441.6 453.1h1.6v1.6h-1.6zM417.8 451.4h1.6v1.6h-1.6zM448.9 440.2h1.6v1.6h-1.6zM449.2 439.2h1.6v1.6h-1.6zM447.4 435.3h1.6v1.6h-1.6zM449.9 438.3h1.6v1.6h-1.6zM418.0 449.1h1.6v1.6h-1.6zM449.3 442.1h1.6v1.6h-1.6zM446.3 430.4h1.6v1.6h-1.6zM417.4 459.2h1.6v1.6h-1.6zM444.9 447.9h1.6v1.6h-1.6zM418.7 457.4h1.6v1.6h-1.6zM425.6 448.7h1.6v1.6h-1.6zM455.2 439.2h1.6v1.6h-1.6zM447.5 446.4h1.6v1.6h-1.6zM454.6 436.6h1.6v1.6h-1.6zM413.3 460.1h1.6v1.6h-1.6zM428.2 449.8h1.6v1.6h-1.6zM413.2 458.1h1.6v1.6h-1.6zM438.9 447.6h1.6v1.6h-1.6zM418.8 458.3h1.6v1.6h-1.6zM452.1 440.2h1.6v1.6h-1.6zM443.9 440.9h1.6v1.6h-1.6zM417.7 450.2h1.6v1.6h-1.6zM422.4 443.4h1.6v1.6h-1.6zM426.0 454.3h1.6v1.6h-1.6zM413.0 454.6h1.6v1.6h-1.6zM415.6 453.5h1.6v1.6h-1.6zM450.7 438.2h1.6v1.6h-1.6zM446.6 440.6h1.6v1.6h-1.6zM425.1 445.9h1.6v1.6h-1.6zM433.3 443.0h1.6v1.6h-1.6zM440.1 439.8h1.6v1.6h-1.6zM445.9 445.6h1.6v1.6h-1.6zM426.7 450.3h1.6v1.6h-1.6zM430.6 448.6h1.6v1.6h-1.6zM439.0 447.5h1.6v1.6h-1.6zM419.1 444.1h1.6v1.6h-1.6zM418.2 449.7h1.6v1.6h-1.6zM417.1 451.5h1.6v1.6h-1.6zM446.5 444.3h1.6v1.6h-1.6zM422.7 462.4h1.6v1.6h-1.6zM427.6 439.3h1.6v1.6h-1.6zM428.2 444.6h1.6v1.6h-1.6zM423.6 453.0h1.6v1.6h-1.6zM419.0 449.5h1.6v1.6h-1.6zM434.4 457.0h1.6v1.6h-1.6zM449.4 440.4h1.6v1.6h-1.6zM408.6 451.2h1.6v1.6h-1.6zM449.9 442.0h1.6v1.6h-1.6zM433.4 451.1h1.6v1.6h-1.6zM409.3 455.9h1.6v1.6h-1.6zM431.0 449.9h1.6v1.6h-1.6zM431.7 463.5h1.6v1.6h-1.6zM454.8 443.2h1.6v1.6h-1.6zM441.1 438.0h1.6v1.6h-1.6zM452.8 443.8h1.6v1.6h-1.6zM418.5 452.0h1.6v1.6h-1.6zM433.9 448.5h1.6v1.6h-1.6zM444.7 439.7h1.6v1.6h-1.6zM433.4 449.1h1.6v1.6h-1.6zM433.4 445.4h1.6v1.6h-1.6zM448.1 440.4h1.6v1.6h-1.6zM416.7 453.3h1.6v1.6h-1.6zM435.6 453.9h1.6v1.6h-1.6zM434.1 453.2h1.6v1.6h-1.6zM449.2 437.1h1.6v1.6h-1.6zM447.0 443.5h1.6v1.6h-1.6zM431.7 442.1h1.6v1.6h-1.6zM436.6 445.1h1.6v1.6h-1.6zM455.5 443.8h1.6v1.6h-1.6zM434.7 441.9h1.6v1.6h-1.6zM433.9 450.0h1.6v1.6h-1.6zM420.6 452.4h1.6v1.6h-1.6zM440.8 431.1h1.6v1.6h-1.6zM451.2 435.8h1.6v1.6h-1.6zM434.8 446.5h1.6v1.6h-1.6zM441.8 441.1h1.6v1.6h-1.6zM431.8 454.0h1.6v1.6h-1.6zM427.3 451.2h1.6v1.6h-1.6zM440.5 442.6h1.6v1.6h-1.6zM423.0 451.7h1.6v1.6h-1.6zM442.5 442.8h1.6v1.6h-1.6zM440.4 453.3h1.6v1.6h-1.6zM450.4 444.7h1.6v1.6h-1.6zM425.8 442.7h1.6v1.6h-1.6zM413.0 460.4h1.6v1.6h-1.6zM445.8 439.5h1.6v1.6h-1.6zM428.4 451.3h1.6v1.6h-1.6zM438.3 439.5h1.6v1.6h-1.6zM434.4 438.7h1.6v1.6h-1.6zM450.7 444.8h1.6v1.6h-1.6zM445.9 440.0h1.6v1.6h-1.6zM426.7 445.8h1.6v1.6h-1.6zM457.9 443.7h1.6v1.6h-1.6zM443.0 449.7h1.6v1.6h-1.6zM447.3 432.1h1.6v1.6h-1.6zM436.0 449.6h1.6v1.6h-1.6zM422.6 455.4h1.6v1.6h-1.6zM432.7 450.2h1.6v1.6h-1.6zM428.5 442.0h1.6v1.6h-1.6zM445.4 440.8h1.6v1.6h-1.6zM440.8 443.4h1.6v1.6h-1.6zM423.0 448.8h1.6v1.6h-1.6zM432.8 443.4h1.6v1.6h-1.6zM454.2 444.4h1.6v1.6h-1.6zM414.1 458.7h1.6v1.6h-1.6zM441.3 442.7h1.6v1.6h-1.6zM430.3 451.7h1.6v1.6h-1.6zM452.5 434.6h1.6v1.6h-1.6zM449.7 436.5h1.6v1.6h-1.6zM434.8 442.9h1.6v1.6h-1.6zM442.1 432.8h1.6v1.6h-1.6zM444.6 445.9h1.6v1.6h-1.6zM436.7 449.7h1.6v1.6h-1.6zM440.3 447.1h1.6v1.6h-1.6zM437.1 435.7h1.6v1.6h-1.6zM430.8 451.1h1.6v1.6h-1.6zM430.8 447.0h1.6v1.6h-1.6zM448.3 447.4h1.6v1.6h-1.6zM425.4 452.8h1.6v1.6h-1.6zM434.6 450.9h1.6v1.6h-1.6zM442.0 443.0h1.6v1.6h-1.6zM456.4 440.7h1.6v1.6h-1.6zM408.1 457.7h1.6v1.6h-1.6zM434.6 448.4h1.6v1.6h-1.6zM441.6 456.5h1.6v1.6h-1.6zM433.2 445.1h1.6v1.6h-1.6zM426.2 447.6h1.6v1.6h-1.6zM446.9 448.4h1.6v1.6h-1.6zM422.7 460.8h1.6v1.6h-1.6zM437.3 441.4h1.6v1.6h-1.6zM428.5 455.7h1.6v1.6h-1.6zM445.5 445.1h1.6v1.6h-1.6zM424.2 453.6h1.6v1.6h-1.6zM455.1 437.3h1.6v1.6h-1.6zM431.0 447.4h1.6v1.6h-1.6zM413.0 457.9h1.6v1.6h-1.6zM447.1 439.9h1.6v1.6h-1.6zM449.3 439.3h1.6v1.6h-1.6zM423.9 446.4h1.6v1.6h-1.6zM411.5 457.0h1.6v1.6h-1.6zM450.5 442.5h1.6v1.6h-1.6zM450.2 439.3h1.6v1.6h-1.6zM418.4 452.0h1.6v1.6h-1.6zM447.7 433.5h1.6v1.6h-1.6zM452.0 436.6h1.6v1.6h-1.6zM433.2 454.9h1.6v1.6h-1.6zM438.9 439.8h1.6v1.6h-1.6zM455.6 435.2h1.6v1.6h-1.6zM430.4 456.6h1.6v1.6h-1.6zM415.6 450.7h1.6v1.6h-1.6zM428.1 451.3h1.6v1.6h-1.6zM432.5 449.7h1.6v1.6h-1.6zM413.2 459.0h1.6v1.6h-1.6zM449.3 432.7h1.6v1.6h-1.6zM417.5 452.9h1.6v1.6h-1.6zM437.3 453.0h1.6v1.6h-1.6zM427.9 447.5h1.6v1.6h-1.6zM411.2 455.7h1.6v1.6h-1.6zM437.5 442.6h1.6v1.6h-1.6zM435.8 448.5h1.6v1.6h-1.6zM423.5 450.7h1.6v1.6h-1.6zM424.2 453.5h1.6v1.6h-1.6zM414.4 460.6h1.6v1.6h-1.6zM439.4 444.8h1.6v1.6h-1.6zM419.8 447.8h1.6v1.6h-1.6zM431.1 444.4h1.6v1.6h-1.6zM417.1 449.2h1.6v1.6h-1.6zM441.9 440.3h1.6v1.6h-1.6zM445.3 446.1h1.6v1.6h-1.6zM422.8 457.3h1.6v1.6h-1.6zM447.2 442.9h1.6v1.6h-1.6zM429.1 453.8h1.6v1.6h-1.6zM436.2 441.2h1.6v1.6h-1.6zM455.6 439.5h1.6v1.6h-1.6zM448.2 433.9h1.6v1.6h-1.6zM440.0 449.3h1.6v1.6h-1.6zM428.9 446.3h1.6v1.6h-1.6zM431.1 444.7h1.6v1.6h-1.6zM428.6 450.1h1.6v1.6h-1.6zM426.9 457.0h1.6v1.6h-1.6zM426.3 456.4h1.6v1.6h-1.6zM425.8 446.7h1.6v1.6h-1.6zM451.6 437.0h1.6v1.6h-1.6zM427.4 450.1h1.6v1.6h-1.6zM442.8 450.5h1.6v1.6h-1.6zM444.5 441.3h1.6v1.6h-1.6zM426.5 443.6h1.6v1.6h-1.6zM446.6 448.6h1.6v1.6h-1.6zM441.8 437.1h1.6v1.6h-1.6zM451.3 439.6h1.6v1.6h-1.6zM438.7 451.8h1.6v1.6h-1.6zM436.2 437.3h1.6v1.6h-1.6zM440.5 444.2h1.6v1.6h-1.6zM440.3 442.6h1.6v1.6h-1.6zM425.5 436.3h1.6v1.6h-1.6zM434.0 447.5h1.6v1.6h-1.6zM437.7 449.3h1.6v1.6h-1.6zM428.6 446.4h1.6v1.6h-1.6zM441.6 440.1h1.6v1.6h-1.6zM435.2 444.1h1.6v1.6h-1.6zM421.6 459.7h1.6v1.6h-1.6zM435.2 443.6h1.6v1.6h-1.6zM437.4 450.3h1.6v1.6h-1.6zM443.8 438.2h1.6v1.6h-1.6zM434.5 456.8h1.6v1.6h-1.6zM437.4 441.2h1.6v1.6h-1.6zM433.7 456.4h1.6v1.6h-1.6zM454.2 439.6h1.6v1.6h-1.6zM443.2 437.4h1.6v1.6h-1.6zM442.9 446.3h1.6v1.6h-1.6zM436.0 445.0h1.6v1.6h-1.6zM422.0 447.7h1.6v1.6h-1.6zM448.7 432.9h1.6v1.6h-1.6zM441.1 450.0h1.6v1.6h-1.6zM416.5 463.7h1.6v1.6h-1.6zM441.2 449.0h1.6v1.6h-1.6zM438.2 442.4h1.6v1.6h-1.6zM442.0 437.7h1.6v1.6h-1.6zM428.4 454.3h1.6v1.6h-1.6zM455.4 438.9h1.6v1.6h-1.6zM434.6 439.3h1.6v1.6h-1.6zM436.0 439.6h1.6v1.6h-1.6zM434.5 452.8h1.6v1.6h-1.6zM449.2 441.5h1.6v1.6h-1.6zM429.4 454.0h1.6v1.6h-1.6zM451.2 446.4h1.6v1.6h-1.6zM420.6 452.9h1.6v1.6h-1.6zM448.7 442.8h1.6v1.6h-1.6zM428.6 456.9h1.6v1.6h-1.6zM427.8 441.8h1.6v1.6h-1.6zM446.7 435.8h1.6v1.6h-1.6zM422.1 444.8h1.6v1.6h-1.6zM450.2 439.7h1.6v1.6h-1.6zM436.5 443.6h1.6v1.6h-1.6zM420.8 447.9h1.6v1.6h-1.6zM433.0 437.1h1.6v1.6h-1.6zM447.9 444.8h1.6v1.6h-1.6zM431.5 438.9h1.6v1.6h-1.6zM424.5 450.5h1.6v1.6h-1.6zM436.3 446.5h1.6v1.6h-1.6zM454.3 436.4h1.6v1.6h-1.6zM446.8 434.2h1.6v1.6h-1.6zM447.2 434.1h1.6v1.6h-1.6zM427.5 443.1h1.6v1.6h-1.6zM437.2 442.4h1.6v1.6h-1.6zM418.9 442.5h1.6v1.6h-1.6zM440.2 445.4h1.6v1.6h-1.6zM424.7 454.0h1.6v1.6h-1.6zM426.0 447.3h1.6v1.6h-1.6zM443.1 440.5h1.6v1.6h-1.6zM433.5 460.3h1.6v1.6h-1.6zM419.8 452.2h1.6v1.6h-1.6zM451.9 440.1h1.6v1.6h-1.6zM425.9 445.9h1.6v1.6h-1.6zM425.3 444.7h1.6v1.6h-1.6zM416.7 448.4h1.6v1.6h-1.6zM415.2 459.5h1.6v1.6h-1.6zM446.9 436.1h1.6v1.6h-1.6zM437.6 445.5h1.6v1.6h-1.6zM434.2 447.4h1.6v1.6h-1.6zM433.6 454.7h1.6v1.6h-1.6zM438.7 443.2h1.6v1.6h-1.6zM425.3 455.7h1.6v1.6h-1.6zM437.0 444.0h1.6v1.6h-1.6zM451.4 446.0h1.6v1.6h-1.6zM453.7 439.5h1.6v1.6h-1.6zM449.2 436.6h1.6v1.6h-1.6zM440.6 453.6h1.6v1.6h-1.6zM422.0 450.5h1.6v1.6h-1.6zM414.4 452.8h1.6v1.6h-1.6zM435.7 443.2h1.6v1.6h-1.6zM452.0 441.0h1.6v1.6h-1.6zM454.3 436.8h1.6v1.6h-1.6zM448.2 447.6h1.6v1.6h-1.6zM440.7 438.9h1.6v1.6h-1.6zM432.1 438.8h1.6v1.6h-1.6zM432.5 443.1h1.6v1.6h-1.6zM438.9 455.8h1.6v1.6h-1.6zM446.4 442.1h1.6v1.6h-1.6zM440.3 441.9h1.6v1.6h-1.6zM445.2 434.9h1.6v1.6h-1.6zM451.0 436.4h1.6v1.6h-1.6zM438.5 440.1h1.6v1.6h-1.6zM440.2 447.8h1.6v1.6h-1.6zM440.2 439.4h1.6v1.6h-1.6zM435.7 436.8h1.6v1.6h-1.6zM446.3 443.2h1.6v1.6h-1.6zM442.1 444.0h1.6v1.6h-1.6zM436.4 441.4h1.6v1.6h-1.6zM422.6 452.9h1.6v1.6h-1.6zM436.8 450.3h1.6v1.6h-1.6zM435.6 433.1h1.6v1.6h-1.6zM416.0 457.4h1.6v1.6h-1.6zM426.3 453.9h1.6v1.6h-1.6zM431.3 443.7h1.6v1.6h-1.6zM419.9 446.3h1.6v1.6h-1.6zM452.1 436.3h1.6v1.6h-1.6zM414.2 450.7h1.6v1.6h-1.6zM421.5 455.6h1.6v1.6h-1.6zM417.4 454.7h1.6v1.6h-1.6zM419.4 462.1h1.6v1.6h-1.6zM416.6 458.5h1.6v1.6h-1.6zM447.8 438.7h1.6v1.6h-1.6zM453.4 432.1h1.6v1.6h-1.6zM422.9 448.9h1.6v1.6h-1.6zM447.9 434.4h1.6v1.6h-1.6zM407.1 456.1h1.6v1.6h-1.6zM448.9 437.6h1.6v1.6h-1.6zM440.3 445.9h1.6v1.6h-1.6zM441.5 445.5h1.6v1.6h-1.6zM424.9 458.9h1.6v1.6h-1.6zM417.1 443.6h1.6v1.6h-1.6zM441.4 447.2h1.6v1.6h-1.6zM434.9 452.3h1.6v1.6h-1.6zM444.7 437.5h1.6v1.6h-1.6zM426.8 461.7h1.6v1.6h-1.6zM431.7 444.8h1.6v1.6h-1.6zM431.9 447.3h1.6v1.6h-1.6zM428.1 454.0h1.6v1.6h-1.6zM419.1 460.0h1.6v1.6h-1.6zM426.8 457.6h1.6v1.6h-1.6zM421.5 447.3h1.6v1.6h-1.6zM430.5 447.9h1.6v1.6h-1.6zM438.2 441.2h1.6v1.6h-1.6zM418.3 450.3h1.6v1.6h-1.6zM413.0 458.1h1.6v1.6h-1.6zM441.8 445.2h1.6v1.6h-1.6zM436.0 449.7h1.6v1.6h-1.6zM451.2 440.5h1.6v1.6h-1.6zM457.0 442.9h1.6v1.6h-1.6zM446.5 439.9h1.6v1.6h-1.6zM425.0 440.7h1.6v1.6h-1.6zM441.7 441.8h1.6v1.6h-1.6zM429.7 458.2h1.6v1.6h-1.6zM453.1 442.6h1.6v1.6h-1.6zM434.6 451.8h1.6v1.6h-1.6zM423.8 454.6h1.6v1.6h-1.6zM439.9 442.2h1.6v1.6h-1.6zM448.6 439.6h1.6v1.6h-1.6zM424.2 446.4h1.6v1.6h-1.6zM428.9 441.7h1.6v1.6h-1.6zM436.8 454.5h1.6v1.6h-1.6zM437.8 438.5h1.6v1.6h-1.6zM419.3 451.0h1.6v1.6h-1.6zM434.0 443.9h1.6v1.6h-1.6zM423.5 446.8h1.6v1.6h-1.6zM446.1 438.0h1.6v1.6h-1.6zM450.0 434.4h1.6v1.6h-1.6zM430.5 447.2h1.6v1.6h-1.6zM422.7 457.9h1.6v1.6h-1.6zM442.1 443.6h1.6v1.6h-1.6zM454.9 436.7h1.6v1.6h-1.6zM423.2 455.9h1.6v1.6h-1.6zM449.5 436.9h1.6v1.6h-1.6zM417.3 455.4h1.6v1.6h-1.6zM444.8 442.9h1.6v1.6h-1.6zM399.1 473.2h1.6v1.6h-1.6zM391.9 481.4h1.6v1.6h-1.6zM398.5 472.6h1.6v1.6h-1.6zM392.4 478.6h1.6v1.6h-1.6zM402.0 478.2h1.6v1.6h-1.6zM393.0 481.5h1.6v1.6h-1.6zM387.7 484.9h1.6v1.6h-1.6zM398.1 476.3h1.6v1.6h-1.6zM401.4 472.3h1.6v1.6h-1.6zM382.0 491.8h1.6v1.6h-1.6zM402.4 473.6h1.6v1.6h-1.6zM390.9 480.7h1.6v1.6h-1.6zM385.0 487.4h1.6v1.6h-1.6zM392.0 483.5h1.6v1.6h-1.6zM396.7 480.2h1.6v1.6h-1.6zM385.6 489.6h1.6v1.6h-1.6zM388.0 485.4h1.6v1.6h-1.6zM379.4 493.1h1.6v1.6h-1.6zM393.0 479.4h1.6v1.6h-1.6zM390.1 484.5h1.6v1.6h-1.6zM397.8 475.3h1.6v1.6h-1.6zM392.4 481.5h1.6v1.6h-1.6zM395.7 478.6h1.6v1.6h-1.6zM381.2 492.6h1.6v1.6h-1.6zM382.3 491.8h1.6v1.6h-1.6zM400.7 474.8h1.6v1.6h-1.6zM402.8 475.0h1.6v1.6h-1.6zM387.2 488.0h1.6v1.6h-1.6zM380.7 494.1h1.6v1.6h-1.6zM393.3 479.2h1.6v1.6h-1.6zM396.8 476.6h1.6v1.6h-1.6zM392.3 482.8h1.6v1.6h-1.6zM383.4 490.1h1.6v1.6h-1.6zM400.7 469.5h1.6v1.6h-1.6zM394.4 483.5h1.6v1.6h-1.6zM384.1 488.6h1.6v1.6h-1.6zM401.7 474.5h1.6v1.6h-1.6zM397.0 473.5h1.6v1.6h-1.6zM387.0 488.4h1.6v1.6h-1.6zM390.1 481.8h1.6v1.6h-1.6zM392.4 480.1h1.6v1.6h-1.6zM391.1 486.1h1.6v1.6h-1.6zM393.1 477.8h1.6v1.6h-1.6zM391.9 484.8h1.6v1.6h-1.6zM400.2 477.7h1.6v1.6h-1.6zM390.4 484.3h1.6v1.6h-1.6zM396.5 477.8h1.6v1.6h-1.6zM383.1 489.9h1.6v1.6h-1.6zM379.1 493.6h1.6v1.6h-1.6zM400.4 473.0h1.6v1.6h-1.6zM381.3 493.1h1.6v1.6h-1.6zM403.0 475.7h1.6v1.6h-1.6zM386.1 487.7h1.6v1.6h-1.6zM381.2 493.0h1.6v1.6h-1.6zM399.8 478.8h1.6v1.6h-1.6zM388.6 486.4h1.6v1.6h-1.6zM404.2 472.3h1.6v1.6h-1.6zM389.9 483.9h1.6v1.6h-1.6zM388.7 486.9h1.6v1.6h-1.6zM392.4 486.1h1.6v1.6h-1.6zM387.9 490.4h1.6v1.6h-1.6zM381.9 492.3h1.6v1.6h-1.6zM402.5 468.9h1.6v1.6h-1.6zM395.9 473.0h1.6v1.6h-1.6zM394.7 473.7h1.6v1.6h-1.6zM401.2 475.4h1.6v1.6h-1.6zM383.4 490.2h1.6v1.6h-1.6zM392.7 480.0h1.6v1.6h-1.6zM402.3 473.6h1.6v1.6h-1.6zM384.3 489.0h1.6v1.6h-1.6zM395.0 481.6h1.6v1.6h-1.6zM394.3 473.7h1.6v1.6h-1.6zM391.5 485.1h1.6v1.6h-1.6zM396.3 478.6h1.6v1.6h-1.6zM379.7 492.4h1.6v1.6h-1.6zM400.5 474.0h1.6v1.6h-1.6zM398.8 477.5h1.6v1.6h-1.6zM402.4 476.3h1.6v1.6h-1.6zM392.1 486.4h1.6v1.6h-1.6zM385.8 485.8h1.6v1.6h-1.6zM394.4 480.6h1.6v1.6h-1.6zM396.1 479.6h1.6v1.6h-1.6zM381.7 491.5h1.6v1.6h-1.6zM400.1 476.5h1.6v1.6h-1.6zM385.9 489.0h1.6v1.6h-1.6zM383.1 488.7h1.6v1.6h-1.6zM390.3 484.4h1.6v1.6h-1.6zM390.3 485.3h1.6v1.6h-1.6zM393.5 482.7h1.6v1.6h-1.6zM394.5 481.4h1.6v1.6h-1.6zM397.2 475.0h1.6v1.6h-1.6zM388.0 483.0h1.6v1.6h-1.6zM388.2 485.5h1.6v1.6h-1.6zM397.8 481.3h1.6v1.6h-1.6zM385.5 487.6h1.6v1.6h-1.6zM395.1 476.4h1.6v1.6h-1.6zM400.0 475.5h1.6v1.6h-1.6zM387.9 482.0h1.6v1.6h-1.6zM396.3 479.7h1.6v1.6h-1.6zM399.7 475.3h1.6v1.6h-1.6zM394.3 481.1h1.6v1.6h-1.6zM401.1 473.9h1.6v1.6h-1.6zM396.7 481.0h1.6v1.6h-1.6zM402.8 472.4h1.6v1.6h-1.6zM380.5 493.3h1.6v1.6h-1.6zM394.8 471.9h1.6v1.6h-1.6zM393.4 486.5h1.6v1.6h-1.6zM379.4 494.8h1.6v1.6h-1.6zM394.3 482.0h1.6v1.6h-1.6zM400.3 480.2h1.6v1.6h-1.6zM392.9 477.0h1.6v1.6h-1.6zM400.8 474.0h1.6v1.6h-1.6zM401.7 475.2h1.6v1.6h-1.6zM381.9 493.9h1.6v1.6h-1.6zM393.9 483.6h1.6v1.6h-1.6zM405.8 471.2h1.6v1.6h-1.6zM393.9 481.6h1.6v1.6h-1.6zM399.6 472.8h1.6v1.6h-1.6zM398.2 480.0h1.6v1.6h-1.6zM396.2 481.9h1.6v1.6h-1.6zM400.4 475.1h1.6v1.6h-1.6zM388.8 486.8h1.6v1.6h-1.6zM401.2 472.0h1.6v1.6h-1.6zM385.9 488.5h1.6v1.6h-1.6zM402.5 473.1h1.6v1.6h-1.6zM395.8 481.0h1.6v1.6h-1.6zM390.6 484.8h1.6v1.6h-1.6zM394.1 477.3h1.6v1.6h-1.6zM399.9 473.3h1.6v1.6h-1.6zM384.8 487.9h1.6v1.6h-1.6zM388.0 485.4h1.6v1.6h-1.6zM385.3 488.5h1.6v1.6h-1.6zM388.2 482.2h1.6v1.6h-1.6zM391.5 486.0h1.6v1.6h-1.6zM380.1 494.2h1.6v1.6h-1.6zM400.3 470.4h1.6v1.6h-1.6zM383.5 491.9h1.6v1.6h-1.6zM393.2 479.1h1.6v1.6h-1.6zM381.5 491.4h1.6v1.6h-1.6zM383.8 492.3h1.6v1.6h-1.6zM384.8 492.1h1.6v1.6h-1.6zM383.7 488.7h1.6v1.6h-1.6zM387.8 479.0h1.6v1.6h-1.6zM390.6 485.2h1.6v1.6h-1.6zM385.9 490.4h1.6v1.6h-1.6zM385.0 490.5h1.6v1.6h-1.6zM388.7 484.2h1.6v1.6h-1.6zM400.9 472.2h1.6v1.6h-1.6zM380.8 492.9h1.6v1.6h-1.6zM398.0 482.4h1.6v1.6h-1.6zM417.6 437.2h1.6v1.6h-1.6zM448.8 420.9h1.6v1.6h-1.6zM422.7 434.3h1.6v1.6h-1.6zM433.5 421.2h1.6v1.6h-1.6zM430.1 420.0h1.6v1.6h-1.6zM432.7 429.1h1.6v1.6h-1.6zM437.0 428.1h1.6v1.6h-1.6zM425.8 426.8h1.6v1.6h-1.6zM428.9 425.4h1.6v1.6h-1.6zM419.9 431.4h1.6v1.6h-1.6zM422.3 435.0h1.6v1.6h-1.6zM442.9 410.8h1.6v1.6h-1.6zM440.6 433.9h1.6v1.6h-1.6zM432.8 421.6h1.6v1.6h-1.6zM447.3 424.2h1.6v1.6h-1.6zM435.3 423.8h1.6v1.6h-1.6zM427.4 417.5h1.6v1.6h-1.6zM438.1 436.5h1.6v1.6h-1.6zM427.9 427.5h1.6v1.6h-1.6zM446.1 428.0h1.6v1.6h-1.6zM447.0 411.3h1.6v1.6h-1.6zM433.0 426.6h1.6v1.6h-1.6zM424.9 423.4h1.6v1.6h-1.6zM428.3 430.0h1.6v1.6h-1.6zM441.7 421.6h1.6v1.6h-1.6zM439.6 412.4h1.6v1.6h-1.6zM431.9 429.1h1.6v1.6h-1.6zM420.6 437.2h1.6v1.6h-1.6zM447.8 425.3h1.6v1.6h-1.6zM418.3 433.2h1.6v1.6h-1.6zM438.1 436.4h1.6v1.6h-1.6zM429.0 437.0h1.6v1.6h-1.6zM432.0 411.3h1.6v1.6h-1.6zM426.5 431.1h1.6v1.6h-1.6zM422.6 434.5h1.6v1.6h-1.6zM415.4 437.0h1.6v1.6h-1.6zM438.3 437.2h1.6v1.6h-1.6zM421.4 427.5h1.6v1.6h-1.6zM440.5 422.1h1.6v1.6h-1.6zM446.7 411.0h1.6v1.6h-1.6zM430.1 422.3h1.6v1.6h-1.6zM440.9 437.2h1.6v1.6h-1.6zM437.3 424.1h1.6v1.6h-1.6zM438.9 413.3h1.6v1.6h-1.6zM434.9 419.2h1.6v1.6h-1.6zM450.5 407.4h1.6v1.6h-1.6zM447.0 422.9h1.6v1.6h-1.6zM427.3 422.0h1.6v1.6h-1.6zM422.7 432.0h1.6v1.6h-1.6zM451.5 404.6h1.6v1.6h-1.6zM437.4 427.0h1.6v1.6h-1.6zM429.4 436.3h1.6v1.6h-1.6zM422.4 437.1h1.6v1.6h-1.6zM421.2 435.7h1.6v1.6h-1.6zM433.1 410.2h1.6v1.6h-1.6zM442.1 421.2h1.6v1.6h-1.6zM447.1 404.4h1.6v1.6h-1.6zM446.6 428.2h1.6v1.6h-1.6zM441.9 421.3h1.6v1.6h-1.6zM445.4 427.6h1.6v1.6h-1.6zM437.2 430.5h1.6v1.6h-1.6zM421.5 430.6h1.6v1.6h-1.6zM453.8 405.7h1.6v1.6h-1.6zM435.1 437.1h1.6v1.6h-1.6zM440.0 433.9h1.6v1.6h-1.6zM443.5 414.6h1.6v1.6h-1.6zM428.5 426.8h1.6v1.6h-1.6zM421.5 427.2h1.6v1.6h-1.6zM442.0 404.4h1.6v1.6h-1.6zM438.2 431.4h1.6v1.6h-1.6zM444.4 432.8h1.6v1.6h-1.6zM435.2 430.9h1.6v1.6h-1.6zM442.0 410.9h1.6v1.6h-1.6zM445.3 411.1h1.6v1.6h-1.6zM424.1 437.2h1.6v1.6h-1.6zM444.2 437.5h1.6v1.6h-1.6zM422.0 432.3h1.6v1.6h-1.6zM422.3 432.3h1.6v1.6h-1.6zM432.7 436.8h1.6v1.6h-1.6zM446.7 435.0h1.6v1.6h-1.6zM433.6 430.6h1.6v1.6h-1.6zM421.0 436.7h1.6v1.6h-1.6zM428.5 431.5h1.6v1.6h-1.6zM444.3 432.4h1.6v1.6h-1.6zM423.2 431.8h1.6v1.6h-1.6zM414.7 434.9h1.6v1.6h-1.6zM444.8 430.6h1.6v1.6h-1.6zM429.2 436.8h1.6v1.6h-1.6zM435.3 438.4h1.6v1.6h-1.6zM440.3 436.2h1.6v1.6h-1.6zM437.8 431.6h1.6v1.6h-1.6zM439.7 431.8h1.6v1.6h-1.6zM429.9 431.8h1.6v1.6h-1.6zM427.6 433.3h1.6v1.6h-1.6zM414.9 437.7h1.6v1.6h-1.6zM440.0 436.2h1.6v1.6h-1.6zM431.4 436.2h1.6v1.6h-1.6zM422.6 430.6h1.6v1.6h-1.6zM425.6 435.2h1.6v1.6h-1.6zM444.5 438.5h1.6v1.6h-1.6zM419.9 432.4h1.6v1.6h-1.6zM447.8 432.4h1.6v1.6h-1.6zM416.6 430.6h1.6v1.6h-1.6zM449.1 437.5h1.6v1.6h-1.6zM427.3 431.3h1.6v1.6h-1.6zM430.8 430.2h1.6v1.6h-1.6zM441.3 430.6h1.6v1.6h-1.6zM442.7 434.8h1.6v1.6h-1.6zM418.9 436.9h1.6v1.6h-1.6zM444.0 434.8h1.6v1.6h-1.6zM415.6 434.7h1.6v1.6h-1.6zM432.8 431.6h1.6v1.6h-1.6zM412.9 433.9h1.6v1.6h-1.6zM447.2 439.0h1.6v1.6h-1.6zM437.2 437.1h1.6v1.6h-1.6zM434.9 463.0h1.6v1.6h-1.6zM418.8 464.5h1.6v1.6h-1.6zM401.2 467.0h1.6v1.6h-1.6zM403.1 471.6h1.6v1.6h-1.6zM406.0 470.3h1.6v1.6h-1.6zM429.2 467.2h1.6v1.6h-1.6zM403.6 471.8h1.6v1.6h-1.6zM426.2 464.3h1.6v1.6h-1.6zM408.3 469.0h1.6v1.6h-1.6zM409.8 471.5h1.6v1.6h-1.6zM406.4 472.2h1.6v1.6h-1.6zM430.8 463.3h1.6v1.6h-1.6zM400.0 464.3h1.6v1.6h-1.6zM420.4 463.4h1.6v1.6h-1.6zM415.5 467.9h1.6v1.6h-1.6zM418.0 465.6h1.6v1.6h-1.6zM415.2 464.8h1.6v1.6h-1.6zM418.6 470.2h1.6v1.6h-1.6zM405.1 467.2h1.6v1.6h-1.6zM406.4 474.0h1.6v1.6h-1.6zM424.7 464.7h1.6v1.6h-1.6zM403.5 462.8h1.6v1.6h-1.6zM434.9 469.3h1.6v1.6h-1.6zM416.3 467.8h1.6v1.6h-1.6zM413.1 469.4h1.6v1.6h-1.6zM428.1 466.3h1.6v1.6h-1.6zM404.1 463.7h1.6v1.6h-1.6zM419.8 462.4h1.6v1.6h-1.6zM406.9 464.9h1.6v1.6h-1.6zM415.3 473.9h1.6v1.6h-1.6zM402.0 468.3h1.6v1.6h-1.6zM435.2 463.7h1.6v1.6h-1.6zM420.7 467.6h1.6v1.6h-1.6zM403.4 465.2h1.6v1.6h-1.6zM409.4 465.6h1.6v1.6h-1.6zM425.7 468.8h1.6v1.6h-1.6zM427.3 464.7h1.6v1.6h-1.6zM424.2 469.0h1.6v1.6h-1.6zM433.7 462.2h1.6v1.6h-1.6zM414.4 474.0h1.6v1.6h-1.6zM430.0 464.9h1.6v1.6h-1.6zM433.9 467.6h1.6v1.6h-1.6zM398.3 467.3h1.6v1.6h-1.6zM408.8 469.0h1.6v1.6h-1.6zM412.5 465.3h1.6v1.6h-1.6zM396.5 470.0h1.6v1.6h-1.6zM432.0 467.3h1.6v1.6h-1.6zM399.3 464.8h1.6v1.6h-1.6zM432.7 466.2h1.6v1.6h-1.6zM406.5 462.7h1.6v1.6h-1.6zM425.2 468.4h1.6v1.6h-1.6zM413.1 469.8h1.6v1.6h-1.6zM425.4 473.0h1.6v1.6h-1.6zM415.3 468.9h1.6v1.6h-1.6zM404.9 465.8h1.6v1.6h-1.6zM402.9 472.7h1.6v1.6h-1.6zM400.1 470.2h1.6v1.6h-1.6zM403.5 475.5h1.6v1.6h-1.6zM398.0 477.2h1.6v1.6h-1.6zM404.3 476.6h1.6v1.6h-1.6zM405.1 476.0h1.6v1.6h-1.6zM403.2 474.0h1.6v1.6h-1.6zM401.3 476.3h1.6v1.6h-1.6zM401.8 476.8h1.6v1.6h-1.6zM397.3 477.0h1.6v1.6h-1.6zM404.4 473.6h1.6v1.6h-1.6zM402.4 473.1h1.6v1.6h-1.6zM402.8 470.7h1.6v1.6h-1.6zM401.8 475.9h1.6v1.6h-1.6zM401.5 470.6h1.6v1.6h-1.6zM400.0 477.6h1.6v1.6h-1.6zM401.5 471.7h1.6v1.6h-1.6zM398.4 475.2h1.6v1.6h-1.6zM404.5 472.4h1.6v1.6h-1.6zM398.9 470.8h1.6v1.6h-1.6zM403.6 477.7h1.6v1.6h-1.6zM401.3 475.5h1.6v1.6h-1.6zM399.0 472.0h1.6v1.6h-1.6zM404.9 470.7h1.6v1.6h-1.6zM405.1 475.2h1.6v1.6h-1.6zM437.2 466.2h1.6v1.6h-1.6zM441.2 465.7h1.6v1.6h-1.6zM446.2 467.2h1.6v1.6h-1.6zM451.2 466.2h1.6v1.6h-1.6zM454.2 465.2h1.6v1.6h-1.6zM469.2 435.2h1.6v1.6h-1.6zM478.2 435.2h1.6v1.6h-1.6zM474.2 449.2h1.6v1.6h-1.6zM473.2 409.2h1.6v1.6h-1.6zM469.2 405.2h1.6v1.6h-1.6zM451.2 403.2h1.6v1.6h-1.6zM456.2 404.2h1.6v1.6h-1.6zM460.2 407.2h1.6v1.6h-1.6z" fill="#0000f0"/>
<path d="M408.5 454.9h1.6v1.6h-1.6zM401.9 453.4h1.6v1.6h-1.6zM393.0 462.1h1.6v1.6h-1.6zM412.6 448.6h1.6v1.6h-1.6zM410.1 454.6h1.6v1.6h-1.6zM393.9 471.5h1.6v1.6h-1.6zM417.3 449.3h1.6v1.6h-1.6zM404.0 458.6h1.6v1.6h-1.6zM412.5 447.2h1.6v1.6h-1.6zM393.0 464.9h1.6v1.6h-1.6zM409.6 452.2h1.6v1.6h-1.6zM401.7 456.9h1.6v1.6h-1.6zM396.9 464.8h1.6v1.6h-1.6zM410.9 450.4h1.6v1.6h-1.6zM399.1 457.8h1.6v1.6h-1.6zM398.5 460.4h1.6v1.6h-1.6zM406.1 452.7h1.6v1.6h-1.6zM397.2 464.2h1.6v1.6h-1.6zM391.1 469.7h1.6v1.6h-1.6zM397.8 461.9h1.6v1.6h-1.6zM411.9 452.5h1.6v1.6h-1.6zM397.6 468.3h1.6v1.6h-1.6zM415.4 450.6h1.6v1.6h-1.6zM396.1 465.5h1.6v1.6h-1.6zM409.0 454.9h1.6v1.6h-1.6zM417.3 447.6h1.6v1.6h-1.6zM400.9 452.7h1.6v1.6h-1.6zM407.1 453.6h1.6v1.6h-1.6zM391.4 471.7h1.6v1.6h-1.6zM415.9 447.9h1.6v1.6h-1.6zM412.4 451.1h1.6v1.6h-1.6zM412.2 448.5h1.6v1.6h-1.6zM408.7 452.6h1.6v1.6h-1.6zM396.0 460.6h1.6v1.6h-1.6zM417.0 446.9h1.6v1.6h-1.6zM415.6 453.1h1.6v1.6h-1.6zM418.0 449.1h1.6v1.6h-1.6zM393.3 463.5h1.6v1.6h-1.6zM402.1 452.3h1.6v1.6h-1.6zM405.6 452.7h1.6v1.6h-1.6zM415.6 444.5h1.6v1.6h-1.6zM397.0 459.9h1.6v1.6h-1.6zM411.5 448.9h1.6v1.6h-1.6zM415.7 449.8h1.6v1.6h-1.6zM411.8 448.5h1.6v1.6h-1.6zM414.9 447.7h1.6v1.6h-1.6zM398.7 465.1h1.6v1.6h-1.6zM399.6 465.2h1.6v1.6h-1.6zM411.0 451.8h1.6v1.6h-1.6zM392.1 467.1h1.6v1.6h-1.6zM408.8 448.6h1.6v1.6h-1.6zM402.1 454.1h1.6v1.6h-1.6zM412.9 449.7h1.6v1.6h-1.6zM393.0 462.5h1.6v1.6h-1.6zM413.3 449.7h1.6v1.6h-1.6zM411.4 452.4h1.6v1.6h-1.6zM398.0 460.9h1.6v1.6h-1.6zM401.7 451.2h1.6v1.6h-1.6zM407.5 454.5h1.6v1.6h-1.6zM398.2 462.3h1.6v1.6h-1.6zM412.9 449.4h1.6v1.6h-1.6zM401.9 453.6h1.6v1.6h-1.6zM393.5 471.2h1.6v1.6h-1.6zM391.5 468.5h1.6v1.6h-1.6zM411.5 451.0h1.6v1.6h-1.6zM408.4 448.6h1.6v1.6h-1.6zM407.7 454.3h1.6v1.6h-1.6zM391.5 472.6h1.6v1.6h-1.6zM417.6 448.1h1.6v1.6h-1.6zM399.9 452.0h1.6v1.6h-1.6zM402.5 450.0h1.6v1.6h-1.6zM413.5 450.7h1.6v1.6h-1.6zM410.2 449.1h1.6v1.6h-1.6zM394.4 467.5h1.6v1.6h-1.6zM410.8 448.1h1.6v1.6h-1.6zM408.7 457.2h1.6v1.6h-1.6zM416.7 446.7h1.6v1.6h-1.6zM413.7 445.5h1.6v1.6h-1.6zM397.3 458.7h1.6v1.6h-1.6zM397.0 463.4h1.6v1.6h-1.6zM395.8 469.2h1.6v1.6h-1.6zM394.8 465.7h1.6v1.6h-1.6zM410.8 450.3h1.6v1.6h-1.6zM408.3 459.2h1.6v1.6h-1.6zM413.4 445.8h1.6v1.6h-1.6zM405.3 454.8h1.6v1.6h-1.6zM409.0 447.0h1.6v1.6h-1.6zM405.7 455.9h1.6v1.6h-1.6zM405.8 458.1h1.6v1.6h-1.6zM391.8 468.6h1.6v1.6h-1.6zM412.5 450.4h1.6v1.6h-1.6zM417.5 447.2h1.6v1.6h-1.6zM401.9 462.0h1.6v1.6h-1.6zM399.7 463.7h1.6v1.6h-1.6zM407.7 451.3h1.6v1.6h-1.6zM416.7 451.0h1.6v1.6h-1.6zM396.7 465.4h1.6v1.6h-1.6zM395.7 467.1h1.6v1.6h-1.6zM415.4 446.2h1.6v1.6h-1.6zM396.4 466.9h1.6v1.6h-1.6zM400.9 453.0h1.6v1.6h-1.6zM411.6 447.7h1.6v1.6h-1.6zM409.1 447.9h1.6v1.6h-1.6zM409.5 448.9h1.6v1.6h-1.6zM395.7 459.9h1.6v1.6h-1.6zM413.8 445.6h1.6v1.6h-1.6zM401.1 452.0h1.6v1.6h-1.6zM416.9 449.7h1.6v1.6h-1.6zM401.3 458.1h1.6v1.6h-1.6zM415.1 448.0h1.6v1.6h-1.6zM411.6 446.4h1.6v1.6h-1.6zM402.1 461.4h1.6v1.6h-1.6zM401.9 453.1h1.6v1.6h-1.6zM394.2 463.5h1.6v1.6h-1.6zM394.1 471.2h1.6v1.6h-1.6zM409.2 450.2h1.6v1.6h-1.6zM391.6 471.6h1.6v1.6h-1.6zM408.2 453.7h1.6v1.6h-1.6zM394.1 463.6h1.6v1.6h-1.6zM412.3 448.9h1.6v1.6h-1.6zM403.2 449.9h1.6v1.6h-1.6zM398.9 459.1h1.6v1.6h-1.6zM392.6 473.1h1.6v1.6h-1.6zM400.1 460.4h1.6v1.6h-1.6zM392.5 470.2h1.6v1.6h-1.6zM392.5 469.5h1.6v1.6h-1.6zM413.0 448.3h1.6v1.6h-1.6zM392.4 464.9h1.6v1.6h-1.6zM402.0 458.5h1.6v1.6h-1.6zM395.2 462.9h1.6v1.6h-1.6zM397.6 462.7h1.6v1.6h-1.6zM411.5 447.9h1.6v1.6h-1.6zM405.9 454.7h1.6v1.6h-1.6zM402.7 456.1h1.6v1.6h-1.6zM416.8 449.4h1.6v1.6h-1.6zM411.3 453.5h1.6v1.6h-1.6zM408.0 452.3h1.6v1.6h-1.6zM392.6 472.3h1.6v1.6h-1.6zM404.3 452.3h1.6v1.6h-1.6zM398.7 457.7h1.6v1.6h-1.6zM413.3 444.5h1.6v1.6h-1.6zM395.0 470.1h1.6v1.6h-1.6zM416.2 447.0h1.6v1.6h-1.6zM396.7 467.9h1.6v1.6h-1.6zM412.8 447.0h1.6v1.6h-1.6zM412.6 447.7h1.6v1.6h-1.6zM403.6 454.1h1.6v1.6h-1.6zM407.8 457.8h1.6v1.6h-1.6zM412.3 453.7h1.6v1.6h-1.6zM406.3 453.2h1.6v1.6h-1.6zM401.0 453.0h1.6v1.6h-1.6zM417.8 449.7h1.6v1.6h-1.6zM400.7 453.9h1.6v1.6h-1.6zM393.0 464.6h1.6v1.6h-1.6zM398.8 465.9h1.6v1.6h-1.6zM404.0 452.4h1.6v1.6h-1.6zM402.0 453.6h1.6v1.6h-1.6zM390.4 472.8h1.6v1.6h-1.6zM395.4 468.4h1.6v1.6h-1.6zM408.0 448.7h1.6v1.6h-1.6zM410.5 452.3h1.6v1.6h-1.6zM390.3 470.0h1.6v1.6h-1.6zM406.5 455.9h1.6v1.6h-1.6zM400.5 456.4h1.6v1.6h-1.6zM411.6 455.6h1.6v1.6h-1.6zM402.7 457.7h1.6v1.6h-1.6zM394.4 467.3h1.6v1.6h-1.6zM397.9 458.3h1.6v1.6h-1.6zM399.7 455.2h1.6v1.6h-1.6zM403.5 451.3h1.6v1.6h-1.6zM398.8 465.5h1.6v1.6h-1.6zM413.8 451.8h1.6v1.6h-1.6zM406.6 452.4h1.6v1.6h-1.6zM407.0 449.1h1.6v1.6h-1.6zM413.5 450.6h1.6v1.6h-1.6zM396.7 466.5h1.6v1.6h-1.6zM399.8 459.1h1.6v1.6h-1.6zM402.7 456.1h1.6v1.6h-1.6zM413.6 451.1h1.6v1.6h-1.6zM408.5 454.5h1.6v1.6h-1.6zM399.1 457.9h1.6v1.6h-1.6zM397.3 466.4h1.6v1.6h-1.6zM400.2 457.8h1.6v1.6h-1.6zM390.0 471.8h1.6v1.6h-1.6zM406.7 454.7h1.6v1.6h-1.6zM392.1 471.8h1.6v1.6h-1.6zM394.5 461.1h1.6v1.6h-1.6zM411.0 448.0h1.6v1.6h-1.6zM400.8 453.3h1.6v1.6h-1.6zM398.6 458.6h1.6v1.6h-1.6zM395.1 473.3h1.6v1.6h-1.6zM393.6 459.7h1.6v1.6h-1.6zM395.7 469.5h1.6v1.6h-1.6zM402.5 452.2h1.6v1.6h-1.6zM392.9 464.0h1.6v1.6h-1.6zM395.2 470.6h1.6v1.6h-1.6zM410.7 449.8h1.6v1.6h-1.6zM406.2 448.4h1.6v1.6h-1.6zM405.3 452.8h1.6v1.6h-1.6zM396.1 460.4h1.6v1.6h-1.6zM403.4 450.9h1.6v1.6h-1.6zM395.3 470.9h1.6v1.6h-1.6zM397.0 460.1h1.6v1.6h-1.6zM402.6 452.0h1.6v1.6h-1.6zM411.8 452.8h1.6v1.6h-1.6zM409.2 453.6h1.6v1.6h-1.6zM414.6 447.4h1.6v1.6h-1.6zM399.1 453.5h1.6v1.6h-1.6zM408.5 448.8h1.6v1.6h-1.6zM393.0 473.0h1.6v1.6h-1.6zM395.7 459.3h1.6v1.6h-1.6zM406.6 454.5h1.6v1.6h-1.6zM400.2 454.7h1.6v1.6h-1.6zM396.3 462.6h1.6v1.6h-1.6zM409.7 449.9h1.6v1.6h-1.6zM406.2 447.2h1.6v1.6h-1.6zM404.8 450.6h1.6v1.6h-1.6zM412.5 448.6h1.6v1.6h-1.6zM395.4 465.3h1.6v1.6h-1.6zM398.3 459.6h1.6v1.6h-1.6zM416.8 446.6h1.6v1.6h-1.6zM415.6 447.5h1.6v1.6h-1.6zM410.9 454.5h1.6v1.6h-1.6zM402.5 457.0h1.6v1.6h-1.6zM396.0 465.0h1.6v1.6h-1.6zM399.3 463.5h1.6v1.6h-1.6zM412.0 452.1h1.6v1.6h-1.6zM408.4 447.5h1.6v1.6h-1.6zM397.3 463.1h1.6v1.6h-1.6zM400.1 457.5h1.6v1.6h-1.6zM392.8 471.3h1.6v1.6h-1.6zM409.6 450.8h1.6v1.6h-1.6zM418.7 446.5h1.6v1.6h-1.6zM396.0 467.7h1.6v1.6h-1.6zM417.4 448.4h1.6v1.6h-1.6zM411.6 452.0h1.6v1.6h-1.6zM418.3 445.9h1.6v1.6h-1.6zM394.2 469.0h1.6v1.6h-1.6zM407.0 456.8h1.6v1.6h-1.6zM402.8 460.3h1.6v1.6h-1.6zM406.9 450.3h1.6v1.6h-1.6zM415.5 447.4h1.6v1.6h-1.6zM397.1 461.0h1.6v1.6h-1.6zM416.0 446.8h1.6v1.6h-1.6zM412.2 446.3h1.6v1.6h-1.6zM415.6 448.3h1.6v1.6h-1.6zM395.9 466.4h1.6v1.6h-1.6zM393.4 467.1h1.6v1.6h-1.6zM401.1 458.2h1.6v1.6h-1.6zM404.9 449.9h1.6v1.6h-1.6zM396.1 456.8h1.6v1.6h-1.6zM394.8 462.6h1.6v1.6h-1.6zM398.7 468.4h1.6v1.6h-1.6zM401.9 457.5h1.6v1.6h-1.6zM398.6 457.4h1.6v1.6h-1.6zM414.1 448.0h1.6v1.6h-1.6zM394.1 467.2h1.6v1.6h-1.6zM404.9 459.8h1.6v1.6h-1.6zM415.6 445.9h1.6v1.6h-1.6zM396.0 464.5h1.6v1.6h-1.6zM409.1 452.1h1.6v1.6h-1.6zM393.2 460.6h1.6v1.6h-1.6zM393.3 463.9h1.6v1.6h-1.6zM404.0 459.7h1.6v1.6h-1.6zM399.7 459.2h1.6v1.6h-1.6zM415.3 443.8h1.6v1.6h-1.6zM407.5 449.4h1.6v1.6h-1.6zM415.8 451.3h1.6v1.6h-1.6zM398.4 457.6h1.6v1.6h-1.6zM405.0 458.3h1.6v1.6h-1.6zM405.5 454.8h1.6v1.6h-1.6zM405.3 454.8h1.6v1.6h-1.6zM409.2 450.3h1.6v1.6h-1.6zM402.1 454.3h1.6v1.6h-1.6zM395.2 463.9h1.6v1.6h-1.6zM397.6 463.4h1.6v1.6h-1.6zM399.9 458.5h1.6v1.6h-1.6zM396.4 469.5h1.6v1.6h-1.6zM393.9 462.1h1.6v1.6h-1.6zM392.9 472.0h1.6v1.6h-1.6zM402.6 459.6h1.6v1.6h-1.6zM413.4 449.6h1.6v1.6h-1.6zM402.8 460.7h1.6v1.6h-1.6zM411.1 447.7h1.6v1.6h-1.6zM399.3 464.6h1.6v1.6h-1.6zM402.3 451.9h1.6v1.6h-1.6zM405.0 457.0h1.6v1.6h-1.6zM396.4 460.1h1.6v1.6h-1.6zM410.6 446.4h1.6v1.6h-1.6zM409.7 451.4h1.6v1.6h-1.6zM399.0 460.3h1.6v1.6h-1.6zM409.0 453.3h1.6v1.6h-1.6zM414.3 447.5h1.6v1.6h-1.6zM402.5 457.6h1.6v1.6h-1.6zM398.4 464.1h1.6v1.6h-1.6zM398.9 464.5h1.6v1.6h-1.6zM416.6 444.7h1.6v1.6h-1.6zM405.1 452.7h1.6v1.6h-1.6zM393.8 460.2h1.6v1.6h-1.6zM398.2 467.7h1.6v1.6h-1.6zM406.9 453.5h1.6v1.6h-1.6zM406.4 449.3h1.6v1.6h-1.6zM410.5 449.0h1.6v1.6h-1.6zM401.4 459.6h1.6v1.6h-1.6zM417.0 447.8h1.6v1.6h-1.6zM404.4 459.4h1.6v1.6h-1.6zM417.2 447.0h1.6v1.6h-1.6zM412.8 451.7h1.6v1.6h-1.6zM407.0 454.6h1.6v1.6h-1.6zM409.9 453.8h1.6v1.6h-1.6zM396.5 466.4h1.6v1.6h-1.6zM401.1 463.6h1.6v1.6h-1.6zM399.7 461.4h1.6v1.6h-1.6zM402.8 460.4h1.6v1.6h-1.6zM406.8 451.5h1.6v1.6h-1.6zM404.1 453.8h1.6v1.6h-1.6zM413.1 447.7h1.6v1.6h-1.6zM410.7 449.3h1.6v1.6h-1.6zM402.7 457.7h1.6v1.6h-1.6zM394.9 459.7h1.6v1.6h-1.6zM409.0 451.9h1.6v1.6h-1.6zM413.5 444.9h1.6v1.6h-1.6zM414.5 448.2h1.6v1.6h-1.6zM403.3 458.9h1.6v1.6h-1.6zM396.9 464.7h1.6v1.6h-1.6zM409.8 448.5h1.6v1.6h-1.6zM400.3 456.7h1.6v1.6h-1.6zM405.6 456.2h1.6v1.6h-1.6zM410.5 453.9h1.6v1.6h-1.6zM399.0 464.2h1.6v1.6h-1.6zM411.0 450.2h1.6v1.6h-1.6zM409.2 457.6h1.6v1.6h-1.6zM396.8 467.4h1.6v1.6h-1.6zM411.1 454.2h1.6v1.6h-1.6zM402.5 453.5h1.6v1.6h-1.6zM395.8 460.9h1.6v1.6h-1.6zM392.7 463.6h1.6v1.6h-1.6zM389.7 468.7h1.6v1.6h-1.6zM415.3 449.7h1.6v1.6h-1.6zM400.0 458.2h1.6v1.6h-1.6zM399.1 463.2h1.6v1.6h-1.6zM393.0 468.9h1.6v1.6h-1.6zM397.6 454.7h1.6v1.6h-1.6zM399.1 458.6h1.6v1.6h-1.6zM411.6 447.6h1.6v1.6h-1.6zM404.8 453.4h1.6v1.6h-1.6zM392.7 460.3h1.6v1.6h-1.6zM406.4 451.6h1.6v1.6h-1.6zM412.8 447.6h1.6v1.6h-1.6zM399.5 463.6h1.6v1.6h-1.6zM400.3 460.1h1.6v1.6h-1.6zM394.9 466.6h1.6v1.6h-1.6zM411.0 450.4h1.6v1.6h-1.6zM401.5 455.2h1.6v1.6h-1.6zM406.5 455.3h1.6v1.6h-1.6zM399.6 461.0h1.6v1.6h-1.6zM409.7 456.8h1.6v1.6h-1.6zM407.3 458.0h1.6v1.6h-1.6zM392.4 467.8h1.6v1.6h-1.6zM397.4 457.2h1.6v1.6h-1.6zM406.4 457.2h1.6v1.6h-1.6zM399.5 451.5h1.6v1.6h-1.6zM413.8 448.9h1.6v1.6h-1.6zM392.2 466.6h1.6v1.6h-1.6zM402.7 460.9h1.6v1.6h-1.6zM400.2 457.5h1.6v1.6h-1.6zM412.1 445.1h1.6v1.6h-1.6zM394.1 468.6h1.6v1.6h-1.6zM416.2 452.5h1.6v1.6h-1.6zM405.7 448.9h1.6v1.6h-1.6zM400.3 465.3h1.6v1.6h-1.6zM413.0 447.6h1.6v1.6h-1.6zM409.3 451.8h1.6v1.6h-1.6zM399.7 460.9h1.6v1.6h-1.6zM404.3 452.3h1.6v1.6h-1.6zM407.0 447.9h1.6v1.6h-1.6zM393.3 468.5h1.6v1.6h-1.6zM411.9 446.1h1.6v1.6h-1.6zM392.8 473.2h1.6v1.6h-1.6zM415.9 451.6h1.6v1.6h-1.6zM407.8 452.4h1.6v1.6h-1.6zM398.3 454.9h1.6v1.6h-1.6zM393.4 459.8h1.6v1.6h-1.6zM412.9 444.2h1.6v1.6h-1.6zM398.0 464.1h1.6v1.6h-1.6zM394.8 467.5h1.6v1.6h-1.6zM391.6 470.4h1.6v1.6h-1.6zM391.1 468.9h1.6v1.6h-1.6zM413.2 447.3h1.6v1.6h-1.6zM397.9 455.8h1.6v1.6h-1.6zM406.8 455.3h1.6v1.6h-1.6zM403.7 456.8h1.6v1.6h-1.6zM410.5 449.7h1.6v1.6h-1.6zM403.5 460.2h1.6v1.6h-1.6zM395.0 465.2h1.6v1.6h-1.6zM405.1 453.7h1.6v1.6h-1.6zM408.5 454.4h1.6v1.6h-1.6zM415.7 445.4h1.6v1.6h-1.6zM410.5 448.8h1.6v1.6h-1.6zM409.5 446.3h1.6v1.6h-1.6zM402.4 457.1h1.6v1.6h-1.6zM410.7 448.7h1.6v1.6h-1.6zM399.7 462.0h1.6v1.6h-1.6zM397.3 466.9h1.6v1.6h-1.6zM404.1 456.7h1.6v1.6h-1.6zM415.6 446.5h1.6v1.6h-1.6zM406.6 450.7h1.6v1.6h-1.6zM401.1 460.1h1.6v1.6h-1.6zM394.2 462.7h1.6v1.6h-1.6zM411.7 449.8h1.6v1.6h-1.6zM417.3 449.3h1.6v1.6h-1.6zM405.8 447.5h1.6v1.6h-1.6zM416.9 445.8h1.6v1.6h-1.6zM404.6 457.1h1.6v1.6h-1.6zM411.8 449.2h1.6v1.6h-1.6zM404.5 454.1h1.6v1.6h-1.6zM402.1 459.8h1.6v1.6h-1.6zM392.2 472.5h1.6v1.6h-1.6zM402.9 455.3h1.6v1.6h-1.6zM391.1 463.1h1.6v1.6h-1.6zM404.3 455.4h1.6v1.6h-1.6zM413.8 451.4h1.6v1.6h-1.6zM415.4 447.2h1.6v1.6h-1.6zM405.1 453.0h1.6v1.6h-1.6zM392.2 470.0h1.6v1.6h-1.6zM401.9 456.0h1.6v1.6h-1.6zM391.5 472.6h1.6v1.6h-1.6zM413.8 446.9h1.6v1.6h-1.6zM398.2 452.4h1.6v1.6h-1.6zM406.6 453.7h1.6v1.6h-1.6zM416.8 448.5h1.6v1.6h-1.6zM397.5 465.6h1.6v1.6h-1.6zM408.7 452.6h1.6v1.6h-1.6zM393.1 462.7h1.6v1.6h-1.6zM417.0 446.6h1.6v1.6h-1.6zM401.4 456.4h1.6v1.6h-1.6zM399.6 455.9h1.6v1.6h-1.6zM412.6 447.8h1.6v1.6h-1.6zM405.9 456.9h1.6v1.6h-1.6zM395.1 462.7h1.6v1.6h-1.6zM411.4 447.8h1.6v1.6h-1.6zM392.1 465.9h1.6v1.6h-1.6zM391.4 469.0h1.6v1.6h-1.6zM415.9 446.4h1.6v1.6h-1.6zM400.0 450.6h1.6v1.6h-1.6zM398.5 457.0h1.6v1.6h-1.6zM413.9 451.1h1.6v1.6h-1.6zM398.6 456.7h1.6v1.6h-1.6zM396.2 458.5h1.6v1.6h-1.6zM401.2 456.4h1.6v1.6h-1.6zM393.6 465.2h1.6v1.6h-1.6zM412.2 444.0h1.6v1.6h-1.6zM396.2 460.8h1.6v1.6h-1.6zM397.1 459.9h1.6v1.6h-1.6zM397.0 463.1h1.6v1.6h-1.6zM414.2 451.9h1.6v1.6h-1.6zM394.4 466.7h1.6v1.6h-1.6zM397.5 466.6h1.6v1.6h-1.6zM413.2 448.3h1.6v1.6h-1.6zM410.8 449.0h1.6v1.6h-1.6zM405.4 454.5h1.6v1.6h-1.6zM395.8 461.3h1.6v1.6h-1.6zM414.5 446.0h1.6v1.6h-1.6zM408.8 445.8h1.6v1.6h-1.6zM397.0 458.1h1.6v1.6h-1.6zM400.9 457.5h1.6v1.6h-1.6zM412.7 444.4h1.6v1.6h-1.6zM407.7 453.5h1.6v1.6h-1.6zM406.5 456.3h1.6v1.6h-1.6zM399.2 461.4h1.6v1.6h-1.6zM395.0 464.3h1.6v1.6h-1.6zM396.4 469.9h1.6v1.6h-1.6zM410.0 457.7h1.6v1.6h-1.6zM406.3 459.1h1.6v1.6h-1.6zM396.5 460.0h1.6v1.6h-1.6zM405.6 452.9h1.6v1.6h-1.6zM398.8 464.4h1.6v1.6h-1.6zM392.8 467.8h1.6v1.6h-1.6zM401.2 458.5h1.6v1.6h-1.6zM401.3 463.4h1.6v1.6h-1.6zM399.3 463.7h1.6v1.6h-1.6zM392.0 470.4h1.6v1.6h-1.6zM407.5 452.9h1.6v1.6h-1.6zM391.6 466.2h1.6v1.6h-1.6zM416.9 446.9h1.6v1.6h-1.6zM405.6 453.8h1.6v1.6h-1.6zM404.1 455.3h1.6v1.6h-1.6zM398.1 457.4h1.6v1.6h-1.6zM390.4 466.5h1.6v1.6h-1.6zM413.6 447.4h1.6v1.6h-1.6zM415.2 450.6h1.6v1.6h-1.6zM401.6 457.8h1.6v1.6h-1.6zM410.9 450.2h1.6v1.6h-1.6zM407.7 454.8h1.6v1.6h-1.6zM402.8 450.1h1.6v1.6h-1.6zM414.7 448.3h1.6v1.6h-1.6zM416.1 447.8h1.6v1.6h-1.6zM410.6 449.5h1.6v1.6h-1.6zM414.3 445.8h1.6v1.6h-1.6zM396.5 464.9h1.6v1.6h-1.6zM417.3 448.5h1.6v1.6h-1.6zM402.5 454.2h1.6v1.6h-1.6zM414.3 450.0h1.6v1.6h-1.6zM392.8 464.1h1.6v1.6h-1.6zM412.8 450.0h1.6v1.6h-1.6zM396.9 463.9h1.6v1.6h-1.6zM407.6 453.8h1.6v1.6h-1.6zM409.5 451.4h1.6v1.6h-1.6zM404.6 454.0h1.6v1.6h-1.6zM411.4 448.9h1.6v1.6h-1.6zM413.8 449.5h1.6v1.6h-1.6zM392.7 469.5h1.6v1.6h-1.6zM401.6 463.9h1.6v1.6h-1.6zM406.7 456.1h1.6v1.6h-1.6zM399.9 459.4h1.6v1.6h-1.6zM405.9 451.8h1.6v1.6h-1.6zM403.2 455.5h1.6v1.6h-1.6zM397.3 459.6h1.6v1.6h-1.6zM405.0 457.8h1.6v1.6h-1.6zM402.2 456.7h1.6v1.6h-1.6zM401.3 455.5h1.6v1.6h-1.6zM401.9 459.7h1.6v1.6h-1.6zM402.9 455.2h1.6v1.6h-1.6zM413.2 447.5h1.6v1.6h-1.6zM401.8 459.4h1.6v1.6h-1.6zM393.0 462.7h1.6v1.6h-1.6zM398.7 460.3h1.6v1.6h-1.6zM408.5 449.2h1.6v1.6h-1.6zM400.9 459.5h1.6v1.6h-1.6zM414.5 451.2h1.6v1.6h-1.6zM393.0 472.8h1.6v1.6h-1.6zM397.4 461.4h1.6v1.6h-1.6zM406.4 451.1h1.6v1.6h-1.6zM402.1 456.5h1.6v1.6h-1.6zM392.4 468.7h1.6v1.6h-1.6zM409.7 449.3h1.6v1.6h-1.6zM410.1 445.5h1.6v1.6h-1.6zM397.6 462.8h1.6v1.6h-1.6zM405.4 448.5h1.6v1.6h-1.6zM396.9 462.4h1.6v1.6h-1.6zM403.0 454.6h1.6v1.6h-1.6zM415.1 446.1h1.6v1.6h-1.6zM395.7 461.9h1.6v1.6h-1.6zM415.0 444.5h1.6v1.6h-1.6zM402.3 454.6h1.6v1.6h-1.6zM397.1 470.5h1.6v1.6h-1.6zM398.9 461.0h1.6v1.6h-1.6zM401.9 456.7h1.6v1.6h-1.6zM414.1 444.9h1.6v1.6h-1.6zM401.8 464.9h1.6v1.6h-1.6zM396.1 455.7h1.6v1.6h-1.6zM411.0 449.3h1.6v1.6h-1.6zM396.3 471.3h1.6v1.6h-1.6zM398.2 465.0h1.6v1.6h-1.6zM405.3 450.7h1.6v1.6h-1.6zM400.4 453.1h1.6v1.6h-1.6zM398.2 455.4h1.6v1.6h-1.6zM405.6 455.3h1.6v1.6h-1.6zM409.6 452.1h1.6v1.6h-1.6zM392.0 469.5h1.6v1.6h-1.6zM397.7 440.4h1.6v1.6h-1.6zM394.2 446.5h1.6v1.6h-1.6zM402.2 442.2h1.6v1.6h-1.6zM405.2 440.2h1.6v1.6h-1.6zM399.2 444.2h1.6v1.6h-1.6zM389.2 478.2h1.6v1.6h-1.6zM387.2 475.2h1.6v1.6h-1.6zM435.2 466.2h1.6v1.6h-1.6zM440.2 466.2h1.6v1.6h-1.6zM445.2 467.2h1.6v1.6h-1.6zM448.2 465.2h1.6v1.6h-1.6z" fill="#a83030"/>
<path d="M404.0 461.1h1.6v1.6h-1.6zM410.6 453.6h1.6v1.6h-1.6zM403.9 460.3h1.6v1.6h-1.6zM394.4 471.5h1.6v1.6h-1.6zM393.4 472.1h1.6v1.6h-1.6zM396.6 467.9h1.6v1.6h-1.6zM399.5 469.7h1.6v1.6h-1.6zM396.2 469.0h1.6v1.6h-1.6zM411.8 456.7h1.6v1.6h-1.6zM407.8 455.4h1.6v1.6h-1.6zM408.1 455.0h1.6v1.6h-1.6zM389.5 472.4h1.6v1.6h-1.6zM399.1 469.3h1.6v1.6h-1.6zM391.3 471.8h1.6v1.6h-1.6zM409.4 454.8h1.6v1.6h-1.6zM404.2 454.9h1.6v1.6h-1.6zM400.0 462.2h1.6v1.6h-1.6zM409.2 458.0h1.6v1.6h-1.6zM411.4 455.9h1.6v1.6h-1.6zM396.8 465.9h1.6v1.6h-1.6zM409.3 459.5h1.6v1.6h-1.6zM393.0 470.1h1.6v1.6h-1.6zM408.8 457.5h1.6v1.6h-1.6zM406.5 455.8h1.6v1.6h-1.6zM397.9 463.7h1.6v1.6h-1.6zM396.2 468.5h1.6v1.6h-1.6zM406.2 456.2h1.6v1.6h-1.6zM400.5 465.1h1.6v1.6h-1.6zM393.0 471.3h1.6v1.6h-1.6zM395.2 467.3h1.6v1.6h-1.6zM402.6 466.2h1.6v1.6h-1.6zM394.2 468.8h1.6v1.6h-1.6zM406.1 456.4h1.6v1.6h-1.6zM396.7 461.4h1.6v1.6h-1.6zM408.5 455.4h1.6v1.6h-1.6zM407.9 458.9h1.6v1.6h-1.6zM405.2 459.7h1.6v1.6h-1.6zM402.8 461.1h1.6v1.6h-1.6zM411.5 453.9h1.6v1.6h-1.6zM394.7 472.6h1.6v1.6h-1.6zM398.8 462.7h1.6v1.6h-1.6zM392.7 468.2h1.6v1.6h-1.6zM396.8 471.3h1.6v1.6h-1.6zM397.7 465.1h1.6v1.6h-1.6zM406.2 453.3h1.6v1.6h-1.6zM413.0 439.8h1.6v1.6h-1.6zM406.6 443.4h1.6v1.6h-1.6zM410.8 449.0h1.6v1.6h-1.6zM391.9 449.0h1.6v1.6h-1.6zM412.2 447.0h1.6v1.6h-1.6zM406.5 448.8h1.6v1.6h-1.6zM402.5 445.3h1.6v1.6h-1.6zM391.7 444.3h1.6v1.6h-1.6zM402.3 441.3h1.6v1.6h-1.6zM398.2 444.5h1.6v1.6h-1.6z" fill="#0000f0"/>
</svg>
</body></html>
